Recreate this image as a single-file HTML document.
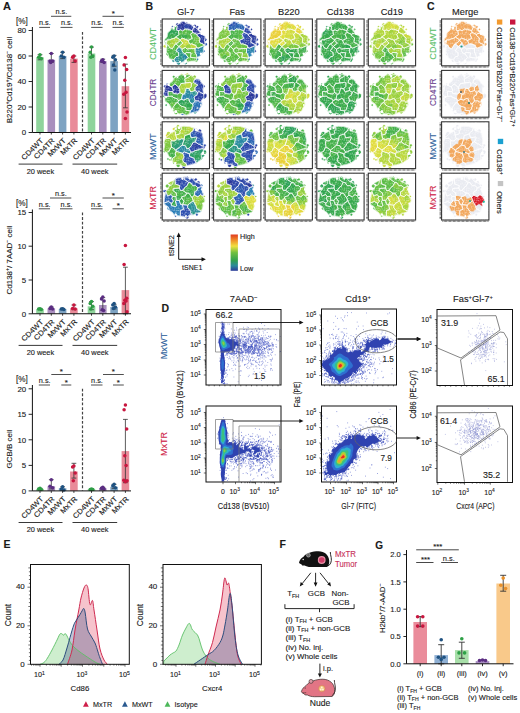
<!DOCTYPE html>
<html><head><meta charset="utf-8"><style>
html,body{margin:0;padding:0;background:#fff;width:520px;height:713px;overflow:hidden}
svg{display:block;font-family:"Liberation Sans",sans-serif;fill:#1a1a1a}
text{stroke-width:0.12px}
</style></head><body>
<svg width="520" height="713" viewBox="0 0 520 713">
<text x="2.9" y="9.7" font-size="11" font-weight="bold" stroke="#1a1a1a">A</text>
<rect x="36.2" y="57.3" width="7.6" height="75.2" fill="#8fd49c"/>
<rect x="47.5" y="59.8" width="7.6" height="72.7" fill="#a98fbe"/>
<rect x="58.8" y="56.0" width="7.6" height="76.5" fill="#7ea3c2"/>
<rect x="70.1" y="58.6" width="7.6" height="73.9" fill="#e98b99"/>
<rect x="87.7" y="53.5" width="7.6" height="79.0" fill="#8fd49c"/>
<rect x="99.0" y="61.1" width="7.6" height="71.4" fill="#a98fbe"/>
<rect x="110.3" y="61.1" width="7.6" height="71.4" fill="#7ea3c2"/>
<rect x="121.6" y="86.2" width="7.6" height="46.3" fill="#e98b99"/>
<path d="M40.0 59.8V54.7M37.6 54.7h4.8M37.6 59.8h4.8" stroke="#333" stroke-width="0.8" fill="none"/>
<circle cx="40.0" cy="54.7" r="1.75" fill="#2e9e46"/>
<circle cx="38.7" cy="57.3" r="1.75" fill="#2e9e46"/>
<circle cx="41.3" cy="58.6" r="1.75" fill="#2e9e46"/>
<path d="M51.3 62.4V53.5M48.9 53.5h4.8M48.9 62.4h4.8" stroke="#333" stroke-width="0.8" fill="none"/>
<circle cx="51.3" cy="53.5" r="1.75" fill="#5b2d82"/>
<circle cx="50.0" cy="61.1" r="1.75" fill="#5b2d82"/>
<circle cx="52.6" cy="61.1" r="1.75" fill="#5b2d82"/>
<circle cx="50.7" cy="62.4" r="1.75" fill="#5b2d82"/>
<path d="M62.6 58.6V52.2M60.2 52.2h4.8M60.2 58.6h4.8" stroke="#333" stroke-width="0.8" fill="none"/>
<circle cx="62.6" cy="52.2" r="1.75" fill="#1f5281"/>
<circle cx="61.3" cy="56.0" r="1.75" fill="#1f5281"/>
<circle cx="63.9" cy="57.3" r="1.75" fill="#1f5281"/>
<path d="M73.9 62.4V56.0M71.5 56.0h4.8M71.5 62.4h4.8" stroke="#333" stroke-width="0.8" fill="none"/>
<circle cx="73.9" cy="56.0" r="1.75" fill="#c8163f"/>
<circle cx="72.6" cy="57.3" r="1.75" fill="#c8163f"/>
<circle cx="75.2" cy="61.1" r="1.75" fill="#c8163f"/>
<path d="M91.5 57.3V47.1M89.1 47.1h4.8M89.1 57.3h4.8" stroke="#333" stroke-width="0.8" fill="none"/>
<circle cx="91.5" cy="47.1" r="1.75" fill="#2e9e46"/>
<circle cx="90.2" cy="52.2" r="1.75" fill="#2e9e46"/>
<circle cx="92.8" cy="56.0" r="1.75" fill="#2e9e46"/>
<circle cx="90.9" cy="57.3" r="1.75" fill="#2e9e46"/>
<path d="M102.8 62.4V59.2M100.4 59.2h4.8M100.4 62.4h4.8" stroke="#333" stroke-width="0.8" fill="none"/>
<circle cx="102.8" cy="59.8" r="1.75" fill="#5b2d82"/>
<circle cx="101.5" cy="61.1" r="1.75" fill="#5b2d82"/>
<circle cx="104.1" cy="62.4" r="1.75" fill="#5b2d82"/>
<circle cx="102.2" cy="61.1" r="1.75" fill="#5b2d82"/>
<path d="M114.1 66.2V55.4M111.7 55.4h4.8M111.7 66.2h4.8" stroke="#333" stroke-width="0.8" fill="none"/>
<circle cx="114.1" cy="56.0" r="1.75" fill="#1f5281"/>
<circle cx="112.8" cy="57.3" r="1.75" fill="#1f5281"/>
<circle cx="115.4" cy="59.8" r="1.75" fill="#1f5281"/>
<circle cx="113.5" cy="64.9" r="1.75" fill="#1f5281"/>
<circle cx="114.8" cy="70.0" r="1.75" fill="#1f5281"/>
<path d="M125.4 107.8V64.2M123.0 64.2h4.8M123.0 107.8h4.8" stroke="#333" stroke-width="0.8" fill="none"/>
<circle cx="125.4" cy="57.4" r="1.75" fill="#c8163f"/>
<circle cx="124.1" cy="64.9" r="1.75" fill="#c8163f"/>
<circle cx="126.7" cy="69.5" r="1.75" fill="#c8163f"/>
<circle cx="124.8" cy="80.2" r="1.75" fill="#c8163f"/>
<circle cx="126.1" cy="92.2" r="1.75" fill="#c8163f"/>
<circle cx="123.8" cy="94.2" r="1.75" fill="#c8163f"/>
<circle cx="127.0" cy="112.1" r="1.75" fill="#c8163f"/>
<circle cx="125.4" cy="118.5" r="1.75" fill="#c8163f"/>
<path d="M32.4 27V132.5H131" stroke="#111" stroke-width="1" fill="none"/>
<path d="M28.6 132.5h3.8" stroke="#111" stroke-width="0.9"/>
<text x="26.2" y="135.3" font-size="7.9" text-anchor="end" stroke="#1a1a1a">0</text>
<path d="M28.6 107.0h3.8" stroke="#111" stroke-width="0.9"/>
<text x="26.2" y="109.8" font-size="7.9" text-anchor="end" stroke="#1a1a1a">20</text>
<path d="M28.6 81.5h3.8" stroke="#111" stroke-width="0.9"/>
<text x="26.2" y="84.3" font-size="7.9" text-anchor="end" stroke="#1a1a1a">40</text>
<path d="M28.6 56.0h3.8" stroke="#111" stroke-width="0.9"/>
<text x="26.2" y="58.8" font-size="7.9" text-anchor="end" stroke="#1a1a1a">60</text>
<path d="M28.6 30.5h3.8" stroke="#111" stroke-width="0.9"/>
<text x="26.2" y="33.3" font-size="7.9" text-anchor="end" stroke="#1a1a1a">80</text>
<path d="M40 132.5v2" stroke="#111" stroke-width="0.8"/>
<path d="M51.3 132.5v2" stroke="#111" stroke-width="0.8"/>
<path d="M62.6 132.5v2" stroke="#111" stroke-width="0.8"/>
<path d="M73.9 132.5v2" stroke="#111" stroke-width="0.8"/>
<path d="M91.5 132.5v2" stroke="#111" stroke-width="0.8"/>
<path d="M102.8 132.5v2" stroke="#111" stroke-width="0.8"/>
<path d="M114.1 132.5v2" stroke="#111" stroke-width="0.8"/>
<path d="M125.4 132.5v2" stroke="#111" stroke-width="0.8"/>
<path d="M82.5 32V132.5" stroke="#444" stroke-width="1.2" stroke-dasharray="2.8 1.8"/>
<text x="15.9" y="24.1" font-size="8.2" stroke="#1a1a1a">[%]</text>
<text transform="translate(43.8 141.1) rotate(-45)" font-size="7.4" text-anchor="end" textLength="27.5" lengthAdjust="spacingAndGlyphs" stroke="#1a1a1a">CD4WT</text>
<text transform="translate(55.1 141.1) rotate(-45)" font-size="7.4" text-anchor="end" textLength="26" lengthAdjust="spacingAndGlyphs" stroke="#1a1a1a">CD4TR</text>
<text transform="translate(66.4 141.1) rotate(-45)" font-size="7.4" text-anchor="end" textLength="22.5" lengthAdjust="spacingAndGlyphs" stroke="#1a1a1a">MxWT</text>
<text transform="translate(77.7 141.1) rotate(-45)" font-size="7.4" text-anchor="end" textLength="20.5" lengthAdjust="spacingAndGlyphs" stroke="#1a1a1a">MxTR</text>
<text transform="translate(95.3 141.1) rotate(-45)" font-size="7.4" text-anchor="end" textLength="27.5" lengthAdjust="spacingAndGlyphs" stroke="#1a1a1a">CD4WT</text>
<text transform="translate(106.6 141.1) rotate(-45)" font-size="7.4" text-anchor="end" textLength="26" lengthAdjust="spacingAndGlyphs" stroke="#1a1a1a">CD4TR</text>
<text transform="translate(117.9 141.1) rotate(-45)" font-size="7.4" text-anchor="end" textLength="22.5" lengthAdjust="spacingAndGlyphs" stroke="#1a1a1a">MxWT</text>
<text transform="translate(129.2 141.1) rotate(-45)" font-size="7.4" text-anchor="end" textLength="20.5" lengthAdjust="spacingAndGlyphs" stroke="#1a1a1a">MxTR</text>
<path d="M18.6 164.1H62.5M72.5 164.1H117.2" stroke="#222" stroke-width="0.9"/>
<text x="40.4" y="173.6" font-size="7.4" text-anchor="middle" stroke="#1a1a1a">20 week</text>
<text x="94.8" y="173.6" font-size="7.4" text-anchor="middle" stroke="#1a1a1a">40 week</text>
<path d="M51 16.3H71.3" stroke="#222" stroke-width="0.8"/>
<text x="61.4" y="14.1" font-size="7.3" text-anchor="middle" stroke="#1a1a1a">n.s.</text>
<path d="M39.2 27.4H50" stroke="#222" stroke-width="0.8"/>
<text x="44.9" y="25.2" font-size="7.3" text-anchor="middle" stroke="#1a1a1a">n.s.</text>
<path d="M60.5 27.4H72.5" stroke="#222" stroke-width="0.8"/>
<text x="66.8" y="25.2" font-size="7.3" text-anchor="middle" stroke="#1a1a1a">n.s.</text>
<path d="M102.5 16.3H123.8" stroke="#222" stroke-width="0.8"/>
<text x="113.2" y="15.9" font-size="8" text-anchor="middle" stroke="#1a1a1a">*</text>
<path d="M91.2 27.4H102.5" stroke="#222" stroke-width="0.8"/>
<text x="97.1" y="25.2" font-size="7.3" text-anchor="middle" stroke="#1a1a1a">n.s.</text>
<path d="M112.5 27.4H123.8" stroke="#222" stroke-width="0.8"/>
<text x="118.5" y="25.2" font-size="7.3" text-anchor="middle" stroke="#1a1a1a">n.s.</text>
<text transform="translate(11.6 80) rotate(-90)" font-size="8" text-anchor="middle" stroke="#1a1a1a">B220<tspan dy="-2.4" font-size="5">+</tspan><tspan dy="2.4">Cd19</tspan><tspan dy="-2.4" font-size="5">+</tspan><tspan dy="2.4">/Cd138</tspan><tspan dy="-2.4" font-size="5">−</tspan><tspan dy="2.4"> cell</tspan></text>
<rect x="36.2" y="309.0" width="7.6" height="4.7" fill="#8fd49c"/>
<rect x="47.5" y="308.4" width="7.6" height="5.4" fill="#a98fbe"/>
<rect x="58.8" y="309.0" width="7.6" height="4.7" fill="#7ea3c2"/>
<rect x="70.1" y="308.4" width="7.6" height="5.4" fill="#e98b99"/>
<rect x="87.7" y="306.3" width="7.6" height="7.4" fill="#8fd49c"/>
<rect x="99.0" y="305.0" width="7.6" height="8.8" fill="#a98fbe"/>
<rect x="110.3" y="307.0" width="7.6" height="6.8" fill="#7ea3c2"/>
<rect x="121.6" y="290.1" width="7.6" height="23.6" fill="#e98b99"/>
<path d="M40.0 309.7V308.4M37.6 308.4h4.8M37.6 309.7h4.8" stroke="#333" stroke-width="0.8" fill="none"/>
<circle cx="40.0" cy="308.7" r="1.75" fill="#2e9e46"/>
<circle cx="38.7" cy="309.0" r="1.75" fill="#2e9e46"/>
<circle cx="41.3" cy="309.4" r="1.75" fill="#2e9e46"/>
<path d="M51.3 309.0V307.0M48.9 307.0h4.8M48.9 309.0h4.8" stroke="#333" stroke-width="0.8" fill="none"/>
<circle cx="51.3" cy="307.0" r="1.75" fill="#5b2d82"/>
<circle cx="50.0" cy="308.4" r="1.75" fill="#5b2d82"/>
<circle cx="52.6" cy="309.0" r="1.75" fill="#5b2d82"/>
<path d="M62.6 309.7V308.4M60.2 308.4h4.8M60.2 309.7h4.8" stroke="#333" stroke-width="0.8" fill="none"/>
<circle cx="62.6" cy="308.7" r="1.75" fill="#1f5281"/>
<circle cx="61.3" cy="309.0" r="1.75" fill="#1f5281"/>
<circle cx="63.9" cy="309.4" r="1.75" fill="#1f5281"/>
<path d="M73.9 309.7V305.0M71.5 305.0h4.8M71.5 309.7h4.8" stroke="#333" stroke-width="0.8" fill="none"/>
<circle cx="73.9" cy="305.0" r="1.75" fill="#c8163f"/>
<circle cx="72.6" cy="308.4" r="1.75" fill="#c8163f"/>
<circle cx="75.2" cy="309.0" r="1.75" fill="#c8163f"/>
<path d="M91.5 309.7V301.6M89.1 301.6h4.8M89.1 309.7h4.8" stroke="#333" stroke-width="0.8" fill="none"/>
<circle cx="91.5" cy="301.6" r="1.75" fill="#2e9e46"/>
<circle cx="90.2" cy="303.6" r="1.75" fill="#2e9e46"/>
<circle cx="92.8" cy="306.3" r="1.75" fill="#2e9e46"/>
<circle cx="90.9" cy="309.0" r="1.75" fill="#2e9e46"/>
<path d="M102.8 310.4V297.6M100.4 297.6h4.8M100.4 310.4h4.8" stroke="#333" stroke-width="0.8" fill="none"/>
<circle cx="102.8" cy="296.9" r="1.75" fill="#5b2d82"/>
<circle cx="101.5" cy="298.9" r="1.75" fill="#5b2d82"/>
<circle cx="104.1" cy="300.9" r="1.75" fill="#5b2d82"/>
<circle cx="102.2" cy="309.7" r="1.75" fill="#5b2d82"/>
<circle cx="103.5" cy="310.4" r="1.75" fill="#5b2d82"/>
<path d="M114.1 309.0V304.3M111.7 304.3h4.8M111.7 309.0h4.8" stroke="#333" stroke-width="0.8" fill="none"/>
<circle cx="114.1" cy="303.6" r="1.75" fill="#1f5281"/>
<circle cx="112.8" cy="305.0" r="1.75" fill="#1f5281"/>
<circle cx="115.4" cy="307.0" r="1.75" fill="#1f5281"/>
<circle cx="113.5" cy="308.4" r="1.75" fill="#1f5281"/>
<path d="M125.4 313.8V267.2M123.0 267.2h4.8M123.0 313.8h4.8" stroke="#333" stroke-width="0.8" fill="none"/>
<circle cx="125.4" cy="245.6" r="1.75" fill="#c8163f"/>
<circle cx="124.1" cy="264.5" r="1.75" fill="#c8163f"/>
<circle cx="126.7" cy="298.2" r="1.75" fill="#c8163f"/>
<circle cx="124.8" cy="300.2" r="1.75" fill="#c8163f"/>
<circle cx="126.1" cy="300.9" r="1.75" fill="#c8163f"/>
<circle cx="123.8" cy="303.6" r="1.75" fill="#c8163f"/>
<circle cx="127.0" cy="311.7" r="1.75" fill="#c8163f"/>
<path d="M32.4 209.5V313.75H131" stroke="#111" stroke-width="1" fill="none"/>
<path d="M28.6 313.8h3.8" stroke="#111" stroke-width="0.9"/>
<text x="26.2" y="316.6" font-size="7.9" text-anchor="end" stroke="#1a1a1a">0</text>
<path d="M28.6 280.0h3.8" stroke="#111" stroke-width="0.9"/>
<text x="26.2" y="282.8" font-size="7.9" text-anchor="end" stroke="#1a1a1a">5</text>
<path d="M28.6 246.2h3.8" stroke="#111" stroke-width="0.9"/>
<text x="26.2" y="249.1" font-size="7.9" text-anchor="end" stroke="#1a1a1a">10</text>
<path d="M28.6 212.5h3.8" stroke="#111" stroke-width="0.9"/>
<text x="26.2" y="215.3" font-size="7.9" text-anchor="end" stroke="#1a1a1a">15</text>
<path d="M40 313.75v2" stroke="#111" stroke-width="0.8"/>
<path d="M51.3 313.75v2" stroke="#111" stroke-width="0.8"/>
<path d="M62.6 313.75v2" stroke="#111" stroke-width="0.8"/>
<path d="M73.9 313.75v2" stroke="#111" stroke-width="0.8"/>
<path d="M91.5 313.75v2" stroke="#111" stroke-width="0.8"/>
<path d="M102.8 313.75v2" stroke="#111" stroke-width="0.8"/>
<path d="M114.1 313.75v2" stroke="#111" stroke-width="0.8"/>
<path d="M125.4 313.75v2" stroke="#111" stroke-width="0.8"/>
<path d="M82.5 212.5V313.75" stroke="#444" stroke-width="1.2" stroke-dasharray="2.8 1.8"/>
<text x="15.9" y="206.1" font-size="8.2" stroke="#1a1a1a">[%]</text>
<text transform="translate(43.8 322.4) rotate(-45)" font-size="7.4" text-anchor="end" textLength="27.5" lengthAdjust="spacingAndGlyphs" stroke="#1a1a1a">CD4WT</text>
<text transform="translate(55.1 322.4) rotate(-45)" font-size="7.4" text-anchor="end" textLength="26" lengthAdjust="spacingAndGlyphs" stroke="#1a1a1a">CD4TR</text>
<text transform="translate(66.4 322.4) rotate(-45)" font-size="7.4" text-anchor="end" textLength="22.5" lengthAdjust="spacingAndGlyphs" stroke="#1a1a1a">MxWT</text>
<text transform="translate(77.7 322.4) rotate(-45)" font-size="7.4" text-anchor="end" textLength="20.5" lengthAdjust="spacingAndGlyphs" stroke="#1a1a1a">MxTR</text>
<text transform="translate(95.3 322.4) rotate(-45)" font-size="7.4" text-anchor="end" textLength="27.5" lengthAdjust="spacingAndGlyphs" stroke="#1a1a1a">CD4WT</text>
<text transform="translate(106.6 322.4) rotate(-45)" font-size="7.4" text-anchor="end" textLength="26" lengthAdjust="spacingAndGlyphs" stroke="#1a1a1a">CD4TR</text>
<text transform="translate(117.9 322.4) rotate(-45)" font-size="7.4" text-anchor="end" textLength="22.5" lengthAdjust="spacingAndGlyphs" stroke="#1a1a1a">MxWT</text>
<text transform="translate(129.2 322.4) rotate(-45)" font-size="7.4" text-anchor="end" textLength="20.5" lengthAdjust="spacingAndGlyphs" stroke="#1a1a1a">MxTR</text>
<path d="M18.6 345.4H62.5M72.5 345.4H117.2" stroke="#222" stroke-width="0.9"/>
<text x="40.4" y="354.9" font-size="7.4" text-anchor="middle" stroke="#1a1a1a">20 week</text>
<text x="94.8" y="354.9" font-size="7.4" text-anchor="middle" stroke="#1a1a1a">40 week</text>
<path d="M50 198H71.3" stroke="#222" stroke-width="0.8"/>
<text x="60.9" y="195.8" font-size="7.3" text-anchor="middle" stroke="#1a1a1a">n.s.</text>
<path d="M38.8 208.8H50" stroke="#222" stroke-width="0.8"/>
<text x="44.7" y="206.6" font-size="7.3" text-anchor="middle" stroke="#1a1a1a">n.s.</text>
<path d="M60 208.8H72.5" stroke="#222" stroke-width="0.8"/>
<text x="66.5" y="206.6" font-size="7.3" text-anchor="middle" stroke="#1a1a1a">n.s.</text>
<path d="M102.5 198H123.8" stroke="#222" stroke-width="0.8"/>
<text x="113.2" y="197.6" font-size="8" text-anchor="middle" stroke="#1a1a1a">*</text>
<path d="M91 208.8H102.5" stroke="#222" stroke-width="0.8"/>
<text x="97.0" y="206.6" font-size="7.3" text-anchor="middle" stroke="#1a1a1a">n.s.</text>
<path d="M112.5 208.8H123.8" stroke="#222" stroke-width="0.8"/>
<text x="118.2" y="208.4" font-size="8" text-anchor="middle" stroke="#1a1a1a">*</text>
<text transform="translate(11.6 260) rotate(-90)" font-size="8" text-anchor="middle" stroke="#1a1a1a">Cd138<tspan dy="-2.4" font-size="5">+</tspan><tspan dy="2.4">/ 7AAD</tspan><tspan dy="-2.4" font-size="5">−</tspan><tspan dy="2.4"> cell</tspan></text>
<rect x="36.2" y="488.9" width="7.6" height="2.0" fill="#8fd49c"/>
<rect x="47.5" y="486.3" width="7.6" height="4.6" fill="#a98fbe"/>
<rect x="58.8" y="488.3" width="7.6" height="2.6" fill="#7ea3c2"/>
<rect x="70.1" y="471.5" width="7.6" height="19.4" fill="#e98b99"/>
<rect x="87.7" y="489.4" width="7.6" height="1.5" fill="#8fd49c"/>
<rect x="99.0" y="488.3" width="7.6" height="2.6" fill="#a98fbe"/>
<rect x="110.3" y="486.8" width="7.6" height="4.1" fill="#7ea3c2"/>
<rect x="121.6" y="451.1" width="7.6" height="39.8" fill="#e98b99"/>
<path d="M40.0 489.4V488.3M37.6 488.3h4.8M37.6 489.4h4.8" stroke="#333" stroke-width="0.8" fill="none"/>
<circle cx="40.0" cy="488.3" r="1.75" fill="#2e9e46"/>
<circle cx="38.7" cy="488.9" r="1.75" fill="#2e9e46"/>
<circle cx="41.3" cy="489.4" r="1.75" fill="#2e9e46"/>
<path d="M51.3 488.9V479.7M48.9 479.7h4.8M48.9 488.9h4.8" stroke="#333" stroke-width="0.8" fill="none"/>
<circle cx="51.3" cy="479.7" r="1.75" fill="#5b2d82"/>
<circle cx="50.0" cy="486.3" r="1.75" fill="#5b2d82"/>
<circle cx="52.6" cy="487.8" r="1.75" fill="#5b2d82"/>
<path d="M62.6 489.9V486.8M60.2 486.8h4.8M60.2 489.9h4.8" stroke="#333" stroke-width="0.8" fill="none"/>
<circle cx="62.6" cy="486.8" r="1.75" fill="#1f5281"/>
<circle cx="61.3" cy="488.9" r="1.75" fill="#1f5281"/>
<circle cx="63.9" cy="489.9" r="1.75" fill="#1f5281"/>
<path d="M73.9 478.1V463.3M71.5 463.3h4.8M71.5 478.1h4.8" stroke="#333" stroke-width="0.8" fill="none"/>
<circle cx="73.9" cy="465.9" r="1.75" fill="#c8163f"/>
<circle cx="72.6" cy="466.9" r="1.75" fill="#c8163f"/>
<circle cx="75.2" cy="473.0" r="1.75" fill="#c8163f"/>
<circle cx="73.3" cy="480.7" r="1.75" fill="#c8163f"/>
<path d="M91.5 489.9V488.9M89.1 488.9h4.8M89.1 489.9h4.8" stroke="#333" stroke-width="0.8" fill="none"/>
<circle cx="91.5" cy="489.1" r="1.75" fill="#2e9e46"/>
<circle cx="90.2" cy="489.4" r="1.75" fill="#2e9e46"/>
<circle cx="92.8" cy="489.6" r="1.75" fill="#2e9e46"/>
<path d="M102.8 489.4V487.3M100.4 487.3h4.8M100.4 489.4h4.8" stroke="#333" stroke-width="0.8" fill="none"/>
<circle cx="102.8" cy="487.3" r="1.75" fill="#5b2d82"/>
<circle cx="101.5" cy="488.3" r="1.75" fill="#5b2d82"/>
<circle cx="104.1" cy="488.9" r="1.75" fill="#5b2d82"/>
<path d="M114.1 488.3V484.3M111.7 484.3h4.8M111.7 488.3h4.8" stroke="#333" stroke-width="0.8" fill="none"/>
<circle cx="114.1" cy="484.3" r="1.75" fill="#1f5281"/>
<circle cx="112.8" cy="485.8" r="1.75" fill="#1f5281"/>
<circle cx="115.4" cy="487.8" r="1.75" fill="#1f5281"/>
<path d="M125.4 482.7V419.4M123.0 419.4h4.8M123.0 482.7h4.8" stroke="#333" stroke-width="0.8" fill="none"/>
<circle cx="125.4" cy="405.1" r="1.75" fill="#c8163f"/>
<circle cx="124.1" cy="409.7" r="1.75" fill="#c8163f"/>
<circle cx="126.7" cy="429.1" r="1.75" fill="#c8163f"/>
<circle cx="124.8" cy="455.7" r="1.75" fill="#c8163f"/>
<circle cx="126.1" cy="465.4" r="1.75" fill="#c8163f"/>
<circle cx="123.8" cy="480.2" r="1.75" fill="#c8163f"/>
<circle cx="127.0" cy="480.7" r="1.75" fill="#c8163f"/>
<circle cx="125.4" cy="481.7" r="1.75" fill="#c8163f"/>
<path d="M32.4 385V490.9H131" stroke="#111" stroke-width="1" fill="none"/>
<path d="M28.6 490.9h3.8" stroke="#111" stroke-width="0.9"/>
<text x="26.2" y="493.7" font-size="7.9" text-anchor="end" stroke="#1a1a1a">0</text>
<path d="M28.6 465.4h3.8" stroke="#111" stroke-width="0.9"/>
<text x="26.2" y="468.2" font-size="7.9" text-anchor="end" stroke="#1a1a1a">5</text>
<path d="M28.6 439.8h3.8" stroke="#111" stroke-width="0.9"/>
<text x="26.2" y="442.6" font-size="7.9" text-anchor="end" stroke="#1a1a1a">10</text>
<path d="M28.6 414.3h3.8" stroke="#111" stroke-width="0.9"/>
<text x="26.2" y="417.1" font-size="7.9" text-anchor="end" stroke="#1a1a1a">15</text>
<path d="M28.6 388.8h3.8" stroke="#111" stroke-width="0.9"/>
<text x="26.2" y="391.6" font-size="7.9" text-anchor="end" stroke="#1a1a1a">20</text>
<path d="M40 490.9v2" stroke="#111" stroke-width="0.8"/>
<path d="M51.3 490.9v2" stroke="#111" stroke-width="0.8"/>
<path d="M62.6 490.9v2" stroke="#111" stroke-width="0.8"/>
<path d="M73.9 490.9v2" stroke="#111" stroke-width="0.8"/>
<path d="M91.5 490.9v2" stroke="#111" stroke-width="0.8"/>
<path d="M102.8 490.9v2" stroke="#111" stroke-width="0.8"/>
<path d="M114.1 490.9v2" stroke="#111" stroke-width="0.8"/>
<path d="M125.4 490.9v2" stroke="#111" stroke-width="0.8"/>
<path d="M82.5 388.75V490.9" stroke="#444" stroke-width="1.2" stroke-dasharray="2.8 1.8"/>
<text x="15.9" y="382.4" font-size="8.2" stroke="#1a1a1a">[%]</text>
<text transform="translate(43.8 499.5) rotate(-45)" font-size="7.4" text-anchor="end" textLength="27.5" lengthAdjust="spacingAndGlyphs" stroke="#1a1a1a">CD4WT</text>
<text transform="translate(55.1 499.5) rotate(-45)" font-size="7.4" text-anchor="end" textLength="26" lengthAdjust="spacingAndGlyphs" stroke="#1a1a1a">CD4TR</text>
<text transform="translate(66.4 499.5) rotate(-45)" font-size="7.4" text-anchor="end" textLength="22.5" lengthAdjust="spacingAndGlyphs" stroke="#1a1a1a">MxWT</text>
<text transform="translate(77.7 499.5) rotate(-45)" font-size="7.4" text-anchor="end" textLength="20.5" lengthAdjust="spacingAndGlyphs" stroke="#1a1a1a">MxTR</text>
<text transform="translate(95.3 499.5) rotate(-45)" font-size="7.4" text-anchor="end" textLength="27.5" lengthAdjust="spacingAndGlyphs" stroke="#1a1a1a">CD4WT</text>
<text transform="translate(106.6 499.5) rotate(-45)" font-size="7.4" text-anchor="end" textLength="26" lengthAdjust="spacingAndGlyphs" stroke="#1a1a1a">CD4TR</text>
<text transform="translate(117.9 499.5) rotate(-45)" font-size="7.4" text-anchor="end" textLength="22.5" lengthAdjust="spacingAndGlyphs" stroke="#1a1a1a">MxWT</text>
<text transform="translate(129.2 499.5) rotate(-45)" font-size="7.4" text-anchor="end" textLength="20.5" lengthAdjust="spacingAndGlyphs" stroke="#1a1a1a">MxTR</text>
<path d="M18.6 522.5H62.5M72.5 522.5H117.2" stroke="#222" stroke-width="0.9"/>
<text x="40.4" y="532.0" font-size="7.4" text-anchor="middle" stroke="#1a1a1a">20 week</text>
<text x="94.8" y="532.0" font-size="7.4" text-anchor="middle" stroke="#1a1a1a">40 week</text>
<path d="M51.3 374.5H71.3" stroke="#222" stroke-width="0.8"/>
<text x="61.3" y="374.1" font-size="8" text-anchor="middle" stroke="#1a1a1a">*</text>
<path d="M38.8 385H50" stroke="#222" stroke-width="0.8"/>
<text x="44.7" y="382.8" font-size="7.3" text-anchor="middle" stroke="#1a1a1a">n.s.</text>
<path d="M61.3 385H71.3" stroke="#222" stroke-width="0.8"/>
<text x="66.3" y="384.6" font-size="8" text-anchor="middle" stroke="#1a1a1a">*</text>
<path d="M103 374.5H123.8" stroke="#222" stroke-width="0.8"/>
<text x="113.4" y="374.1" font-size="8" text-anchor="middle" stroke="#1a1a1a">*</text>
<path d="M91 385H102.5" stroke="#222" stroke-width="0.8"/>
<text x="97.0" y="382.8" font-size="7.3" text-anchor="middle" stroke="#1a1a1a">n.s.</text>
<path d="M113 385H123.8" stroke="#222" stroke-width="0.8"/>
<text x="118.4" y="384.6" font-size="8" text-anchor="middle" stroke="#1a1a1a">*</text>
<text transform="translate(11.6 449) rotate(-90)" font-size="8" text-anchor="middle" stroke="#1a1a1a">GCB/B cell</text>
<text x="145.6" y="10.3" font-size="10.5" font-weight="bold" stroke="#1a1a1a">B</text>
<text x="427" y="10.3" font-size="10.5" font-weight="bold" stroke="#1a1a1a">C</text>
<text x="185.8" y="15.3" font-size="9.3" text-anchor="middle" stroke="#1a1a1a">Gl-7</text>
<text x="237.2" y="15.3" font-size="9.3" text-anchor="middle" stroke="#1a1a1a">Fas</text>
<text x="288.8" y="15.3" font-size="9.3" text-anchor="middle" stroke="#1a1a1a">B220</text>
<text x="340.4" y="15.3" font-size="9.3" text-anchor="middle" stroke="#1a1a1a">Cd138</text>
<text x="391.9" y="15.3" font-size="9.3" text-anchor="middle" stroke="#1a1a1a">Cd19</text>
<text x="465.2" y="15.3" font-size="9.3" text-anchor="middle" stroke="#1a1a1a">Merge</text>
<text transform="translate(156 43.9) rotate(-90)" font-size="9" fill="#5cbf6a" text-anchor="middle" textLength="32.3" lengthAdjust="spacingAndGlyphs" stroke="#5cbf6a">CD4WT</text>
<text transform="translate(436 43.5) rotate(-90)" font-size="9" fill="#5cbf6a" text-anchor="middle" textLength="32.3" lengthAdjust="spacingAndGlyphs" stroke="#5cbf6a">CD4WT</text>
<text transform="translate(156 92.6) rotate(-90)" font-size="9" fill="#6a3d8e" text-anchor="middle" textLength="27.4" lengthAdjust="spacingAndGlyphs" stroke="#6a3d8e">CD4TR</text>
<text transform="translate(436 92.2) rotate(-90)" font-size="9" fill="#6a3d8e" text-anchor="middle" textLength="27.4" lengthAdjust="spacingAndGlyphs" stroke="#6a3d8e">CD4TR</text>
<text transform="translate(156 146.7) rotate(-90)" font-size="9" fill="#2f629c" text-anchor="middle" textLength="26.7" lengthAdjust="spacingAndGlyphs" stroke="#2f629c">MxWT</text>
<text transform="translate(436 146.3) rotate(-90)" font-size="9" fill="#2f629c" text-anchor="middle" textLength="26.7" lengthAdjust="spacingAndGlyphs" stroke="#2f629c">MxWT</text>
<text transform="translate(156 197.9) rotate(-90)" font-size="9" fill="#cf1f4a" text-anchor="middle" textLength="23.9" lengthAdjust="spacingAndGlyphs" stroke="#cf1f4a">MxTR</text>
<text transform="translate(436 197.5) rotate(-90)" font-size="9" fill="#cf1f4a" text-anchor="middle" textLength="23.9" lengthAdjust="spacingAndGlyphs" stroke="#cf1f4a">MxTR</text>
<defs><pattern id="spk" width="10" height="10" patternUnits="userSpaceOnUse"><path d="M8.1 8.1h.01M5.2 2.9h.01M0.5 3.8h.01M4.1 0.5h.01M0.5 10.0h.01M6.5 2.3h.01M4.3 9.7h.01M9.0 8.4h.01M3.9 4.9h.01M6.8 0.6h.01M5.6 2.7h.01M8.8 0.6h.01M6.8 8.7h.01M2.3 9.0h.01M8.7 0.2h.01M7.1 0.0h.01M5.0 4.4h.01M2.0 3.2h.01M8.1 3.2h.01M1.5 7.0h.01M4.5 8.0h.01M2.4 3.2h.01" stroke="#fff" stroke-width="0.8" stroke-linecap="round" opacity="0.55"/></pattern></defs>
<defs><path id="r0f0" d="M7.5 -4.8 5.9 -8.9 2.5 -8.1 2.0 -3.7 3.3 -2.8Z"/><path id="r0f1" d="M2.5 5.9 0.5 4.1 -2.7 6.1 -2.7 7.7 -0.6 10.4 0.6 10.4 2.0 9.2Z"/><path id="r0f2" d="M-8.2 -17.7 -9.7 -16.8 -11.7 -16.1 -12.6 -15.5 -13.3 -14.7 -13.4 -14.4 -11.6 -12.2 -8.1 -13.3 -7.5 -16.9Z"/><path id="r0f3" d="M10.4 5.4 10.4 9.8 11.5 10.7 14.8 8.0 13.5 4.9 11.7 4.2Z"/><path id="r0f4" d="M-0.6 10.4 -2.4 13.2 -1.9 15.0 1.4 16.5 3.5 14.2 0.6 10.4Z"/><path id="r0f5" d="M-13.6 -0.3 -16.2 2.0 -15.2 4.4 -12.5 5.7 -9.3 0.7Z"/><path id="r0f6" d="M-3.2 -8.1 -2.7 -5.2 1.6 -3.6 2.0 -3.7 2.5 -8.1 1.9 -8.6 -1.6 -9.3Z"/><path id="r0f7" d="M1.9 -8.6 2.5 -8.1 5.9 -8.9 7.9 -10.9 7.6 -12.4 3.0 -14.1 2.4 -13.8Z"/><path id="r0f8" d="M-17.5 -3.4 -18.4 1.3 -16.2 2.0 -13.6 -0.3 -14.2 -3.4Z"/><path id="r0f9" d="M15.3 -5.2 14.7 -0.9 20.0 1.8 20.2 1.1 20.2 0.0 19.7 -2.1 20.4 -5.5 20.3 -6.0Z"/><path id="r0f10" d="M-15.2 4.4 -18.2 7.7 -17.9 9.1 -17.2 10.4 -11.3 8.1 -12.5 5.7Z"/><path id="r0f11" d="M-9.6 -5.2 -8.9 -6.5 -11.8 -10.2 -15.4 -8.2 -13.8 -4.1Z"/><path id="r0f12" d="M-5.1 19.3 -3.0 19.0 0.0 18.0 1.5 18.1 1.4 16.5 -1.9 15.0Z"/><path id="r0f13" d="M12.4 -7.6 12.3 -8.8 7.9 -10.9 5.9 -8.9 7.5 -4.8 9.7 -3.9Z"/><path id="r0f14" d="M5.6 14.1 3.5 14.2 1.4 16.5 1.5 18.1 2.9 18.5 4.0 18.6 6.2 17.9Z"/><path id="r0f15" d="M13.0 -0.5 9.8 -3.5 6.8 0.6 11.4 2.4Z"/><path id="r0f16" d="M15.7 -10.0 14.5 -11.7 13.4 -13.1 12.8 -9.3Z"/><path id="r0f17" d="M-8.1 -13.3 -11.6 -12.2 -11.8 -10.2 -8.9 -6.5 -5.7 -8.4 -6.3 -12.5Z"/><path id="r0f18" d="M-8.6 0.8 -4.4 -2.6 -4.4 -3.1 -8.9 -6.4 -9.6 -5.2 -9.0 0.6Z"/><path id="r0f19" d="M-11.2 8.1 -11.0 10.7 -8.4 13.3 -6.8 13.3 -6.0 12.8 -6.1 9.3 -8.9 7.7Z"/><path id="r0f20" d="M-5.7 -8.4 -3.2 -8.1 -1.6 -9.3 -2.0 -12.3 -4.1 -13.4 -6.3 -12.5Z"/><path id="r0f21" d="M12.5 14.7 12.8 14.2 13.6 13.6 15.5 12.6 16.4 11.9 17.6 10.2 18.3 8.9 14.8 8.0 11.5 10.7Z"/><path id="r0f22" d="M11.5 10.7 10.4 9.8 6.5 9.8 5.6 14.1 12.4 14.9 12.5 14.7Z"/><path id="r0f23" d="M3.8 -17.1 3.0 -14.1 7.6 -12.4 9.2 -16.1 8.4 -16.5 6.4 -18.5Z"/><path id="r0f24" d="M-11.8 -10.2 -11.6 -12.2 -13.4 -14.4 -14.2 -12.8 -14.9 -12.1 -16.6 -10.8 -17.1 -9.9 -17.3 -8.4 -15.4 -8.2Z"/><path id="r0f25" d="M-3.7 -17.4 -4.0 -20.5 -5.2 -19.5 -8.2 -17.7 -7.5 -16.9 -3.9 -17.2Z"/><path id="r0f26" d="M13.5 4.9 14.8 8.0 18.3 8.9 18.8 7.2 18.7 5.0 18.9 4.0 19.9 2.1Z"/><path id="r0f27" d="M-15.2 4.4 -16.2 2.0 -18.4 1.3 -18.9 1.4 -17.9 4.8 -18.2 7.7Z"/><path id="r0f28" d="M-3.7 -17.4 -1.0 -17.0 0.9 -18.9 1.0 -20.5 -0.0 -21.3 -1.1 -21.8 -2.3 -21.7 -3.3 -21.1 -4.0 -20.5Z"/><path id="r0f29" d="M-5.8 3.3 -1.8 -0.1 -4.4 -2.6 -8.6 0.8Z"/><path id="r0f30" d="M-5.9 3.3 -8.6 0.8 -9.0 0.6 -9.3 0.7 -12.5 5.7 -11.3 8.1 -8.9 7.7Z"/><path id="r0f31" d="M14.7 -0.9 15.3 -5.2 12.4 -7.6 9.7 -3.9 9.8 -3.5 13.0 -0.5Z"/><path id="r0f32" d="M0.5 4.1 0.7 2.9 -1.8 -0.1 -5.8 3.3 -2.7 6.1Z"/><path id="r0f33" d="M1.6 -3.6 -2.7 -5.2 -4.4 -3.1 -4.4 -2.6 -1.8 -0.1Z"/><path id="r0f34" d="M3.3 -2.8 2.0 -3.7 1.6 -3.6 -1.8 -0.1 0.7 2.9 4.8 0.5Z"/><path id="r0f35" d="M0.3 -14.3 2.4 -13.8 3.0 -14.1 3.8 -17.1 0.9 -18.9 -1.0 -17.0Z"/><path id="r0f36" d="M-6.1 9.3 -6.0 12.8 -2.4 13.2 -0.6 10.4 -2.7 7.7Z"/><path id="r0f37" d="M-7.5 -16.9 -8.1 -13.3 -6.3 -12.5 -4.1 -13.4 -3.9 -17.2Z"/><path id="r0f38" d="M6.3 9.6 6.2 5.3 2.5 5.9 2.0 9.2Z"/><path id="r0f39" d="M-2.7 6.1 -5.9 3.3 -8.9 7.7 -6.1 9.3 -2.7 7.7Z"/><path id="r0f40" d="M-17.5 -3.4 -14.2 -3.4 -13.8 -4.1 -15.4 -8.2 -17.3 -8.4 -17.4 -6.7 -18.0 -5.8 -19.0 -4.9Z"/><path id="r0f41" d="M9.8 -3.5 9.7 -3.9 7.5 -4.8 3.3 -2.8 4.8 0.5 5.7 1.0 6.8 0.6Z"/><path id="r0f42" d="M6.2 17.9 6.8 17.7 9.1 17.9 10.3 17.8 11.2 17.3 12.4 14.9 5.6 14.1Z"/><path id="r0f43" d="M-11.3 8.1 -17.2 10.4 -16.3 11.9 -15.8 14.2 -14.9 15.3 -11.0 10.7Z"/><path id="r0f44" d="M11.4 2.4 6.8 0.6 5.7 1.0 6.2 5.3 10.4 5.4 11.7 4.2Z"/><path id="r0f45" d="M-5.7 -8.4 -8.9 -6.4 -4.4 -3.1 -2.7 -5.2 -3.2 -8.1Z"/><path id="r0f46" d="M13.5 4.9 19.9 2.1 20.0 1.8 14.7 -0.9 13.0 -0.5 11.4 2.4 11.7 4.2Z"/><path id="r0f47" d="M-6.8 13.3 -8.4 13.3 -10.9 16.5 -8.5 19.0 -7.4 19.4 -5.5 19.4Z"/><path id="r0f48" d="M-4.1 -13.4 -2.0 -12.3 0.3 -14.3 -1.0 -17.0 -3.7 -17.4 -3.9 -17.2Z"/><path id="r0f49" d="M6.5 9.8 10.4 9.8 10.4 5.4 6.2 5.3 6.3 9.6Z"/><path id="r0f50" d="M20.3 -6.0 20.2 -6.6 19.4 -7.4 17.1 -8.7 15.7 -10.0 12.8 -9.3 12.3 -8.8 12.4 -7.6 15.3 -5.2Z"/><path id="r0f51" d="M7.6 -12.4 7.9 -10.9 12.3 -8.8 12.8 -9.3 13.4 -13.1 12.0 -14.8 11.2 -15.4 9.2 -16.1Z"/><path id="r0f52" d="M0.6 10.4 3.5 14.2 5.6 14.1 6.5 9.8 6.3 9.6 2.0 9.2Z"/><path id="r0f53" d="M-18.4 1.3 -17.5 -3.4 -19.0 -4.9 -19.7 -4.2 -20.1 -3.2 -20.1 -2.1 -18.9 1.4Z"/><path id="r0f54" d="M-6.0 12.8 -6.8 13.3 -5.5 19.4 -5.1 19.3 -1.9 15.0 -2.4 13.2Z"/><path id="r0f55" d="M-14.9 15.3 -14.1 15.7 -11.7 16.2 -10.9 16.5 -8.4 13.3 -11.0 10.7Z"/><path id="r0f56" d="M6.2 5.3 5.7 1.0 4.8 0.5 0.7 2.9 0.5 4.1 2.5 5.9Z"/><path id="r0f57" d="M0.9 -18.9 3.8 -17.1 6.4 -18.5 5.1 -19.2 3.1 -19.4 2.1 -19.7 1.0 -20.5Z"/><path id="r0f58" d="M-9.0 0.6 -9.6 -5.2 -13.8 -4.1 -14.2 -3.4 -13.6 -0.3 -9.3 0.7Z"/><path id="r0f59" d="M-1.6 -9.3 1.9 -8.6 2.4 -13.8 0.3 -14.3 -2.0 -12.3Z"/><path id="r0s0" d="M21.7 -4.2 21.2 -4.7 20.7 -4.8 20.2 -2.3 20.6 -2.2 21.2 -2.4 21.7 -2.9 21.9 -3.5Z"/><path id="r0s1" d="M2.2 19.4 1.5 19.1 1.2 19.1 0.8 19.8 0.9 20.1 1.5 20.5 1.9 20.4 2.2 20.1Z"/><path id="r0s2" d="M-4.9 19.8 -7.6 19.8 -7.7 19.9 -7.5 20.6 -7.0 21.1 -6.2 21.3 -5.5 21.1 -5.0 20.6Z"/><path id="r0s3" d="M-6.4 -19.3 -6.8 -19.7 -7.4 -19.9 -7.9 -19.7 -8.4 -19.3 -8.5 -18.7 -8.4 -18.1Z"/><path id="r0s4" d="M13.6 -16.4 13.2 -17.1 12.4 -17.1 12.1 -16.8 12.1 -16.0 12.8 -15.6 13.2 -15.7Z"/><path id="r0s5" d="M22.2 0.4 21.7 0.0 21.2 -0.1 20.7 -0.0 20.7 1.1 20.4 1.9 21.2 2.2 21.7 2.0 22.2 1.6 22.3 1.0Z"/><path id="r0s6" d="M19.8 7.4 19.2 6.9 18.7 9.0 19.4 8.9 19.8 8.5 19.9 7.9Z"/><path id="r0s7" d="M-4.9 20.4 -5.2 19.8 -6.3 19.9 -6.5 20.4 -6.4 20.8 -6.1 21.1 -5.3 21.1Z"/><path id="r0s8" d="M13.2 15.6 12.9 15.0 12.2 16.5 12.7 16.4 13.1 16.0Z"/><path id="r0s9" d="M16.1 -13.8 15.8 -14.4 15.1 -14.4 14.8 -14.1 14.8 -13.4 15.4 -13.0 15.8 -13.1Z"/><path id="r0s10" d="M12.8 -15.8 12.4 -16.2 11.8 -16.3 11.1 -16.0 12.3 -15.2 12.7 -14.7 12.9 -15.3Z"/><path id="r0s11" d="M1.8 19.1 1.3 18.7 0.7 18.5 0.0 18.7 -0.4 19.1 -0.6 19.8 -0.4 20.4 0.0 20.9 0.7 21.0 1.3 20.9 1.8 20.4 1.9 19.8Z"/><path id="r0s12" d="M20.7 -2.8 20.4 -3.5 20.3 -3.1 20.2 -2.0 20.5 -2.3Z"/><path id="r0s13" d="M12.7 16.5 12.3 16.2 11.5 17.6 10.8 18.1 11.6 18.4 12.3 18.3 12.7 17.8 12.9 17.2Z"/><path id="r0s14" d="M13.6 16.0 13.2 15.3 12.7 15.2 12.2 16.5 12.8 16.8 13.2 16.7Z"/><path id="r0s15" d="M2.7 -20.3 2.2 -20.8 1.3 -20.8 2.8 -19.9Z"/><path id="r0s16" d="M-11.5 -16.6 -12.2 -17.2 -12.6 -17.1 -12.9 -16.8 -12.9 -16.0 -12.8 -15.9Z"/><path id="r0s17" d="M11.2 -17.9 10.7 -18.3 10.1 -18.5 9.4 -18.3 9.0 -17.9 8.8 -17.2 8.9 -16.7 10.7 -16.1 11.2 -16.6 11.4 -17.2Z"/><path id="r0s18" d="M-19.3 2.1 -19.9 1.9 -20.5 2.1 -21.0 2.5 -21.2 3.2 -21.0 3.8 -20.5 4.2 -19.9 4.4 -19.3 4.2 -18.8 3.8 -18.7 3.3Z"/><path id="r0s19" d="M-11.8 16.7 -12.2 17.1 -12.3 17.6 -12.2 18.1 -11.8 18.5 -11.3 18.6 -10.8 18.5 -10.3 17.7 -11.1 17.0Z"/><path id="r0s20" d="M-18.0 10.1 -18.2 10.8 -18.0 11.6 -17.5 12.1 -16.7 12.3 -17.2 11.1Z"/><path id="r0o" fill="none" stroke="#fff" stroke-width="0.6" d="M3.5 14.2 1.4 16.5 1.5 18.1 4.0 18.6 6.8 17.7 10.3 17.8 11.2 17.3 12.4 14.9 5.6 14.1 6.5 9.8 6.3 9.6 2.0 9.2 0.6 10.4 3.5 14.2M7.9 -10.9 7.6 -12.4 3.0 -14.1 2.4 -13.8 0.3 -14.3 -2.0 -12.3 -4.1 -13.4 -6.3 -12.5 -5.7 -8.4 -8.9 -6.4 -4.4 -3.1 -2.7 -5.2 1.6 -3.6 2.0 -3.7 3.3 -2.8 7.5 -4.8 5.9 -8.9 7.9 -10.9M-4.4 -2.6 -8.6 0.8 -5.9 3.3 -1.8 -0.1 -4.4 -2.6M6.1 -18.8 5.1 -19.2 3.1 -19.4 2.1 -19.7 -0.0 -21.3 -1.1 -21.8 -2.3 -21.7 -5.2 -19.5 -8.2 -17.7 -7.5 -16.9 -8.1 -13.3 -6.3 -12.5 -4.1 -13.4 -2.0 -12.3 0.3 -14.3 2.4 -13.8 3.0 -14.1 7.6 -12.4 9.2 -16.1 8.4 -16.5 6.1 -18.8M7.9 -10.9 5.9 -8.9 7.5 -4.8 3.3 -2.8 4.8 0.5 5.7 1.0 6.8 0.6 11.4 2.4 11.7 4.2 13.5 4.9 19.9 2.1 20.0 1.8 14.7 -0.9 15.3 -5.2 12.4 -7.6 12.3 -8.8 7.9 -10.9M-8.2 -17.7 -12.6 -15.5 -13.3 -14.7 -14.2 -12.8 -16.6 -10.8 -17.1 -9.9 -17.4 -6.7 -18.0 -5.8 -19.7 -4.2 -20.1 -3.2 -20.1 -2.1 -18.9 1.4 -18.4 1.3 -17.5 -3.4 -14.2 -3.4 -13.8 -4.1 -9.6 -5.2 -8.9 -6.5 -5.7 -8.4 -6.3 -12.5 -8.1 -13.3 -7.5 -16.9 -8.2 -17.7M18.6 8.3 18.9 4.0 19.9 2.1 13.5 4.9 11.7 4.2 10.4 5.4 10.4 9.8 11.5 10.7 12.5 14.7 13.6 13.6 15.5 12.6 16.4 11.9 17.6 10.2 18.6 8.3M-2.7 6.1 -2.7 7.7 -0.6 10.4 0.6 10.4 2.0 9.2 6.3 9.6 6.5 9.8 5.6 14.1 12.4 14.9 12.5 14.7 11.5 10.7 10.4 9.8 10.4 5.4 6.2 5.3 2.5 5.9 0.5 4.1 -2.7 6.1M-4.4 -3.1 -8.9 -6.4 -9.6 -5.2 -13.8 -4.1 -14.2 -3.4 -17.5 -3.4 -18.4 1.3 -16.2 2.0 -15.2 4.4 -12.5 5.7 -9.3 0.7 -8.6 0.8 -4.4 -2.6 -4.4 -3.1M-8.6 0.8 -9.3 0.7 -12.5 5.7 -15.2 4.4 -16.2 2.0 -18.4 1.3 -18.9 1.4 -17.9 4.8 -18.2 8.1 -17.9 9.1 -16.3 11.9 -15.8 14.2 -15.1 15.1 -14.1 15.7 -11.7 16.2 -10.9 16.5 -8.4 13.3 -6.8 13.3 -6.0 12.8 -6.1 9.3 -8.9 7.7 -5.9 3.3 -8.6 0.8M-8.9 7.7 -6.1 9.3 -6.0 12.8 -6.8 13.3 -8.4 13.3 -10.9 16.5 -9.3 18.3 -8.5 19.0 -7.4 19.4 -6.3 19.4 -3.0 19.0 0.0 18.0 1.5 18.1 1.4 16.5 3.5 14.2 0.6 10.4 -0.6 10.4 -2.7 7.7 -2.7 6.1 -5.9 3.3 -8.9 7.7M-4.4 -3.1 -4.4 -2.6 -1.8 -0.1 -5.8 3.3 -2.7 6.1 0.5 4.1 2.5 5.9 6.2 5.3 10.4 5.4 11.7 4.2 11.4 2.4 6.8 0.6 5.7 1.0 4.8 0.5 3.3 -2.8 2.0 -3.7 1.6 -3.6 -2.7 -5.2 -4.4 -3.1M7.9 -10.9 12.3 -8.8 12.8 -9.3 15.7 -10.0 12.0 -14.8 11.2 -15.4 9.2 -16.1 7.6 -12.4 7.9 -10.9M20.2 -6.6 19.4 -7.4 17.1 -8.7 15.7 -10.0 12.8 -9.3 12.3 -8.8 12.4 -7.6 15.3 -5.2 14.7 -0.9 20.0 1.8 20.2 1.1 20.2 0.0 19.7 -2.1 20.4 -5.5 20.2 -6.6"/><path id="r0n" fill="#fff" stroke="none" d="M-19.9 -1.9a1.1 1.1 0 1 0 2.2 0a1.1 1.1 0 1 0 -2.2 0M-1.1 19.6a1.1 1.1 0 1 0 2.3 0a1.1 1.1 0 1 0 -2.3 0M-12.3 -15.1a1.2 1.2 0 1 0 2.3 0a1.2 1.2 0 1 0 -2.3 0M15.7 -9.4a1.2 1.2 0 1 0 2.5 0a1.2 1.2 0 1 0 -2.5 0M15.0 10.6a1.2 1.2 0 1 0 2.4 0a1.2 1.2 0 1 0 -2.4 0M-19.2 2.7a1.0 1.0 0 1 0 2.0 0a1.0 1.0 0 1 0 -2.0 0M-0.4 18.3a1.3 1.3 0 1 0 2.5 0a1.3 1.3 0 1 0 -2.5 0M8.4 -16.7a1.1 1.1 0 1 0 2.2 0a1.1 1.1 0 1 0 -2.2 0M-9.7 -16.7a0.7 0.7 0 1 0 1.4 0a0.7 0.7 0 1 0 -1.4 0M-5.6 18.5a1.0 1.0 0 1 0 2.0 0a1.0 1.0 0 1 0 -2.0 0"/></defs>
<rect x="162.2" y="19.0" width="47.3" height="46.8" fill="none" stroke="#333" stroke-width="1.1"/>
<path d="M160.9 20.0V65.3M163.2 67.1H209.0" stroke="#333" stroke-width="1.5" stroke-dasharray="0.55 0.75" fill="none"/>
<g transform="translate(184.7 43.2)" fill="currentColor" stroke="currentColor" stroke-width="0.3"><use href="#r0f0" color="#51b748"/><use href="#r0f1" color="#5bbd46"/><use href="#r0f2" color="#35a84f"/><use href="#r0f3" color="#2b8aa3"/><use href="#r0f4" color="#2b89a5"/><use href="#r0f5" color="#a7d43e"/><use href="#r0f6" color="#3dac4d"/><use href="#r0f7" color="#51b748"/><use href="#r0f8" color="#95cf40"/><use href="#r0f9" color="#2d41a3"/><use href="#r0f10" color="#50b748"/><use href="#r0f11" color="#3cab4d"/><use href="#r0f12" color="#2a8f98"/><use href="#r0f13" color="#5ebe45"/><use href="#r0f14" color="#5ebf45"/><use href="#r0f15" color="#68c244"/><use href="#r0f16" color="#2a3194"/><use href="#r0f17" color="#30a453"/><use href="#r0f18" color="#a9d53e"/><use href="#r0f19" color="#43af4c"/><use href="#r0f20" color="#51b748"/><use href="#r0f21" color="#2b84af"/><use href="#r0f22" color="#5fbf45"/><use href="#r0f23" color="#2d40a2"/><use href="#r0f24" color="#2fa454"/><use href="#r0f25" color="#2c3d9f"/><use href="#r0f26" color="#2b89a5"/><use href="#r0f27" color="#5abc46"/><use href="#r0f28" color="#2b379a"/><use href="#r0f29" color="#62c045"/><use href="#r0f30" color="#59bc46"/><use href="#r0f31" color="#72c543"/><use href="#r0f32" color="#b3d73e"/><use href="#r0f33" color="#c7db3f"/><use href="#r0f34" color="#cddc3f"/><use href="#r0f35" color="#2e48a9"/><use href="#r0f36" color="#2a9688"/><use href="#r0f37" color="#2d40a2"/><use href="#r0f38" color="#4fb649"/><use href="#r0f39" color="#2a8f97"/><use href="#r0f40" color="#38a94e"/><use href="#r0f41" color="#58bb47"/><use href="#r0f42" color="#5abc46"/><use href="#r0f43" color="#50b748"/><use href="#r0f44" color="#bed93f"/><use href="#r0f45" color="#48b24a"/><use href="#r0f46" color="#5ebe45"/><use href="#r0f47" color="#2a8d9c"/><use href="#r0f48" color="#2b389a"/><use href="#r0f49" color="#70c443"/><use href="#r0f50" color="#2d41a3"/><use href="#r0f51" color="#2b389b"/><use href="#r0f52" color="#53b948"/><use href="#r0f53" color="#41ae4c"/><use href="#r0f54" color="#2a9688"/><use href="#r0f55" color="#52b848"/><use href="#r0f56" color="#9bd13f"/><use href="#r0f57" color="#2c3ea0"/><use href="#r0f58" color="#afd63e"/><use href="#r0f59" color="#5cbd46"/><use href="#r0s0" color="#2d45a6"/><use href="#r0s1" color="#71c443"/><use href="#r0s2" color="#2b8ba1"/><use href="#r0s3" color="#2b379a"/><use href="#r0s4" color="#2d44a6"/><use href="#r0s5" color="#2e5bb2"/><use href="#r0s6" color="#2c71b6"/><use href="#r0s7" color="#2a9688"/><use href="#r0s8" color="#2c71b6"/><use href="#r0s9" color="#2c399c"/><use href="#r0s10" color="#2b3496"/><use href="#r0s11" color="#2b8ba1"/><use href="#r0s12" color="#2f4fb0"/><use href="#r0s13" color="#59bc46"/><use href="#r0s14" color="#2b85ad"/><use href="#r0s15" color="#2b3699"/><use href="#r0s16" color="#2e4aab"/><use href="#r0s17" color="#2c3a9c"/><use href="#r0s18" color="#cddc3f"/><use href="#r0s19" color="#2a9192"/><use href="#r0s20" color="#47b14b"/><use href="#r0o"/><use href="#r0n"/></g>
<rect x="162.8" y="19.6" width="46.1" height="45.6" fill="url(#spk)"/>
<rect x="213.6" y="19.0" width="47.3" height="46.8" fill="none" stroke="#333" stroke-width="1.1"/>
<path d="M212.3 20.0V65.3M214.6 67.1H260.4" stroke="#333" stroke-width="1.5" stroke-dasharray="0.55 0.75" fill="none"/>
<g transform="translate(236.1 43.2)" fill="currentColor" stroke="currentColor" stroke-width="0.3"><use href="#r0f0" color="#5dbe45"/><use href="#r0f1" color="#62c045"/><use href="#r0f2" color="#87cb41"/><use href="#r0f3" color="#2b87aa"/><use href="#r0f4" color="#59bc46"/><use href="#r0f5" color="#b8d83f"/><use href="#r0f6" color="#4fb649"/><use href="#r0f7" color="#54b948"/><use href="#r0f8" color="#add53e"/><use href="#r0f9" color="#2d41a3"/><use href="#r0f10" color="#5dbe45"/><use href="#r0f11" color="#7dc842"/><use href="#r0f12" color="#56ba47"/><use href="#r0f13" color="#2f4eaf"/><use href="#r0f14" color="#5dbe45"/><use href="#r0f15" color="#2c3d9f"/><use href="#r0f16" color="#2e46a8"/><use href="#r0f17" color="#84ca41"/><use href="#r0f18" color="#b5d73f"/><use href="#r0f19" color="#85ca41"/><use href="#r0f20" color="#4bb44a"/><use href="#r0f21" color="#2b82b4"/><use href="#r0f22" color="#91ce40"/><use href="#r0f23" color="#2d67b4"/><use href="#r0f24" color="#79c742"/><use href="#r0f25" color="#2e55b1"/><use href="#r0f26" color="#2b84ae"/><use href="#r0f27" color="#69c244"/><use href="#r0f28" color="#2e58b2"/><use href="#r0f29" color="#4fb649"/><use href="#r0f30" color="#66c144"/><use href="#r0f31" color="#2d42a4"/><use href="#r0f32" color="#6cc344"/><use href="#r0f33" color="#6cc344"/><use href="#r0f34" color="#64c045"/><use href="#r0f35" color="#2d66b4"/><use href="#r0f36" color="#5ebf45"/><use href="#r0f37" color="#2d64b3"/><use href="#r0f38" color="#69c244"/><use href="#r0f39" color="#5dbe45"/><use href="#r0f40" color="#79c742"/><use href="#r0f41" color="#2f4cad"/><use href="#r0f42" color="#73c543"/><use href="#r0f43" color="#74c543"/><use href="#r0f44" color="#6bc244"/><use href="#r0f45" color="#4ab34a"/><use href="#r0f46" color="#2e46a7"/><use href="#r0f47" color="#57ba47"/><use href="#r0f48" color="#2d64b3"/><use href="#r0f49" color="#66c144"/><use href="#r0f50" color="#2c3b9d"/><use href="#r0f51" color="#2e49ab"/><use href="#r0f52" color="#7cc842"/><use href="#r0f53" color="#84ca41"/><use href="#r0f54" color="#5dbe45"/><use href="#r0f55" color="#55b947"/><use href="#r0f56" color="#6fc443"/><use href="#r0f57" color="#2d6bb5"/><use href="#r0f58" color="#afd63e"/><use href="#r0f59" color="#4eb649"/><use href="#r0s0" color="#2d42a4"/><use href="#r0s1" color="#73c543"/><use href="#r0s2" color="#5ebe45"/><use href="#r0s3" color="#4cb549"/><use href="#r0s4" color="#2c3ea0"/><use href="#r0s5" color="#2e49aa"/><use href="#r0s6" color="#2e46a8"/><use href="#r0s7" color="#5cbd46"/><use href="#r0s8" color="#2b89a4"/><use href="#r0s9" color="#2c3d9f"/><use href="#r0s10" color="#2d40a2"/><use href="#r0s11" color="#5dbe45"/><use href="#r0s12" color="#2d42a4"/><use href="#r0s13" color="#60bf45"/><use href="#r0s14" color="#2b88a7"/><use href="#r0s15" color="#2e5fb3"/><use href="#r0s16" color="#58bb47"/><use href="#r0s17" color="#2f51b0"/><use href="#r0s18" color="#b6d73f"/><use href="#r0s19" color="#50b649"/><use href="#r0s20" color="#68c244"/><use href="#r0o"/><use href="#r0n"/></g>
<rect x="214.2" y="19.6" width="46.1" height="45.6" fill="url(#spk)"/>
<rect x="265.1" y="19.0" width="47.3" height="46.8" fill="none" stroke="#333" stroke-width="1.1"/>
<path d="M263.8 20.0V65.3M266.1 67.1H311.9" stroke="#333" stroke-width="1.5" stroke-dasharray="0.55 0.75" fill="none"/>
<g transform="translate(287.6 43.2)" fill="currentColor" stroke="currentColor" stroke-width="0.3"><use href="#r0f0" color="#cbdc3f"/><use href="#r0f1" color="#2fa35a"/><use href="#r0f2" color="#ead038"/><use href="#r0f3" color="#46b14b"/><use href="#r0f4" color="#34a74f"/><use href="#r0f5" color="#d2dd40"/><use href="#r0f6" color="#d6de40"/><use href="#r0f7" color="#d2dd40"/><use href="#r0f8" color="#e4d93d"/><use href="#r0f9" color="#aad53e"/><use href="#r0f10" color="#50b748"/><use href="#r0f11" color="#ead038"/><use href="#r0f12" color="#41af4c"/><use href="#r0f13" color="#c6db3f"/><use href="#r0f14" color="#33a64f"/><use href="#r0f15" color="#b8d83f"/><use href="#r0f16" color="#d8de40"/><use href="#r0f17" color="#ead038"/><use href="#r0f18" color="#d4dd40"/><use href="#r0f19" color="#3ead4d"/><use href="#r0f20" color="#e3dc3e"/><use href="#r0f21" color="#44b04b"/><use href="#r0f22" color="#3eac4d"/><use href="#r0f23" color="#e1de3f"/><use href="#r0f24" color="#ead038"/><use href="#r0f25" color="#e8d339"/><use href="#r0f26" color="#3ead4d"/><use href="#r0f27" color="#7ac742"/><use href="#r0f28" color="#e4da3d"/><use href="#r0f29" color="#e0e040"/><use href="#r0f30" color="#4bb44a"/><use href="#r0f31" color="#a7d43e"/><use href="#r0f32" color="#92ce40"/><use href="#r0f33" color="#b4d73e"/><use href="#r0f34" color="#bbd83f"/><use href="#r0f35" color="#d0dd3f"/><use href="#r0f36" color="#46b14b"/><use href="#r0f37" color="#e9d139"/><use href="#r0f38" color="#30a551"/><use href="#r0f39" color="#45b14b"/><use href="#r0f40" color="#ead038"/><use href="#r0f41" color="#bdd93f"/><use href="#r0f42" color="#46b14b"/><use href="#r0f43" color="#50b748"/><use href="#r0f44" color="#7cc842"/><use href="#r0f45" color="#dfe040"/><use href="#r0f46" color="#8bcc41"/><use href="#r0f47" color="#41ae4c"/><use href="#r0f48" color="#e2dc3e"/><use href="#r0f49" color="#3aab4e"/><use href="#r0f50" color="#acd53e"/><use href="#r0f51" color="#e7d43a"/><use href="#r0f52" color="#33a74f"/><use href="#r0f53" color="#e9d239"/><use href="#r0f54" color="#2ea25d"/><use href="#r0f55" color="#40ae4c"/><use href="#r0f56" color="#7cc842"/><use href="#r0f57" color="#e8d43a"/><use href="#r0f58" color="#e3dc3e"/><use href="#r0f59" color="#d8de40"/><use href="#r0s0" color="#acd53e"/><use href="#r0s1" color="#34a74f"/><use href="#r0s2" color="#2ea25d"/><use href="#r0s3" color="#e1de3f"/><use href="#r0s4" color="#e5d93c"/><use href="#r0s5" color="#8ecd40"/><use href="#r0s6" color="#53b848"/><use href="#r0s7" color="#31a650"/><use href="#r0s8" color="#30a551"/><use href="#r0s9" color="#d9df40"/><use href="#r0s10" color="#cddc3f"/><use href="#r0s11" color="#2fa456"/><use href="#r0s12" color="#a0d23f"/><use href="#r0s13" color="#2fa454"/><use href="#r0s14" color="#3cac4d"/><use href="#r0s15" color="#e8d339"/><use href="#r0s16" color="#e4d93c"/><use href="#r0s17" color="#e4da3d"/><use href="#r0s18" color="#cbdc3f"/><use href="#r0s19" color="#3bab4d"/><use href="#r0s20" color="#40ae4c"/><use href="#r0o"/><use href="#r0n"/></g>
<rect x="265.7" y="19.6" width="46.1" height="45.6" fill="url(#spk)"/>
<rect x="316.8" y="19.0" width="47.3" height="46.8" fill="none" stroke="#333" stroke-width="1.1"/>
<path d="M315.5 20.0V65.3M317.8 67.1H363.6" stroke="#333" stroke-width="1.5" stroke-dasharray="0.55 0.75" fill="none"/>
<g transform="translate(339.2 43.2)" fill="currentColor" stroke="currentColor" stroke-width="0.3"><use href="#r0f0" color="#3bab4d"/><use href="#r0f1" color="#3bab4d"/><use href="#r0f2" color="#38aa4e"/><use href="#r0f3" color="#30a551"/><use href="#r0f4" color="#46b14b"/><use href="#r0f5" color="#3bab4d"/><use href="#r0f6" color="#46b14b"/><use href="#r0f7" color="#44b04b"/><use href="#r0f8" color="#38a94e"/><use href="#r0f9" color="#3cac4d"/><use href="#r0f10" color="#3fad4d"/><use href="#r0f11" color="#38aa4e"/><use href="#r0f12" color="#37a94e"/><use href="#r0f13" color="#47b24b"/><use href="#r0f14" color="#38a94e"/><use href="#r0f15" color="#47b24b"/><use href="#r0f16" color="#45b14b"/><use href="#r0f17" color="#38a94e"/><use href="#r0f18" color="#42af4c"/><use href="#r0f19" color="#36a84f"/><use href="#r0f20" color="#46b14b"/><use href="#r0f21" color="#35a74f"/><use href="#r0f22" color="#41ae4c"/><use href="#r0f23" color="#3fae4c"/><use href="#r0f24" color="#2fa454"/><use href="#r0f25" color="#41ae4c"/><use href="#r0f26" color="#2fa454"/><use href="#r0f27" color="#33a64f"/><use href="#r0f28" color="#3ead4d"/><use href="#r0f29" color="#4bb44a"/><use href="#r0f30" color="#38aa4e"/><use href="#r0f31" color="#3fae4c"/><use href="#r0f32" color="#3cab4d"/><use href="#r0f33" color="#43af4c"/><use href="#r0f34" color="#3fae4c"/><use href="#r0f35" color="#3dac4d"/><use href="#r0f36" color="#3cac4d"/><use href="#r0f37" color="#3bab4d"/><use href="#r0f38" color="#3aaa4e"/><use href="#r0f39" color="#3aaa4e"/><use href="#r0f40" color="#3cac4d"/><use href="#r0f41" color="#43b04b"/><use href="#r0f42" color="#35a84f"/><use href="#r0f43" color="#3bab4d"/><use href="#r0f44" color="#30a550"/><use href="#r0f45" color="#4bb44a"/><use href="#r0f46" color="#47b24b"/><use href="#r0f47" color="#30a551"/><use href="#r0f48" color="#3dac4d"/><use href="#r0f49" color="#3aaa4e"/><use href="#r0f50" color="#3dac4d"/><use href="#r0f51" color="#3dac4d"/><use href="#r0f52" color="#35a84f"/><use href="#r0f53" color="#3dac4d"/><use href="#r0f54" color="#3cac4d"/><use href="#r0f55" color="#30a550"/><use href="#r0f56" color="#3aaa4e"/><use href="#r0f57" color="#3ead4d"/><use href="#r0f58" color="#3aab4e"/><use href="#r0f59" color="#4fb649"/><use href="#r0s0" color="#2ea161"/><use href="#r0s1" color="#35a84f"/><use href="#r0s2" color="#2ea25f"/><use href="#r0s3" color="#44b04b"/><use href="#r0s4" color="#30a550"/><use href="#r0s5" color="#2fa455"/><use href="#r0s6" color="#2d9f69"/><use href="#r0s7" color="#48b24a"/><use href="#r0s8" color="#3bab4e"/><use href="#r0s9" color="#3bab4e"/><use href="#r0s10" color="#40ae4c"/><use href="#r0s11" color="#35a84f"/><use href="#r0s12" color="#2fa359"/><use href="#r0s13" color="#2fa25c"/><use href="#r0s14" color="#2fa25c"/><use href="#r0s15" color="#43b04b"/><use href="#r0s16" color="#2da065"/><use href="#r0s17" color="#2fa359"/><use href="#r0s18" color="#2fa455"/><use href="#r0s19" color="#33a74f"/><use href="#r0s20" color="#38a94e"/><use href="#r0o"/><use href="#r0n"/></g>
<rect x="317.4" y="19.6" width="46.1" height="45.6" fill="url(#spk)"/>
<rect x="368.3" y="19.0" width="47.3" height="46.8" fill="none" stroke="#333" stroke-width="1.1"/>
<path d="M367.0 20.0V65.3M369.3 67.1H415.1" stroke="#333" stroke-width="1.5" stroke-dasharray="0.55 0.75" fill="none"/>
<g transform="translate(390.8 43.2)" fill="currentColor" stroke="currentColor" stroke-width="0.3"><use href="#r0f0" color="#aad53e"/><use href="#r0f1" color="#aad53e"/><use href="#r0f2" color="#abd53e"/><use href="#r0f3" color="#77c643"/><use href="#r0f4" color="#4cb44a"/><use href="#r0f5" color="#c3da3f"/><use href="#r0f6" color="#b3d73e"/><use href="#r0f7" color="#b6d73f"/><use href="#r0f8" color="#a3d33e"/><use href="#r0f9" color="#add53e"/><use href="#r0f10" color="#9bd13f"/><use href="#r0f11" color="#9cd13f"/><use href="#r0f12" color="#43af4c"/><use href="#r0f13" color="#aad53e"/><use href="#r0f14" color="#72c543"/><use href="#r0f15" color="#7fc842"/><use href="#r0f16" color="#acd53e"/><use href="#r0f17" color="#b3d73e"/><use href="#r0f18" color="#9fd23f"/><use href="#r0f19" color="#7fc842"/><use href="#r0f20" color="#b8d83f"/><use href="#r0f21" color="#5abc46"/><use href="#r0f22" color="#9ed23f"/><use href="#r0f23" color="#ccdc3f"/><use href="#r0f24" color="#b6d73f"/><use href="#r0f25" color="#bcd83f"/><use href="#r0f26" color="#73c543"/><use href="#r0f27" color="#a9d53e"/><use href="#r0f28" color="#ccdc3f"/><use href="#r0f29" color="#b2d73e"/><use href="#r0f30" color="#99d03f"/><use href="#r0f31" color="#8fcd40"/><use href="#r0f32" color="#8fcd40"/><use href="#r0f33" color="#a1d23f"/><use href="#r0f34" color="#9dd13f"/><use href="#r0f35" color="#d9df40"/><use href="#r0f36" color="#46b14b"/><use href="#r0f37" color="#c4da3f"/><use href="#r0f38" color="#a5d43e"/><use href="#r0f39" color="#4cb44a"/><use href="#r0f40" color="#a0d23f"/><use href="#r0f41" color="#a1d23f"/><use href="#r0f42" color="#68c244"/><use href="#r0f43" color="#77c643"/><use href="#r0f44" color="#a6d43e"/><use href="#r0f45" color="#aed63e"/><use href="#r0f46" color="#95cf40"/><use href="#r0f47" color="#51b748"/><use href="#r0f48" color="#ccdc3f"/><use href="#r0f49" color="#acd53e"/><use href="#r0f50" color="#cadb3f"/><use href="#r0f51" color="#b9d83f"/><use href="#r0f52" color="#65c144"/><use href="#r0f53" color="#8fcd40"/><use href="#r0f54" color="#54b947"/><use href="#r0f55" color="#76c643"/><use href="#r0f56" color="#82c942"/><use href="#r0f57" color="#d8de40"/><use href="#r0f58" color="#b5d73f"/><use href="#r0f59" color="#a3d33e"/><use href="#r0s0" color="#bbd83f"/><use href="#r0s1" color="#5abc46"/><use href="#r0s2" color="#76c643"/><use href="#r0s3" color="#bad83f"/><use href="#r0s4" color="#b8d83f"/><use href="#r0s5" color="#74c543"/><use href="#r0s6" color="#69c244"/><use href="#r0s7" color="#51b748"/><use href="#r0s8" color="#5fbf45"/><use href="#r0s9" color="#c7db3f"/><use href="#r0s10" color="#e2dc3e"/><use href="#r0s11" color="#50b748"/><use href="#r0s12" color="#add53e"/><use href="#r0s13" color="#57ba47"/><use href="#r0s14" color="#5dbe45"/><use href="#r0s15" color="#a4d33e"/><use href="#r0s16" color="#afd63e"/><use href="#r0s17" color="#afd63e"/><use href="#r0s18" color="#98d03f"/><use href="#r0s19" color="#60bf45"/><use href="#r0s20" color="#70c443"/><use href="#r0o"/><use href="#r0n"/></g>
<rect x="368.9" y="19.6" width="46.1" height="45.6" fill="url(#spk)"/>
<rect x="441.6" y="19.0" width="47.3" height="46.8" fill="none" stroke="#333" stroke-width="1.1"/>
<path d="M440.3 20.0V65.3M442.6 67.1H488.4" stroke="#333" stroke-width="1.5" stroke-dasharray="0.55 0.75" fill="none"/>
<g transform="translate(464.1 43.2)" fill="currentColor" stroke="currentColor" stroke-width="0.3"><use href="#r0f0" color="#f2a85e"/><use href="#r0f1" color="#e9ebf1"/><use href="#r0f2" color="#f2a85e"/><use href="#r0f3" color="#e9ebf1"/><use href="#r0f4" color="#e9ebf1"/><use href="#r0f5" color="#f2a85e"/><use href="#r0f6" color="#f2a85e"/><use href="#r0f7" color="#f2a85e"/><use href="#r0f8" color="#f2a85e"/><use href="#r0f9" color="#f2a85e"/><use href="#r0f10" color="#e9ebf1"/><use href="#r0f11" color="#f2a85e"/><use href="#r0f12" color="#e9ebf1"/><use href="#r0f13" color="#f2a85e"/><use href="#r0f14" color="#e9ebf1"/><use href="#r0f15" color="#f2a85e"/><use href="#r0f16" color="#f2a85e"/><use href="#r0f17" color="#f2a85e"/><use href="#r0f18" color="#f2a85e"/><use href="#r0f19" color="#e9ebf1"/><use href="#r0f20" color="#f2a85e"/><use href="#r0f21" color="#e9ebf1"/><use href="#r0f22" color="#e9ebf1"/><use href="#r0f23" color="#f2a85e"/><use href="#r0f24" color="#f2a85e"/><use href="#r0f25" color="#f2a85e"/><use href="#r0f26" color="#e9ebf1"/><use href="#r0f27" color="#e9ebf1"/><use href="#r0f28" color="#f2a85e"/><use href="#r0f29" color="#f2a85e"/><use href="#r0f30" color="#e9ebf1"/><use href="#r0f31" color="#f2a85e"/><use href="#r0f32" color="#e9ebf1"/><use href="#r0f33" color="#f2a85e"/><use href="#r0f34" color="#f2a85e"/><use href="#r0f35" color="#f2a85e"/><use href="#r0f36" color="#e9ebf1"/><use href="#r0f37" color="#f2a85e"/><use href="#r0f38" color="#e9ebf1"/><use href="#r0f39" color="#e9ebf1"/><use href="#r0f40" color="#f2a85e"/><use href="#r0f41" color="#f2a85e"/><use href="#r0f42" color="#e9ebf1"/><use href="#r0f43" color="#e9ebf1"/><use href="#r0f44" color="#e9ebf1"/><use href="#r0f45" color="#f2a85e"/><use href="#r0f46" color="#f2a85e"/><use href="#r0f47" color="#e9ebf1"/><use href="#r0f48" color="#f2a85e"/><use href="#r0f49" color="#e9ebf1"/><use href="#r0f50" color="#f2a85e"/><use href="#r0f51" color="#f2a85e"/><use href="#r0f52" color="#e9ebf1"/><use href="#r0f53" color="#f2a85e"/><use href="#r0f54" color="#e9ebf1"/><use href="#r0f55" color="#e9ebf1"/><use href="#r0f56" color="#e9ebf1"/><use href="#r0f57" color="#f2a85e"/><use href="#r0f58" color="#f2a85e"/><use href="#r0f59" color="#f2a85e"/><use href="#r0s0" color="#f2a85e"/><use href="#r0s1" color="#e9ebf1"/><use href="#r0s2" color="#e9ebf1"/><use href="#r0s3" color="#f2a85e"/><use href="#r0s4" color="#f2a85e"/><use href="#r0s5" color="#f2a85e"/><use href="#r0s6" color="#e9ebf1"/><use href="#r0s7" color="#e9ebf1"/><use href="#r0s8" color="#e9ebf1"/><use href="#r0s9" color="#f2a85e"/><use href="#r0s10" color="#f2a85e"/><use href="#r0s11" color="#e9ebf1"/><use href="#r0s12" color="#f2a85e"/><use href="#r0s13" color="#e9ebf1"/><use href="#r0s14" color="#e9ebf1"/><use href="#r0s15" color="#f2a85e"/><use href="#r0s16" color="#f2a85e"/><use href="#r0s17" color="#f2a85e"/><use href="#r0s18" color="#e9ebf1"/><use href="#r0s19" color="#e9ebf1"/><use href="#r0s20" color="#e9ebf1"/><use href="#r0o"/><use href="#r0n"/></g>
<rect x="442.2" y="19.6" width="46.1" height="45.6" fill="url(#spk)"/>
<defs><path id="r1f0" d="M13.0 -9.8 13.5 -9.5 17.5 -11.0 16.5 -12.0 15.5 -14.0 14.8 -14.8 13.8 -15.3Z"/><path id="r1f1" d="M-12.8 6.9 -14.9 10.0 -11.6 12.7 -8.6 8.5Z"/><path id="r1f2" d="M1.4 -6.6 -5.1 -5.6 -4.7 -2.1 -2.1 -0.4 -0.2 -0.6Z"/><path id="r1f3" d="M-4.5 -19.5 -5.1 -19.2 -6.8 -17.8 -9.4 -17.2 -7.6 -15.0 -6.4 -15.0 -4.3 -16.5Z"/><path id="r1f4" d="M0.7 -11.6 -3.7 -11.0 -5.8 -7.2 -5.6 -6.3 -5.1 -5.6 1.4 -6.6Z"/><path id="r1f5" d="M-2.1 -0.4 -4.7 -2.1 -6.8 -0.5 -7.3 4.3 -6.3 6.0 -3.3 4.7Z"/><path id="r1f6" d="M7.9 9.6 10.5 6.3 9.4 2.9 4.4 4.7 5.0 7.5Z"/><path id="r1f7" d="M9.4 2.9 9.9 1.7 6.0 -1.6 4.1 4.4 4.4 4.7Z"/><path id="r1f8" d="M-6.3 6.0 -7.3 4.3 -11.8 2.7 -13.1 6.2 -12.8 6.9 -8.6 8.5 -6.8 7.9Z"/><path id="r1f9" d="M13.0 11.9 8.4 11.5 7.5 13.2 7.4 14.4 10.0 17.3 12.4 17.0 13.5 16.6 14.2 15.8 15.0 13.8Z"/><path id="r1f10" d="M18.7 2.1 17.3 5.3 18.9 3.0 19.1 1.8ZM16.4 7.3 17.1 7.7 16.9 6.5 17.0 5.9Z"/><path id="r1f11" d="M14.3 -3.1 12.9 -2.3 12.2 0.6 14.0 2.1 18.7 2.1 19.1 1.8 18.9 -0.5Z"/><path id="r1f12" d="M-7.6 -15.0 -9.4 -17.2 -9.9 -17.1 -10.7 -16.5 -12.1 -13.4 -12.5 -12.9 -10.0 -11.8Z"/><path id="r1f13" d="M-3.3 11.6 1.1 12.9 1.8 12.3 2.0 9.4 -0.1 8.5 -3.7 11.2Z"/><path id="r1f14" d="M-0.1 8.5 -0.8 5.5 -3.3 4.7 -6.3 6.0 -6.8 7.9 -4.7 10.8 -3.7 11.2Z"/><path id="r1f15" d="M-2.7 16.7 -2.0 17.1 -0.1 17.0 1.1 15.7 1.1 12.9 -3.3 11.6Z"/><path id="r1f16" d="M-6.8 7.9 -8.6 8.5 -11.6 12.7 -7.4 14.7 -4.7 10.8Z"/><path id="r1f17" d="M-11.8 2.7 -12.4 1.5 -16.5 1.8 -16.8 2.0 -16.8 5.2 -13.1 6.2Z"/><path id="r1f18" d="M-3.7 -11.0 -6.4 -15.0 -7.6 -15.0 -10.0 -11.8 -9.9 -10.7 -5.8 -7.2Z"/><path id="r1f19" d="M-7.6 17.8 -6.2 19.0 -5.2 19.2 -4.1 19.1 -2.5 18.8 -2.0 17.1 -2.7 16.7 -7.0 16.8Z"/><path id="r1f20" d="M4.1 4.4 6.0 -1.6 5.9 -1.9 0.5 -0.2 2.4 3.9Z"/><path id="r1f21" d="M10.4 -4.0 6.0 -2.7 5.9 -1.9 6.0 -1.6 9.9 1.7 12.2 0.6 12.9 -2.3Z"/><path id="r1f22" d="M13.1 -9.6 8.8 -12.1 6.9 -11.4 6.5 -8.0 10.2 -6.9Z"/><path id="r1f23" d="M5.2 -18.3 5.4 -12.3 6.9 -11.4 8.8 -12.1 9.6 -14.9 6.1 -19.3 5.9 -19.3Z"/><path id="r1f24" d="M7.9 9.6 8.4 11.5 13.0 11.9 14.9 7.4 13.6 6.3 10.5 6.3Z"/><path id="r1f25" d="M1.1 15.7 5.6 16.3 7.4 14.4 7.5 13.2 1.8 12.3 1.1 12.9Z"/><path id="r1f26" d="M2.4 3.9 0.5 -0.2 -0.2 -0.6 -2.1 -0.4 -3.3 4.7 -0.8 5.5Z"/><path id="r1f27" d="M-14.9 10.0 -12.8 6.9 -13.1 6.2 -16.8 5.2 -18.6 7.3 -15.8 9.1 -15.2 10.0Z"/><path id="r1f28" d="M5.6 16.3 1.1 15.7 -0.1 17.0 2.1 20.4 3.2 20.0 5.1 19.0Z"/><path id="r1f29" d="M-18.4 -4.4 -14.9 -8.4 -16.3 -10.8 -18.4 -9.4 -19.2 -8.5 -19.6 -7.5 -19.7 -4.5Z"/><path id="r1f30" d="M-12.0 -3.0 -16.7 -3.1 -16.5 1.8 -12.4 1.5 -11.4 -1.3Z"/><path id="r1f31" d="M5.2 -18.3 0.1 -15.6 0.7 -11.7 5.4 -12.3Z"/><path id="r1f32" d="M-0.7 -16.3 0.1 -15.6 5.2 -18.3 5.9 -19.3 4.2 -19.8 3.1 -19.9 -0.5 -19.1Z"/><path id="r1f33" d="M-12.9 -7.9 -14.9 -8.4 -18.4 -4.4 -16.7 -3.1 -12.0 -3.0 -11.4 -4.4Z"/><path id="r1f34" d="M-11.6 12.7 -12.9 15.0 -12.6 15.5 -11.9 16.3 -10.9 16.7 -8.7 17.2 -7.6 17.8 -7.0 16.8 -7.4 14.7Z"/><path id="r1f35" d="M10.2 -6.9 10.4 -4.0 12.9 -2.3 14.3 -3.1 15.4 -5.7 13.5 -9.5 13.1 -9.6Z"/><path id="r1f36" d="M-11.6 12.7 -14.9 10.0 -15.2 10.0 -13.8 12.5 -12.9 15.0Z"/><path id="r1f37" d="M13.0 11.9 15.0 13.8 15.6 12.6 16.9 11.0 17.3 10.0 17.1 7.7 16.4 7.3 14.9 7.4Z"/><path id="r1f38" d="M6.0 -2.7 4.4 -5.8 1.5 -6.5 -0.2 -0.6 0.5 -0.2 5.9 -1.9Z"/><path id="r1f39" d="M-5.6 -6.3 -5.8 -7.2 -9.9 -10.7 -12.9 -7.9 -11.4 -4.4Z"/><path id="r1f40" d="M-16.8 5.2 -16.8 2.0 -20.2 1.6 -19.6 3.1 -19.7 5.3 -19.4 6.3 -18.7 7.2 -18.6 7.3Z"/><path id="r1f41" d="M11.6 -15.6 10.3 -15.9 8.1 -18.2 6.1 -19.3 9.6 -14.9Z"/><path id="r1f42" d="M0.1 -15.6 -0.7 -16.3 -4.3 -16.5 -6.4 -15.0 -3.7 -11.0 0.7 -11.6Z"/><path id="r1f43" d="M0.7 -11.7 1.4 -6.6 4.4 -5.8 6.5 -8.0 6.9 -11.4 5.4 -12.3Z"/><path id="r1f44" d="M-6.8 -0.5 -11.4 -1.3 -12.4 1.5 -11.8 2.7 -7.3 4.3Z"/><path id="r1f45" d="M-16.8 2.0 -16.5 1.8 -16.7 -3.1 -18.4 -4.4 -19.7 -4.5 -21.1 -1.1 -21.0 0.0 -20.2 1.6Z"/><path id="r1f46" d="M7.5 13.2 8.4 11.5 7.9 9.6 5.0 7.5 2.0 9.4 1.8 12.3Z"/><path id="r1f47" d="M-2.0 17.1 -2.5 18.8 -2.0 18.8 -1.0 19.2 1.1 20.3 2.1 20.4 -0.1 17.0Z"/><path id="r1f48" d="M7.4 14.4 5.6 16.3 5.1 19.0 8.9 17.5 10.0 17.3Z"/><path id="r1f49" d="M-5.6 -6.3 -11.4 -4.4 -12.0 -3.0 -11.4 -1.3 -6.8 -0.5 -4.7 -2.1 -5.1 -5.6Z"/><path id="r1f50" d="M13.6 6.3 14.0 2.1 12.2 0.6 9.9 1.7 9.4 2.9 10.5 6.3Z"/><path id="r1f51" d="M-14.9 -8.4 -12.9 -7.9 -9.9 -10.7 -10.0 -11.8 -12.5 -12.9 -16.3 -10.8Z"/><path id="r1f52" d="M6.5 -8.0 4.4 -5.8 6.0 -2.7 10.4 -4.0 10.2 -6.9Z"/><path id="r1f53" d="M18.9 -0.5 18.3 -3.9 18.2 -4.9 18.4 -6.0 15.4 -5.7 14.3 -3.1Z"/><path id="r1f54" d="M13.6 6.3 14.9 7.4 16.4 7.3 18.7 2.1 14.0 2.1Z"/><path id="r1f55" d="M13.5 -9.5 15.4 -5.7 18.4 -6.0 18.9 -8.4 18.7 -9.5 17.5 -11.0Z"/><path id="r1f56" d="M-0.5 -19.1 -3.1 -19.7 -4.5 -19.5 -4.3 -16.5 -0.7 -16.3Z"/><path id="r1f57" d="M-4.7 10.8 -7.4 14.7 -7.0 16.8 -2.7 16.7 -3.3 11.6 -3.7 11.2Z"/><path id="r1f58" d="M2.0 9.4 5.0 7.5 4.4 4.7 4.1 4.4 2.4 3.9 -0.8 5.5 -0.1 8.5Z"/><path id="r1f59" d="M13.0 -9.8 13.7 -15.4 11.6 -15.6 9.6 -14.9 8.8 -12.1Z"/><path id="r1s0" d="M-19.7 -9.3 -20.3 -9.1 -20.7 -8.7 -20.9 -8.1 -20.7 -7.5 -20.1 -7.0 -20.0 -7.7 -19.2 -9.1Z"/><path id="r1s1" d="M20.1 3.1 19.9 2.8 19.4 2.8 19.1 3.7 19.6 4.0 19.9 3.9 20.1 3.7Z"/><path id="r1s2" d="M-2.1 -19.8 -2.6 -20.6 -3.1 -20.7 -3.6 -20.6 -3.9 -20.1 -3.0 -20.1Z"/><path id="r1s3" d="M-21.1 0.8 -21.4 1.5 -21.2 2.2 -20.7 2.6 -20.2 2.8Z"/><path id="r1s4" d="M3.8 -20.3 3.3 -21.0 2.7 -21.2 2.1 -21.0 1.7 -20.6 1.5 -20.0 3.1 -20.3Z"/><path id="r1s5" d="M10.4 -18.1 10.0 -18.5 9.5 -18.6 9.0 -18.5 8.7 -18.2 10.0 -16.7 10.4 -17.1 10.5 -17.6Z"/><path id="r1s6" d="M1.1 -20.1 0.4 -20.1 -0.0 -19.5 1.3 -19.9Z"/><path id="r1s7" d="M21.2 1.4 20.7 0.9 20.0 0.7 19.5 0.8 19.5 2.0 19.3 3.2 20.0 3.5 20.7 3.3 21.2 2.8 21.4 2.1Z"/><path id="r1s8" d="M21.6 0.6 21.1 0.1 20.5 -0.1 19.8 0.1 19.5 0.5 19.5 2.0 19.8 2.3 20.5 2.5 21.1 2.3 21.6 1.9 21.7 1.2Z"/><path id="r1s9" d="M-17.1 -10.8 -17.8 -11.0 -18.1 -10.7 -18.1 -10.2Z"/><path id="r1s10" d="M10.9 -18.5 10.4 -18.9 9.9 -19.0 9.3 -18.9 8.9 -18.5 8.8 -18.1 9.9 -16.8 10.4 -16.9 10.9 -17.3 11.0 -17.9Z"/><path id="r1s11" d="M-17.9 10.1 -18.6 9.7 -18.9 9.8 -19.3 10.4 -19.2 10.8 -18.6 11.2 -18.2 11.1 -17.8 10.4Z"/><path id="r1s12" d="M-9.7 17.4 -10.1 18.2 -9.9 18.9 -9.4 19.4 -8.7 19.6 -8.1 19.4 -7.6 18.9 -7.5 18.5 -8.1 18.0 -8.9 17.6Z"/><path id="r1s13" d="M-3.3 19.4 -2.9 20.1 -2.4 20.3 -2.0 20.1 -1.6 19.4 -2.1 19.3Z"/><path id="r1s14" d="M-10.1 -18.3 -10.5 -18.6 -11.0 -18.8 -11.4 -18.6 -11.8 -18.3 -11.9 -17.8 -11.8 -17.3 -11.4 -17.0 -10.9 -16.9 -10.1 -17.5Z"/><path id="r1s15" d="M-20.1 -5.7 -20.5 -4.7 -20.3 -4.1Z"/><path id="r1s16" d="M19.8 -8.9 19.2 -9.4 19.4 -8.4 19.2 -7.2 19.8 -7.7 20.0 -8.3Z"/><path id="r1s17" d="M9.1 17.9 9.7 18.7 10.4 18.9 11.2 18.7 11.7 18.2 11.9 17.5Z"/><path id="r1s18" d="M21.5 -0.4 21.2 -0.7 20.7 -0.9 20.2 -0.7 19.8 -0.4 19.7 0.1 19.8 0.6 20.2 1.0 20.7 1.1 21.2 1.0 21.5 0.6 21.7 0.1Z"/><path id="r1s19" d="M-1.4 19.5 -1.0 20.2 -0.2 20.2Z"/><path id="r1o" fill="none" stroke="#fff" stroke-width="0.6" d="M-16.3 -10.8 -18.4 -9.4 -19.2 -8.5 -19.6 -7.5 -19.8 -4.2 -21.1 -1.1 -21.0 0.0 -20.2 1.6 -16.8 2.0 -16.5 1.8 -16.7 -3.1 -12.0 -3.0 -11.4 -4.4 -12.9 -7.9 -14.9 -8.4 -16.3 -10.8M-11.6 12.7 -12.9 15.0 -12.6 15.5 -11.9 16.3 -10.9 16.7 -8.7 17.2 -6.2 19.0 -5.2 19.2 -2.0 18.8 1.1 20.3 2.1 20.4 5.1 19.0 5.6 16.3 1.1 15.7 1.1 12.9 -3.3 11.6 -3.7 11.2 -4.7 10.8 -6.8 7.9 -8.6 8.5 -11.6 12.7M10.3 -15.9 8.1 -18.2 5.9 -19.3 5.2 -18.3 0.1 -15.6 0.7 -11.7 5.4 -12.3 6.9 -11.4 6.5 -8.0 4.4 -5.8 6.0 -2.7 10.4 -4.0 10.2 -6.9 13.1 -9.6 8.8 -12.1 9.6 -14.9 11.6 -15.6 10.3 -15.9M-5.8 -7.2 -9.9 -10.7 -12.9 -7.9 -11.4 -4.4 -12.0 -3.0 -11.4 -1.3 -6.8 -0.5 -4.7 -2.1 -5.1 -5.6 -5.6 -6.3 -5.8 -7.2M4.4 4.7 4.1 4.4 2.4 3.9 -0.8 5.5 -3.3 4.7 -6.3 6.0 -6.8 7.9 -4.7 10.8 -3.7 11.2 -3.3 11.6 1.1 12.9 1.1 15.7 5.6 16.3 7.4 14.4 7.5 13.2 8.4 11.5 7.9 9.6 5.0 7.5 4.4 4.7M1.5 -6.5 -0.2 -0.6 -2.1 -0.4 -3.3 4.7 -0.8 5.5 2.4 3.9 4.1 4.4 4.4 4.7 5.0 7.5 7.9 9.6 10.5 6.3 9.4 2.9 9.9 1.7 12.2 0.6 12.9 -2.3 10.4 -4.0 6.0 -2.7 4.4 -5.8 1.5 -6.5M14.2 15.8 15.6 12.6 16.9 11.0 17.3 10.0 17.1 7.7 16.4 7.3 14.9 7.4 13.6 6.3 10.5 6.3 7.9 9.6 8.4 11.5 7.5 13.2 7.4 14.4 5.6 16.3 5.1 19.0 8.9 17.5 12.4 17.0 13.5 16.6 14.2 15.8M-16.7 -3.1 -16.5 1.8 -12.4 1.5 -11.8 2.7 -7.3 4.3 -6.3 6.0 -3.3 4.7 -2.1 -0.4 -4.7 -2.1 -6.8 -0.5 -11.4 -1.3 -12.0 -3.0 -16.7 -3.1M-0.0 -19.1 -3.1 -19.7 -4.2 -19.6 -5.1 -19.2 -6.8 -17.8 -9.9 -17.1 -10.7 -16.5 -12.1 -13.4 -12.7 -12.7 -16.3 -10.8 -14.9 -8.4 -12.9 -7.9 -9.9 -10.7 -5.8 -7.2 -3.7 -11.0 0.7 -11.6 0.1 -15.6 5.2 -18.3 5.9 -19.3 3.1 -19.9 -0.0 -19.1M11.6 -15.6 9.6 -14.9 8.8 -12.1 13.1 -9.6 10.2 -6.9 10.4 -4.0 12.9 -2.3 14.3 -3.1 18.9 -0.5 18.2 -4.9 18.9 -8.4 18.7 -9.5 16.5 -12.0 14.8 -14.8 13.8 -15.3 11.6 -15.6M12.2 0.6 9.9 1.7 9.4 2.9 10.5 6.3 13.6 6.3 14.9 7.4 16.4 7.3 17.1 7.7 16.9 6.5 17.1 5.6 18.9 3.0 19.1 2.0 18.9 -0.5 14.3 -3.1 12.9 -2.3 12.2 0.6M-16.5 1.8 -16.8 2.0 -20.2 1.6 -19.6 3.1 -19.7 5.3 -19.4 6.3 -18.7 7.2 -16.7 8.5 -15.2 9.9 -13.8 12.5 -12.9 15.0 -11.6 12.7 -8.6 8.5 -6.8 7.9 -6.3 6.0 -7.3 4.3 -11.8 2.7 -12.4 1.5 -16.5 1.8M5.4 -12.3 -3.7 -11.0 -5.8 -7.2 -5.6 -6.3 -5.1 -5.6 -4.7 -2.1 -2.1 -0.4 -0.2 -0.6 1.5 -6.5 4.4 -5.8 6.5 -8.0 6.9 -11.4 5.4 -12.3"/><path id="r1n" fill="#fff" stroke="none" d="M-0.7 -18.4a1.1 1.1 0 1 0 2.1 0a1.1 1.1 0 1 0 -2.1 0M-7.8 -17.1a0.7 0.7 0 1 0 1.4 0a0.7 0.7 0 1 0 -1.4 0M11.8 13.4a0.8 0.8 0 1 0 1.6 0a0.8 0.8 0 1 0 -1.6 0M-19.5 2.3a0.9 0.9 0 1 0 1.7 0a0.9 0.9 0 1 0 -1.7 0M-13.5 15.0a1.2 1.2 0 1 0 2.5 0a1.2 1.2 0 1 0 -2.5 0M16.8 6.1a0.9 0.9 0 1 0 1.7 0a0.9 0.9 0 1 0 -1.7 0M-17.3 -9.7a1.2 1.2 0 1 0 2.4 0a1.2 1.2 0 1 0 -2.4 0M15.3 10.4a0.9 0.9 0 1 0 1.8 0a0.9 0.9 0 1 0 -1.8 0M-10.0 17.0a1.2 1.2 0 1 0 2.3 0a1.2 1.2 0 1 0 -2.3 0M-16.4 -11.9a0.9 0.9 0 1 0 1.9 0a0.9 0.9 0 1 0 -1.9 0"/></defs>
<rect x="162.2" y="70.4" width="47.3" height="46.8" fill="none" stroke="#333" stroke-width="1.1"/>
<path d="M160.9 71.4V116.7M163.2 118.5H209.0" stroke="#333" stroke-width="1.5" stroke-dasharray="0.55 0.75" fill="none"/>
<g transform="translate(184.7 94.6)" fill="currentColor" stroke="currentColor" stroke-width="0.3"><use href="#r1f0" color="#2d45a6"/><use href="#r1f1" color="#66c144"/><use href="#r1f2" color="#a6d43e"/><use href="#r1f3" color="#54b948"/><use href="#r1f4" color="#aad53e"/><use href="#r1f5" color="#58bb47"/><use href="#r1f6" color="#2a8e99"/><use href="#r1f7" color="#2b82b3"/><use href="#r1f8" color="#4db549"/><use href="#r1f9" color="#2d69b4"/><use href="#r1f10" color="#2d42a4"/><use href="#r1f11" color="#2d43a4"/><use href="#r1f12" color="#61bf45"/><use href="#r1f13" color="#39aa4e"/><use href="#r1f14" color="#2fa359"/><use href="#r1f15" color="#5abc46"/><use href="#r1f16" color="#55b947"/><use href="#r1f17" color="#4cb44a"/><use href="#r1f18" color="#5ebe45"/><use href="#r1f19" color="#62c045"/><use href="#r1f20" color="#2b8ba1"/><use href="#r1f21" color="#2a9291"/><use href="#r1f22" color="#8dcd40"/><use href="#r1f23" color="#8ecd40"/><use href="#r1f24" color="#2c76b6"/><use href="#r1f25" color="#3bab4d"/><use href="#r1f26" color="#2b84af"/><use href="#r1f27" color="#4fb649"/><use href="#r1f28" color="#5fbf45"/><use href="#r1f29" color="#2b3496"/><use href="#r1f30" color="#48b24a"/><use href="#r1f31" color="#8fcd40"/><use href="#r1f32" color="#5bbd46"/><use href="#r1f33" color="#2c3a9d"/><use href="#r1f34" color="#65c144"/><use href="#r1f35" color="#2f4eaf"/><use href="#r1f36" color="#4cb549"/><use href="#r1f37" color="#2c6fb5"/><use href="#r1f38" color="#2a8d9c"/><use href="#r1f39" color="#2c3fa1"/><use href="#r1f40" color="#49b34a"/><use href="#r1f41" color="#94cf40"/><use href="#r1f42" color="#48b34a"/><use href="#r1f43" color="#bed93f"/><use href="#r1f44" color="#4ab34a"/><use href="#r1f45" color="#2d40a2"/><use href="#r1f46" color="#30a550"/><use href="#r1f47" color="#56ba47"/><use href="#r1f48" color="#2c76b6"/><use href="#r1f49" color="#2c3a9c"/><use href="#r1f50" color="#2d40a2"/><use href="#r1f51" color="#55b947"/><use href="#r1f52" color="#84ca41"/><use href="#r1f53" color="#2d44a6"/><use href="#r1f54" color="#2d41a3"/><use href="#r1f55" color="#2e47a9"/><use href="#r1f56" color="#4eb549"/><use href="#r1f57" color="#62c045"/><use href="#r1f58" color="#30a453"/><use href="#r1f59" color="#2f4eaf"/><use href="#r1s0" color="#2e47a8"/><use href="#r1s1" color="#2e46a8"/><use href="#r1s2" color="#a9d53e"/><use href="#r1s3" color="#39aa4e"/><use href="#r1s4" color="#c5da3f"/><use href="#r1s5" color="#81c942"/><use href="#r1s6" color="#b0d63e"/><use href="#r1s7" color="#2e4bac"/><use href="#r1s8" color="#2d41a3"/><use href="#r1s9" color="#2e4aac"/><use href="#r1s10" color="#8fcd40"/><use href="#r1s11" color="#30a552"/><use href="#r1s12" color="#5ebe45"/><use href="#r1s13" color="#2c74b6"/><use href="#r1s14" color="#4cb549"/><use href="#r1s15" color="#2c3b9d"/><use href="#r1s16" color="#2d42a4"/><use href="#r1s17" color="#2a958c"/><use href="#r1s18" color="#2b3396"/><use href="#r1s19" color="#2f54b1"/><use href="#r1o"/><use href="#r1n"/></g>
<rect x="162.8" y="71.0" width="46.1" height="45.6" fill="url(#spk)"/>
<rect x="213.6" y="70.4" width="47.3" height="46.8" fill="none" stroke="#333" stroke-width="1.1"/>
<path d="M212.3 71.4V116.7M214.6 118.5H260.4" stroke="#333" stroke-width="1.5" stroke-dasharray="0.55 0.75" fill="none"/>
<g transform="translate(236.1 94.6)" fill="currentColor" stroke="currentColor" stroke-width="0.3"><use href="#r1f0" color="#2e4bac"/><use href="#r1f1" color="#4db549"/><use href="#r1f2" color="#8fcd40"/><use href="#r1f3" color="#66c144"/><use href="#r1f4" color="#8fcd40"/><use href="#r1f5" color="#5bbd46"/><use href="#r1f6" color="#74c543"/><use href="#r1f7" color="#76c643"/><use href="#r1f8" color="#4cb549"/><use href="#r1f9" color="#2c70b5"/><use href="#r1f10" color="#2d40a2"/><use href="#r1f11" color="#2b379a"/><use href="#r1f12" color="#6bc344"/><use href="#r1f13" color="#4cb549"/><use href="#r1f14" color="#53b948"/><use href="#r1f15" color="#68c244"/><use href="#r1f16" color="#77c643"/><use href="#r1f17" color="#3cab4d"/><use href="#r1f18" color="#82c942"/><use href="#r1f19" color="#55b947"/><use href="#r1f20" color="#73c543"/><use href="#r1f21" color="#77c643"/><use href="#r1f22" color="#4ab44a"/><use href="#r1f23" color="#46b14b"/><use href="#r1f24" color="#2e58b1"/><use href="#r1f25" color="#40ae4c"/><use href="#r1f26" color="#7ec842"/><use href="#r1f27" color="#46b14b"/><use href="#r1f28" color="#84ca41"/><use href="#r1f29" color="#53b948"/><use href="#r1f30" color="#53b848"/><use href="#r1f31" color="#46b14b"/><use href="#r1f32" color="#6dc344"/><use href="#r1f33" color="#48b34a"/><use href="#r1f34" color="#66c144"/><use href="#r1f35" color="#2e4bac"/><use href="#r1f36" color="#4bb44a"/><use href="#r1f37" color="#2d63b3"/><use href="#r1f38" color="#8dcd40"/><use href="#r1f39" color="#2e48aa"/><use href="#r1f40" color="#3aab4e"/><use href="#r1f41" color="#53b948"/><use href="#r1f42" color="#73c543"/><use href="#r1f43" color="#a2d33e"/><use href="#r1f44" color="#56ba47"/><use href="#r1f45" color="#4fb649"/><use href="#r1f46" color="#32a650"/><use href="#r1f47" color="#66c144"/><use href="#r1f48" color="#2c73b6"/><use href="#r1f49" color="#2e46a7"/><use href="#r1f50" color="#2c3b9e"/><use href="#r1f51" color="#85ca41"/><use href="#r1f52" color="#4bb44a"/><use href="#r1f53" color="#2e49aa"/><use href="#r1f54" color="#2d3fa1"/><use href="#r1f55" color="#2f4eaf"/><use href="#r1f56" color="#74c543"/><use href="#r1f57" color="#60bf45"/><use href="#r1f58" color="#44b04b"/><use href="#r1f59" color="#2e4aab"/><use href="#r1s0" color="#46b14b"/><use href="#r1s1" color="#2c3a9d"/><use href="#r1s2" color="#afd63e"/><use href="#r1s3" color="#51b748"/><use href="#r1s4" color="#b4d73e"/><use href="#r1s5" color="#54b948"/><use href="#r1s6" color="#b4d73e"/><use href="#r1s7" color="#2d45a6"/><use href="#r1s8" color="#2b3699"/><use href="#r1s9" color="#36a94e"/><use href="#r1s10" color="#60bf45"/><use href="#r1s11" color="#57bb47"/><use href="#r1s12" color="#78c643"/><use href="#r1s13" color="#2e59b2"/><use href="#r1s14" color="#6dc344"/><use href="#r1s15" color="#3ead4d"/><use href="#r1s16" color="#2f52b0"/><use href="#r1s17" color="#2a9194"/><use href="#r1s18" color="#2e48aa"/><use href="#r1s19" color="#2f4eaf"/><use href="#r1o"/><use href="#r1n"/></g>
<rect x="214.2" y="71.0" width="46.1" height="45.6" fill="url(#spk)"/>
<rect x="265.1" y="70.4" width="47.3" height="46.8" fill="none" stroke="#333" stroke-width="1.1"/>
<path d="M263.8 71.4V116.7M266.1 118.5H311.9" stroke="#333" stroke-width="1.5" stroke-dasharray="0.55 0.75" fill="none"/>
<g transform="translate(287.6 94.6)" fill="currentColor" stroke="currentColor" stroke-width="0.3"><use href="#r1f0" color="#48b24a"/><use href="#r1f1" color="#53b848"/><use href="#r1f2" color="#7dc842"/><use href="#r1f3" color="#42af4c"/><use href="#r1f4" color="#4bb44a"/><use href="#r1f5" color="#5cbe46"/><use href="#r1f6" color="#d0dd3f"/><use href="#r1f7" color="#c9db3f"/><use href="#r1f8" color="#4db549"/><use href="#r1f9" color="#abd53e"/><use href="#r1f10" color="#b3d73e"/><use href="#r1f11" color="#bcd83f"/><use href="#r1f12" color="#4db549"/><use href="#r1f13" color="#93ce40"/><use href="#r1f14" color="#b6d73f"/><use href="#r1f15" color="#3ead4d"/><use href="#r1f16" color="#38a94e"/><use href="#r1f17" color="#3fad4d"/><use href="#r1f18" color="#51b748"/><use href="#r1f19" color="#4eb649"/><use href="#r1f20" color="#e2dd3f"/><use href="#r1f21" color="#cedc3f"/><use href="#r1f22" color="#3ead4d"/><use href="#r1f23" color="#34a74f"/><use href="#r1f24" color="#bbd83f"/><use href="#r1f25" color="#a4d33e"/><use href="#r1f26" color="#cbdc3f"/><use href="#r1f27" color="#4ab44a"/><use href="#r1f28" color="#55ba47"/><use href="#r1f29" color="#4ab34a"/><use href="#r1f30" color="#3cab4d"/><use href="#r1f31" color="#30a550"/><use href="#r1f32" color="#53b848"/><use href="#r1f33" color="#42af4c"/><use href="#r1f34" color="#3aab4e"/><use href="#r1f35" color="#67c144"/><use href="#r1f36" color="#55ba47"/><use href="#r1f37" color="#aad53e"/><use href="#r1f38" color="#cadb3f"/><use href="#r1f39" color="#4eb649"/><use href="#r1f40" color="#3fae4c"/><use href="#r1f41" color="#3cab4d"/><use href="#r1f42" color="#48b24a"/><use href="#r1f43" color="#3bab4d"/><use href="#r1f44" color="#42af4c"/><use href="#r1f45" color="#45b04b"/><use href="#r1f46" color="#b8d83f"/><use href="#r1f47" color="#40ae4c"/><use href="#r1f48" color="#9dd13f"/><use href="#r1f49" color="#4fb649"/><use href="#r1f50" color="#c0d93f"/><use href="#r1f51" color="#51b848"/><use href="#r1f52" color="#4fb649"/><use href="#r1f53" color="#90cd40"/><use href="#r1f54" color="#a4d33e"/><use href="#r1f55" color="#5bbd46"/><use href="#r1f56" color="#49b34a"/><use href="#r1f57" color="#42af4c"/><use href="#r1f58" color="#c3da3f"/><use href="#r1f59" color="#4cb449"/><use href="#r1s0" color="#30a454"/><use href="#r1s1" color="#b2d63e"/><use href="#r1s2" color="#53b948"/><use href="#r1s3" color="#4cb44a"/><use href="#r1s4" color="#54b948"/><use href="#r1s5" color="#50b749"/><use href="#r1s6" color="#49b34a"/><use href="#r1s7" color="#d3dd40"/><use href="#r1s8" color="#d8de40"/><use href="#r1s9" color="#41ae4c"/><use href="#r1s10" color="#58bb47"/><use href="#r1s11" color="#4db549"/><use href="#r1s12" color="#3cab4d"/><use href="#r1s13" color="#42af4c"/><use href="#r1s14" color="#3cab4d"/><use href="#r1s15" color="#38a94e"/><use href="#r1s16" color="#58bb47"/><use href="#r1s17" color="#c4da3f"/><use href="#r1s18" color="#c2da3f"/><use href="#r1s19" color="#80c942"/><use href="#r1o"/><use href="#r1n"/></g>
<rect x="265.7" y="71.0" width="46.1" height="45.6" fill="url(#spk)"/>
<rect x="316.8" y="70.4" width="47.3" height="46.8" fill="none" stroke="#333" stroke-width="1.1"/>
<path d="M315.5 71.4V116.7M317.8 118.5H363.6" stroke="#333" stroke-width="1.5" stroke-dasharray="0.55 0.75" fill="none"/>
<g transform="translate(339.2 94.6)" fill="currentColor" stroke="currentColor" stroke-width="0.3"><use href="#r1f0" color="#35a84f"/><use href="#r1f1" color="#32a650"/><use href="#r1f2" color="#42af4c"/><use href="#r1f3" color="#47b24b"/><use href="#r1f4" color="#3ead4d"/><use href="#r1f5" color="#3fae4c"/><use href="#r1f6" color="#35a84f"/><use href="#r1f7" color="#42af4c"/><use href="#r1f8" color="#35a84f"/><use href="#r1f9" color="#30a453"/><use href="#r1f10" color="#3bab4d"/><use href="#r1f11" color="#39aa4e"/><use href="#r1f12" color="#3cac4d"/><use href="#r1f13" color="#36a84f"/><use href="#r1f14" color="#43b04b"/><use href="#r1f15" color="#2fa456"/><use href="#r1f16" color="#30a550"/><use href="#r1f17" color="#34a74f"/><use href="#r1f18" color="#43af4c"/><use href="#r1f19" color="#32a650"/><use href="#r1f20" color="#3cac4d"/><use href="#r1f21" color="#3aab4e"/><use href="#r1f22" color="#43af4c"/><use href="#r1f23" color="#3dac4d"/><use href="#r1f24" color="#2fa456"/><use href="#r1f25" color="#3dac4d"/><use href="#r1f26" color="#32a64f"/><use href="#r1f27" color="#34a74f"/><use href="#r1f28" color="#30a551"/><use href="#r1f29" color="#3aaa4e"/><use href="#r1f30" color="#42af4c"/><use href="#r1f31" color="#3bab4d"/><use href="#r1f32" color="#40ae4c"/><use href="#r1f33" color="#3bab4d"/><use href="#r1f34" color="#30a454"/><use href="#r1f35" color="#36a84f"/><use href="#r1f36" color="#37a94e"/><use href="#r1f37" color="#32a650"/><use href="#r1f38" color="#3aaa4e"/><use href="#r1f39" color="#49b34a"/><use href="#r1f40" color="#3aaa4e"/><use href="#r1f41" color="#3dac4d"/><use href="#r1f42" color="#41af4c"/><use href="#r1f43" color="#39aa4e"/><use href="#r1f44" color="#43af4c"/><use href="#r1f45" color="#47b24b"/><use href="#r1f46" color="#3ead4d"/><use href="#r1f47" color="#30a552"/><use href="#r1f48" color="#30a550"/><use href="#r1f49" color="#47b24b"/><use href="#r1f50" color="#3cac4d"/><use href="#r1f51" color="#3dac4d"/><use href="#r1f52" color="#39aa4e"/><use href="#r1f53" color="#3bab4d"/><use href="#r1f54" color="#40ae4c"/><use href="#r1f55" color="#35a84f"/><use href="#r1f56" color="#46b14b"/><use href="#r1f57" color="#30a453"/><use href="#r1f58" color="#3fad4d"/><use href="#r1f59" color="#3cac4d"/><use href="#r1s0" color="#49b34a"/><use href="#r1s1" color="#2fa357"/><use href="#r1s2" color="#35a84f"/><use href="#r1s3" color="#2fa357"/><use href="#r1s4" color="#49b34a"/><use href="#r1s5" color="#2ea161"/><use href="#r1s6" color="#2da068"/><use href="#r1s7" color="#3bab4d"/><use href="#r1s8" color="#30a550"/><use href="#r1s9" color="#30a454"/><use href="#r1s10" color="#33a74f"/><use href="#r1s11" color="#33a74f"/><use href="#r1s12" color="#2fa455"/><use href="#r1s13" color="#30a452"/><use href="#r1s14" color="#2fa454"/><use href="#r1s15" color="#30a454"/><use href="#r1s16" color="#42af4c"/><use href="#r1s17" color="#2ea25f"/><use href="#r1s18" color="#38aa4e"/><use href="#r1s19" color="#30a551"/><use href="#r1o"/><use href="#r1n"/></g>
<rect x="317.4" y="71.0" width="46.1" height="45.6" fill="url(#spk)"/>
<rect x="368.3" y="70.4" width="47.3" height="46.8" fill="none" stroke="#333" stroke-width="1.1"/>
<path d="M367.0 71.4V116.7M369.3 118.5H415.1" stroke="#333" stroke-width="1.5" stroke-dasharray="0.55 0.75" fill="none"/>
<g transform="translate(390.8 94.6)" fill="currentColor" stroke="currentColor" stroke-width="0.3"><use href="#r1f0" color="#94cf40"/><use href="#r1f1" color="#6ac244"/><use href="#r1f2" color="#c5da3f"/><use href="#r1f3" color="#74c543"/><use href="#r1f4" color="#a9d53e"/><use href="#r1f5" color="#71c443"/><use href="#r1f6" color="#a3d33e"/><use href="#r1f7" color="#9ad03f"/><use href="#r1f8" color="#6fc443"/><use href="#r1f9" color="#9bd13f"/><use href="#r1f10" color="#c1da3f"/><use href="#r1f11" color="#bcd93f"/><use href="#r1f12" color="#70c443"/><use href="#r1f13" color="#7bc742"/><use href="#r1f14" color="#9dd13f"/><use href="#r1f15" color="#8ecd40"/><use href="#r1f16" color="#86ca41"/><use href="#r1f17" color="#52b848"/><use href="#r1f18" color="#80c942"/><use href="#r1f19" color="#7dc842"/><use href="#r1f20" color="#9dd13f"/><use href="#r1f21" color="#a2d33e"/><use href="#r1f22" color="#b0d63e"/><use href="#r1f23" color="#abd53e"/><use href="#r1f24" color="#a5d43e"/><use href="#r1f25" color="#9bd13f"/><use href="#r1f26" color="#aed63e"/><use href="#r1f27" color="#73c543"/><use href="#r1f28" color="#87cb41"/><use href="#r1f29" color="#5cbd46"/><use href="#r1f30" color="#44b04b"/><use href="#r1f31" color="#b8d83f"/><use href="#r1f32" color="#7fc842"/><use href="#r1f33" color="#53b848"/><use href="#r1f34" color="#6dc344"/><use href="#r1f35" color="#98d03f"/><use href="#r1f36" color="#6bc344"/><use href="#r1f37" color="#97d03f"/><use href="#r1f38" color="#97d03f"/><use href="#r1f39" color="#78c643"/><use href="#r1f40" color="#76c643"/><use href="#r1f41" color="#bbd83f"/><use href="#r1f42" color="#98d03f"/><use href="#r1f43" color="#8dcd40"/><use href="#r1f44" color="#4ab34a"/><use href="#r1f45" color="#58bb47"/><use href="#r1f46" color="#add53e"/><use href="#r1f47" color="#71c443"/><use href="#r1f48" color="#a8d43e"/><use href="#r1f49" color="#8acc41"/><use href="#r1f50" color="#c9db3f"/><use href="#r1f51" color="#70c443"/><use href="#r1f52" color="#c7db3f"/><use href="#r1f53" color="#9fd23f"/><use href="#r1f54" color="#bdd93f"/><use href="#r1f55" color="#9ad03f"/><use href="#r1f56" color="#87cb41"/><use href="#r1f57" color="#8acc41"/><use href="#r1f58" color="#a7d43e"/><use href="#r1f59" color="#8ecd40"/><use href="#r1s0" color="#7ac742"/><use href="#r1s1" color="#afd63e"/><use href="#r1s2" color="#79c742"/><use href="#r1s3" color="#4db549"/><use href="#r1s4" color="#8ccc41"/><use href="#r1s5" color="#73c543"/><use href="#r1s6" color="#7bc742"/><use href="#r1s7" color="#9cd13f"/><use href="#r1s8" color="#b3d73e"/><use href="#r1s9" color="#66c144"/><use href="#r1s10" color="#88cb41"/><use href="#r1s11" color="#56ba47"/><use href="#r1s12" color="#62c045"/><use href="#r1s13" color="#95cf40"/><use href="#r1s14" color="#6dc344"/><use href="#r1s15" color="#54b947"/><use href="#r1s16" color="#a1d33e"/><use href="#r1s17" color="#94cf40"/><use href="#r1s18" color="#a1d33e"/><use href="#r1s19" color="#76c643"/><use href="#r1o"/><use href="#r1n"/></g>
<rect x="368.9" y="71.0" width="46.1" height="45.6" fill="url(#spk)"/>
<rect x="441.6" y="70.4" width="47.3" height="46.8" fill="none" stroke="#333" stroke-width="1.1"/>
<path d="M440.3 71.4V116.7M442.6 118.5H488.4" stroke="#333" stroke-width="1.5" stroke-dasharray="0.55 0.75" fill="none"/>
<g transform="translate(464.1 94.6)" fill="currentColor" stroke="currentColor" stroke-width="0.3"><use href="#r1f0" color="#e9ebf1"/><use href="#r1f1" color="#e9ebf1"/><use href="#r1f2" color="#f2a85e"/><use href="#r1f3" color="#e9ebf1"/><use href="#r1f4" color="#e9ebf1"/><use href="#r1f5" color="#f2a85e"/><use href="#r1f6" color="#f2a85e"/><use href="#r1f7" color="#f2a85e"/><use href="#r1f8" color="#e9ebf1"/><use href="#r1f9" color="#f2a85e"/><use href="#r1f10" color="#f2a85e"/><use href="#r1f11" color="#f2a85e"/><use href="#r1f12" color="#e9ebf1"/><use href="#r1f13" color="#f2a85e"/><use href="#r1f14" color="#f2a85e"/><use href="#r1f15" color="#f2a85e"/><use href="#r1f16" color="#e9ebf1"/><use href="#r1f17" color="#e9ebf1"/><use href="#r1f18" color="#e9ebf1"/><use href="#r1f19" color="#e9ebf1"/><use href="#r1f20" color="#f2a85e"/><use href="#r1f21" color="#f2a85e"/><use href="#r1f22" color="#e9ebf1"/><use href="#r1f23" color="#e9ebf1"/><use href="#r1f24" color="#f2a85e"/><use href="#r1f25" color="#f2a85e"/><use href="#r1f26" color="#f2a85e"/><use href="#r1f27" color="#e9ebf1"/><use href="#r1f28" color="#f2a85e"/><use href="#r1f29" color="#e9ebf1"/><use href="#r1f30" color="#e9ebf1"/><use href="#r1f31" color="#e9ebf1"/><use href="#r1f32" color="#e9ebf1"/><use href="#r1f33" color="#e9ebf1"/><use href="#r1f34" color="#e9ebf1"/><use href="#r1f35" color="#f2a85e"/><use href="#r1f36" color="#e9ebf1"/><use href="#r1f37" color="#f2a85e"/><use href="#r1f38" color="#f2a85e"/><use href="#r1f39" color="#e9ebf1"/><use href="#r1f40" color="#e9ebf1"/><use href="#r1f41" color="#e9ebf1"/><use href="#r1f42" color="#e9ebf1"/><use href="#r1f43" color="#e9ebf1"/><use href="#r1f44" color="#e9ebf1"/><use href="#r1f45" color="#e9ebf1"/><use href="#r1f46" color="#f2a85e"/><use href="#r1f47" color="#e9ebf1"/><use href="#r1f48" color="#f2a85e"/><use href="#r1f49" color="#e9ebf1"/><use href="#r1f50" color="#f2a85e"/><use href="#r1f51" color="#e9ebf1"/><use href="#r1f52" color="#f2a85e"/><use href="#r1f53" color="#e9ebf1"/><use href="#r1f54" color="#f2a85e"/><use href="#r1f55" color="#e9ebf1"/><use href="#r1f56" color="#e9ebf1"/><use href="#r1f57" color="#e9ebf1"/><use href="#r1f58" color="#f2a85e"/><use href="#r1f59" color="#e9ebf1"/><use href="#r1s0" color="#e9ebf1"/><use href="#r1s1" color="#e9ebf1"/><use href="#r1s2" color="#e9ebf1"/><use href="#r1s3" color="#e9ebf1"/><use href="#r1s4" color="#e9ebf1"/><use href="#r1s5" color="#e9ebf1"/><use href="#r1s6" color="#e9ebf1"/><use href="#r1s7" color="#e9ebf1"/><use href="#r1s8" color="#e9ebf1"/><use href="#r1s9" color="#e9ebf1"/><use href="#r1s10" color="#e9ebf1"/><use href="#r1s11" color="#e9ebf1"/><use href="#r1s12" color="#e9ebf1"/><use href="#r1s13" color="#e9ebf1"/><use href="#r1s14" color="#e9ebf1"/><use href="#r1s15" color="#e9ebf1"/><use href="#r1s16" color="#e9ebf1"/><use href="#r1s17" color="#f2a85e"/><use href="#r1s18" color="#e9ebf1"/><use href="#r1s19" color="#e9ebf1"/><use href="#r1o"/><use href="#r1n"/></g>
<rect x="442.2" y="71.0" width="46.1" height="45.6" fill="url(#spk)"/>
<defs><path id="r2f0" d="M5.3 -12.1 6.4 -8.2 11.6 -9.1 11.6 -11.2 8.2 -15.1 5.7 -13.4Z"/><path id="r2f1" d="M-15.7 5.5 -18.3 6.4 -17.0 7.6 -16.2 9.3 -15.1 10.9 -14.3 10.7 -14.1 7.5Z"/><path id="r2f2" d="M-10.6 -10.6 -14.5 -12.2 -15.4 -11.4 -15.3 -7.8 -13.4 -5.9Z"/><path id="r2f3" d="M-4.3 0.6 -4.2 0.2 -6.2 -2.0 -8.1 -2.4 -12.3 1.5 -8.8 4.1Z"/><path id="r2f4" d="M6.7 -0.7 8.4 -3.6 6.3 -7.9 2.2 -5.9 3.3 -2.7Z"/><path id="r2f5" d="M-13.8 -4.2 -13.2 -5.2 -13.4 -5.9 -15.3 -7.8 -19.1 -7.3 -20.5 -4.4 -20.6 -3.4Z"/><path id="r2f6" d="M16.2 -5.7 14.8 -7.7 12.1 -8.5 10.5 -4.1 13.8 -1.8 14.3 -2.0Z"/><path id="r2f7" d="M13.7 3.7 13.9 3.4 13.0 -0.4 8.7 0.9 9.6 4.9Z"/><path id="r2f8" d="M-7.2 11.0 -6.3 13.2 -2.0 14.1 -0.7 10.8 -1.8 7.5Z"/><path id="r2f9" d="M9.2 12.1 9.7 13.2 13.6 12.9 14.9 8.5 10.4 8.2Z"/><path id="r2f10" d="M-8.8 4.1 -12.3 1.5 -13.2 1.4 -14.1 1.9 -15.7 5.5 -14.1 7.5 -9.4 7.6 -8.6 5.2Z"/><path id="r2f11" d="M2.1 2.8 0.8 -0.2 -2.5 -0.8 -4.2 0.2 -4.3 0.6 -1.0 6.1 -0.3 5.9Z"/><path id="r2f12" d="M17.7 2.6 13.9 3.4 13.7 3.7 15.4 8.1 16.4 8.2 16.8 7.5 18.4 6.0 18.7 5.0 18.6 3.4Z"/><path id="r2f13" d="M-5.5 -11.8 -4.6 -13.0 -4.8 -14.8 -7.7 -16.3 -9.6 -14.7 -9.0 -11.0Z"/><path id="r2f14" d="M-9.9 -5.0 -13.2 -5.2 -13.8 -4.2 -13.2 1.4 -12.3 1.5 -8.1 -2.4Z"/><path id="r2f15" d="M-8.9 10.0 -12.0 12.1 -12.2 14.2 -7.9 16.2 -6.3 13.2 -7.2 11.0Z"/><path id="r2f16" d="M6.3 -7.9 6.4 -8.2 5.3 -12.1 0.1 -10.4 -0.6 -7.0 2.2 -5.9Z"/><path id="r2f17" d="M1.6 -16.1 5.7 -13.4 8.2 -15.1 9.3 -17.9 4.1 -19.5 2.0 -19.5Z"/><path id="r2f18" d="M4.7 7.9 6.4 6.1 4.1 2.6 2.1 2.8 -0.3 5.9Z"/><path id="r2f19" d="M7.3 15.6 3.4 15.6 1.5 17.6 2.0 19.6 3.0 19.2 6.1 18.7 7.6 18.2Z"/><path id="r2f20" d="M9.2 12.1 10.4 8.2 9.1 5.7 6.4 6.1 4.7 7.9 4.9 10.6Z"/><path id="r2f21" d="M-14.1 1.9 -13.2 1.4 -13.8 -4.2 -20.6 -3.4 -20.1 -0.5Z"/><path id="r2f22" d="M-4.3 0.6 -8.8 4.1 -8.6 5.2 -1.8 7.4 -1.0 6.1Z"/><path id="r2f23" d="M13.6 12.9 9.7 13.2 9.6 13.5 11.5 17.1 15.4 14.3Z"/><path id="r2f24" d="M15.1 -14.1 12.9 -14.4 12.0 -14.9 10.8 -16.7 10.1 -17.5 9.3 -17.9 8.2 -15.1 11.6 -11.2Z"/><path id="r2f25" d="M13.9 3.4 17.7 2.6 17.5 -0.0 14.3 -2.0 13.8 -1.8 13.0 -0.4Z"/><path id="r2f26" d="M16.2 -5.7 14.3 -2.0 17.5 -0.0 18.7 -0.8 18.5 -2.9 18.7 -5.5Z"/><path id="r2f27" d="M6.4 6.1 9.1 5.7 9.6 4.9 8.7 0.9 6.8 -0.6 4.1 2.6Z"/><path id="r2f28" d="M13.0 -0.4 13.8 -1.8 10.5 -4.1 8.4 -3.6 6.7 -0.7 8.7 0.9Z"/><path id="r2f29" d="M14.8 -7.7 16.2 -5.7 18.7 -5.5 18.6 -7.1 18.0 -9.2 17.6 -11.8Z"/><path id="r2f30" d="M3.3 -2.7 2.2 -5.9 -0.5 -6.8 -2.5 -0.8 0.8 -0.2Z"/><path id="r2f31" d="M14.9 8.5 15.4 8.1 13.7 3.7 9.6 4.9 9.1 5.7 10.4 8.2Z"/><path id="r2f32" d="M-9.6 -14.7 -10.3 -15.0 -10.6 -14.5 -11.3 -14.0 -13.2 -13.2 -14.5 -12.2 -10.6 -10.6 -9.0 -10.9Z"/><path id="r2f33" d="M-9.0 -10.9 -7.9 -7.3 -4.9 -6.5 -3.1 -7.3 -5.5 -11.8Z"/><path id="r2f34" d="M-9.9 -5.0 -8.1 -2.4 -6.2 -2.0 -4.9 -6.5 -7.9 -7.3Z"/><path id="r2f35" d="M-10.6 -10.6 -13.4 -5.9 -13.2 -5.2 -9.9 -5.0 -7.9 -7.3 -9.0 -10.9Z"/><path id="r2f36" d="M-2.0 14.1 -1.2 16.1 1.5 17.6 3.4 15.6 3.7 11.6 -0.7 10.8Z"/><path id="r2f37" d="M-1.8 7.4 -8.6 5.2 -9.4 7.6 -8.9 10.0 -7.2 11.0Z"/><path id="r2f38" d="M-9.6 -14.7 -7.7 -16.3 -7.8 -18.8 -8.3 -18.7 -9.1 -17.9 -10.3 -15.0Z"/><path id="r2f39" d="M10.5 -4.1 12.1 -8.5 11.6 -9.1 6.4 -8.2 6.3 -7.9 8.4 -3.6Z"/><path id="r2f40" d="M-15.3 -7.8 -15.4 -11.4 -18.0 -9.2 -19.1 -7.3Z"/><path id="r2f41" d="M0.6 -15.5 1.6 -16.1 2.0 -19.5 -1.0 -19.7 -2.1 -19.5 -3.6 -18.9 -3.3 -16.6Z"/><path id="r2f42" d="M-3.1 -7.3 -0.6 -7.0 0.1 -10.4 -0.7 -12.2 -4.6 -13.0 -5.5 -11.8Z"/><path id="r2f43" d="M-1.2 16.1 -2.0 14.1 -6.3 13.2 -7.9 16.2 -7.6 18.3 -4.8 18.1 -4.3 18.3Z"/><path id="r2f44" d="M-15.7 5.5 -14.1 1.9 -20.1 -0.5 -20.3 1.1 -21.0 3.3 -20.8 4.4 -19.9 5.3 -18.3 6.4Z"/><path id="r2f45" d="M0.1 -10.4 5.3 -12.1 5.7 -13.4 1.6 -16.1 0.6 -15.5 -0.7 -12.2Z"/><path id="r2f46" d="M0.6 -15.5 -3.3 -16.6 -4.8 -14.8 -4.6 -13.0 -0.7 -12.2Z"/><path id="r2f47" d="M-1.0 6.1 -1.8 7.5 -0.7 10.8 3.7 11.6 4.9 10.6 4.7 7.9 -0.3 5.9Z"/><path id="r2f48" d="M-12.6 14.7 -9.1 17.9 -8.1 18.3 -7.6 18.3 -7.9 16.2 -12.2 14.2Z"/><path id="r2f49" d="M-9.4 7.6 -14.1 7.5 -14.3 10.7 -12.0 12.1 -8.9 10.0Z"/><path id="r2f50" d="M6.8 -0.6 6.7 -0.7 3.3 -2.7 0.8 -0.2 2.1 2.8 4.1 2.6Z"/><path id="r2f51" d="M9.6 13.5 7.3 15.6 7.6 18.2 11.5 17.1Z"/><path id="r2f52" d="M15.4 8.1 14.9 8.5 13.6 12.9 15.4 14.3 16.4 13.3 16.7 12.1 16.3 9.4 16.4 8.2Z"/><path id="r2f53" d="M3.4 15.6 7.3 15.6 9.6 13.5 9.7 13.2 9.2 12.1 4.9 10.6 3.7 11.6Z"/><path id="r2f54" d="M18.6 3.4 18.4 1.9 18.7 -0.8 17.5 -0.0 17.7 2.6Z"/><path id="r2f55" d="M1.5 17.6 -1.2 16.1 -4.3 18.3 -3.9 18.4 -2.1 20.0 -1.1 20.5 0.0 20.5 2.0 19.6Z"/><path id="r2f56" d="M-7.7 -16.3 -4.8 -14.8 -3.3 -16.6 -3.6 -18.9 -5.0 -18.6 -7.3 -18.9 -7.8 -18.8Z"/><path id="r2f57" d="M-12.2 14.2 -12.0 12.1 -14.3 10.7 -15.1 10.9 -13.0 14.4 -12.6 14.7Z"/><path id="r2f58" d="M-4.9 -6.5 -6.2 -2.0 -4.2 0.2 -2.5 -0.8 -0.5 -6.8 -0.6 -7.0 -3.1 -7.3Z"/><path id="r2f59" d="M12.1 -8.5 14.8 -7.7 17.6 -11.8 17.4 -12.7 16.7 -13.5 15.1 -14.1 11.6 -11.2 11.6 -9.1Z"/><path id="r2s0" d="M-5.6 -20.3 -6.1 -20.7 -6.7 -20.9 -7.4 -20.7 -7.8 -20.3 -8.0 -19.6 -7.9 -19.2 -7.2 -19.3 -5.6 -19.1 -5.5 -19.6Z"/><path id="r2s1" d="M16.3 -15.8 15.8 -16.3 15.1 -16.5 14.3 -16.3 13.8 -15.8 13.6 -15.1 13.7 -14.7 16.2 -14.2 16.5 -15.1Z"/><path id="r2s2" d="M12.3 -16.6 11.7 -17.0 11.3 -16.8 12.0 -15.7 12.3 -16.0Z"/><path id="r2s3" d="M21.0 -1.2 20.6 -1.6 20.0 -1.8 19.5 -1.6 19.1 -1.3 19.1 -0.1 19.5 0.3 20.0 0.4 20.6 0.3 21.0 -0.1 21.1 -0.7Z"/><path id="r2s4" d="M-16.6 -11.1 -17.0 -11.5 -17.6 -11.7 -18.2 -11.5 -18.6 -11.1 -18.8 -10.5 -18.6 -9.9 -18.3 -9.6Z"/><path id="r2s5" d="M-14.1 13.5 -14.8 13.1 -15.2 13.2 -15.6 13.9 -15.5 14.2 -14.8 14.6 -14.4 14.5 -14.0 13.9Z"/><path id="r2s6" d="M-5.0 19.4 -5.3 18.6 -7.8 18.8 -8.0 19.4 -7.8 20.2 -7.2 20.7 -6.5 20.9 -5.7 20.7 -5.2 20.2Z"/><path id="r2s7" d="M-10.2 -18.0 -10.7 -18.1 -11.3 -18.0 -11.8 -17.5 -11.9 -16.9 -11.8 -16.4 -11.3 -15.9 -10.4 -15.9 -9.8 -17.6Z"/><path id="r2s8" d="M-20.8 5.0 -21.1 5.5 -20.7 6.2 -20.3 6.3 -19.7 6.0Z"/><path id="r2s9" d="M17.5 12.3 17.1 11.4 17.2 12.2 16.7 13.6 17.3 13.1Z"/><path id="r2s10" d="M21.2 5.0 20.7 4.5 19.9 4.3 19.2 4.5 19.2 5.2 18.6 6.5 19.2 7.0 19.9 7.2 20.7 7.0 21.2 6.5 21.4 5.8Z"/><path id="r2s11" d="M20.3 5.8 19.9 5.4 19.1 5.2 18.7 6.2 18.1 6.9 18.1 7.1 18.6 7.5 19.2 7.7 19.9 7.5 20.3 7.1 20.5 6.5Z"/><path id="r2s12" d="M18.1 9.6 17.6 9.1 16.8 9.0 17.1 11.4 17.6 11.3 18.1 10.8 18.3 10.2Z"/><path id="r2s13" d="M19.5 9.1 18.7 8.7 18.3 8.8 18.0 9.1 18.0 10.0 18.3 10.3 19.2 10.3 19.5 10.0Z"/><path id="r2s14" d="M-16.1 12.5 -16.8 12.1 -17.1 12.2 -17.5 12.9 -17.4 13.3 -16.8 13.7 -16.4 13.6 -16.0 12.9Z"/><path id="r2s15" d="M19.9 1.1 19.6 0.8 19.0 0.7 18.9 2.4 19.6 2.3 19.9 2.0Z"/><path id="r2s16" d="M-2.1 20.5 -2.0 21.5 -1.6 21.9 -0.9 22.1 -0.2 21.9 0.2 21.5 0.4 20.8 -1.2 21.0Z"/><path id="r2s17" d="M21.3 6.0 20.9 5.6 20.3 5.4 19.7 5.6 19.3 6.0 19.1 6.6 19.3 7.1 19.7 7.6 20.3 7.7 20.9 7.6 21.3 7.1 21.4 6.6Z"/><path id="r2s18" d="M-14.9 -13.4 -15.4 -13.9 -16.1 -14.1 -16.9 -13.9 -17.4 -13.4 -17.6 -12.7 -17.4 -12.0 -16.9 -11.5 -16.3 -11.3 -14.7 -12.7Z"/><path id="r2s19" d="M-11.6 16.3 -11.8 16.7 -11.6 17.2 -11.3 17.5 -10.9 17.6 -10.3 17.4Z"/><path id="r2s20" d="M-9.2 -18.5 -10.1 -18.3 -10.6 -17.9 -10.7 -17.2 -10.6 -16.6 -10.2 -16.3 -9.5 -18.1Z"/><path id="r2s21" d="M-16.0 -12.5 -16.4 -12.8 -16.9 -13.0 -17.3 -12.8 -17.7 -12.5 -17.8 -12.0 -17.7 -11.6 -17.3 -11.2 -16.9 -11.1 -16.4 -11.2 -16.0 -11.6 -15.9 -12.0Z"/><path id="r2o" fill="none" stroke="#fff" stroke-width="0.6" d="M8.2 -15.1 9.3 -17.9 9.1 -18.0 4.1 -19.5 -1.0 -19.7 -3.6 -18.9 -3.3 -16.6 -4.8 -14.8 -4.6 -13.0 -5.5 -11.8 -9.0 -10.9 -7.9 -7.3 -4.9 -6.5 -3.1 -7.3 -0.6 -7.0 0.1 -10.4 5.3 -12.1 5.7 -13.4 8.2 -15.1M13.7 3.7 9.6 4.9 9.1 5.7 6.4 6.1 4.7 7.9 4.9 10.6 9.2 12.1 9.7 13.2 9.6 13.5 11.5 17.1 15.7 14.1 16.4 13.3 16.7 12.1 16.4 8.3 16.8 7.5 18.4 6.0 18.7 5.0 18.6 3.4 17.7 2.6 13.9 3.4 13.7 3.7M-13.2 1.4 -14.1 1.9 -15.7 5.5 -18.3 6.4 -17.0 7.6 -16.2 9.3 -12.6 14.7 -12.2 14.2 -12.0 12.1 -8.9 10.0 -9.4 7.6 -8.6 5.2 -8.8 4.1 -12.3 1.5 -13.2 1.4M0.1 -10.4 -0.6 -7.0 -0.5 -6.8 -2.5 -0.8 0.8 -0.2 2.1 2.8 4.1 2.6 6.8 -0.6 8.4 -3.6 10.5 -4.1 12.1 -8.5 11.6 -9.1 6.4 -8.2 5.3 -12.1 0.1 -10.4M-9.4 7.6 -8.9 10.0 -12.0 12.1 -12.2 14.2 -12.6 14.7 -12.3 15.1 -9.1 17.9 -8.1 18.3 -4.8 18.1 -3.9 18.4 -2.1 20.0 -1.1 20.5 0.0 20.5 2.0 19.6 1.5 17.6 -1.2 16.1 -2.0 14.1 -0.7 10.8 -1.8 7.4 -8.6 5.2 -9.4 7.6M-1.8 7.5 -0.7 10.8 -2.0 14.1 -1.2 16.1 1.5 17.6 2.0 19.6 3.0 19.2 6.1 18.7 11.5 17.1 9.6 13.5 9.7 13.2 9.2 12.1 4.9 10.6 4.7 7.9 -0.3 5.9 -1.0 6.1 -1.8 7.5M8.4 -3.6 6.8 -0.6 4.1 2.6 6.4 6.1 9.1 5.7 9.6 4.9 13.7 3.7 13.9 3.4 17.7 2.6 18.6 3.4 18.4 1.9 18.7 -0.8 17.5 -0.0 14.3 -2.0 13.8 -1.8 10.5 -4.1 8.4 -3.6M-2.5 -0.8 -0.5 -6.8 -0.6 -7.0 -3.1 -7.3 -4.9 -6.5 -7.9 -7.3 -9.9 -5.0 -13.2 -5.2 -13.8 -4.2 -13.2 1.4 -12.3 1.5 -8.8 4.1 -4.3 0.6 -4.2 0.2 -2.5 -0.8M0.8 -0.2 -2.5 -0.8 -4.2 0.2 -4.3 0.6 -8.8 4.1 -8.6 5.2 -1.8 7.4 -1.0 6.1 -0.3 5.9 4.7 7.9 6.4 6.1 4.1 2.6 2.1 2.8 0.8 -0.2M12.9 -14.4 12.0 -14.9 10.8 -16.7 10.1 -17.5 9.3 -17.9 8.2 -15.1 5.7 -13.4 5.3 -12.1 6.4 -8.2 11.6 -9.1 12.1 -8.5 10.5 -4.1 13.8 -1.8 14.3 -2.0 17.5 -0.0 18.7 -0.8 18.5 -2.9 18.7 -6.1 17.4 -12.7 16.7 -13.5 15.6 -14.0 12.9 -14.4M-13.2 -5.2 -13.4 -5.9 -15.3 -7.8 -19.1 -7.3 -20.1 -5.4 -20.6 -3.3 -20.0 0.0 -21.0 3.3 -20.8 4.4 -19.9 5.3 -18.3 6.4 -15.7 5.5 -14.1 1.9 -13.2 1.4 -13.8 -4.2 -13.2 -5.2M-10.6 -14.5 -14.1 -12.7 -18.0 -9.2 -19.1 -7.3 -15.3 -7.8 -13.4 -5.9 -13.2 -5.2 -9.9 -5.0 -7.9 -7.3 -9.0 -10.9 -9.6 -14.7 -10.3 -15.0 -10.6 -14.5M-3.3 -16.6 -3.6 -18.9 -5.0 -18.6 -7.3 -18.9 -8.3 -18.7 -9.1 -17.9 -10.3 -15.0 -9.6 -14.7 -9.0 -11.0 -5.5 -11.8 -4.6 -13.0 -4.8 -14.8 -3.3 -16.6"/><path id="r2n" fill="#fff" stroke="none" d="M-15.2 12.0a1.1 1.1 0 1 0 2.2 0a1.1 1.1 0 1 0 -2.2 0M-10.6 17.1a1.1 1.1 0 1 0 2.2 0a1.1 1.1 0 1 0 -2.2 0M18.7 -2.6a0.7 0.7 0 1 0 1.4 0a0.7 0.7 0 1 0 -1.4 0M-6.7 -18.3a1.1 1.1 0 1 0 2.1 0a1.1 1.1 0 1 0 -2.1 0M-15.6 12.0a0.6 0.6 0 1 0 1.3 0a0.6 0.6 0 1 0 -1.3 0M10.4 -15.9a1.1 1.1 0 1 0 2.1 0a1.1 1.1 0 1 0 -2.1 0M17.4 6.6a1.1 1.1 0 1 0 2.3 0a1.1 1.1 0 1 0 -2.3 0M17.0 7.1a1.3 1.3 0 1 0 2.5 0a1.3 1.3 0 1 0 -2.5 0M-9.9 -17.1a1.1 1.1 0 1 0 2.2 0a1.1 1.1 0 1 0 -2.2 0M10.8 14.8a0.6 0.6 0 1 0 1.2 0a0.6 0.6 0 1 0 -1.2 0"/></defs>
<rect x="162.2" y="121.8" width="47.3" height="46.8" fill="none" stroke="#333" stroke-width="1.1"/>
<path d="M160.9 122.8V168.1M163.2 169.9H209.0" stroke="#333" stroke-width="1.5" stroke-dasharray="0.55 0.75" fill="none"/>
<g transform="translate(184.7 146.0)" fill="currentColor" stroke="currentColor" stroke-width="0.3"><use href="#r2f0" color="#2e5db2"/><use href="#r2f1" color="#4fb649"/><use href="#r2f2" color="#b5d73f"/><use href="#r2f3" color="#2b9c78"/><use href="#r2f4" color="#2c9d74"/><use href="#r2f5" color="#8dcd40"/><use href="#r2f6" color="#2e60b3"/><use href="#r2f7" color="#2d43a5"/><use href="#r2f8" color="#a8d43e"/><use href="#r2f9" color="#2fa359"/><use href="#r2f10" color="#4ab34a"/><use href="#r2f11" color="#2b89a4"/><use href="#r2f12" color="#2c9d71"/><use href="#r2f13" color="#8dcd40"/><use href="#r2f14" color="#2da065"/><use href="#r2f15" color="#8ecd40"/><use href="#r2f16" color="#30a550"/><use href="#r2f17" color="#b8d83f"/><use href="#r2f18" color="#2b8b9f"/><use href="#r2f19" color="#2e4cad"/><use href="#r2f20" color="#2d9f69"/><use href="#r2f21" color="#81c942"/><use href="#r2f22" color="#2b89a4"/><use href="#r2f23" color="#2c9e6f"/><use href="#r2f24" color="#2f4fb0"/><use href="#r2f25" color="#2e46a7"/><use href="#r2f26" color="#2d63b3"/><use href="#r2f27" color="#2e49aa"/><use href="#r2f28" color="#2d40a1"/><use href="#r2f29" color="#2e57b1"/><use href="#r2f30" color="#2d9f69"/><use href="#r2f31" color="#2ea163"/><use href="#r2f32" color="#bcd83f"/><use href="#r2f33" color="#afd63e"/><use href="#r2f34" color="#2ea162"/><use href="#r2f35" color="#bed93f"/><use href="#r2f36" color="#2f4fb0"/><use href="#r2f37" color="#82c942"/><use href="#r2f38" color="#97cf40"/><use href="#r2f39" color="#2b9d75"/><use href="#r2f40" color="#bad83f"/><use href="#r2f41" color="#9ed23f"/><use href="#r2f42" color="#a5d43e"/><use href="#r2f43" color="#76c643"/><use href="#r2f44" color="#7dc842"/><use href="#r2f45" color="#9bd13f"/><use href="#r2f46" color="#bad83f"/><use href="#r2f47" color="#2e57b1"/><use href="#r2f48" color="#a1d23f"/><use href="#r2f49" color="#42af4c"/><use href="#r2f50" color="#2c9e6d"/><use href="#r2f51" color="#2f4eaf"/><use href="#r2f52" color="#2ea25f"/><use href="#r2f53" color="#2f51b0"/><use href="#r2f54" color="#2e46a8"/><use href="#r2f55" color="#8bcc41"/><use href="#r2f56" color="#90cd40"/><use href="#r2f57" color="#56ba47"/><use href="#r2f58" color="#2a9a7e"/><use href="#r2f59" color="#2f4eaf"/><use href="#r2s0" color="#aad53e"/><use href="#r2s1" color="#2c3b9d"/><use href="#r2s2" color="#2b3497"/><use href="#r2s3" color="#2e4bac"/><use href="#r2s4" color="#e8d239"/><use href="#r2s5" color="#87cb41"/><use href="#r2s6" color="#5dbe45"/><use href="#r2s7" color="#e2dd3f"/><use href="#r2s8" color="#57bb47"/><use href="#r2s9" color="#2c9e6d"/><use href="#r2s10" color="#2c9e6d"/><use href="#r2s11" color="#2c9e6e"/><use href="#r2s12" color="#2c9e70"/><use href="#r2s13" color="#2b9d75"/><use href="#r2s14" color="#43af4c"/><use href="#r2s15" color="#2d43a5"/><use href="#r2s16" color="#2c3d9f"/><use href="#r2s17" color="#2fa35a"/><use href="#r2s18" color="#b9d83f"/><use href="#r2s19" color="#6dc344"/><use href="#r2s20" color="#c2da3f"/><use href="#r2s21" color="#b1d63e"/><use href="#r2o"/><use href="#r2n"/></g>
<rect x="162.8" y="122.4" width="46.1" height="45.6" fill="url(#spk)"/>
<rect x="213.6" y="121.8" width="47.3" height="46.8" fill="none" stroke="#333" stroke-width="1.1"/>
<path d="M212.3 122.8V168.1M214.6 169.9H260.4" stroke="#333" stroke-width="1.5" stroke-dasharray="0.55 0.75" fill="none"/>
<g transform="translate(236.1 146.0)" fill="currentColor" stroke="currentColor" stroke-width="0.3"><use href="#r2f0" color="#2f53b1"/><use href="#r2f1" color="#82c942"/><use href="#r2f2" color="#bbd83f"/><use href="#r2f3" color="#35a84f"/><use href="#r2f4" color="#2b89a5"/><use href="#r2f5" color="#c4da3f"/><use href="#r2f6" color="#2d68b4"/><use href="#r2f7" color="#2e4cad"/><use href="#r2f8" color="#2f4eaf"/><use href="#r2f9" color="#2f50b0"/><use href="#r2f10" color="#87cb41"/><use href="#r2f11" color="#2a9786"/><use href="#r2f12" color="#2e56b1"/><use href="#r2f13" color="#a5d43e"/><use href="#r2f14" color="#4db549"/><use href="#r2f15" color="#2e59b2"/><use href="#r2f16" color="#2b8aa2"/><use href="#r2f17" color="#a4d33e"/><use href="#r2f18" color="#2c9e6e"/><use href="#r2f19" color="#57bb47"/><use href="#r2f20" color="#2f51b0"/><use href="#r2f21" color="#a7d43e"/><use href="#r2f22" color="#2a9a7e"/><use href="#r2f23" color="#2e46a7"/><use href="#r2f24" color="#2e5ab2"/><use href="#r2f25" color="#2e4bac"/><use href="#r2f26" color="#2d68b4"/><use href="#r2f27" color="#2f4cad"/><use href="#r2f28" color="#2e47a9"/><use href="#r2f29" color="#2f52b1"/><use href="#r2f30" color="#2b8ba0"/><use href="#r2f31" color="#2e47a9"/><use href="#r2f32" color="#b4d73e"/><use href="#r2f33" color="#b3d73e"/><use href="#r2f34" color="#35a84f"/><use href="#r2f35" color="#e2dd3f"/><use href="#r2f36" color="#76c643"/><use href="#r2f37" color="#2f55b1"/><use href="#r2f38" color="#b0d63e"/><use href="#r2f39" color="#2b8aa2"/><use href="#r2f40" color="#c1d93f"/><use href="#r2f41" color="#99d03f"/><use href="#r2f42" color="#92ce40"/><use href="#r2f43" color="#2f4dae"/><use href="#r2f44" color="#bed93f"/><use href="#r2f45" color="#9fd23f"/><use href="#r2f46" color="#c9db3f"/><use href="#r2f47" color="#5ebf45"/><use href="#r2f48" color="#2e55b1"/><use href="#r2f49" color="#acd53e"/><use href="#r2f50" color="#2a9193"/><use href="#r2f51" color="#63c045"/><use href="#r2f52" color="#2e4aac"/><use href="#r2f53" color="#5bbd46"/><use href="#r2f54" color="#2f50b0"/><use href="#r2f55" color="#2f4eaf"/><use href="#r2f56" color="#9dd13f"/><use href="#r2f57" color="#94cf40"/><use href="#r2f58" color="#30a550"/><use href="#r2f59" color="#2e5eb2"/><use href="#r2s0" color="#b5d73f"/><use href="#r2s1" color="#67c144"/><use href="#r2s2" color="#60bf45"/><use href="#r2s3" color="#2e46a7"/><use href="#r2s4" color="#cadc3f"/><use href="#r2s5" color="#2f4cad"/><use href="#r2s6" color="#2c3fa1"/><use href="#r2s7" color="#c6db3f"/><use href="#r2s8" color="#86cb41"/><use href="#r2s9" color="#2e57b1"/><use href="#r2s10" color="#2e5cb2"/><use href="#r2s11" color="#2e5ab2"/><use href="#r2s12" color="#2d66b4"/><use href="#r2s13" color="#2e5eb2"/><use href="#r2s14" color="#66c144"/><use href="#r2s15" color="#2c399b"/><use href="#r2s16" color="#64c045"/><use href="#r2s17" color="#2c74b6"/><use href="#r2s18" color="#aed63e"/><use href="#r2s19" color="#2f51b0"/><use href="#r2s20" color="#b7d83f"/><use href="#r2s21" color="#cadc3f"/><use href="#r2o"/><use href="#r2n"/></g>
<rect x="214.2" y="122.4" width="46.1" height="45.6" fill="url(#spk)"/>
<rect x="265.1" y="121.8" width="47.3" height="46.8" fill="none" stroke="#333" stroke-width="1.1"/>
<path d="M263.8 122.8V168.1M266.1 169.9H311.9" stroke="#333" stroke-width="1.5" stroke-dasharray="0.55 0.75" fill="none"/>
<g transform="translate(287.6 146.0)" fill="currentColor" stroke="currentColor" stroke-width="0.3"><use href="#r2f0" color="#30a550"/><use href="#r2f1" color="#e7d43a"/><use href="#r2f2" color="#6ac244"/><use href="#r2f3" color="#dfe040"/><use href="#r2f4" color="#78c643"/><use href="#r2f5" color="#afd63e"/><use href="#r2f6" color="#53b948"/><use href="#r2f7" color="#52b848"/><use href="#r2f8" color="#ead038"/><use href="#r2f9" color="#7ac742"/><use href="#r2f10" color="#e5d83c"/><use href="#r2f11" color="#ead038"/><use href="#r2f12" color="#5fbf45"/><use href="#r2f13" color="#44b04b"/><use href="#r2f14" color="#dadf40"/><use href="#r2f15" color="#ead038"/><use href="#r2f16" color="#73c543"/><use href="#r2f17" color="#2ea25f"/><use href="#r2f18" color="#e9d239"/><use href="#r2f19" color="#c8db3f"/><use href="#r2f20" color="#b2d73e"/><use href="#r2f21" color="#d4dd40"/><use href="#r2f22" color="#e4da3d"/><use href="#r2f23" color="#86cb41"/><use href="#r2f24" color="#3fad4d"/><use href="#r2f25" color="#4eb649"/><use href="#r2f26" color="#42af4c"/><use href="#r2f27" color="#89cb41"/><use href="#r2f28" color="#4fb649"/><use href="#r2f29" color="#31a650"/><use href="#r2f30" color="#cadb3f"/><use href="#r2f31" color="#5dbe45"/><use href="#r2f32" color="#64c144"/><use href="#r2f33" color="#3fad4c"/><use href="#r2f34" color="#b1d63e"/><use href="#r2f35" color="#74c543"/><use href="#r2f36" color="#e0e040"/><use href="#r2f37" color="#ead038"/><use href="#r2f38" color="#47b24b"/><use href="#r2f39" color="#70c443"/><use href="#r2f40" color="#75c543"/><use href="#r2f41" color="#33a74f"/><use href="#r2f42" color="#3aaa4e"/><use href="#r2f43" color="#ead038"/><use href="#r2f44" color="#c8db3f"/><use href="#r2f45" color="#2fa358"/><use href="#r2f46" color="#2fa454"/><use href="#r2f47" color="#bdd93f"/><use href="#r2f48" color="#ead038"/><use href="#r2f49" color="#e8d239"/><use href="#r2f50" color="#dbdf40"/><use href="#r2f51" color="#aed63e"/><use href="#r2f52" color="#80c942"/><use href="#r2f53" color="#cddc3f"/><use href="#r2f54" color="#51b748"/><use href="#r2f55" color="#ead038"/><use href="#r2f56" color="#38a94e"/><use href="#r2f57" color="#ead038"/><use href="#r2f58" color="#cedc3f"/><use href="#r2f59" color="#41ae4c"/><use href="#r2s0" color="#34a74f"/><use href="#r2s1" color="#4fb649"/><use href="#r2s2" color="#42af4c"/><use href="#r2s3" color="#45b04b"/><use href="#r2s4" color="#5dbe46"/><use href="#r2s5" color="#edcb36"/><use href="#r2s6" color="#e3db3d"/><use href="#r2s7" color="#6ec443"/><use href="#r2s8" color="#e3db3d"/><use href="#r2s9" color="#57bb47"/><use href="#r2s10" color="#48b24a"/><use href="#r2s11" color="#41ae4c"/><use href="#r2s12" color="#45b04b"/><use href="#r2s13" color="#72c543"/><use href="#r2s14" color="#ebce37"/><use href="#r2s15" color="#4ab34a"/><use href="#r2s16" color="#e6d73b"/><use href="#r2s17" color="#59bc46"/><use href="#r2s18" color="#58bb47"/><use href="#r2s19" color="#e7d63b"/><use href="#r2s20" color="#44b04b"/><use href="#r2s21" color="#45b14b"/><use href="#r2o"/><use href="#r2n"/></g>
<rect x="265.7" y="122.4" width="46.1" height="45.6" fill="url(#spk)"/>
<rect x="316.8" y="121.8" width="47.3" height="46.8" fill="none" stroke="#333" stroke-width="1.1"/>
<path d="M315.5 122.8V168.1M317.8 169.9H363.6" stroke="#333" stroke-width="1.5" stroke-dasharray="0.55 0.75" fill="none"/>
<g transform="translate(339.2 146.0)" fill="currentColor" stroke="currentColor" stroke-width="0.3"><use href="#r2f0" color="#39aa4e"/><use href="#r2f1" color="#48b24a"/><use href="#r2f2" color="#44b04b"/><use href="#r2f3" color="#47b24b"/><use href="#r2f4" color="#38a94e"/><use href="#r2f5" color="#3aaa4e"/><use href="#r2f6" color="#3ead4d"/><use href="#r2f7" color="#37a94e"/><use href="#r2f8" color="#3bab4d"/><use href="#r2f9" color="#32a64f"/><use href="#r2f10" color="#3dac4d"/><use href="#r2f11" color="#47b24b"/><use href="#r2f12" color="#38a94e"/><use href="#r2f13" color="#37a94e"/><use href="#r2f14" color="#4ab34a"/><use href="#r2f15" color="#3aab4e"/><use href="#r2f16" color="#3fad4d"/><use href="#r2f17" color="#33a74f"/><use href="#r2f18" color="#44b04b"/><use href="#r2f19" color="#3aaa4e"/><use href="#r2f20" color="#30a452"/><use href="#r2f21" color="#3bab4e"/><use href="#r2f22" color="#4bb44a"/><use href="#r2f23" color="#30a551"/><use href="#r2f24" color="#3cac4d"/><use href="#r2f25" color="#35a84f"/><use href="#r2f26" color="#43b04b"/><use href="#r2f27" color="#36a84f"/><use href="#r2f28" color="#38a94e"/><use href="#r2f29" color="#43af4c"/><use href="#r2f30" color="#41ae4c"/><use href="#r2f31" color="#30a551"/><use href="#r2f32" color="#3fae4c"/><use href="#r2f33" color="#36a94e"/><use href="#r2f34" color="#44b04b"/><use href="#r2f35" color="#48b24a"/><use href="#r2f36" color="#3cac4d"/><use href="#r2f37" color="#49b34a"/><use href="#r2f38" color="#2fa358"/><use href="#r2f39" color="#44b04b"/><use href="#r2f40" color="#39aa4e"/><use href="#r2f41" color="#3bab4d"/><use href="#r2f42" color="#36a84f"/><use href="#r2f43" color="#32a650"/><use href="#r2f44" color="#3bab4d"/><use href="#r2f45" color="#38a94e"/><use href="#r2f46" color="#30a551"/><use href="#r2f47" color="#3fad4d"/><use href="#r2f48" color="#39aa4e"/><use href="#r2f49" color="#3eac4d"/><use href="#r2f50" color="#40ae4c"/><use href="#r2f51" color="#3aab4e"/><use href="#r2f52" color="#38aa4e"/><use href="#r2f53" color="#41ae4c"/><use href="#r2f54" color="#32a650"/><use href="#r2f55" color="#3cac4d"/><use href="#r2f56" color="#39aa4e"/><use href="#r2f57" color="#3aab4e"/><use href="#r2f58" color="#45b14b"/><use href="#r2f59" color="#3aab4e"/><use href="#r2s0" color="#2ea25d"/><use href="#r2s1" color="#46b14b"/><use href="#r2s2" color="#2fa455"/><use href="#r2s3" color="#2ea25d"/><use href="#r2s4" color="#31a650"/><use href="#r2s5" color="#3bab4d"/><use href="#r2s6" color="#2fa357"/><use href="#r2s7" color="#2fa359"/><use href="#r2s8" color="#30a453"/><use href="#r2s9" color="#3cac4d"/><use href="#r2s10" color="#38a94e"/><use href="#r2s11" color="#30a550"/><use href="#r2s12" color="#3bab4d"/><use href="#r2s13" color="#2ea25d"/><use href="#r2s14" color="#2fa357"/><use href="#r2s15" color="#3dac4d"/><use href="#r2s16" color="#30a552"/><use href="#r2s17" color="#37a94e"/><use href="#r2s18" color="#2fa358"/><use href="#r2s19" color="#4fb649"/><use href="#r2s20" color="#3dac4d"/><use href="#r2s21" color="#4cb44a"/><use href="#r2o"/><use href="#r2n"/></g>
<rect x="317.4" y="122.4" width="46.1" height="45.6" fill="url(#spk)"/>
<rect x="368.3" y="121.8" width="47.3" height="46.8" fill="none" stroke="#333" stroke-width="1.1"/>
<path d="M367.0 122.8V168.1M369.3 169.9H415.1" stroke="#333" stroke-width="1.5" stroke-dasharray="0.55 0.75" fill="none"/>
<g transform="translate(390.8 146.0)" fill="currentColor" stroke="currentColor" stroke-width="0.3"><use href="#r2f0" color="#74c543"/><use href="#r2f1" color="#d7de40"/><use href="#r2f2" color="#63c045"/><use href="#r2f3" color="#d9df40"/><use href="#r2f4" color="#a0d23f"/><use href="#r2f5" color="#e1df3f"/><use href="#r2f6" color="#7fc842"/><use href="#r2f7" color="#a5d43e"/><use href="#r2f8" color="#b5d73f"/><use href="#r2f9" color="#c0d93f"/><use href="#r2f10" color="#d8de40"/><use href="#r2f11" color="#e2dd3e"/><use href="#r2f12" color="#afd63e"/><use href="#r2f13" color="#9ad13f"/><use href="#r2f14" color="#dadf40"/><use href="#r2f15" color="#b6d73f"/><use href="#r2f16" color="#84ca41"/><use href="#r2f17" color="#42af4c"/><use href="#r2f18" color="#d1dd3f"/><use href="#r2f19" color="#a4d43e"/><use href="#r2f20" color="#b2d73e"/><use href="#r2f21" color="#e2dc3e"/><use href="#r2f22" color="#e0e040"/><use href="#r2f23" color="#bcd83f"/><use href="#r2f24" color="#59bc46"/><use href="#r2f25" color="#77c643"/><use href="#r2f26" color="#8bcc41"/><use href="#r2f27" color="#85ca41"/><use href="#r2f28" color="#81c942"/><use href="#r2f29" color="#63c045"/><use href="#r2f30" color="#b2d63e"/><use href="#r2f31" color="#b8d83f"/><use href="#r2f32" color="#69c244"/><use href="#r2f33" color="#74c543"/><use href="#r2f34" color="#c7db3f"/><use href="#r2f35" color="#87cb41"/><use href="#r2f36" color="#b2d63e"/><use href="#r2f37" color="#a8d43e"/><use href="#r2f38" color="#a1d23f"/><use href="#r2f39" color="#8acc41"/><use href="#r2f40" color="#93ce40"/><use href="#r2f41" color="#53b848"/><use href="#r2f42" color="#50b748"/><use href="#r2f43" color="#b6d73f"/><use href="#r2f44" color="#e4da3d"/><use href="#r2f45" color="#47b24b"/><use href="#r2f46" color="#42af4c"/><use href="#r2f47" color="#b3d73e"/><use href="#r2f48" color="#acd53e"/><use href="#r2f49" color="#d7de40"/><use href="#r2f50" color="#cddc3f"/><use href="#r2f51" color="#a0d23f"/><use href="#r2f52" color="#bbd83f"/><use href="#r2f53" color="#b2d73e"/><use href="#r2f54" color="#93ce40"/><use href="#r2f55" color="#c7db3f"/><use href="#r2f56" color="#b4d73e"/><use href="#r2f57" color="#e1df3f"/><use href="#r2f58" color="#c9db3f"/><use href="#r2f59" color="#73c543"/><use href="#r2s0" color="#96cf40"/><use href="#r2s1" color="#56ba47"/><use href="#r2s2" color="#6ec344"/><use href="#r2s3" color="#7ac742"/><use href="#r2s4" color="#7cc842"/><use href="#r2s5" color="#bed93f"/><use href="#r2s6" color="#c7db3f"/><use href="#r2s7" color="#88cb41"/><use href="#r2s8" color="#bed93f"/><use href="#r2s9" color="#acd53e"/><use href="#r2s10" color="#97d03f"/><use href="#r2s11" color="#94cf40"/><use href="#r2s12" color="#a2d33e"/><use href="#r2s13" color="#6fc443"/><use href="#r2s14" color="#d5de40"/><use href="#r2s15" color="#8ecd40"/><use href="#r2s16" color="#cadc3f"/><use href="#r2s17" color="#92ce40"/><use href="#r2s18" color="#9bd13f"/><use href="#r2s19" color="#c6db3f"/><use href="#r2s20" color="#7dc842"/><use href="#r2s21" color="#70c443"/><use href="#r2o"/><use href="#r2n"/></g>
<rect x="368.9" y="122.4" width="46.1" height="45.6" fill="url(#spk)"/>
<rect x="441.6" y="121.8" width="47.3" height="46.8" fill="none" stroke="#333" stroke-width="1.1"/>
<path d="M440.3 122.8V168.1M442.6 169.9H488.4" stroke="#333" stroke-width="1.5" stroke-dasharray="0.55 0.75" fill="none"/>
<g transform="translate(464.1 146.0)" fill="currentColor" stroke="currentColor" stroke-width="0.3"><use href="#r2f0" color="#e9ebf1"/><use href="#r2f1" color="#e9ebf1"/><use href="#r2f2" color="#e9ebf1"/><use href="#r2f3" color="#f2a85e"/><use href="#r2f4" color="#f2a85e"/><use href="#r2f5" color="#e9ebf1"/><use href="#r2f6" color="#e9ebf1"/><use href="#r2f7" color="#e9ebf1"/><use href="#r2f8" color="#f2a85e"/><use href="#r2f9" color="#e9ebf1"/><use href="#r2f10" color="#f2a85e"/><use href="#r2f11" color="#f2a85e"/><use href="#r2f12" color="#e9ebf1"/><use href="#r2f13" color="#e9ebf1"/><use href="#r2f14" color="#e9ebf1"/><use href="#r2f15" color="#f2a85e"/><use href="#r2f16" color="#e9ebf1"/><use href="#r2f17" color="#e9ebf1"/><use href="#r2f18" color="#f2a85e"/><use href="#r2f19" color="#e9ebf1"/><use href="#r2f20" color="#f2a85e"/><use href="#r2f21" color="#e9ebf1"/><use href="#r2f22" color="#f2a85e"/><use href="#r2f23" color="#e9ebf1"/><use href="#r2f24" color="#e9ebf1"/><use href="#r2f25" color="#e9ebf1"/><use href="#r2f26" color="#e9ebf1"/><use href="#r2f27" color="#f2a85e"/><use href="#r2f28" color="#e9ebf1"/><use href="#r2f29" color="#e9ebf1"/><use href="#r2f30" color="#f2a85e"/><use href="#r2f31" color="#e9ebf1"/><use href="#r2f32" color="#e9ebf1"/><use href="#r2f33" color="#e9ebf1"/><use href="#r2f34" color="#e9ebf1"/><use href="#r2f35" color="#e9ebf1"/><use href="#r2f36" color="#f2a85e"/><use href="#r2f37" color="#f2a85e"/><use href="#r2f38" color="#e9ebf1"/><use href="#r2f39" color="#e9ebf1"/><use href="#r2f40" color="#e9ebf1"/><use href="#r2f41" color="#e9ebf1"/><use href="#r2f42" color="#e9ebf1"/><use href="#r2f43" color="#f2a85e"/><use href="#r2f44" color="#e9ebf1"/><use href="#r2f45" color="#e9ebf1"/><use href="#r2f46" color="#e9ebf1"/><use href="#r2f47" color="#f2a85e"/><use href="#r2f48" color="#e9ebf1"/><use href="#r2f49" color="#f2a85e"/><use href="#r2f50" color="#f2a85e"/><use href="#r2f51" color="#e9ebf1"/><use href="#r2f52" color="#e9ebf1"/><use href="#r2f53" color="#f2a85e"/><use href="#r2f54" color="#e9ebf1"/><use href="#r2f55" color="#e9ebf1"/><use href="#r2f56" color="#e9ebf1"/><use href="#r2f57" color="#e9ebf1"/><use href="#r2f58" color="#f2a85e"/><use href="#r2f59" color="#e9ebf1"/><use href="#r2s0" color="#e9ebf1"/><use href="#r2s1" color="#e9ebf1"/><use href="#r2s2" color="#e9ebf1"/><use href="#r2s3" color="#e9ebf1"/><use href="#r2s4" color="#e9ebf1"/><use href="#r2s5" color="#e9ebf1"/><use href="#r2s6" color="#e9ebf1"/><use href="#r2s7" color="#e9ebf1"/><use href="#r2s8" color="#e9ebf1"/><use href="#r2s9" color="#e9ebf1"/><use href="#r2s10" color="#e9ebf1"/><use href="#r2s11" color="#e9ebf1"/><use href="#r2s12" color="#e9ebf1"/><use href="#r2s13" color="#e9ebf1"/><use href="#r2s14" color="#e9ebf1"/><use href="#r2s15" color="#e9ebf1"/><use href="#r2s16" color="#e9ebf1"/><use href="#r2s17" color="#e9ebf1"/><use href="#r2s18" color="#e9ebf1"/><use href="#r2s19" color="#e9ebf1"/><use href="#r2s20" color="#e9ebf1"/><use href="#r2s21" color="#e9ebf1"/><use href="#r2o"/><use href="#r2n"/></g>
<rect x="442.2" y="122.4" width="46.1" height="45.6" fill="url(#spk)"/>
<defs><path id="r3f0" d="M-3.0 0.6 -2.8 -0.7 -3.0 -1.0 -8.0 -2.0 -8.8 -1.0 -8.4 2.9 -5.5 3.0Z"/><path id="r3f1" d="M4.3 -4.2 7.7 -6.5 6.7 -9.0 2.8 -9.7 2.3 -4.4Z"/><path id="r3f2" d="M2.8 10.1 6.0 13.9 6.3 13.8 7.7 9.3 4.7 6.3 3.2 7.8Z"/><path id="r3f3" d="M13.2 -9.7 12.2 -6.8 15.7 -3.8 17.6 -6.0 17.2 -7.6 17.2 -9.9 16.9 -11.0Z"/><path id="r3f4" d="M-4.0 7.2 -2.3 7.4 -2.0 7.2 -0.7 3.9 -3.0 0.6 -5.5 3.0Z"/><path id="r3f5" d="M-11.8 -6.8 -11.2 -8.9 -11.5 -10.8 -13.7 -12.0 -15.4 -11.2 -15.9 -10.3 -16.5 -8.4 -17.4 -7.3 -12.6 -6.4Z"/><path id="r3f6" d="M-8.9 13.5 -8.3 18.1 -4.4 18.6 -4.3 13.1 -5.3 12.5Z"/><path id="r3f7" d="M-12.8 13.4 -14.5 9.4 -16.3 9.7 -15.9 10.4 -15.4 12.5 -14.8 13.3 -13.3 14.3Z"/><path id="r3f8" d="M6.3 13.8 5.7 14.6 5.7 15.1 7.3 17.4 8.9 17.4 11.3 16.0 9.5 13.9Z"/><path id="r3f9" d="M-5.3 -9.4 -11.2 -8.9 -11.8 -6.8 -8.5 -4.5 -4.3 -6.9Z"/><path id="r3f10" d="M-9.8 12.8 -12.8 13.4 -13.3 14.3 -12.2 15.1 -11.0 16.9 -10.2 17.6 -9.2 18.0 -8.3 18.1 -8.9 13.5Z"/><path id="r3f11" d="M5.7 15.1 5.7 14.6 0.7 14.7 -0.5 17.3 3.1 19.1 3.8 18.4Z"/><path id="r3f12" d="M-4.3 -6.9 -8.5 -4.5 -8.0 -2.0 -3.0 -1.0 -3.8 -6.7Z"/><path id="r3f13" d="M15.0 6.3 11.3 8.7 12.0 11.2 16.5 13.6 17.5 11.4 18.2 8.7Z"/><path id="r3f14" d="M6.7 -9.0 7.7 -6.5 9.7 -5.6 12.2 -6.8 13.2 -9.7 10.8 -11.8 8.2 -11.6Z"/><path id="r3f15" d="M8.6 3.4 7.4 -0.1 6.7 -0.4 2.9 1.1 2.7 3.3 4.8 6.0Z"/><path id="r3f16" d="M4.7 6.3 7.7 9.3 11.3 8.7 11.4 8.5 8.6 3.4 4.8 6.0Z"/><path id="r3f17" d="M-12.6 -6.4 -17.4 -7.3 -18.7 -6.1 -18.8 -5.8 -17.1 -1.3 -13.6 -2.9Z"/><path id="r3f18" d="M-0.1 -17.8 4.0 -15.0 4.4 -15.1 5.6 -19.2 4.1 -19.1 1.1 -20.4 0.3 -20.5Z"/><path id="r3f19" d="M-13.3 5.9 -16.3 4.1 -20.6 5.5 -20.3 6.6 -19.5 7.5 -17.2 8.8 -16.3 9.7 -14.5 9.4 -13.3 8.2Z"/><path id="r3f20" d="M0.6 -1.6 2.9 1.1 6.7 -0.4 4.3 -4.2 2.3 -4.4 2.1 -4.2Z"/><path id="r3f21" d="M19.6 1.3 18.7 0.0 18.3 -1.3 15.8 -2.8 13.2 -0.6 13.2 2.4 14.9 4.0Z"/><path id="r3f22" d="M6.1 -14.6 8.2 -11.6 10.8 -11.8 11.6 -15.1 10.2 -15.7 9.4 -16.8Z"/><path id="r3f23" d="M9.7 -5.6 9.7 -2.2 13.2 -0.6 15.8 -2.8 15.7 -3.8 12.2 -6.8Z"/><path id="r3f24" d="M-8.0 8.3 -9.3 3.6 -11.2 3.7 -13.3 5.9 -13.3 8.2 -9.4 9.2Z"/><path id="r3f25" d="M-4.0 7.2 -6.2 8.5 -5.3 12.5 -4.3 13.1 -1.1 11.9 -2.3 7.4Z"/><path id="r3f26" d="M-11.5 -10.8 -9.4 -13.4 -9.6 -18.3 -10.3 -17.8 -11.0 -16.9 -12.0 -13.3 -12.6 -12.6 -13.7 -12.0Z"/><path id="r3f27" d="M-2.0 7.2 3.2 7.8 4.7 6.3 4.8 6.0 2.7 3.3 -0.7 3.9Z"/><path id="r3f28" d="M11.3 16.0 15.0 15.0 16.0 14.4 16.5 13.6 12.0 11.2 9.5 13.9Z"/><path id="r3f29" d="M-4.8 -11.8 -9.4 -13.4 -11.5 -10.8 -11.2 -8.9 -5.3 -9.4Z"/><path id="r3f30" d="M11.4 8.5 15.0 6.3 14.9 4.0 13.2 2.4 8.6 3.4Z"/><path id="r3f31" d="M-9.4 9.2 -13.3 8.2 -14.5 9.4 -12.8 13.4 -9.8 12.8Z"/><path id="r3f32" d="M2.8 -9.7 6.7 -9.0 8.2 -11.6 6.1 -14.6 4.4 -15.1 4.0 -15.0 1.8 -10.8Z"/><path id="r3f33" d="M-2.1 -7.0 1.0 -10.8 -3.1 -13.3 -4.8 -11.8 -5.3 -9.4 -4.3 -6.9 -3.8 -6.7Z"/><path id="r3f34" d="M-8.0 -2.0 -8.5 -4.5 -11.8 -6.8 -12.6 -6.4 -13.6 -2.9 -12.1 -0.9 -8.8 -1.0Z"/><path id="r3f35" d="M7.4 -0.1 9.7 -2.2 9.7 -5.6 7.7 -6.5 4.3 -4.2 6.7 -0.4Z"/><path id="r3f36" d="M2.1 -4.2 2.3 -4.4 2.8 -9.7 1.8 -10.8 1.0 -10.8 -2.1 -7.0Z"/><path id="r3f37" d="M-8.4 2.9 -9.3 3.6 -8.0 8.3 -6.2 8.5 -4.0 7.2 -5.5 3.0Z"/><path id="r3f38" d="M8.6 3.4 13.2 2.4 13.2 -0.6 9.7 -2.2 7.4 -0.1Z"/><path id="r3f39" d="M-8.4 2.9 -8.8 -1.0 -12.1 -0.9 -12.9 1.3 -11.2 3.7 -9.3 3.6Z"/><path id="r3f40" d="M18.2 8.7 18.3 7.0 18.7 6.1 19.9 4.2 20.2 3.2 20.0 2.1 19.6 1.3 14.9 4.0 15.0 6.3Z"/><path id="r3f41" d="M1.0 -10.8 1.8 -10.8 4.0 -15.0 -0.1 -17.8 -3.0 -15.7 -3.1 -13.3Z"/><path id="r3f42" d="M-12.1 -0.9 -13.6 -2.9 -17.1 -1.3 -17.2 -1.1 -15.5 1.4 -12.9 1.3Z"/><path id="r3f43" d="M-3.0 -15.7 -0.1 -17.8 0.3 -20.5 -3.1 -19.7 -6.4 -19.7 -8.1 -19.1Z"/><path id="r3f44" d="M15.7 -3.8 15.8 -2.8 18.3 -1.3 18.5 -3.9 17.6 -6.0Z"/><path id="r3f45" d="M-0.5 17.3 0.7 14.7 -0.6 12.2 -1.1 11.9 -4.3 13.1 -4.4 18.6 -2.9 18.7Z"/><path id="r3f46" d="M13.2 -9.7 16.9 -11.0 15.7 -12.8 14.2 -14.2 13.2 -14.7 11.6 -15.1 10.8 -11.8Z"/><path id="r3f47" d="M-12.9 1.3 -15.5 1.4 -16.3 4.1 -13.3 5.9 -11.2 3.7Z"/><path id="r3f48" d="M5.7 15.1 3.8 18.4 4.7 17.5 5.6 17.3 7.3 17.4Z"/><path id="r3f49" d="M-0.7 3.9 2.7 3.3 2.9 1.1 0.6 -1.6 -2.8 -0.7 -3.0 0.6Z"/><path id="r3f50" d="M-17.2 -1.1 -17.1 -1.3 -18.8 -5.8 -19.2 -5.2 -19.5 -2.0 -20.1 0.3Z"/><path id="r3f51" d="M-2.3 7.4 -1.1 11.9 -0.6 12.2 2.8 10.1 3.2 7.8 -2.0 7.2Z"/><path id="r3f52" d="M-3.0 -15.7 -8.1 -19.1 -9.6 -18.3 -9.4 -13.4 -4.8 -11.8 -3.1 -13.3Z"/><path id="r3f53" d="M0.7 14.7 5.7 14.6 6.0 13.9 2.8 10.1 -0.6 12.2Z"/><path id="r3f54" d="M-3.0 -1.0 -2.8 -0.7 0.6 -1.6 2.1 -4.2 -2.1 -7.0 -3.8 -6.7Z"/><path id="r3f55" d="M-6.2 8.5 -8.0 8.3 -9.4 9.2 -9.8 12.8 -8.9 13.5 -5.3 12.5Z"/><path id="r3f56" d="M-16.3 4.1 -15.5 1.4 -17.2 -1.1 -20.1 0.3 -20.4 2.1 -20.6 5.5Z"/><path id="r3f57" d="M9.5 13.9 12.0 11.2 11.3 8.7 7.7 9.3 6.3 13.8Z"/><path id="r3f58" d="M-0.5 17.3 -2.9 18.7 -2.0 18.9 1.0 19.9 2.1 19.8 3.1 19.1Z"/><path id="r3f59" d="M4.4 -15.1 6.1 -14.6 9.4 -16.8 8.3 -18.5 7.3 -19.1 5.6 -19.2Z"/><path id="r3s0" d="M3.7 -19.7 3.2 -20.4 2.5 -20.6 2.1 -20.5Z"/><path id="r3s1" d="M9.9 -17.9 9.4 -18.4 8.8 -18.6 10.0 -16.7 10.1 -17.1Z"/><path id="r3s2" d="M12.1 -18.5 11.7 -18.9 11.2 -19.0 10.7 -18.9 10.3 -18.5 10.1 -17.9 10.3 -17.4 10.7 -17.0 11.2 -16.9 11.7 -17.0 12.1 -17.4 12.3 -17.9Z"/><path id="r3s3" d="M13.0 16.8 12.6 16.4 12.1 16.3 11.7 16.4 11.3 16.8 11.2 17.3 11.3 17.7 11.7 18.1 12.1 18.2 12.6 18.1 13.0 17.7 13.1 17.3Z"/><path id="r3s4" d="M-11.9 -16.0 -12.4 -16.1 -12.9 -16.0 -13.3 -15.6 -13.4 -15.1 -13.3 -14.6 -12.9 -14.2 -12.2 -14.1Z"/><path id="r3s5" d="M10.1 -17.3 9.7 -17.7 9.3 -17.8 10.2 -16.5Z"/><path id="r3s6" d="M-16.7 9.9 -17.2 10.4 -17.4 11.1 -17.2 11.7 -16.7 12.2 -15.9 12.4 -16.4 10.5Z"/><path id="r3s7" d="M-14.9 -14.4 -15.5 -14.7 -15.8 -14.6 -16.1 -14.4 -16.1 -13.7 -15.5 -13.4 -15.2 -13.5 -14.8 -14.0Z"/><path id="r3s8" d="M-19.6 -6.8 -20.0 -7.1 -20.4 -7.2 -20.9 -7.1 -21.2 -6.8 -21.3 -6.3 -21.2 -5.9 -20.9 -5.5 -20.4 -5.4 -20.0 -5.5 -19.6 -5.9 -19.5 -6.3Z"/><path id="r3s9" d="M-16.2 -12.0 -16.8 -12.6 -17.5 -12.8 -18.2 -12.6 -18.7 -12.0 -18.9 -11.3 -18.7 -10.6 -18.2 -10.1 -17.5 -9.9 -16.8 -10.1 -16.4 -10.5 -16.0 -11.3Z"/><path id="r3s10" d="M17.7 -12.5 16.9 -12.9 16.4 -12.7 17.3 -11.3 17.7 -11.6Z"/><path id="r3s11" d="M3.6 19.2 2.3 20.2 1.2 20.4 1.3 20.5 1.8 21.0 2.4 21.2 3.1 21.0 3.6 20.5 3.8 19.9Z"/><path id="r3s12" d="M-8.5 18.6 -9.8 18.3 -9.9 18.6 -9.5 19.2 -9.2 19.3 -8.6 19.0Z"/><path id="r3s13" d="M20.2 -1.3 19.9 -1.5 19.2 -1.5 19.0 -1.3 19.0 -0.6 19.2 -0.3 19.9 -0.3 20.2 -0.6Z"/><path id="r3s14" d="M14.7 -15.6 14.3 -16.1 13.8 -16.2 13.2 -16.1 12.7 -15.3 14.6 -14.4 14.9 -15.1Z"/><path id="r3s15" d="M-12.5 -14.7 -13.0 -15.3 -13.7 -15.5 -14.4 -15.3 -15.0 -14.7 -15.2 -14.0 -15.0 -13.3 -14.4 -12.8 -13.7 -12.6 -12.9 -12.9 -12.4 -13.5 -12.3 -14.0Z"/><path id="r3s16" d="M-18.3 -7.2 -18.7 -7.3 -19.2 -7.2 -19.5 -6.9 -19.6 -6.4 -19.4 -5.8Z"/><path id="r3o" fill="none" stroke="#fff" stroke-width="0.6" d="M12.2 -6.8 9.7 -5.6 9.7 -2.2 13.2 -0.6 15.8 -2.8 18.3 -1.3 18.5 -3.9 17.3 -6.6 17.2 -9.9 16.9 -11.0 13.2 -9.7 12.2 -6.8M4.3 -4.2 2.3 -4.4 0.6 -1.6 -2.8 -0.7 -3.0 0.6 -0.7 3.9 -2.0 7.2 3.2 7.8 4.8 6.0 8.6 3.4 7.4 -0.1 6.7 -0.4 4.3 -4.2M11.4 8.5 8.6 3.4 4.8 6.0 3.2 7.8 2.8 10.1 6.0 13.9 5.7 14.6 5.7 15.1 7.3 17.4 8.9 17.4 11.5 15.9 15.0 15.0 16.0 14.4 16.5 13.6 12.0 11.2 11.4 8.5M-1.1 11.9 -2.3 7.4 -4.0 7.2 -5.5 3.0 -8.4 2.9 -9.3 3.6 -8.0 8.3 -9.4 9.2 -13.3 8.2 -13.3 5.9 -16.3 4.1 -20.6 5.5 -20.3 6.6 -19.5 7.5 -16.4 9.5 -15.4 12.5 -14.8 13.3 -12.2 15.1 -11.0 16.9 -10.2 17.6 -9.2 18.0 -4.4 18.6 -4.3 13.1 -1.1 11.9M-11.8 -6.8 -8.5 -4.5 -8.0 -2.0 -8.8 -1.0 -8.4 2.9 -5.5 3.0 -3.0 0.6 -2.8 -0.7 0.6 -1.6 2.1 -4.2 -2.1 -7.0 -3.8 -6.7 -4.3 -6.9 -5.3 -9.4 -11.2 -8.9 -11.8 -6.8M0.3 -20.5 -3.1 -19.7 -6.4 -19.7 -7.4 -19.4 -9.6 -18.3 -9.4 -13.4 -4.8 -11.8 -5.3 -9.4 -4.3 -6.9 -3.8 -6.7 -2.1 -7.0 1.0 -10.8 1.8 -10.8 4.0 -15.0 -0.1 -17.8 0.3 -20.5M-19.2 -5.2 -19.5 -2.0 -20.4 2.1 -20.6 5.5 -16.3 4.1 -13.3 5.9 -11.2 3.7 -12.9 1.3 -12.1 -0.9 -13.6 -2.9 -17.1 -1.3 -18.8 -5.8 -19.2 -5.2M-8.8 -1.0 -12.1 -0.9 -12.9 1.3 -11.2 3.7 -13.3 5.9 -13.3 8.2 -9.4 9.2 -8.0 8.3 -9.3 3.6 -8.4 2.9 -8.8 -1.0M-2.0 7.2 -0.7 3.9 -3.0 0.6 -5.5 3.0 -4.0 7.2 -2.3 7.4 -2.0 7.2M4.4 -15.1 6.1 -14.6 8.2 -11.6 10.8 -11.8 13.2 -9.7 16.9 -11.0 15.7 -12.8 14.2 -14.2 10.2 -15.7 8.3 -18.5 7.3 -19.1 4.1 -19.1 1.1 -20.4 0.3 -20.5 -0.1 -17.8 4.0 -15.0 4.4 -15.1M-9.6 -18.3 -11.0 -16.9 -11.4 -15.7 -12.0 -13.3 -12.6 -12.6 -15.4 -11.2 -15.9 -10.3 -16.5 -8.4 -18.8 -5.8 -17.1 -1.3 -13.6 -2.9 -12.1 -0.9 -8.8 -1.0 -8.0 -2.0 -8.5 -4.5 -11.8 -6.8 -11.2 -8.9 -5.3 -9.4 -4.8 -11.8 -9.4 -13.4 -9.6 -18.3M12.2 -6.8 13.2 -9.7 10.8 -11.8 8.2 -11.6 6.1 -14.6 4.4 -15.1 4.0 -15.0 1.8 -10.8 1.0 -10.8 -2.1 -7.0 2.1 -4.2 4.3 -4.2 6.7 -0.4 7.4 -0.1 9.7 -2.2 9.7 -5.6 12.2 -6.8M20.0 2.1 18.7 0.0 18.3 -1.3 15.8 -2.8 13.2 -0.6 9.7 -2.2 7.4 -0.1 8.6 3.4 11.4 8.5 12.0 11.2 16.5 13.6 17.9 10.3 18.3 7.0 18.7 6.1 19.9 4.2 20.2 3.2 20.0 2.1M-4.3 13.1 -4.4 18.6 -2.0 18.9 1.0 19.9 2.1 19.8 4.7 17.5 5.6 17.3 7.3 17.4 5.7 15.1 5.7 14.6 6.0 13.9 2.8 10.1 3.2 7.8 -2.0 7.2 -2.3 7.4 -1.1 11.9 -4.3 13.1"/><path id="r3n" fill="#fff" stroke="none" d="M17.6 -6.0a0.9 0.9 0 1 0 1.7 0a0.9 0.9 0 1 0 -1.7 0M-8.8 17.5a0.7 0.7 0 1 0 1.5 0a0.7 0.7 0 1 0 -1.5 0M0.6 18.7a0.8 0.8 0 1 0 1.5 0a0.8 0.8 0 1 0 -1.5 0M0.1 18.8a0.7 0.7 0 1 0 1.4 0a0.7 0.7 0 1 0 -1.4 0M-10.1 16.9a1.0 1.0 0 1 0 2.0 0a1.0 1.0 0 1 0 -2.0 0M-3.5 -18.8a1.3 1.3 0 1 0 2.6 0a1.3 1.3 0 1 0 -2.6 0M4.1 -18.6a1.0 1.0 0 1 0 2.0 0a1.0 1.0 0 1 0 -2.0 0M16.4 -8.1a0.8 0.8 0 1 0 1.5 0a0.8 0.8 0 1 0 -1.5 0M-3.2 -19.0a0.6 0.6 0 1 0 1.3 0a0.6 0.6 0 1 0 -1.3 0M17.5 6.2a1.2 1.2 0 1 0 2.4 0a1.2 1.2 0 1 0 -2.4 0"/></defs>
<rect x="162.2" y="173.2" width="47.3" height="46.8" fill="none" stroke="#333" stroke-width="1.1"/>
<path d="M160.9 174.2V219.5M163.2 221.3H209.0" stroke="#333" stroke-width="1.5" stroke-dasharray="0.55 0.75" fill="none"/>
<g transform="translate(184.7 197.4)" fill="currentColor" stroke="currentColor" stroke-width="0.3"><use href="#r3f0" color="#39aa4e"/><use href="#r3f1" color="#40ae4c"/><use href="#r3f2" color="#2a9193"/><use href="#r3f3" color="#2c71b6"/><use href="#r3f4" color="#3aaa4e"/><use href="#r3f5" color="#8ecd40"/><use href="#r3f6" color="#2b80b8"/><use href="#r3f7" color="#2c76b6"/><use href="#r3f8" color="#2a9787"/><use href="#r3f9" color="#39aa4e"/><use href="#r3f10" color="#2b7eb8"/><use href="#r3f11" color="#2f52b0"/><use href="#r3f12" color="#49b34a"/><use href="#r3f13" color="#75c643"/><use href="#r3f14" color="#4cb449"/><use href="#r3f15" color="#59bc46"/><use href="#r3f16" color="#2a9096"/><use href="#r3f17" color="#81c942"/><use href="#r3f18" color="#2f51b0"/><use href="#r3f19" color="#2c77b7"/><use href="#r3f20" color="#44b04b"/><use href="#r3f21" color="#a0d23f"/><use href="#r3f22" color="#2e55b1"/><use href="#r3f23" color="#2d6bb5"/><use href="#r3f24" color="#35a84f"/><use href="#r3f25" color="#2c7ab7"/><use href="#r3f26" color="#79c742"/><use href="#r3f27" color="#50b748"/><use href="#r3f28" color="#2a8d9c"/><use href="#r3f29" color="#8dcc41"/><use href="#r3f30" color="#a4d33e"/><use href="#r3f31" color="#2b7eb8"/><use href="#r3f32" color="#4db549"/><use href="#r3f33" color="#2f50b0"/><use href="#r3f34" color="#61c045"/><use href="#r3f35" color="#3ead4d"/><use href="#r3f36" color="#47b24b"/><use href="#r3f37" color="#2b7eb8"/><use href="#r3f38" color="#9cd13f"/><use href="#r3f39" color="#40ae4c"/><use href="#r3f40" color="#7dc842"/><use href="#r3f41" color="#2f4dae"/><use href="#r3f42" color="#2e5eb2"/><use href="#r3f43" color="#2e4aab"/><use href="#r3f44" color="#2d66b4"/><use href="#r3f45" color="#2f4fb0"/><use href="#r3f46" color="#2f4dae"/><use href="#r3f47" color="#2e60b3"/><use href="#r3f48" color="#2f54b1"/><use href="#r3f49" color="#4fb649"/><use href="#r3f50" color="#2d64b3"/><use href="#r3f51" color="#2d63b3"/><use href="#r3f52" color="#2e48a9"/><use href="#r3f53" color="#2f4dae"/><use href="#r3f54" color="#44b04b"/><use href="#r3f55" color="#2b82b5"/><use href="#r3f56" color="#2d65b4"/><use href="#r3f57" color="#2a9097"/><use href="#r3f58" color="#2f4fb0"/><use href="#r3f59" color="#2f4eaf"/><use href="#r3s0" color="#2e48aa"/><use href="#r3s1" color="#2e46a8"/><use href="#r3s2" color="#2d42a4"/><use href="#r3s3" color="#2e57b1"/><use href="#r3s4" color="#afd63e"/><use href="#r3s5" color="#2f4eaf"/><use href="#r3s6" color="#2b81b7"/><use href="#r3s7" color="#a2d33e"/><use href="#r3s8" color="#2f4fb0"/><use href="#r3s9" color="#6dc344"/><use href="#r3s10" color="#2d6bb5"/><use href="#r3s11" color="#2c3b9d"/><use href="#r3s12" color="#2f4eaf"/><use href="#r3s13" color="#a8d43e"/><use href="#r3s14" color="#2d41a2"/><use href="#r3s15" color="#9ed23f"/><use href="#r3s16" color="#2e47a9"/><use href="#r3o"/><use href="#r3n"/></g>
<rect x="162.8" y="173.8" width="46.1" height="45.6" fill="url(#spk)"/>
<rect x="213.6" y="173.2" width="47.3" height="46.8" fill="none" stroke="#333" stroke-width="1.1"/>
<path d="M212.3 174.2V219.5M214.6 221.3H260.4" stroke="#333" stroke-width="1.5" stroke-dasharray="0.55 0.75" fill="none"/>
<g transform="translate(236.1 197.4)" fill="currentColor" stroke="currentColor" stroke-width="0.3"><use href="#r3f0" color="#81c942"/><use href="#r3f1" color="#2e5db2"/><use href="#r3f2" color="#55b947"/><use href="#r3f3" color="#2b80b8"/><use href="#r3f4" color="#9bd13f"/><use href="#r3f5" color="#98d03f"/><use href="#r3f6" color="#66c144"/><use href="#r3f7" color="#52b848"/><use href="#r3f8" color="#74c543"/><use href="#r3f9" color="#8ccc41"/><use href="#r3f10" color="#53b848"/><use href="#r3f11" color="#71c443"/><use href="#r3f12" color="#9dd13f"/><use href="#r3f13" color="#d4de40"/><use href="#r3f14" color="#2f51b0"/><use href="#r3f15" color="#2e56b1"/><use href="#r3f16" color="#6bc244"/><use href="#r3f17" color="#90cd40"/><use href="#r3f18" color="#2f4dae"/><use href="#r3f19" color="#70c443"/><use href="#r3f20" color="#2c6fb5"/><use href="#r3f21" color="#e1de3f"/><use href="#r3f22" color="#2e47a8"/><use href="#r3f23" color="#2b87aa"/><use href="#r3f24" color="#96cf40"/><use href="#r3f25" color="#70c443"/><use href="#r3f26" color="#a5d43e"/><use href="#r3f27" color="#2e5cb2"/><use href="#r3f28" color="#51b748"/><use href="#r3f29" color="#9fd23f"/><use href="#r3f30" color="#d5de40"/><use href="#r3f31" color="#6bc344"/><use href="#r3f32" color="#2e56b1"/><use href="#r3f33" color="#2f4dae"/><use href="#r3f34" color="#a8d43e"/><use href="#r3f35" color="#2f4eaf"/><use href="#r3f36" color="#2e57b1"/><use href="#r3f37" color="#60bf45"/><use href="#r3f38" color="#dadf40"/><use href="#r3f39" color="#89cb41"/><use href="#r3f40" color="#e1de3f"/><use href="#r3f41" color="#2e47a9"/><use href="#r3f42" color="#87cb41"/><use href="#r3f43" color="#2e49ab"/><use href="#r3f44" color="#2b83b2"/><use href="#r3f45" color="#51b748"/><use href="#r3f46" color="#2c3b9d"/><use href="#r3f47" color="#67c144"/><use href="#r3f48" color="#58bb47"/><use href="#r3f49" color="#2e5fb3"/><use href="#r3f50" color="#73c543"/><use href="#r3f51" color="#59bc46"/><use href="#r3f52" color="#2c399b"/><use href="#r3f53" color="#6bc244"/><use href="#r3f54" color="#a2d33e"/><use href="#r3f55" color="#57ba47"/><use href="#r3f56" color="#5cbd46"/><use href="#r3f57" color="#4ab34a"/><use href="#r3f58" color="#60bf45"/><use href="#r3f59" color="#2e46a7"/><use href="#r3s0" color="#2e58b1"/><use href="#r3s1" color="#2e55b1"/><use href="#r3s2" color="#2d42a4"/><use href="#r3s3" color="#2e49aa"/><use href="#r3s4" color="#b3d73e"/><use href="#r3s5" color="#2e5db2"/><use href="#r3s6" color="#7bc742"/><use href="#r3s7" color="#99d03f"/><use href="#r3s8" color="#5bbd46"/><use href="#r3s9" color="#bad83f"/><use href="#r3s10" color="#2a9193"/><use href="#r3s11" color="#57ba47"/><use href="#r3s12" color="#55b947"/><use href="#r3s13" color="#8bcc41"/><use href="#r3s14" color="#2f54b1"/><use href="#r3s15" color="#aad53e"/><use href="#r3s16" color="#91ce40"/><use href="#r3o"/><use href="#r3n"/></g>
<rect x="214.2" y="173.8" width="46.1" height="45.6" fill="url(#spk)"/>
<rect x="265.1" y="173.2" width="47.3" height="46.8" fill="none" stroke="#333" stroke-width="1.1"/>
<path d="M263.8 174.2V219.5M266.1 221.3H311.9" stroke="#333" stroke-width="1.5" stroke-dasharray="0.55 0.75" fill="none"/>
<g transform="translate(287.6 197.4)" fill="currentColor" stroke="currentColor" stroke-width="0.3"><use href="#r3f0" color="#57ba47"/><use href="#r3f1" color="#37a94e"/><use href="#r3f2" color="#e7d63b"/><use href="#r3f3" color="#90ce40"/><use href="#r3f4" color="#abd53e"/><use href="#r3f5" color="#34a74f"/><use href="#r3f6" color="#e1df40"/><use href="#r3f7" color="#e2dc3e"/><use href="#r3f8" color="#dee040"/><use href="#r3f9" color="#4db549"/><use href="#r3f10" color="#e0df40"/><use href="#r3f11" color="#e6d63b"/><use href="#r3f12" color="#48b24a"/><use href="#r3f13" color="#ccdc3f"/><use href="#r3f14" color="#4ab44a"/><use href="#r3f15" color="#68c244"/><use href="#r3f16" color="#cddc3f"/><use href="#r3f17" color="#7ec842"/><use href="#r3f18" color="#3fad4d"/><use href="#r3f19" color="#d3dd40"/><use href="#r3f20" color="#3ead4d"/><use href="#r3f21" color="#62c045"/><use href="#r3f22" color="#45b04b"/><use href="#r3f23" color="#9ed23f"/><use href="#r3f24" color="#d6de40"/><use href="#r3f25" color="#e2dc3e"/><use href="#r3f26" color="#46b14b"/><use href="#r3f27" color="#9fd23f"/><use href="#r3f28" color="#e4da3d"/><use href="#r3f29" color="#51b748"/><use href="#r3f30" color="#8bcc41"/><use href="#r3f31" color="#e5d83c"/><use href="#r3f32" color="#36a84f"/><use href="#r3f33" color="#33a74f"/><use href="#r3f34" color="#4bb44a"/><use href="#r3f35" color="#42af4c"/><use href="#r3f36" color="#30a552"/><use href="#r3f37" color="#e1df3f"/><use href="#r3f38" color="#66c144"/><use href="#r3f39" color="#aed63e"/><use href="#r3f40" color="#8ecd40"/><use href="#r3f41" color="#2fa35a"/><use href="#r3f42" color="#cbdc3f"/><use href="#r3f43" color="#30a552"/><use href="#r3f44" color="#96cf40"/><use href="#r3f45" color="#e8d339"/><use href="#r3f46" color="#43b04b"/><use href="#r3f47" color="#dcdf40"/><use href="#r3f48" color="#e9d239"/><use href="#r3f49" color="#50b748"/><use href="#r3f50" color="#b7d83f"/><use href="#r3f51" color="#ead038"/><use href="#r3f52" color="#39aa4e"/><use href="#r3f53" color="#ead038"/><use href="#r3f54" color="#41ae4c"/><use href="#r3f55" color="#e0e040"/><use href="#r3f56" color="#c2da3f"/><use href="#r3f57" color="#d9df40"/><use href="#r3f58" color="#ead038"/><use href="#r3f59" color="#49b34a"/><use href="#r3s0" color="#2ea25f"/><use href="#r3s1" color="#3bab4d"/><use href="#r3s2" color="#50b749"/><use href="#r3s3" color="#e9d239"/><use href="#r3s4" color="#41ae4c"/><use href="#r3s5" color="#3dac4d"/><use href="#r3s6" color="#e1df3f"/><use href="#r3s7" color="#44b04b"/><use href="#r3s8" color="#96cf40"/><use href="#r3s9" color="#5ebf45"/><use href="#r3s10" color="#58bb47"/><use href="#r3s11" color="#efc834"/><use href="#r3s12" color="#ebce37"/><use href="#r3s13" color="#78c643"/><use href="#r3s14" color="#46b14b"/><use href="#r3s15" color="#48b34a"/><use href="#r3s16" color="#70c443"/><use href="#r3o"/><use href="#r3n"/></g>
<rect x="265.7" y="173.8" width="46.1" height="45.6" fill="url(#spk)"/>
<rect x="316.8" y="173.2" width="47.3" height="46.8" fill="none" stroke="#333" stroke-width="1.1"/>
<path d="M315.5 174.2V219.5M317.8 221.3H363.6" stroke="#333" stroke-width="1.5" stroke-dasharray="0.55 0.75" fill="none"/>
<g transform="translate(339.2 197.4)" fill="currentColor" stroke="currentColor" stroke-width="0.3"><use href="#r3f0" color="#37a94e"/><use href="#r3f1" color="#43b04b"/><use href="#r3f2" color="#3bab4e"/><use href="#r3f3" color="#46b14b"/><use href="#r3f4" color="#48b24a"/><use href="#r3f5" color="#39aa4e"/><use href="#r3f6" color="#36a84f"/><use href="#r3f7" color="#38aa4e"/><use href="#r3f8" color="#41af4c"/><use href="#r3f9" color="#32a650"/><use href="#r3f10" color="#32a64f"/><use href="#r3f11" color="#46b14b"/><use href="#r3f12" color="#3bab4d"/><use href="#r3f13" color="#3cac4d"/><use href="#r3f14" color="#3ead4d"/><use href="#r3f15" color="#39aa4e"/><use href="#r3f16" color="#39aa4e"/><use href="#r3f17" color="#30a550"/><use href="#r3f18" color="#3dac4d"/><use href="#r3f19" color="#3bab4d"/><use href="#r3f20" color="#3fad4c"/><use href="#r3f21" color="#46b14b"/><use href="#r3f22" color="#41af4c"/><use href="#r3f23" color="#4bb44a"/><use href="#r3f24" color="#3eac4d"/><use href="#r3f25" color="#44b04b"/><use href="#r3f26" color="#30a552"/><use href="#r3f27" color="#39aa4e"/><use href="#r3f28" color="#3aab4e"/><use href="#r3f29" color="#2fa455"/><use href="#r3f30" color="#38a94e"/><use href="#r3f31" color="#39aa4e"/><use href="#r3f32" color="#3fad4d"/><use href="#r3f33" color="#32a650"/><use href="#r3f34" color="#37a94e"/><use href="#r3f35" color="#41ae4c"/><use href="#r3f36" color="#39aa4e"/><use href="#r3f37" color="#3aaa4e"/><use href="#r3f38" color="#3aab4e"/><use href="#r3f39" color="#44b04b"/><use href="#r3f40" color="#35a84f"/><use href="#r3f41" color="#3aaa4e"/><use href="#r3f42" color="#3cac4d"/><use href="#r3f43" color="#38a94e"/><use href="#r3f44" color="#4ab44a"/><use href="#r3f45" color="#37a94e"/><use href="#r3f46" color="#36a84f"/><use href="#r3f47" color="#2fa454"/><use href="#r3f48" color="#46b14b"/><use href="#r3f49" color="#3aaa4e"/><use href="#r3f50" color="#38a94e"/><use href="#r3f51" color="#40ae4c"/><use href="#r3f52" color="#3aab4e"/><use href="#r3f53" color="#3ead4d"/><use href="#r3f54" color="#35a84f"/><use href="#r3f55" color="#32a650"/><use href="#r3f56" color="#34a74f"/><use href="#r3f57" color="#4bb44a"/><use href="#r3f58" color="#43b04c"/><use href="#r3f59" color="#36a84f"/><use href="#r3s0" color="#3aab4e"/><use href="#r3s1" color="#2da065"/><use href="#r3s2" color="#2fa456"/><use href="#r3s3" color="#3cac4d"/><use href="#r3s4" color="#39aa4e"/><use href="#r3s5" color="#30a454"/><use href="#r3s6" color="#3ead4d"/><use href="#r3s7" color="#30a552"/><use href="#r3s8" color="#2ea161"/><use href="#r3s9" color="#2fa359"/><use href="#r3s10" color="#30a452"/><use href="#r3s11" color="#2ea15f"/><use href="#r3s12" color="#2fa25b"/><use href="#r3s13" color="#37a94e"/><use href="#r3s14" color="#2ea163"/><use href="#r3s15" color="#39aa4e"/><use href="#r3s16" color="#3cac4d"/><use href="#r3o"/><use href="#r3n"/></g>
<rect x="317.4" y="173.8" width="46.1" height="45.6" fill="url(#spk)"/>
<rect x="368.3" y="173.2" width="47.3" height="46.8" fill="none" stroke="#333" stroke-width="1.1"/>
<path d="M367.0 174.2V219.5M369.3 221.3H415.1" stroke="#333" stroke-width="1.5" stroke-dasharray="0.55 0.75" fill="none"/>
<g transform="translate(390.8 197.4)" fill="currentColor" stroke="currentColor" stroke-width="0.3"><use href="#r3f0" color="#8dcc41"/><use href="#r3f1" color="#5ebe45"/><use href="#r3f2" color="#cbdc3f"/><use href="#r3f3" color="#b5d73f"/><use href="#r3f4" color="#7ec842"/><use href="#r3f5" color="#66c144"/><use href="#r3f6" color="#8bcc41"/><use href="#r3f7" color="#76c643"/><use href="#r3f8" color="#bbd83f"/><use href="#r3f9" color="#5bbd46"/><use href="#r3f10" color="#96cf40"/><use href="#r3f11" color="#c9db3f"/><use href="#r3f12" color="#6fc443"/><use href="#r3f13" color="#aad53e"/><use href="#r3f14" color="#7ac742"/><use href="#r3f15" color="#c4da3f"/><use href="#r3f16" color="#c8db3f"/><use href="#r3f17" color="#58bb47"/><use href="#r3f18" color="#5abc46"/><use href="#r3f19" color="#5abc46"/><use href="#r3f20" color="#b7d83f"/><use href="#r3f21" color="#a5d43e"/><use href="#r3f22" color="#75c643"/><use href="#r3f23" color="#b4d73e"/><use href="#r3f24" color="#67c144"/><use href="#r3f25" color="#85ca41"/><use href="#r3f26" color="#75c643"/><use href="#r3f27" color="#d2dd40"/><use href="#r3f28" color="#bed93f"/><use href="#r3f29" color="#59bc46"/><use href="#r3f30" color="#c3da3f"/><use href="#r3f31" color="#82c942"/><use href="#r3f32" color="#84ca41"/><use href="#r3f33" color="#5cbd46"/><use href="#r3f34" color="#6cc344"/><use href="#r3f35" color="#6fc443"/><use href="#r3f36" color="#51b748"/><use href="#r3f37" color="#64c045"/><use href="#r3f38" color="#cadb3f"/><use href="#r3f39" color="#79c742"/><use href="#r3f40" color="#c0d93f"/><use href="#r3f41" color="#5bbd46"/><use href="#r3f42" color="#94cf40"/><use href="#r3f43" color="#67c144"/><use href="#r3f44" color="#c3da3f"/><use href="#r3f45" color="#b7d73f"/><use href="#r3f46" color="#6ec443"/><use href="#r3f47" color="#aed63e"/><use href="#r3f48" color="#a7d43e"/><use href="#r3f49" color="#d6de40"/><use href="#r3f50" color="#b3d73e"/><use href="#r3f51" color="#c9db3f"/><use href="#r3f52" color="#5abc46"/><use href="#r3f53" color="#bad83f"/><use href="#r3f54" color="#86ca41"/><use href="#r3f55" color="#6dc344"/><use href="#r3f56" color="#b4d73e"/><use href="#r3f57" color="#c6db3f"/><use href="#r3f58" color="#afd63e"/><use href="#r3f59" color="#58bb47"/><use href="#r3s0" color="#5bbd46"/><use href="#r3s1" color="#80c942"/><use href="#r3s2" color="#7fc842"/><use href="#r3s3" color="#b4d73e"/><use href="#r3s4" color="#6fc443"/><use href="#r3s5" color="#58bb47"/><use href="#r3s6" color="#58bb47"/><use href="#r3s7" color="#51b748"/><use href="#r3s8" color="#65c144"/><use href="#r3s9" color="#59bc46"/><use href="#r3s10" color="#6ac244"/><use href="#r3s11" color="#9fd23f"/><use href="#r3s12" color="#71c443"/><use href="#r3s13" color="#bfd93f"/><use href="#r3s14" color="#56ba47"/><use href="#r3s15" color="#57bb47"/><use href="#r3s16" color="#76c643"/><use href="#r3o"/><use href="#r3n"/></g>
<rect x="368.9" y="173.8" width="46.1" height="45.6" fill="url(#spk)"/>
<rect x="441.6" y="173.2" width="47.3" height="46.8" fill="none" stroke="#333" stroke-width="1.1"/>
<path d="M440.3 174.2V219.5M442.6 221.3H488.4" stroke="#333" stroke-width="1.5" stroke-dasharray="0.55 0.75" fill="none"/>
<g transform="translate(464.1 197.4)" fill="currentColor" stroke="currentColor" stroke-width="0.3"><use href="#r3f0" color="#f2a85e"/><use href="#r3f1" color="#e9ebf1"/><use href="#r3f2" color="#f2a85e"/><use href="#r3f3" color="#e9ebf1"/><use href="#r3f4" color="#f2a85e"/><use href="#r3f5" color="#e9ebf1"/><use href="#r3f6" color="#f2a85e"/><use href="#r3f7" color="#e9ebf1"/><use href="#r3f8" color="#e9ebf1"/><use href="#r3f9" color="#e9ebf1"/><use href="#r3f10" color="#e9ebf1"/><use href="#r3f11" color="#f2a85e"/><use href="#r3f12" color="#e9ebf1"/><use href="#r3f13" color="#e9ebf1"/><use href="#r3f14" color="#e9ebf1"/><use href="#r3f15" color="#f2a85e"/><use href="#r3f16" color="#f2a85e"/><use href="#r3f17" color="#e9ebf1"/><use href="#r3f18" color="#e9ebf1"/><use href="#r3f19" color="#e9ebf1"/><use href="#r3f20" color="#e9ebf1"/><use href="#r3f21" color="#d81d2a"/><use href="#r3f22" color="#e9ebf1"/><use href="#r3f23" color="#e9ebf1"/><use href="#r3f24" color="#f2a85e"/><use href="#r3f25" color="#f2a85e"/><use href="#r3f26" color="#e9ebf1"/><use href="#r3f27" color="#f2a85e"/><use href="#r3f28" color="#e9ebf1"/><use href="#r3f29" color="#e9ebf1"/><use href="#r3f30" color="#d81d2a"/><use href="#r3f31" color="#f2a85e"/><use href="#r3f32" color="#e9ebf1"/><use href="#r3f33" color="#e9ebf1"/><use href="#r3f34" color="#e9ebf1"/><use href="#r3f35" color="#e9ebf1"/><use href="#r3f36" color="#e9ebf1"/><use href="#r3f37" color="#f2a85e"/><use href="#r3f38" color="#d81d2a"/><use href="#r3f39" color="#e9ebf1"/><use href="#r3f40" color="#d81d2a"/><use href="#r3f41" color="#e9ebf1"/><use href="#r3f42" color="#e9ebf1"/><use href="#r3f43" color="#e9ebf1"/><use href="#r3f44" color="#e9ebf1"/><use href="#r3f45" color="#f2a85e"/><use href="#r3f46" color="#e9ebf1"/><use href="#r3f47" color="#e9ebf1"/><use href="#r3f48" color="#f2a85e"/><use href="#r3f49" color="#f2a85e"/><use href="#r3f50" color="#e9ebf1"/><use href="#r3f51" color="#f2a85e"/><use href="#r3f52" color="#e9ebf1"/><use href="#r3f53" color="#f2a85e"/><use href="#r3f54" color="#e9ebf1"/><use href="#r3f55" color="#f2a85e"/><use href="#r3f56" color="#e9ebf1"/><use href="#r3f57" color="#f2a85e"/><use href="#r3f58" color="#f2a85e"/><use href="#r3f59" color="#e9ebf1"/><use href="#r3s0" color="#e9ebf1"/><use href="#r3s1" color="#e9ebf1"/><use href="#r3s2" color="#e9ebf1"/><use href="#r3s3" color="#e9ebf1"/><use href="#r3s4" color="#e9ebf1"/><use href="#r3s5" color="#e9ebf1"/><use href="#r3s6" color="#e9ebf1"/><use href="#r3s7" color="#e9ebf1"/><use href="#r3s8" color="#e9ebf1"/><use href="#r3s9" color="#e9ebf1"/><use href="#r3s10" color="#e9ebf1"/><use href="#r3s11" color="#f2a85e"/><use href="#r3s12" color="#e9ebf1"/><use href="#r3s13" color="#e9ebf1"/><use href="#r3s14" color="#e9ebf1"/><use href="#r3s15" color="#e9ebf1"/><use href="#r3s16" color="#e9ebf1"/><use href="#r3o"/><use href="#r3n"/></g>
<rect x="442.2" y="173.8" width="46.1" height="45.6" fill="url(#spk)"/>
<circle cx="461.5" cy="46.5" r="1.1" fill="#1a9a8a"/>
<circle cx="461" cy="92" r="1.1" fill="#5a6a70"/>
<circle cx="469" cy="103" r="1.1" fill="#2a7a70"/>
<circle cx="464" cy="152" r="1.1" fill="#4a7a78"/>
<circle cx="483.8" cy="201.8" r="1.1" fill="#20c0a0"/>
<circle cx="470" cy="201" r="1.1" fill="#30b090"/>
<rect x="496.9" y="19.5" width="5.4" height="5.1" fill="#f39a2e"/>
<rect x="510" y="19.5" width="5.4" height="5.1" fill="#c8163f"/>
<text transform="translate(509.9 27.3) rotate(90)" font-size="7.8" textLength="99.4" lengthAdjust="spacingAndGlyphs" stroke="#1a1a1a">Cd138<tspan dy="-2.5" font-size="5.2">−</tspan><tspan dy="2.5">Cd19</tspan><tspan dy="-2.5" font-size="5.2">+</tspan><tspan dy="2.5">B220</tspan><tspan dy="-2.5" font-size="5.2">+</tspan><tspan dy="2.5">Fas</tspan><tspan dy="-2.5" font-size="5.2">+</tspan><tspan dy="2.5">Gl-7</tspan><tspan dy="-2.5" font-size="5.2">+</tspan></text>
<text transform="translate(497 27.3) rotate(90)" font-size="7.8" textLength="94.8" lengthAdjust="spacingAndGlyphs" stroke="#1a1a1a">Cd138<tspan dy="-2.5" font-size="5.2">−</tspan><tspan dy="2.5">Cd19</tspan><tspan dy="-2.5" font-size="5.2">+</tspan><tspan dy="2.5">B220</tspan><tspan dy="-2.5" font-size="5.2">+</tspan><tspan dy="2.5">Fas−Gl-7</tspan><tspan dy="-2.5" font-size="5.2">−</tspan></text>
<rect x="497.8" y="138.8" width="5.4" height="5.3" fill="#1aa0d0"/>
<text transform="translate(497 148.9) rotate(90)" font-size="7.8" textLength="25.9" lengthAdjust="spacingAndGlyphs" stroke="#1a1a1a">Cd138<tspan dy="-2.5" font-size="5.2">+</tspan></text>
<rect x="497.8" y="181" width="5.4" height="5.1" fill="#c4c4c4"/>
<text transform="translate(497 191.2) rotate(90)" font-size="7.8" textLength="22.7" lengthAdjust="spacingAndGlyphs" stroke="#1a1a1a">Others</text>
<path d="M178.7 236V259.3H202.5" stroke="#111" stroke-width="1" fill="none"/>
<path d="M178.7 232.6l-2.1 4.4h4.2z M205.9 259.3l-4.4 -2.1v4.2z" fill="#111"/>
<text transform="translate(173.8 245.7) rotate(-90)" font-size="7" text-anchor="middle" textLength="20.7" lengthAdjust="spacingAndGlyphs" stroke="#1a1a1a">tSNE2</text>
<text x="182.1" y="270.3" font-size="7" textLength="20.3" lengthAdjust="spacingAndGlyphs" stroke="#1a1a1a">tSNE1</text>
<defs><linearGradient id="cb" x1="0" y1="0" x2="0" y2="1"><stop offset="0" stop-color="#e03a20"/><stop offset="0.15" stop-color="#f08a28"/><stop offset="0.32" stop-color="#f0e040"/><stop offset="0.5" stop-color="#70c040"/><stop offset="0.72" stop-color="#30a050"/><stop offset="0.86" stop-color="#2a8a9a"/><stop offset="1" stop-color="#2a3a98"/></linearGradient></defs>
<rect x="230.6" y="234.5" width="7.3" height="36.3" fill="url(#cb)"/>
<text x="240" y="238.6" font-size="7.2" stroke="#1a1a1a">High</text>
<text x="240" y="271.4" font-size="7.2" stroke="#1a1a1a">Low</text>
<text x="161.5" y="311.5" font-size="10.5" font-weight="bold" stroke="#1a1a1a">D</text>
<text x="243.6" y="302.4" font-size="9.3" text-anchor="middle" stroke="#1a1a1a">7AAD<tspan dy="-3.4" font-size="5.8">−</tspan></text>
<text x="358" y="302.4" font-size="9.3" text-anchor="middle" stroke="#1a1a1a">Cd19<tspan dy="-3.4" font-size="5.8">+</tspan></text>
<text x="473" y="302.4" font-size="9.3" text-anchor="middle" stroke="#1a1a1a">Fas<tspan dy="-3.4" font-size="5.8">+</tspan><tspan dy="3.4">Gl-7</tspan><tspan dy="-3.4" font-size="5.8">+</tspan></text>
<text transform="translate(167.3 346) rotate(-90)" font-size="9" fill="#2f629c" text-anchor="middle" textLength="26.7" lengthAdjust="spacingAndGlyphs" stroke="#2f629c">MxWT</text>
<text transform="translate(167.3 444) rotate(-90)" font-size="9" fill="#cf1f4a" text-anchor="middle" textLength="23.9" lengthAdjust="spacingAndGlyphs" stroke="#cf1f4a">MxTR</text>
<text transform="translate(182.8 394.4) rotate(-90)" font-size="8.5" text-anchor="middle" textLength="48.3" lengthAdjust="spacingAndGlyphs" stroke="#1a1a1a">Cd19 (BV421)</text>
<text transform="translate(300.2 394.4) rotate(-90)" font-size="8.5" text-anchor="middle" textLength="25.7" lengthAdjust="spacingAndGlyphs" stroke="#1a1a1a">Fas (PE)</text>
<text transform="translate(415.6 394.5) rotate(-90)" font-size="8.5" text-anchor="middle" textLength="48" lengthAdjust="spacingAndGlyphs" stroke="#1a1a1a">Cd86 (PE-Cy7)</text>
<text x="243.5" y="508.6" font-size="8.6" text-anchor="middle" textLength="51.3" lengthAdjust="spacingAndGlyphs" stroke="#1a1a1a">Cd138 (BV510)</text>
<text x="358.7" y="508.6" font-size="8.6" text-anchor="middle" textLength="34.7" lengthAdjust="spacingAndGlyphs" stroke="#1a1a1a">Gl-7 (FITC)</text>
<text x="475.4" y="508.6" font-size="8.6" text-anchor="middle" textLength="38.1" lengthAdjust="spacingAndGlyphs" stroke="#1a1a1a">Cxcr4 (APC)</text>
<path d="M222.5 326.2h0m0.3 0.2h0m0.1 0h0m0 -0.1h0m-0.1 0.6h0m0.2 0.7h0m-0.8 0.1h0m0.5 0.1h0m0.1 0.8h0m0.2 -0.7h0m0.4 0h0m-0.9 4.3h0m0.1 -0.2h0m0.7 0.1h0m-1.3 0.4h0m0.1 0.3h0m1.0 0.1h0m0.2 -0.4h0m-2.2 1.9h0m3.0 -0.2h0m0 0.3h0m0.1 -0.1h0m0.8 1.9h0m-5.0 0.4h0m7.7 2.2h0m1.5 0.8h0m0.5 0.1h0m0.9 0h0m0 0.1h0m0.3 -0.1h0m0.5 -0.3h0m1.2 0.5h0m0.1 0.1h0m0.3 0h0m-13.9 0.6h0m13.6 -0.2h0m0.4 -0.1h0m0 0.4h0m0.5 0.2h0m0.2 0h0m0.2 0h0m-0.4 0.7h0m0.9 -0.1h0m0.2 0.5h0m0.2 0h0m1.0 -0.1h0m0.2 0h0m1.0 0.3h0m0.1 0.4h0m0 0.1h0m0.5 -0.5h0m0.1 1.9h0m-2.3 0.7h0m1.8 0h0m0.2 -0.7h0m0.1 0.4h0m0.2 0h0m0.1 -0.2h0m0.2 0.3h0m0.2 0.1h0m0.6 0.2h0m-4.0 0.5h0m0.2 0h0m0 0.2h0m2.1 -0.3h0m0 0.6h0m0 -0.4h0m0 -0.3h0m0.4 0.7h0m0.2 -0.7h0m0.4 0.8h0m0.4 -0.7h0m0.3 -0.2h0m-4.0 1.5h0m0.2 0.1h0m-0.8 0.7h0m-1.0 1.6h0m0.3 -0.4h0m0.1 -0.4h0m-2.3 1.9h0m0.3 -0.3h0m1.0 -0.1h0m0.1 -0.2h0m0.8 0.1h0m-3.7 0.8h0m0.4 -0.2h0m1.9 0.3h0m0.2 -0.2h0m0.3 0.1h0m0.1 0h0m0.8 0.1h0m0 -0.2h0m-7.7 1.3h0m1.3 -0.5h0m0 -0.1h0m-6.1 4.2h0m0.1 0h0m0.1 0.2h0m3.3 2.4h0m-3.6 11.3h0m4.0 1.8h0m-0.8 3.1h0m0.2 0.1h0m-2.8 1.2h0m0.1 -0.1h0m0 1.0h0m1.4 0h0m0.1 0.5h0m-1.2 0.5h0m0.1 1.0h0m0.2 0h0m0.3 -0.6h0m-0.7 1.0h0m0.2 -0.2h0m0.4 1.5h0m0.3 0.2h0m-0.8 0.5h0m0.8 0.4h0m0 0.1h0m0.1 -0.1h0m0.4 0h0m-1.0 0.1h0m0.5 0.3h0m0.3 -0.3h0m0.5 0.4h0" stroke="#3244b4" stroke-width="0.85" stroke-linecap="round" fill="none"/>
<path d="M221.9 322.4h0m0.1 -0.2h0m0 0.3h0m0.2 -0.2h0m0.2 0.2h0m0.8 0.9h0m-1.2 1.2h0m0.1 -0.9h0m1.7 0.8h0m0 0.1h0m-1.8 0.5h0m2.0 0.2h0m0.6 0.7h0m-2.8 1.1h0m2.7 0.1h0m-2.5 1.5h0m-0.3 1.3h0m0.4 0.1h0m1.4 0.1h0m-0.9 0.8h0m0.1 -0.2h0m0.7 -0.1h0m0.4 0.4h0m-1.8 1.1h0m2.0 -0.5h0m0.5 1.2h0m11.3 3.6h0m0 -0.3h0m0.3 0.1h0m0.2 0.1h0m-1.7 1.1h0m0.2 -0.6h0m0.3 0.4h0m0.9 -0.7h0m0.1 0.7h0m-8.9 0.5h0m1.2 -0.1h0m0.4 0.8h0m0.2 -0.2h0m2.4 0.2h0m0.5 -0.8h0m0.1 0h0m0.3 0.4h0m0.4 -0.3h0m2.8 0.2h0m0.3 -0.2h0m0.9 0.3h0m-17.4 0.9h0m12.5 0h0m1.1 0.5h0m0.2 -0.1h0m1.1 0.1h0m0.3 0.2h0m0.3 0h0m2.3 -0.1h0m-1.5 0.2h0m0.6 0.4h0m0.1 0.3h0m0.2 -0.3h0m0.8 -0.2h0m0.2 0.7h0m2.0 -0.9h0m0.1 0.4h0m0.6 0.1h0m0.2 -0.2h0m0.6 0.1h0m15.1 0.3h0m0 -0.2h0m0.2 0.3h0m2.1 -0.3h0m-39.5 1.3h0m17.4 -0.3h0m1.5 0.3h0m0.2 -0.7h0m0.7 0.4h0m0.2 -0.6h0m1.1 0.4h0m0 0.3h0m0.4 0h0m14.6 -0.4h0m0.6 0.2h0m0.7 -0.1h0m0.1 0.3h0m0.3 0h0m0 -0.3h0m0.5 -0.2h0m-18.4 1.8h0m1.3 -0.9h0m5.1 0.6h0m0.2 -0.2h0m0.7 0h0m11.5 0.3h0m0.5 -0.3h0m-18.5 1.2h0m0.6 -0.1h0m5.7 0.1h0m0.9 0.1h0m0.2 -0.8h0m5.6 0.8h0m4.7 -0.6h0m0.9 0.1h0m-18.2 0.6h0m3.9 0.8h0m2.7 -0.6h0m5.6 0.2h0m4.1 0.4h0m-15.6 0.9h0m10.6 -0.3h0m0.7 -0.3h0m0 0.1h0m0.2 0.2h0m2.2 0.4h0m1.0 -0.5h0m0.2 0.6h0m0.1 -0.2h0m0.9 -0.2h0m0.3 0.2h0m-15.8 1.0h0m2.6 -0.5h0m0.3 0.5h0m2.5 -0.1h0m0 -0.5h0m0.7 0.1h0m1.2 0.5h0m0.3 0.3h0m1.1 -0.1h0m0.1 -0.2h0m1.6 -0.5h0m0 0h0m3.2 0.3h0m0.1 0.4h0m0.8 0h0m0.4 -0.3h0m0.1 -0.1h0m0.7 -0.4h0m2.3 0h0m0.4 0.9h0m0.7 -0.3h0m0.2 -0.1h0m-23.1 1.5h0m0.2 -0.1h0m0.5 -0.2h0m5.4 -0.1h0m0.1 -0.4h0m1.1 0.6h0m0.2 0h0m0.8 -0.6h0m0.2 0.2h0m1.0 0h0m1.8 0.7h0m5.4 -0.1h0m0.1 -0.2h0m2.0 -0.2h0m0.6 -0.1h0m2.3 0h0m0.1 0.6h0m0.4 -0.6h0m-39.1 1.3h0m16.0 0.2h0m0.7 -0.1h0m0.9 0h0m1.3 -0.4h0m0.9 0.5h0m1.0 -0.2h0m0.2 0h0m2.5 -0.4h0m1.2 0.4h0m2.7 0h0m1.0 -0.2h0m1.7 0.3h0m0.1 0.3h0m2.1 -0.3h0m0 0.2h0m1.5 -0.3h0m0.5 -0.5h0m0.2 0.1h0m0.1 -0.1h0m0.9 0.4h0m1.9 0.1h0m0.6 0.4h0m5.8 -0.4h0m0.1 0.3h0m0.1 -0.2h0m0.1 -0.2h0m0.1 0.3h0m0 -0.5h0m0.2 0.5h0m0 -0.3h0m0.3 0h0m-28.8 1.4h0m0.3 -0.1h0m0.7 0.1h0m1.3 -0.6h0m0.9 0h0m0.4 -0.1h0m0.4 0.3h0m0.3 -0.4h0m0.9 0.6h0m3.6 0.3h0m0 0.1h0m0.6 -0.9h0m1.0 0.4h0m0.5 0h0m0.4 0h0m0.5 -0.5h0m0.7 0.6h0m0.9 -0.2h0m0.1 -0.4h0m2.4 0.3h0m0.7 -0.1h0m1.0 0.3h0m0.8 -0.2h0m0.2 -0.4h0m0.1 0.5h0m2.8 0h0m0.6 -0.2h0m0.8 0.3h0m0 0.3h0m-38.0 0.4h0m15.2 0.2h0m4.7 0.3h0m0.2 -0.5h0m0.1 0.3h0m0.6 0h0m3.7 0.2h0m0.2 0.1h0m0.6 -0.2h0m0.5 0.2h0m0.5 -0.2h0m0.7 -0.4h0m0.5 -0.1h0m0.2 0.5h0m0.1 -0.3h0m4.8 0.3h0m0.1 0.1h0m0 0h0m0.2 0.1h0m1.5 -0.5h0m-19.3 1.3h0m0.2 0.1h0m0.4 -0.6h0m0.5 0.2h0m0.1 0.7h0m0.2 -0.3h0m0.7 -0.5h0m0 0.8h0m0.3 0.1h0m0 -0.8h0m0.4 0.2h0m1.9 0.5h0m0.9 -0.3h0m0.5 0.1h0m0.1 0.2h0m3.2 -0.9h0m1.4 0.4h0m0.1 0h0m1.6 0.1h0m0.1 0.4h0m0.6 -0.7h0m2.8 0.7h0m0.1 -0.4h0m1.0 0.4h0m0.7 -0.9h0m0.2 0h0m-22.3 1.7h0m6.4 0.1h0m0.3 -0.2h0m0.4 -0.6h0m0.2 0.8h0m0.4 -0.7h0m1.7 0.6h0m0.5 -0.5h0m0.6 0.4h0m0 0.4h0m6.3 -0.6h0m0.2 -0.3h0m4.2 0.6h0m0.5 -0.4h0m-26.7 1.2h0m0 0.2h0m0.1 0h0m0.8 -0.1h0m1.1 0h0m0.9 -0.4h0m0.3 0.2h0m1.3 0.6h0m0 -0.8h0m1.7 0.5h0m0.4 -0.2h0m0.6 0.1h0m0.5 0.1h0m0.5 0h0m1.1 -0.6h0m0.2 0.2h0m2.4 -0.2h0m1.3 0.2h0m1.3 -0.1h0m12.1 0.3h0m0.6 -0.3h0m0.3 -0.1h0m-20.4 1.0h0m-8.8 1.0h0m-4.1 13.9h0m4.7 3.5h0m0 0.9h0m-4.2 2.6h0m0.3 1.5h0m0.3 1.1h0m2.1 0.9h0m-0.1 0.9h0m0.1 0.3h0m-2.2 0.8h0m2.3 1.2h0m-0.2 0.3h0m0.3 0.3h0" stroke="#4b5cc4" stroke-width="0.85" stroke-linecap="round" fill="none"/>
<path d="M222.2 323.1h0m0 -0.6h0m0.2 0.8h0m0.3 0.1h0m0.2 -0.7h0m-0.5 1.3h0m0.3 0.3h0m0.5 0h0m-0.8 0.5h0m0.8 0.6h0m-0.9 0.6h0m0.1 0.3h0m0.4 -0.3h0m0.8 0.4h0m-1.5 1.0h0m1.5 -0.2h0m0 0.2h0m0.2 -0.6h0m-2.0 1.7h0m0.1 0h0m0.6 0.8h0m0.3 -0.5h0m0 -0.2h0m0 0.5h0m0 -0.4h0m0.6 0.7h0m-0.6 0.4h0m-0.1 1.6h0m-0.1 0.5h0m0.6 0.2h0m-1.9 1.9h0m6.3 4.3h0m0.8 0.4h0m0.1 0.2h0m3.3 0.6h0m1.7 0.2h0m0.5 0.8h0m0.5 0.5h0m1.6 0.7h0m1.1 0.2h0m0.1 0h0m0.1 0.4h0m-19.1 0.5h0m19.6 -0.1h0m0.1 0.7h0m0.7 -0.1h0m5.1 1.1h0m0.2 -0.3h0m0.1 0.2h0m0.5 -0.4h0m0.5 0.2h0m0.2 -0.1h0m-5.9 0.7h0m4.4 0.2h0m0.2 -0.1h0m0.3 0.7h0m0.3 -0.5h0m0.1 0h0m0.6 -0.2h0m0.2 0h0m0.6 -0.2h0m0 0.9h0m-10.0 0.2h0m3.2 0h0m0.4 -0.1h0m0 0.1h0m4.0 0.3h0m0.1 0.3h0m0.6 -0.2h0m1.0 -0.4h0m0 0.7h0m5.4 -0.2h0m0.2 -0.1h0m-12.8 0.9h0m0 -0.2h0m0.8 0.5h0m0 -0.3h0m9.3 0.4h0m0.3 -0.6h0m0.5 0.5h0m0.2 0h0m0.6 -0.2h0m0.1 -0.3h0m0.4 0.5h0m0.5 0h0m0.3 -0.7h0m0.2 0.5h0m0.3 -0.5h0m0.3 0.5h0m0.1 -0.4h0m0.2 0.6h0m0.1 -0.7h0m-17.7 1.3h0m0.2 0.1h0m13.6 -0.6h0m0.1 0.6h0m0.3 0.2h0m3.7 -0.2h0m-17.8 0.5h0m0.2 0.4h0m-14.4 2.3h0m12.0 -0.1h0m0.8 -0.1h0m0.4 -0.2h0m0 0.3h0m-5.4 1.1h0m0 0h0m0.2 0h0m0.3 0h0m0.6 -0.8h0m0.3 -0.1h0m3.0 0.8h0m1.3 0.1h0m0.2 -0.7h0m0.2 0.4h0m0.1 0h0m0.4 -0.7h0m0 0h0m-8.0 1.3h0m6.7 0.1h0m-13.6 5.5h0m0 2.2h0m4.7 0.1h0m-4.8 1.1h0m4.8 6.9h0m-0.1 0.7h0m-4.1 1.1h0m4.1 0.5h0m-3.7 1.7h0m0.1 1.2h0m2.4 2.6h0m0.2 0.5h0m-2.4 0.4h0m0.2 0.2h0m1.9 0.3h0m0 0h0m0.1 0.2h0m-2.2 0.4h0m0.2 -0.2h0m0.5 0.8h0m1.1 -0.6h0m-1.0 1.0h0m0.1 0.5h0m0.7 -0.4h0m-1.4 1.7h0m0.1 -0.3h0m1.5 -0.7h0m-1.7 1.9h0m0.1 -0.9h0m-0.1 1.3h0m0.2 -0.1h0m0.1 0h0m0.1 0.4h0m0 0.2h0m0.2 -0.5h0m0.5 -0.3h0" stroke="#3c4ebc" stroke-width="0.85" stroke-linecap="round" fill="none"/>
<path d="M224.5 322.9h0m34.0 5.2h0m-33.7 0.8h0m18.7 0.5h0m1.1 0.1h0m14.9 -0.5h0m-12.8 0.5h0m0.1 0.9h0m1.2 -0.7h0m11.8 0h0m-13.7 1.7h0m5.6 0h0m4.8 -0.7h0m0.3 0.4h0m0.2 0h0m-36.1 0.7h0m29.0 0.3h0m0.5 -0.1h0m1.3 -0.5h0m0.8 0.6h0m6.9 -0.1h0m-25.6 0.8h0m9.3 0.6h0m0.9 0h0m8.6 0.1h0m1.2 -0.4h0m4.7 -0.1h0m-23.9 1.5h0m9.3 -0.6h0m4.3 0.3h0m0.1 0h0m1.5 -0.1h0m-23.7 0.8h0m5.2 -0.1h0m1.0 0h0m2.3 0.6h0m3.7 -0.2h0m3.2 0.3h0m9.7 0h0m1.3 -0.6h0m0.9 0.6h0m3.8 -0.7h0m0 0h0m1.1 0.2h0m-39.1 1.3h0m11.8 -0.4h0m0.8 -0.2h0m7.4 0.6h0m0.4 -0.2h0m0 -0.4h0m1.6 0.4h0m1.3 0.3h0m6.0 -0.5h0m0.8 0.4h0m0.6 0h0m5.7 0h0m3.5 -0.2h0m0.1 0.3h0m9.2 0h0m0.4 -0.2h0m1.4 0.4h0m0.4 -0.4h0m0.5 0.1h0m-41.8 0.5h0m13.7 0h0m3.2 0.5h0m8.5 -0.2h0m2.4 0h0m1.2 -0.5h0m0 0.8h0m8.0 0.1h0m3.7 0h0m-30.9 0.6h0m2.4 0h0m1.3 -0.3h0m5.1 0.6h0m8.1 -0.2h0m4.5 -0.1h0m0.7 -0.5h0m1.7 0h0m2.0 0.4h0m2.4 0.5h0m0.8 -0.1h0m-24.5 0.8h0m2.0 0.2h0m0.9 -0.3h0m6.3 -0.3h0m12.3 0.8h0m1.1 -0.7h0m-47.7 1.0h0m26.9 -0.3h0m18.8 0.8h0m12.3 -0.6h0m0 0h0m-33.2 1.3h0m1.9 -0.1h0m22.5 0.4h0m-1.0 0.3h0m1.7 0.6h0m3.7 0.3h0m-5.9 0.4h0m2.0 0.3h0m3.7 0.1h0m-2.5 0.6h0m2.8 0.2h0m-3.8 0.9h0m2.5 0.1h0m-0.1 0.8h0m2.6 0.2h0m2.7 0.3h0m-4.0 1.6h0m1.3 0.7h0m-6.1 0.7h0m4.2 -0.4h0m-6.8 1.5h0m6.7 -0.3h0m-8.4 1.4h0m2.4 0h0m2.5 -0.7h0m5.0 0.3h0m6.9 0.5h0m0.6 -0.4h0m-12.9 0.8h0m0.9 0.6h0m2.9 -0.2h0m1.1 -0.2h0m-8.2 0.6h0m1.0 0.4h0m3.1 0h0m-30.1 1.2h0m32.5 -0.4h0m-43.3 1.0h0m6.4 0.3h0m0.2 0.2h0m2.7 -0.2h0m5.3 -0.4h0m1.7 0.2h0m0.7 0.3h0m1.3 -0.5h0m1.2 0.9h0m2.1 -0.2h0m15.0 -0.1h0m0.7 -0.1h0m3.3 0.1h0m1.0 0.2h0m-39.7 0.4h0m2.9 0.6h0m4.0 -0.5h0m3.6 0.1h0m1.2 0.3h0m1.2 0.1h0m0.1 -0.5h0m5.2 0.4h0m2.0 0h0m2.8 0.2h0m10.3 0.1h0m1.4 -0.2h0m1.0 -0.2h0m-37.8 0.8h0m2.6 0.4h0m4.1 -0.3h0m3.4 0.2h0m0.3 -0.3h0m1.5 -0.3h0m4.2 0.5h0m0.2 0h0m3.5 -0.4h0m1.6 0.9h0m2.9 -0.8h0m1.4 0.3h0m3.3 -0.4h0m4.7 0.1h0m1.3 0.7h0m3.8 -0.8h0m-37.2 1.5h0m1.2 -0.5h0m7.2 0.4h0m2.8 0.1h0m0.1 0.2h0m2.6 -0.2h0m3.8 0.3h0m8.2 -0.8h0m3.8 0.7h0m0.4 -0.3h0m1.2 0.3h0m12.3 -0.8h0m-29.8 1.7h0m2.0 -0.8h0m1.2 0.8h0m2.3 -0.5h0m2.3 -0.1h0m0.3 0.6h0m7.6 -0.7h0m11.8 0.3h0m0.7 0.4h0m1.3 -0.5h0m-34.1 1.3h0m0.2 -0.2h0m2.7 -0.1h0m1.7 0.3h0m0.2 -0.6h0m6.0 0.7h0m0.1 -0.1h0m1.6 -0.4h0m2.0 0.3h0m1.2 -0.6h0m0.3 0.4h0m2.1 0.4h0m15.5 -0.6h0m-29.4 1.6h0m7.8 -0.1h0m5.5 0.3h0m0 -0.6h0m3.8 -0.1h0m1.9 0.4h0m1.2 -0.6h0m-28.9 1.5h0m15.0 0.2h0m7.9 -0.4h0m1.3 0.4h0m1.6 -0.2h0m3.9 -0.4h0m-35.5 1.6h0m19.6 -0.1h0m3.7 -0.5h0m0.2 0.2h0m-22.8 1.1h0m6.4 -0.3h0m0.3 0.8h0m9.3 -0.3h0m0.6 -0.1h0m0.8 -0.2h0m5.6 0.1h0m1.3 -0.3h0m5.8 0.4h0m3.4 0h0m-33.3 1.4h0m7.2 -0.5h0m23.6 -0.3h0m-31.8 1.7h0m11.5 -0.5h0m1.2 -0.4h0m15.7 0.1h0m0 0h0m-8.1 2.5h0m22.5 0.1h0m1.0 -0.1h0m-6.5 1.1h0m5.5 0.3h0m-43.5 0h0m13.9 0.8h0m31.5 -0.6h0m-31.2 0.8h0m23.7 0.2h0m1.0 0.3h0m-12.1 2.3h0m-33.1 5.7h0m5.3 4.2h0m-1.5 0.3h0" stroke="#6f7cd2" stroke-width="0.85" stroke-linecap="round" fill="none"/>
<path d="M220.9 323.1h0m2.9 -0.3h0m1.0 1.3h0m-0.1 3.9h0m-3.9 4.3h0m13.9 4.0h0m1.5 -0.6h0m15.8 0.4h0m0.2 0h0m0.6 -0.2h0m-23.2 1.2h0m2.9 0.1h0m0 -0.4h0m11.6 -0.3h0m0.8 0.1h0m0.1 0.6h0m0 -0.7h0m0 -0.2h0m4.4 0.4h0m1.9 0h0m0.1 0.2h0m2.5 -0.3h0m0.2 0.2h0m-23.8 0.5h0m3.0 0.2h0m3.9 0.6h0m0.5 -0.6h0m6.7 -0.1h0m4.4 0.2h0m1.2 -0.3h0m1.3 0.3h0m2.7 0.3h0m4.6 0.3h0m3.7 0h0m0.1 0h0m-24.5 0.4h0m0.5 0h0m1.1 0.4h0m0.5 0h0m7.2 0.1h0m1.2 -0.4h0m1.5 -0.1h0m0.5 0.4h0m3.4 0.1h0m0.6 -0.9h0m0.7 0.8h0m0.2 -0.5h0m1.7 0.2h0m0.9 -0.3h0m0.4 0.6h0m2.2 0.1h0m1.5 -0.8h0m0.7 0.6h0m-21.7 0.5h0m1.3 0.6h0m4.0 -0.1h0m1.7 0.1h0m0.3 -0.1h0m0.3 -0.4h0m0.5 0.5h0m1.7 0.1h0m2.7 -0.1h0m0.8 -0.2h0m4.4 -0.3h0m0.6 0.2h0m0.8 0h0m0.4 0h0m0.4 -0.4h0m0.4 -0.2h0m1.6 0.1h0m0 0.7h0m-15.9 1.0h0m3.3 -0.4h0m0.3 -0.1h0m0.1 0.6h0m1.6 -0.9h0m0.2 -0.1h0m2.3 0.7h0m0 -0.3h0m4.9 -0.1h0m1.6 0.5h0m0.7 -0.4h0m0.7 -0.4h0m1.4 0.9h0m-21.3 0.5h0m0.5 0.2h0m0.9 -0.5h0m3.0 0.1h0m0.2 0.6h0m1.4 -0.8h0m1.8 0.7h0m0 -0.1h0m0.8 0.3h0m0.1 -0.5h0m0.3 0.1h0m2.0 0.4h0m0.5 0h0m0.1 -0.7h0m0.7 0.5h0m0.6 -0.5h0m1.5 0.4h0m2.3 0.3h0m0.5 -0.8h0m2.3 0.5h0m2.4 0.1h0m0.5 0.1h0m0.2 -0.1h0m-46.3 0.6h0m21.8 0.5h0m0.1 -0.2h0m1.9 -0.5h0m1.4 0.4h0m0.4 -0.2h0m4.0 -0.4h0m3.3 0.7h0m1.5 -0.7h0m0.3 0.7h0m2.3 -0.2h0m3.3 0.2h0m0.3 0.3h0m1.0 -0.8h0m0.5 0.6h0m1.0 -0.7h0m0.5 0h0m0.7 0.7h0m0.2 -0.2h0m0.6 -0.6h0m0.9 0.8h0m3.2 -0.2h0m-26.2 0.7h0m6.7 0.3h0m0.1 -0.6h0m5.0 0h0m2.0 0.7h0m0.3 -0.7h0m0.8 0.3h0m1.9 -0.4h0m0.6 0.6h0m3.6 -0.3h0m0.6 0.2h0m0.9 -0.2h0m2.1 0.6h0m1.0 -0.8h0m-25.2 1.2h0m0.7 -0.3h0m7.9 0.6h0m3.6 -0.1h0m3.7 -0.3h0m1.9 -0.1h0m0.1 0h0m0.7 0.2h0m0.7 -0.4h0m1.1 0.6h0m0.6 0h0m1.3 -0.3h0m2.4 0h0m0 0.2h0m0.8 -0.3h0m4.9 0.5h0m0 0.2h0m-31.0 0.6h0m0.8 -0.1h0m7.4 -0.4h0m9.0 0.1h0m2.7 0.7h0m1.2 -0.2h0m0.5 -0.3h0m0.9 0h0m0.3 -0.1h0m0.9 -0.3h0m0.5 0.2h0m2.0 0.4h0m0.5 0.2h0m4.4 -0.7h0m0.2 0.7h0m-31.3 0.8h0m0.6 0h0m1.1 0.2h0m13.7 -0.3h0m1.0 -0.2h0m1.7 0.5h0m1.8 -0.7h0m0.3 0.7h0m4.4 0h0m1.0 -0.1h0m1.3 0h0m0.1 -0.1h0m0.3 -0.6h0m0 0.4h0m0.4 0.3h0m0.8 -0.6h0m1.7 0.1h0m0.5 0.2h0m-30.5 1.3h0m4.4 0.4h0m10.8 0h0m4.0 -0.2h0m0.3 0.1h0m0.3 -0.6h0m1.5 0.5h0m3.1 -0.5h0m0.1 0.5h0m1.3 -0.1h0m-24.6 1.3h0m0.7 -0.3h0m0.2 -0.6h0m6.9 1.0h0m5.6 -0.4h0m2.7 -0.5h0m0.5 0h0m6.5 0.3h0m3.5 0.3h0m-30.4 0.7h0m11.9 0.1h0m3.6 0.2h0m1.0 0.3h0m1.2 -0.6h0m2.4 0.5h0m0.8 -0.3h0m0.1 -0.2h0m0.7 -0.3h0m1.5 0.7h0m0 -0.4h0m0.2 0.3h0m1.9 -0.4h0m3.7 -0.2h0m1.0 0.6h0m0.2 -0.3h0m0.5 0.4h0m0.7 -0.4h0m-26.8 0.7h0m0.2 0.1h0m1.2 0.6h0m0.1 -0.1h0m5.0 0h0m0.4 -0.4h0m0.4 -0.2h0m0.4 0.8h0m5.4 -0.5h0m0.7 0.5h0m0 -0.8h0m0.5 0.9h0m0.3 -0.6h0m1.2 0.6h0m1.2 -0.3h0m7.9 -0.4h0m-25.8 1.7h0m0.8 -0.5h0m3.7 0.3h0m2.5 -0.1h0m0.1 -0.1h0m0.3 0.2h0m1.8 0h0m2.2 0.1h0m3.8 -0.6h0m0.6 0.5h0m2.7 -0.7h0m0.1 0h0m1.2 0.4h0m-30.7 0.9h0m6.8 0.3h0m1.5 0h0m1.1 -0.1h0m1.6 -0.2h0m0.2 0.2h0m1.6 -0.1h0m0.4 0.2h0m0.1 0.3h0m0.7 -0.1h0m0 0h0m0.9 -0.1h0m1.2 -0.7h0m1.6 0.8h0m0.2 -0.3h0m2.0 0h0m2.7 -0.1h0m1.0 0.1h0m1.0 0.5h0m1.4 -0.8h0m0.2 -0.1h0m0.1 0.9h0m1.1 -0.6h0m1.9 0h0m0.2 0.3h0m0.4 -0.6h0m-32.2 1.3h0m0.3 0.4h0m0.1 0.2h0m0.5 -0.2h0m1.3 -0.5h0m0.7 0h0m2.0 0.4h0m0.5 0.1h0m0.8 -0.3h0m0.8 -0.5h0m3.1 0.4h0m0.8 -0.3h0m4.8 0.1h0m1.6 -0.2h0m1.4 0.4h0m0.6 0h0m2.0 0h0m0.9 0.4h0m1.0 -0.1h0m0 -0.5h0m0.7 0.6h0m0.3 -0.3h0m0.9 -0.5h0m1.7 0.4h0m0.5 0.1h0m0.3 0.3h0m0.6 -0.9h0m1.7 0.5h0m1.9 0h0m1.5 -0.3h0m-31.5 1.4h0m0.2 -0.1h0m0.3 -0.1h0m8.3 -0.3h0m1.6 0.7h0m6.2 -0.4h0m2.9 -0.3h0m0.7 0.8h0m0.9 -0.7h0m6.7 -0.2h0m0.4 0.8h0m0.1 0h0m0.5 -0.8h0m0.5 0h0m1.6 0h0m0.6 0.1h0m-36.8 1.0h0m12.9 0.5h0m0.1 -0.3h0m0.4 0.2h0m17.4 0.2h0m0.2 0.1h0m0.2 -0.5h0m1.2 0.4h0m0.8 0h0m2.3 -0.2h0m0.1 -0.1h0m-40.8 1.3h0m36.8 -0.4h0m1.0 0h0m1.0 -0.1h0m-33.4 14.3h0m-5.0 5.1h0m4.0 1.8h0m-3.3 5.6h0m0.9 0.8h0m0.1 -0.1h0m0.3 0.1h0" stroke="#5e6dcc" stroke-width="0.85" stroke-linecap="round" fill="none"/>
<path d="M226.1 316.9h0m35.5 6.6h0m-33.7 0.5h0m1.5 0.1h0m35.3 1.5h0m-21.1 1.7h0m3.6 -0.2h0m1.3 0.5h0m-11.9 0.3h0m18.9 0.5h0m7.1 0h0m5.5 0.1h0m-36.8 0.4h0m20.8 0.7h0m-17.7 0.6h0m2.3 -0.2h0m28.3 0.5h0m-10.7 0.5h0m8.8 0.2h0m4.1 1.3h0m-38.2 0.2h0m2.4 0.4h0m3.8 0h0m11.3 0.1h0m17.2 -0.2h0m-35.1 1.5h0m10.2 -0.8h0m22.6 1.7h0m3.9 -0.2h0m10.1 -0.6h0m-11.7 1.3h0m16.4 0.6h0m-9.8 2.9h0m3.9 -0.1h0m-5.0 1.4h0m8.9 0.1h0m-2.1 3.7h0m0.7 2.8h0m-5.2 8.0h0m3.7 -0.5h0m-44.5 4.5h0m3.2 -0.4h0m30.1 0.2h0m-32.1 1.7h0m2.1 0.1h0m31.5 0.1h0m5.6 0.4h0m-34.9 0.7h0m2.4 -0.6h0m29.2 1.0h0m-5.1 1.0h0m8.1 0.5h0m-17.6 0.7h0m11.7 0.6h0m6.3 -0.1h0m-37.8 0.1h0m11.0 0h0m3.4 0.9h0m3.2 -0.2h0m10.1 -0.7h0m5.8 0h0m-1.8 1.6h0m-18.7 0.5h0m3.2 0.5h0m7.3 0.3h0m-25.0 0.4h0m3.7 0.5h0m17.7 -0.1h0m6.1 -0.4h0m3.9 0h0m-33.6 1.3h0m3.3 0.8h0m6.1 0.9h0m15.1 0h0m5.8 0.6h0m-7.0 1.9h0m-25.6 0.4h0m21.8 0.8h0m-22.2 0.7h0m13.2 -0.5h0m-6.3 1.5h0m14.4 -0.4h0m10.5 2.4h0m2.6 1.4h0m-23.2 1.3h0m-11.0 2.0h0" stroke="#7e8ad6" stroke-width="0.85" stroke-linecap="round" fill="none"/>
<path d="M222.5 327.5 222.5 327.0 222.5 326.6 222.7 327.0 222.5 327.5ZM222.5 377.3 222.0 376.9 221.5 376.1 221.3 375.5 221.2 374.5 221.2 373.5 221.2 372.5 221.0 371.5 220.9 371.0 220.6 370.0 220.5 369.5 220.3 368.5 220.2 367.5 220.2 366.5 220.2 365.5 220.1 364.5 220.2 363.5 220.2 362.5 220.2 361.5 220.2 360.5 220.3 359.5 220.5 358.5 220.6 358.0 220.8 357.0 220.8 356.0 220.9 355.0 220.9 354.0 220.7 353.0 220.7 352.0 220.6 351.0 220.5 350.1 220.3 349.5 220.0 348.5 219.9 348.0 219.6 347.0 219.4 346.5 219.2 345.5 219.1 344.5 219.0 343.8 218.8 343.0 218.7 342.0 218.8 341.0 219.0 340.2 219.1 339.5 219.3 338.5 219.5 338.0 219.9 337.0 220.1 336.5 220.3 335.5 220.5 334.9 220.8 334.0 221.2 333.5 221.6 333.0 222.0 332.5 223.0 332.3 223.5 333.0 223.8 333.5 224.1 334.0 224.5 334.9 224.8 335.5 225.0 336.0 225.5 337.0 225.8 337.5 226.5 338.0 227.0 338.2 227.6 338.5 228.5 339.0 229.0 339.2 230.0 339.4 230.7 339.5 231.5 339.7 232.4 340.0 233.0 340.3 233.5 340.8 234.0 341.4 234.5 341.7 235.5 342.0 236.0 342.0 237.0 342.3 237.5 343.0 237.6 343.5 238.0 344.2 238.5 344.8 238.7 345.5 238.0 346.0 237.3 345.5 236.7 345.0 236.0 344.9 235.5 345.2 235.2 346.0 235.0 346.8 234.8 347.5 234.4 348.0 233.9 348.5 233.5 349.0 233.1 350.0 232.5 350.4 231.5 350.3 230.6 350.5 230.0 350.8 229.5 351.1 228.5 351.5 228.0 351.6 227.0 351.8 226.0 351.8 225.1 352.0 224.5 352.4 224.0 353.0 223.9 353.5 224.0 354.5 224.1 355.0 224.3 356.0 224.3 357.0 224.5 358.0 224.6 358.5 224.7 359.5 224.8 360.5 225.0 361.5 225.1 362.0 225.2 363.0 225.1 364.0 225.0 365.0 225.0 365.5 224.9 366.5 224.9 367.5 224.9 368.5 224.9 369.5 224.7 370.5 224.6 371.5 224.5 372.3 224.4 373.0 224.1 374.0 223.9 374.5 223.6 375.5 223.3 376.0 223.0 376.7 222.5 377.3ZM222.5 382.0 222.0 381.9 221.9 381.5 221.9 381.0 222.0 380.8 222.5 380.5 222.5 380.5 222.5 380.5 222.7 381.0 222.7 381.5 222.5 382.0Z" fill="#2f42b0" fill-rule="evenodd"/>
<path d="M223.0 350.5 222.5 350.3 222.0 349.6 221.7 349.0 221.5 348.5 221.1 347.5 220.9 347.0 220.6 346.0 220.5 345.5 220.3 344.5 220.0 343.5 219.9 343.0 219.8 342.0 220.0 341.0 220.1 340.5 220.2 339.5 220.5 338.6 220.8 338.0 221.0 337.5 221.4 336.5 221.7 336.0 222.0 335.5 222.8 335.5 223.3 336.0 223.7 336.5 224.0 337.1 224.5 337.9 224.9 338.5 225.1 339.0 225.5 339.8 225.9 340.5 226.3 341.0 226.6 341.5 227.0 342.2 227.5 342.8 228.0 343.1 228.8 343.5 229.2 344.0 229.5 344.5 230.0 345.4 230.3 346.0 230.1 347.0 229.5 347.4 229.0 347.7 228.3 348.0 227.5 348.4 227.0 348.7 226.0 349.0 225.5 349.1 224.8 349.5 224.1 350.0 223.5 350.4 223.0 350.5ZM222.5 370.1 222.0 369.6 221.8 369.0 221.5 368.0 221.4 367.5 221.4 366.5 221.3 365.5 221.2 364.5 221.3 363.5 221.4 362.5 221.5 361.5 221.5 361.0 221.6 360.0 221.9 359.0 222.4 358.5 222.7 358.5 223.1 359.0 223.4 360.0 223.5 360.6 223.8 361.5 224.0 362.3 224.1 363.0 224.0 364.0 224.0 364.5 223.8 365.5 223.8 366.5 223.7 367.5 223.6 368.5 223.5 369.0 223.0 370.0 222.5 370.1Z" fill="#2f6fd0" fill-rule="evenodd"/>
<path d="M224.5 348.0 223.5 348.1 223.0 347.9 222.5 347.4 222.0 346.6 221.7 346.0 221.5 345.5 221.1 344.5 221.0 344.0 220.7 343.0 220.6 342.0 220.8 341.0 221.0 340.1 221.2 339.5 221.5 338.9 222.0 338.2 222.5 337.9 223.0 338.0 223.5 338.5 224.0 339.3 224.3 340.0 224.6 340.5 225.0 341.0 225.5 341.8 225.9 342.5 226.1 343.0 226.5 344.0 226.7 344.5 227.0 345.5 226.7 346.5 226.2 347.0 225.5 347.5 225.0 347.8 224.5 348.0Z" fill="#2fb0d0" fill-rule="evenodd"/>
<path d="M224.5 346.8 223.5 346.8 223.0 346.3 222.5 345.5 222.3 345.0 222.0 344.5 221.6 343.5 221.5 343.0 221.4 342.0 221.5 341.4 221.9 340.5 222.5 340.0 223.4 340.5 224.0 341.0 224.4 341.5 224.8 342.0 225.1 342.5 225.4 343.5 225.4 344.5 225.4 345.5 225.0 346.4 224.5 346.8Z" fill="#3cc080" fill-rule="evenodd"/>
<path d="M224.0 345.1 223.5 345.0 223.0 344.4 222.5 343.5 222.3 343.0 222.4 342.0 223.0 341.5 224.0 342.0 224.3 342.5 224.5 343.0 224.5 344.0 224.3 344.5 224.0 345.1Z" fill="#8ccc40" fill-rule="evenodd"/>
<path d="M219.5 427.9h0m-1.0 4.1h0m0 0.6h0m0 1.7h0m14.7 6.0h0m0.4 -0.2h0m-0.1 1.1h0m5.2 -0.5h0m2.2 0.4h0m17.5 -0.6h0m0.3 0.3h0m0.1 -0.2h0m-15.9 1.4h0m3.8 0.1h0m1.5 -0.2h0m0 0.3h0m2.3 -0.1h0m0.3 0h0m7.2 -0.4h0m0.5 0.1h0m-20.8 0.9h0m4.5 0h0m0.2 -0.2h0m0.3 0.2h0m2.1 0.2h0m6.2 -0.3h0m1.0 0.1h0m-32.7 1.2h0m28.2 -0.5h0m1.9 0.5h0m0.1 0.1h0m7.5 0.3h0m0.6 -0.6h0m-15.0 1.4h0m0.8 0h0m9.7 -0.4h0m0.3 -0.3h0m4.6 0.2h0m0.7 0.4h0m0.1 -0.1h0m0.2 0.4h0m1.8 0h0m-11.1 0.1h0m2.7 0.1h0m7.2 0.6h0m2.3 0h0m-11.0 1.2h0m9.1 0.1h0m-16.8 0.5h0m20.1 0.5h0m-1.5 1.9h0m1.2 -0.2h0m1.0 0.4h0m0.5 0h0m0.2 -0.5h0m0.3 0h0m3.7 0.6h0m0.2 -0.7h0m-7.1 1.0h0m2.9 0.5h0m0.8 -0.5h0m0.5 0.7h0m2.0 -0.7h0m1.9 0.3h0m-4.3 1.3h0m-0.1 0.9h0m0.7 -0.5h0m0.5 0.1h0m1.2 0.1h0m0.9 -0.2h0m0.4 -0.3h0m-25.5 1.8h0m22.1 0.1h0m1.9 -0.5h0m1.8 -0.1h0m-27.7 1.2h0m4.6 0.2h0m1.0 0h0m13.8 -0.1h0m-13.6 1.3h0m0.8 -0.5h0m11.8 -0.4h0m5.9 0.3h0m1.9 0h0m-26.9 0.9h0m1.0 0.2h0m1.2 0.3h0m0.8 0.1h0m1.9 0.1h0m0.8 -0.8h0m17.1 0.7h0m1.6 -0.6h0m1.4 0.1h0m0.3 -0.2h0m-32.1 1.1h0m4.3 0.7h0m0.7 -0.6h0m4.2 -0.1h0m1.1 -0.1h0m0.2 0h0m0.6 0.2h0m10.0 0.6h0m4.5 -0.8h0m2.1 0.8h0m1.2 -0.7h0m1.6 0.4h0m1.0 0.4h0m-35.5 0.6h0m1.5 0.2h0m1.8 -0.1h0m2.7 -0.5h0m0.4 0.8h0m0.8 -0.7h0m0.6 0.3h0m0.7 -0.2h0m1.5 0.6h0m7.9 -0.4h0m0.3 0.1h0m2.1 0h0m3.8 -0.7h0m0.4 0h0m5.5 0.1h0m2.3 0.5h0m0.7 -0.2h0m0.2 -0.3h0m0.6 0.7h0m-34.1 0.5h0m10.3 0.4h0m0.5 0.1h0m1.5 -0.2h0m0.5 -0.2h0m9.3 -0.4h0m6.3 0.1h0m2.8 0h0m1.0 0.1h0m0 -0.3h0m2.9 -0.1h0m1.6 0.5h0m-24.5 1.3h0m0.7 -0.3h0m12.6 -0.1h0m0.6 0.2h0m1.1 0.2h0m1.1 -0.4h0m-23.7 1.1h0m25.7 0.7h0m0.8 0.7h0m0.2 -0.6h0m0.5 -0.1h0m-42.0 5.0h0m5.4 10.3h0m-0.4 1.6h0" stroke="#4b5cc4" stroke-width="0.85" stroke-linecap="round" fill="none"/>
<path d="M225.1 420.0h0m-5.1 6.8h0m7.0 1.2h0m-7.6 1.6h0m8.7 4.3h0m0 1.8h0m6.2 4.9h0m0.5 0.3h0m0 -0.2h0m0.6 0.7h0m3.9 -0.3h0m0.1 0.2h0m-4.2 0.6h0m0.2 0.3h0m4.0 -0.2h0m0.1 0h0m1.0 0.3h0m0.1 0h0m-21.0 1.0h0m12.3 -0.2h0m1.4 0.4h0m3.1 -0.6h0m2.3 0.6h0m6.9 0.1h0m1.0 -0.3h0m0.7 0h0m0.1 0h0m-5.9 0.8h0m0.1 0.1h0m0.4 -0.5h0m9.7 0.6h0m0.5 0.4h0m-14.5 0.2h0m3.4 0.6h0m0.5 0h0m0 0.2h0m0.4 -0.2h0m2.4 -0.1h0m4.9 -0.4h0m0.7 0.5h0m0.9 -0.7h0m0.8 0.1h0m0.3 0h0m1.0 0.1h0m2.2 0.4h0m0.8 0.4h0m0.4 -0.9h0m0.4 0.8h0m0.1 -0.5h0m0.7 0.2h0m-17.1 0.8h0m1.4 -0.4h0m2.5 0.4h0m3.7 -0.1h0m0.4 0.3h0m0.4 -0.6h0m4.0 0.6h0m1.5 0.2h0m0.6 -0.3h0m0.2 0h0m1.3 0h0m-35.3 0.8h0m20.9 0.7h0m0 -0.4h0m0.1 0.1h0m9.7 0.4h0m5.9 -0.9h0m4.1 0.6h0m-20.6 0.7h0m0.6 0.4h0m7.5 -0.2h0m0.3 0.3h0m1.8 -0.8h0m9.7 0h0m0.5 0.4h0m0.2 -0.5h0m0 0.9h0m0.6 -0.8h0m-41.2 1.0h0m28.3 0h0m2.5 0.1h0m8.3 0.2h0m1.6 -0.3h0m0.5 0h0m-10.0 2.7h0m1.5 -0.4h0m7.0 -0.1h0m7.6 0.5h0m0.2 -0.6h0m0.2 0.7h0m-16.3 0.2h0m8.7 0.6h0m0.2 0.1h0m7.7 -0.3h0m0.7 -0.1h0m-22.9 1.6h0m1.3 -0.6h0m0 0.7h0m0.2 -0.2h0m1.2 -0.2h0m3.6 0h0m0.5 0.3h0m3.9 -0.1h0m0.9 0.1h0m2.7 -0.7h0m-19.2 1.5h0m3.4 -0.5h0m3.5 0.7h0m0.3 -0.1h0m2.3 -0.6h0m1.5 0.2h0m0.6 -0.4h0m3.5 0.2h0m0.3 0.1h0m3.8 -0.2h0m5.2 -0.2h0m-27.0 1.8h0m2.4 -0.7h0m5.5 0.1h0m0.5 -0.1h0m1.2 0.5h0m4.1 -0.5h0m1.1 0.2h0m0.5 0.4h0m1.3 -0.2h0m4.6 -0.3h0m0.4 0h0m5.2 0.8h0m0.6 0h0m0.1 -0.6h0m0.6 -0.1h0m-28.8 1.6h0m0.1 0.1h0m1.6 0h0m9.2 -0.5h0m3.1 -0.1h0m2.0 0.3h0m0.4 -0.1h0m0.8 0h0m0.6 -0.5h0m10.7 0.4h0m-32.0 1.2h0m2.1 -0.5h0m0.1 0.9h0m0.9 -0.6h0m1.7 0.1h0m0.5 -0.3h0m0.6 0.6h0m12.2 -0.3h0m1.0 -0.2h0m1.9 0.7h0m-28.2 0.8h0m0.1 0.1h0m1.8 0.1h0m4.0 -0.3h0m4.2 0.3h0m0.1 -0.5h0m4.0 0.3h0m0.1 -0.3h0m0.9 0.3h0m0.4 0.3h0m0.4 -0.2h0m6.1 -0.5h0m0 0h0m0 0.6h0m0.6 -0.3h0m0.2 0h0m2.0 -0.6h0m0.5 0h0m0 0.6h0m0.4 -0.1h0m1.4 0h0m0.1 -0.3h0m4.2 0.4h0m0.5 -0.3h0m0.3 0.1h0m0.2 0h0m0.8 0.4h0m-33.9 0.1h0m4.0 0.2h0m0.7 -0.1h0m3.3 0h0m0.8 0.4h0m0.2 0h0m6.3 0.2h0m0.7 -0.2h0m0.1 -0.1h0m7.4 0.1h0m1.5 -0.3h0m0.8 0.2h0m1.0 -0.2h0m3.4 0.2h0m0.6 0.2h0m1.3 0.1h0m6.5 -0.4h0m0.6 -0.1h0m0.1 0.5h0m-39.4 0.8h0m7.9 0h0m1.3 -0.1h0m20.2 0.5h0m0.5 -0.8h0m1.7 0h0m-23.8 0.9h0m0.2 0.9h0m0.8 0h0m0.2 -0.7h0m0.4 0.2h0m-9.3 2.1h0m-0.4 4.4h0m-5.2 3.1h0m4.3 -0.8h0m-4.5 1.8h0m-0.2 1.5h0m0.1 -0.4h0m4.5 4.9h0m-0.1 0.7h0" stroke="#3c4ebc" stroke-width="0.85" stroke-linecap="round" fill="none"/>
<path d="M224.3 419.6h0m0.8 1.8h0m-4.1 2.3h0m6.7 9.3h0m-8.8 2.8h0m9.4 4.6h0m0.1 0.4h0m-0.1 1.0h0m0.8 0.8h0m0.4 0.2h0m0 -0.2h0m0.3 0h0m0.8 0h0m0.5 -0.1h0m0.1 0.1h0m0.3 0.2h0m3.0 -0.3h0m0.6 0.8h0m0.8 -0.2h0m3.5 0.2h0m0 -0.3h0m-19.7 0.8h0m14.8 -0.2h0m1.5 0.4h0m0.1 -0.3h0m2.5 0.4h0m0.5 -0.6h0m0.4 -0.1h0m5.5 -0.1h0m0.1 0.9h0m0.8 -0.5h0m0.1 0.1h0m-8.4 1.3h0m0.6 -0.8h0m0.1 0.3h0m1.1 -0.3h0m5.4 0.9h0m0.3 -0.7h0m0.9 0.1h0m-1.2 1.3h0m0.6 -0.2h0m0.5 0.4h0m1.9 -0.2h0m-3.1 1.1h0m0.2 0.2h0m1.0 -0.7h0m0.7 0h0m1.1 0.3h0m0.2 -0.5h0m0 0.5h0m0.1 -0.2h0m4.8 0.4h0m1.3 -0.1h0m1.0 -0.1h0m0.5 0.1h0m0.8 0.3h0m0.5 -0.3h0m-16.4 0.4h0m7.2 0h0m0.6 0.8h0m4.2 0.1h0m0 -0.8h0m4.6 0h0m1.5 0.5h0m0.4 0.3h0m0.3 -0.1h0m0.2 -0.1h0m-17.1 1.2h0m0.1 -0.2h0m1.9 -0.4h0m3.5 0.5h0m1.1 -0.1h0m2.1 -0.1h0m8.2 0.4h0m-16.1 0.5h0m0.9 0.4h0m0.9 -0.4h0m2.7 -0.5h0m0.7 0h0m0.8 0.9h0m0.9 -0.6h0m1.0 0.1h0m0.6 -0.2h0m1.4 -0.1h0m0.3 0h0m1.3 0.3h0m4.6 -0.3h0m-11.9 1.6h0m0.1 -0.1h0m0.5 -0.4h0m0.3 0.5h0m0.6 0.1h0m5.6 0.1h0m5.4 -0.6h0m0.1 -0.1h0m0.4 0.3h0m-39.7 1.1h0m25.6 0h0m3.4 0h0m0 -0.3h0m1.6 0.3h0m3.4 -0.2h0m3.7 0h0m0.6 0.2h0m1.2 -0.1h0m0.3 -0.1h0m-19.3 1.6h0m3.7 -0.1h0m1.0 -0.1h0m5.0 -0.5h0m0 0.5h0m0 -0.3h0m0.2 0.3h0m3.1 0.3h0m1.5 -0.2h0m1.1 -0.6h0m2.5 0.5h0m-18.6 0.6h0m0.3 0.2h0m1.6 0h0m12.1 -0.3h0m0.3 0.1h0m4.3 0.5h0m0 0h0m0.1 -0.3h0m0 -0.1h0m0.5 -0.3h0m-39.7 1.2h0m19.7 0.2h0m0.1 -0.1h0m9.7 0.2h0m0.4 -0.5h0m0.7 0.8h0m0.3 0.1h0m0.5 -0.4h0m3.4 0.2h0m2.8 -0.4h0m0.2 -0.2h0m-21.2 1.2h0m0.1 0.1h0m0.5 0h0m12.7 0.4h0m0.6 -0.8h0m0.2 0.7h0m0.3 -0.3h0m0.7 0.5h0m2.8 -0.5h0m1.8 0.2h0m0.8 0.3h0m0.1 -0.5h0m1.2 0.3h0m0.1 -0.5h0m-8.6 0.9h0m7.2 0.5h0m0.7 0.2h0m0.6 -0.3h0m0.4 -0.4h0m-31.8 1.0h0m1.0 0.1h0m4.4 -0.2h0m2.4 2.6h0m22.1 -0.7h0m0 0.5h0m0.1 -0.1h0m-32.2 10.6h0m-0.5 4.0h0m-0.1 4.5h0m0.3 0.3h0m-2.7 1.7h0m0.1 0.4h0m1.9 -0.1h0" stroke="#3244b4" stroke-width="0.85" stroke-linecap="round" fill="none"/>
<path d="M221.7 419.4h0m29.2 16.9h0m-22.7 1.0h0m15.5 -0.1h0m7.4 -0.6h0m7.6 0.3h0m-41.1 1.3h0m25.5 0h0m-7.9 0.9h0m7.6 -0.1h0m0.4 0.4h0m17.9 -0.2h0m-31.9 0.4h0m7.2 0.2h0m3.1 0.1h0m19.8 0h0m3.8 -0.1h0m-30.9 1.6h0m5.7 -0.1h0m3.6 -0.4h0m1.4 0.2h0m13.3 0.4h0m0.4 -0.1h0m5.3 -0.6h0m0.1 0.6h0m7.1 -0.2h0m1.0 0.3h0m-24.3 0.4h0m2.5 0h0m2.8 0.1h0m1.5 0.5h0m0.4 -0.6h0m1.7 0.4h0m1.2 -0.4h0m4.8 -0.1h0m3.1 0.1h0m0 -0.2h0m6.9 0.5h0m-15.5 1.4h0m2.7 -0.6h0m2.3 -0.1h0m-5.4 1.1h0m4.9 0.2h0m2.5 -0.4h0m-1.5 1.2h0m0.8 0.6h0m6.0 -0.8h0m-4.6 1.4h0m3.3 -0.3h0m1.4 0.4h0m-3.7 1.0h0m0.3 0.1h0m4.5 -0.2h0m0.7 0.2h0m0.4 -0.2h0m1.4 0.3h0m-6.8 0.6h0m4.1 0.2h0m0.2 0.2h0m3.0 -0.4h0m-5.6 1.5h0m0.2 -0.6h0m2.8 0h0m2.3 0.5h0m0.3 0.1h0m-0.9 0.6h0m1.6 -0.1h0m-1.9 1.3h0m1.0 0h0m1.1 -0.2h0m-8.8 2.9h0m6.7 0.4h0m0.8 -0.3h0m-25.9 1.3h0m18.6 0.1h0m5.3 -0.3h0m1.3 0.6h0m-27.5 0.1h0m19.3 0.3h0m0.8 0.3h0m0.1 -0.7h0m8.6 0.2h0m0.9 -0.2h0m-2.2 1.1h0m0.7 0.1h0m0.3 0.1h0m-24.7 1.5h0m1.4 0.8h0m19.5 0.2h0m3.7 -0.3h0m1.1 -0.5h0m-23.1 1.9h0m11.7 -0.3h0m6.8 -0.5h0m3.8 0.1h0m0.5 0.4h0m-42.1 1.0h0m0.5 -0.1h0m0.9 0.4h0m1.5 -0.5h0m5.2 -0.1h0m1.1 0.2h0m0.8 -0.3h0m10.3 0.1h0m1.6 0.2h0m0 0.1h0m11.3 0h0m1.2 -0.1h0m3.4 0.4h0m0.8 -0.3h0m3.6 -0.3h0m-39.6 0.9h0m9.3 0.2h0m1.9 0.6h0m7.1 -0.1h0m2.3 -0.6h0m5.9 -0.1h0m0.9 0h0m0.1 0.7h0m9.1 -0.2h0m0.3 -0.8h0m-33.1 1.4h0m3.4 0.5h0m0.2 -0.3h0m0.8 0.2h0m0.4 -0.1h0m7.0 -0.4h0m0.5 -0.2h0m3.4 0.3h0m1.1 -0.2h0m0.3 0.8h0m0.3 0h0m8.4 -0.9h0m-35.2 1.9h0m10.4 0.1h0m0.2 -0.5h0m0.4 0.2h0m3.7 -0.6h0m7.3 0.2h0m1.3 0.4h0m2.9 -0.6h0m-2.1 1.2h0m11.6 0h0m0.6 0.7h0m0.3 -0.8h0m-13.3 1.7h0m1.3 -0.1h0m11.0 -0.6h0m0.8 0.5h0m-12.6 0.5h0m11.7 0.6h0m-35.3 0.6h0m23.3 0h0m9.8 0.6h0m0 -0.6h0m0.5 -0.2h0m1.8 0h0m-4.3 1.5h0m0.8 0.1h0m0.5 -0.5h0m-39.7 1.2h0m38.4 0h0m-32.3 3.1h0m35.2 1.5h0m0.2 -0.4h0m0 0.3h0m0.2 -0.7h0m-35.7 3.5h0" stroke="#5e6dcc" stroke-width="0.85" stroke-linecap="round" fill="none"/>
<path d="M223.4 417.6h0m4.1 6.0h0m51.7 1.3h0m-23.9 3.7h0m4.3 0.7h0m9.9 2.7h0m-35.9 0.8h0m8.0 -0.4h0m28.9 0.5h0m-53.2 1.1h0m15.6 0.1h0m5.6 -0.2h0m10.0 0.5h0m4.3 -0.7h0m-6.9 1.7h0m11.3 -0.6h0m15.2 0.5h0m2.9 -0.6h0m-39.5 1.7h0m5.9 -0.7h0m0 -0.1h0m8.5 0.7h0m2.2 0h0m3.3 0h0m2.6 -0.2h0m1.9 0h0m-16.1 1.0h0m25.5 -0.3h0m-37.3 1.4h0m1.7 -0.1h0m5.2 -0.4h0m19.0 -0.2h0m5.0 0.7h0m-25.3 1.0h0m10.2 -0.7h0m4.9 0.2h0m8.1 0h0m2.6 0.2h0m3.6 0h0m-18.9 1.2h0m1.6 -0.7h0m4.5 0.4h0m12.3 0.9h0m-1.3 1.0h0m3.0 -0.3h0m3.0 0h0m-6.9 0.9h0m6.6 0.1h0m-8.3 0.8h0m4.5 0.9h0m6.1 0.4h0m-8.0 1.1h0m12.4 0.3h0m0.1 0.7h0m-1.5 1.8h0m2.1 0h0m-4.9 1.5h0m4.7 -0.3h0m1.8 -0.1h0m-3.3 1.9h0m2.4 0h0m-16.5 0.9h0m11.4 1.2h0m4.1 -0.2h0m-4.4 2.8h0m-5.1 0.1h0m8.0 0.1h0m2.4 0.1h0m-9.5 1.9h0m4.5 0.1h0m-44.8 1.5h0m16.2 0.8h0m-0.4 1.0h0m3.1 -0.5h0m23.3 0.7h0m-40.5 1.1h0m3.2 -0.6h0m9.5 0.6h0m13.5 -0.6h0m9.2 0.1h0m5.6 0h0m-38.7 1.4h0m2.7 -0.2h0m9.9 -0.1h0m14.1 0.2h0m7.3 -0.2h0m3.4 0.3h0m-42.9 0.8h0m12.5 0.3h0m26.0 0h0m1.8 -0.7h0m1.3 0.7h0m-40.0 1.0h0m1.6 -0.1h0m6.4 -0.4h0m3.7 0.1h0m1.0 0.3h0m4.8 -0.4h0m8.7 0.1h0m0.1 0.1h0m2.0 0h0m2.1 -0.4h0m9.9 0h0m-35.4 1.2h0m7.4 0.4h0m3.9 -0.2h0m3.9 -0.6h0m3.4 0h0m12.5 0.8h0m-30.8 1.1h0m1.7 -0.9h0m29.2 0.5h0m2.2 0h0m-38.9 0.7h0m4.3 0.7h0m0.6 -0.2h0m6.4 -0.3h0m9.5 0.3h0m1.1 -0.7h0m2.5 0.6h0m17.3 -0.5h0m-17.6 1.4h0m1.3 -0.4h0m16.4 0.2h0m4.7 0.6h0m-43.5 0.3h0m6.1 0.5h0m14.0 -0.4h0m7.9 -0.2h0m11.7 0.3h0m-21.4 0.6h0m8.6 0.3h0m0.1 0.2h0m4.3 0.3h0m1.2 -0.5h0m-18.2 1.4h0m21.7 -0.7h0m-24.8 1.4h0m4.5 0.1h0m9.2 -0.7h0m8.9 0h0m1.1 0h0m-15.9 1.3h0m21.2 0.3h0m-43.9 0.8h0m22.4 -0.1h0m7.2 0.7h0m13.3 -0.3h0m2.1 0.3h0m-34.8 1.2h0m29.4 0.6h0m4.9 -0.7h0m0.6 0.5h0m-44.6 1.3h0m25.2 -0.2h0m12.0 -0.3h0m2.6 0.4h0m-15.6 1.1h0m-25.4 0.7h0m22.8 0.4h0" stroke="#6f7cd2" stroke-width="0.85" stroke-linecap="round" fill="none"/>
<path d="M223.5 481.5 222.5 481.5 222.1 481.0 221.8 480.5 221.6 479.5 221.5 479.0 221.3 478.0 221.1 477.0 221.0 476.4 220.9 475.5 220.8 474.5 220.8 473.5 220.9 472.5 221.0 472.0 221.2 471.0 221.2 470.0 221.0 469.0 220.9 468.5 220.6 467.5 220.5 467.0 220.3 466.0 220.1 465.0 220.0 464.5 219.8 463.5 219.7 462.5 219.7 461.5 219.8 460.5 219.8 459.5 219.8 458.5 219.8 457.5 219.9 456.5 219.9 455.5 219.9 454.5 220.0 454.0 220.2 453.0 220.3 452.0 220.5 451.2 220.7 450.5 221.0 449.5 220.8 448.5 220.6 447.5 220.8 446.5 220.8 445.5 220.5 444.9 220.0 444.3 219.5 443.7 219.2 443.0 219.0 442.1 218.9 441.5 218.7 440.5 218.6 439.5 218.5 438.7 218.4 438.0 218.5 437.0 218.5 436.5 218.5 435.5 218.5 435.0 218.4 434.0 218.4 433.0 218.5 432.0 218.5 431.5 218.8 430.5 219.0 430.0 219.3 429.0 219.5 428.0 219.5 427.5 219.7 426.5 219.9 425.5 220.0 425.0 220.3 424.0 220.5 423.3 220.7 422.5 220.9 421.5 221.0 421.0 221.5 420.0 222.0 419.5 222.5 419.2 223.5 419.2 224.2 419.5 224.8 420.0 225.0 420.5 225.2 421.5 225.4 422.5 225.5 423.0 225.9 424.0 226.0 425.0 226.0 425.6 226.2 426.5 226.4 427.5 226.5 428.1 226.7 429.0 226.9 430.0 227.1 430.5 227.3 431.5 227.4 432.5 227.4 433.5 227.3 434.5 227.4 435.5 227.4 436.5 227.4 437.5 227.5 438.0 227.7 439.0 228.0 440.0 228.1 440.5 228.0 441.5 227.9 442.0 227.9 443.0 228.2 443.0 229.0 442.6 229.5 442.5 230.5 442.4 231.0 442.5 231.8 443.0 232.5 443.3 233.0 443.5 233.9 443.5 234.4 443.0 235.0 442.6 235.7 443.0 236.0 443.5 236.0 444.4 236.0 444.6 236.5 445.3 237.1 445.0 237.5 444.5 238.1 444.0 239.0 444.0 239.1 444.5 239.2 445.5 239.1 446.5 239.5 447.2 240.0 447.6 240.7 448.0 241.5 448.5 242.0 448.8 242.5 449.3 243.0 449.7 244.0 450.0 244.0 450.0 244.3 449.0 244.0 448.0 244.2 447.0 244.5 446.0 244.7 445.5 244.8 444.5 245.0 443.9 245.2 444.5 245.1 445.5 245.6 446.0 246.5 446.4 247.4 446.5 247.5 447.0 247.4 447.5 247.5 448.5 248.0 448.8 248.5 449.0 249.5 449.2 250.5 449.3 251.0 449.6 251.4 450.5 251.4 451.5 251.0 452.5 250.5 452.8 250.0 452.5 249.5 451.9 249.0 451.3 248.5 450.7 247.5 450.8 247.0 451.0 246.0 451.5 245.8 452.0 245.5 452.8 245.0 453.2 244.0 453.3 243.0 453.3 242.0 453.5 241.5 453.6 240.5 453.8 240.0 454.2 239.5 454.5 238.5 454.7 237.5 454.9 237.0 455.3 236.5 455.5 235.5 456.0 235.0 456.3 234.5 456.7 234.0 457.1 233.2 457.5 232.5 457.8 231.7 458.0 231.0 458.1 230.4 458.0 229.5 457.8 228.5 457.7 227.5 457.6 226.7 458.0 226.4 458.5 226.4 459.5 226.4 460.5 226.4 461.5 226.3 462.5 226.0 463.5 225.9 464.0 225.6 465.0 225.6 466.0 225.7 467.0 225.6 468.0 225.5 468.5 225.1 469.5 224.9 470.0 224.9 471.0 225.0 471.8 225.0 472.5 225.0 473.0 224.7 474.0 224.5 474.5 224.5 475.5 224.6 476.0 224.8 477.0 224.8 478.0 224.5 479.0 224.4 479.5 224.1 480.5 223.9 481.0 223.5 481.5ZM255.0 453.8 254.0 453.7 253.7 453.0 253.9 452.0 254.2 451.5 254.5 450.5 254.0 449.7 253.0 449.5 252.5 449.3 252.0 448.6 252.0 448.0 252.2 447.5 253.0 447.0 253.5 446.8 254.5 446.7 255.5 446.8 256.1 447.0 256.9 447.5 257.5 447.8 258.5 447.8 259.2 448.0 259.5 449.0 259.5 449.7 259.9 450.5 260.2 451.0 260.0 451.6 259.0 451.8 258.3 452.0 257.5 452.3 256.5 452.5 256.0 452.9 255.5 453.4 255.0 453.8ZM259.5 453.7 259.4 453.5 259.5 453.3 259.6 453.5 259.5 453.7ZM250.5 456.1 250.2 456.0 250.0 455.8 249.8 455.5 250.0 455.0 250.0 455.0 250.5 454.7 251.0 454.8 251.3 455.0 251.4 455.5 251.0 456.0 250.9 456.0 250.5 456.1ZM258.5 457.2 258.0 457.3 257.5 457.1 257.3 457.0 257.0 456.7 256.8 456.5 256.6 456.0 256.8 455.5 257.0 455.2 257.3 455.0 257.5 454.8 258.0 454.7 258.5 455.0 258.5 455.0 258.7 455.5 258.8 456.0 258.9 456.5 258.7 457.0 258.5 457.2Z" fill="#2f42b0" fill-rule="evenodd"/>
<path d="M223.5 467.4 222.5 467.3 222.0 467.0 221.5 466.2 221.2 465.5 221.0 464.8 220.8 464.0 220.6 463.0 220.5 462.0 220.6 461.0 220.6 460.0 220.6 459.0 220.7 458.0 220.8 457.0 221.0 456.0 221.0 455.5 221.2 454.5 221.4 453.5 221.5 453.0 221.6 452.0 221.7 451.0 221.9 450.0 222.0 449.2 222.1 448.5 222.2 447.5 222.5 446.5 222.5 446.0 222.5 445.5 222.0 444.8 221.5 444.2 221.0 443.6 220.6 443.0 220.3 442.5 220.0 441.5 219.8 441.0 219.7 440.0 219.7 439.0 219.7 438.0 219.7 437.0 219.7 436.0 219.7 435.0 219.7 434.0 219.7 433.0 219.8 432.0 220.0 431.0 220.1 430.5 220.4 429.5 220.5 428.9 220.6 428.0 220.9 427.0 221.0 426.4 221.2 425.5 221.5 424.7 221.8 424.0 222.0 423.3 222.2 422.5 222.5 421.8 223.0 421.5 223.5 421.8 223.9 422.5 224.2 423.0 224.5 423.7 224.7 424.5 224.8 425.5 224.9 426.5 225.1 427.0 225.4 428.0 225.6 428.5 225.8 429.5 225.9 430.5 226.0 431.5 226.0 432.0 226.0 433.0 225.9 433.5 225.9 434.5 226.0 435.0 226.2 436.0 226.3 437.0 226.4 438.0 226.5 438.8 226.5 439.4 226.4 440.0 226.2 441.0 226.0 441.5 225.7 442.5 225.6 443.5 225.8 444.5 226.4 445.0 227.0 445.3 228.0 445.5 228.5 445.5 229.0 445.5 230.0 445.4 231.0 445.3 231.8 445.5 232.2 446.0 232.4 447.0 232.6 447.5 233.0 448.0 233.5 448.7 233.5 449.5 233.3 450.0 233.0 450.7 232.9 451.5 232.9 452.5 232.8 453.5 232.4 454.0 231.7 454.5 231.0 454.8 230.0 454.9 229.0 454.9 228.1 455.0 227.5 455.0 226.5 455.1 226.0 455.6 225.6 456.5 225.4 457.0 225.2 458.0 225.2 459.0 225.4 460.0 225.4 461.0 225.3 462.0 225.0 462.9 224.8 463.5 224.5 464.5 224.4 465.0 224.2 466.0 224.0 466.8 223.5 467.4Z" fill="#2f6fd0" fill-rule="evenodd"/>
<path d="M223.5 443.9 222.5 443.7 222.0 443.3 221.5 442.7 221.1 442.0 220.9 441.5 220.6 440.5 220.6 439.5 220.7 438.5 220.7 437.5 220.6 436.5 220.6 435.5 220.7 434.5 220.8 433.5 220.9 432.5 220.9 431.5 221.0 430.5 221.1 430.0 221.3 429.0 221.5 428.2 221.8 427.5 222.0 426.9 222.5 426.1 223.0 425.8 223.5 426.2 223.9 427.0 224.2 427.5 224.5 428.0 224.9 429.0 225.0 429.5 225.0 430.5 225.1 431.5 225.1 432.5 225.0 433.0 224.9 434.0 225.0 434.5 225.3 435.5 225.4 436.5 225.5 437.5 225.6 438.0 225.6 439.0 225.5 439.6 225.1 440.5 224.8 441.0 224.5 441.9 224.3 442.5 224.0 443.3 223.5 443.9ZM223.0 465.2 222.2 465.0 221.8 464.5 221.5 464.0 221.2 463.0 221.1 462.0 221.2 461.0 221.2 460.0 221.2 459.0 221.4 458.0 221.5 457.2 221.6 456.5 221.9 455.5 222.0 454.9 222.2 454.0 222.4 453.0 222.4 452.0 222.4 451.0 222.5 450.0 222.6 449.5 222.8 448.5 223.0 448.0 223.5 447.0 223.9 446.5 224.5 446.2 225.5 446.4 226.0 446.6 227.0 446.9 227.5 447.0 228.5 447.3 229.0 447.9 229.4 448.5 229.9 449.0 230.5 449.5 230.8 450.0 230.7 451.0 230.4 451.5 229.5 451.5 229.0 451.3 228.6 452.0 228.5 452.5 228.0 453.1 227.0 453.4 226.5 453.5 225.7 454.0 225.3 454.5 225.0 455.4 224.8 456.0 224.6 457.0 224.5 457.7 224.5 458.3 224.6 459.0 224.7 460.0 224.7 461.0 224.6 462.0 224.4 462.5 224.0 463.5 223.8 464.0 223.5 464.5 223.0 465.2Z" fill="#2fb0d0" fill-rule="evenodd"/>
<path d="M223.0 442.3 222.3 442.0 221.9 441.5 221.5 440.5 221.5 440.0 221.6 439.5 221.7 438.5 221.5 437.5 221.5 437.0 221.4 436.0 221.5 435.2 221.7 434.5 221.8 433.5 221.8 432.5 221.8 431.5 221.8 430.5 222.0 429.5 222.1 429.0 222.5 428.2 223.0 428.0 223.5 428.2 224.0 428.8 224.2 429.5 224.2 430.5 224.2 431.5 224.1 432.5 223.9 433.0 223.9 434.0 224.1 434.5 224.4 435.5 224.4 436.5 224.4 437.5 224.6 438.0 224.7 439.0 224.5 439.5 224.0 440.3 223.7 441.0 223.5 441.7 223.0 442.3ZM223.0 463.7 222.1 463.5 221.8 463.0 221.7 462.0 221.6 461.0 221.6 460.0 221.7 459.0 222.0 458.0 222.1 457.5 222.4 456.5 222.6 456.0 223.0 455.0 223.2 454.5 223.2 453.5 223.1 452.5 223.0 451.9 223.0 451.0 223.0 450.0 223.1 449.5 223.4 448.5 223.8 448.0 224.3 447.5 225.0 447.4 225.5 447.6 226.0 448.1 226.5 448.8 226.8 449.5 227.0 450.5 226.9 451.5 226.4 452.0 225.7 452.5 225.2 453.0 224.8 453.5 224.4 454.0 224.1 455.0 224.0 455.9 223.8 456.5 223.8 457.5 223.9 458.5 224.0 459.0 224.2 460.0 224.2 461.0 224.0 461.9 223.8 462.5 223.5 463.1 223.0 463.7Z" fill="#3cc080" fill-rule="evenodd"/>
<path d="M224.5 452.1 224.0 452.2 223.9 452.0 223.7 451.5 223.6 451.0 223.5 450.5 223.6 450.0 223.8 449.5 224.0 449.0 224.0 449.0 224.5 448.6 225.0 448.9 225.1 449.0 225.2 449.5 225.3 450.0 225.4 450.5 225.3 451.0 225.1 451.5 225.0 451.6 224.6 452.0 224.5 452.1ZM223.0 462.3 222.5 462.3 222.4 462.0 222.2 461.5 222.2 461.0 222.1 460.5 222.2 460.0 222.3 459.5 222.4 459.0 222.5 458.7 223.0 458.5 223.0 458.5 223.0 458.5 223.3 459.0 223.5 459.5 223.5 459.5 223.6 460.0 223.7 460.5 223.7 461.0 223.5 461.5 223.5 461.6 223.2 462.0 223.0 462.3Z" fill="#8ccc40" fill-rule="evenodd"/>
<path d="M215.5 322.5h17.5v29.5h-17.5z M239 384.5V329.0H279.5V384.5" fill="none" stroke="#777" stroke-width="0.7"/>
<path d="M233 322.5H300.0" stroke="#111" stroke-width="0.9"/>
<path d="M303.5 322.5l-4.2 -2.1v4.2z" fill="#111"/>
<path d="M215.5 419.5h17.5v29.5h-17.5z M239 481.5V426.0H279.5V481.5" fill="none" stroke="#777" stroke-width="0.7"/>
<path d="M233 421H300.0" stroke="#111" stroke-width="0.9"/>
<path d="M303.5 421l-4.2 -2.1v4.2z" fill="#111"/>
<rect x="206" y="309.5" width="75.0" height="75.5" fill="none" stroke="#111" stroke-width="1"/>
<text x="200.7" y="316.1" font-size="6.9" text-anchor="end" stroke="#1a1a1a">10<tspan dy="-2.6" font-size="4.8">5</tspan></text>
<text x="200.7" y="331.6" font-size="6.9" text-anchor="end" stroke="#1a1a1a">10<tspan dy="-2.6" font-size="4.8">4</tspan></text>
<text x="200.7" y="346.6" font-size="6.9" text-anchor="end" stroke="#1a1a1a">10<tspan dy="-2.6" font-size="4.8">3</tspan></text>
<text x="200.7" y="362.1" font-size="6.9" text-anchor="end" stroke="#1a1a1a">10<tspan dy="-2.6" font-size="4.8">2</tspan></text>
<text x="200.7" y="377.1" font-size="6.9" text-anchor="end" stroke="#1a1a1a">10<tspan dy="-2.6" font-size="4.8">1</tspan></text>
<path d="M203.8 314.0h2.2M203.8 329.5h2.2M203.8 344.5h2.2M203.8 360.0h2.2M203.8 375.0h2.2M204.8 324.8h1.2M204.8 322.1h1.2M204.8 320.2h1.2M204.8 318.7h1.2M204.8 317.4h1.2M204.8 316.4h1.2M204.8 315.5h1.2M204.8 314.7h1.2M204.8 340.0h1.2M204.8 337.3h1.2M204.8 335.5h1.2M204.8 334.0h1.2M204.8 332.8h1.2M204.8 331.8h1.2M204.8 331.0h1.2M204.8 330.2h1.2M204.8 355.3h1.2M204.8 352.6h1.2M204.8 350.7h1.2M204.8 349.2h1.2M204.8 347.9h1.2M204.8 346.9h1.2M204.8 346.0h1.2M204.8 345.2h1.2M204.8 370.5h1.2M204.8 367.8h1.2M204.8 366.0h1.2M204.8 364.5h1.2M204.8 363.3h1.2M204.8 362.3h1.2M204.8 361.5h1.2M204.8 360.7h1.2M209.0 385.0v1.3M214.3 385.0v1.3M219.6 385.0v1.3M224.9 385.0v1.3M230.2 385.0v1.3M235.5 385.0v1.3M240.8 385.0v1.3M246.2 385.0v1.3M251.5 385.0v1.3M256.8 385.0v1.3M262.1 385.0v1.3M267.4 385.0v1.3M272.7 385.0v1.3M278.0 385.0v1.3" stroke="#111" stroke-width="0.6"/>
<rect x="206" y="406" width="75.0" height="76.0" fill="none" stroke="#111" stroke-width="1"/>
<text x="200.7" y="414.6" font-size="6.9" text-anchor="end" stroke="#1a1a1a">10<tspan dy="-2.6" font-size="4.8">5</tspan></text>
<text x="200.7" y="429.6" font-size="6.9" text-anchor="end" stroke="#1a1a1a">10<tspan dy="-2.6" font-size="4.8">4</tspan></text>
<text x="200.7" y="445.1" font-size="6.9" text-anchor="end" stroke="#1a1a1a">10<tspan dy="-2.6" font-size="4.8">3</tspan></text>
<text x="200.7" y="460.1" font-size="6.9" text-anchor="end" stroke="#1a1a1a">10<tspan dy="-2.6" font-size="4.8">2</tspan></text>
<text x="200.7" y="475.1" font-size="6.9" text-anchor="end" stroke="#1a1a1a">10<tspan dy="-2.6" font-size="4.8">1</tspan></text>
<text x="223.0" y="494.0" font-size="6.9" text-anchor="middle" stroke="#1a1a1a">0</text>
<text x="234.7" y="494.0" font-size="6.9" text-anchor="middle" stroke="#1a1a1a">10<tspan dy="-2.6" font-size="4.8">3</tspan></text>
<text x="254.7" y="494.0" font-size="6.9" text-anchor="middle" stroke="#1a1a1a">10<tspan dy="-2.6" font-size="4.8">4</tspan></text>
<text x="273.7" y="494.0" font-size="6.9" text-anchor="middle" stroke="#1a1a1a">10<tspan dy="-2.6" font-size="4.8">5</tspan></text>
<path d="M203.8 412.5h2.2M203.8 427.5h2.2M203.8 443.0h2.2M203.8 458.0h2.2M203.8 473.0h2.2M204.8 423.0h1.2M204.8 420.3h1.2M204.8 418.5h1.2M204.8 417.0h1.2M204.8 415.8h1.2M204.8 414.8h1.2M204.8 414.0h1.2M204.8 413.2h1.2M204.8 438.3h1.2M204.8 435.6h1.2M204.8 433.7h1.2M204.8 432.2h1.2M204.8 430.9h1.2M204.8 429.9h1.2M204.8 429.0h1.2M204.8 428.2h1.2M204.8 453.5h1.2M204.8 450.8h1.2M204.8 449.0h1.2M204.8 447.5h1.2M204.8 446.3h1.2M204.8 445.3h1.2M204.8 444.5h1.2M204.8 443.7h1.2M204.8 468.5h1.2M204.8 465.8h1.2M204.8 464.0h1.2M204.8 462.5h1.2M204.8 461.3h1.2M204.8 460.3h1.2M204.8 459.5h1.2M204.8 458.7h1.2M223.0 482.0v2.2M235.5 482.0v2.2M255.5 482.0v2.2M274.5 482.0v2.2M241.5 482.0v1.2M245.0 482.0v1.2M247.5 482.0v1.2M249.5 482.0v1.2M251.1 482.0v1.2M252.4 482.0v1.2M253.6 482.0v1.2M254.6 482.0v1.2M261.2 482.0v1.2M264.6 482.0v1.2M266.9 482.0v1.2M268.8 482.0v1.2M270.3 482.0v1.2M271.6 482.0v1.2M272.7 482.0v1.2M273.6 482.0v1.2" stroke="#111" stroke-width="0.6"/>
<text x="215.5" y="318.3" font-size="8.9" stroke="#1a1a1a">66.2</text>
<text x="254" y="379.3" font-size="8.2" stroke="#1a1a1a">1.5</text>
<path d="M383.8 336.3h0m0.4 0.4h0m-16.2 1.3h0m0.6 0h0m0.6 0.5h0m4.6 -0.1h0m2.8 -0.8h0m11.5 0.9h0m-21.8 1.0h0m3.9 -0.7h0m-6.7 1.7h0m1.0 0.4h0m0.3 0.2h0m-22.5 1.3h0m23.0 0.1h0m26.8 -0.2h0m0 -0.5h0m0.4 0.2h0m-53.6 1.0h0m0.8 0.3h0m1.4 0.3h0m1.4 -0.3h0m0.2 -0.7h0m19.4 0.6h0m0.6 -0.4h0m-23.6 1.7h0m2.0 0h0m1.4 -0.2h0m18.1 -0.6h0m1.7 0h0m28.2 0.9h0m0.3 -0.9h0m-51.4 1.5h0m0 0.1h0m1.3 0h0m17.6 0.5h0m0.3 0.8h0m1.0 -0.5h0m4.2 0h0m0.1 0.3h0m-29.8 0.9h0m1.0 0.2h0m0.5 -0.3h0m3.3 -0.5h0m7.2 0.8h0m6.9 0.1h0m4.9 -0.2h0m25.8 0h0m-49.4 0.8h0m0.7 -0.4h0m17.9 0.4h0m0 -0.3h0m0.4 0.1h0m3.4 0.5h0m7.6 -0.2h0m19.1 0.2h0m-30.8 0.5h0m4.5 0.7h0m25.1 -0.7h0m-32.1 1.6h0m4.8 -0.3h0m15.3 -0.4h0m4.2 0.9h0m2.9 0h0m-44.8 0.6h0m0.5 -0.2h0m18.0 0h0m1.8 -0.4h0m0.1 0.1h0m22.1 0.2h0m-45.0 1.5h0m0.1 1.0h0m0.7 -0.2h0m-0.6 0.4h0m0.5 0.4h0m35.0 -0.3h0m1.9 0.6h0m0.4 -0.1h0m0.6 -0.1h0m0.3 0h0m-1.2 1.4h0m-41.2 0.7h0m40.2 0.1h0m0.2 -0.1h0m-40.1 0.6h0m1.0 0.3h0m36.5 0.4h0m2.1 -0.3h0m-2.3 0.7h0m0.1 0.3h0m-39.2 0.7h0m1.2 0h0m37.8 0.5h0m-41.0 1.0h0m1.3 -0.4h0m39.1 0.3h0m0.5 -0.4h0m-1.6 0.9h0m0.3 -0.2h0m0.5 2.4h0m1.5 1.5h0m0.9 0.1h0m-2.3 1.5h0m0.7 -0.2h0m0.2 0.5h0m-2.8 2.2h0m0.4 0.1h0m-37.5 1.2h0m0.5 0.5h0m35.8 -0.6h0m0.7 0.4h0m0.5 -0.2h0m-36.7 0.5h0m37.1 0.7h0m0.7 -0.1h0m1.3 0h0m-1.8 0.5h0m0 0.6h0m1.4 -0.2h0m-38.3 1.1h0m0.7 0h0m37.4 -0.2h0m0.3 0.1h0m-39.5 0.5h0m0.4 0.7h0m0.2 -0.6h0m1.5 0h0m33.2 0.4h0m0.9 0h0m0.1 0.2h0m0 -0.9h0m1.1 0.1h0m-5.8 1.4h0m1.6 0.1h0m-2.5 0.7h0m1.2 -0.2h0m-28.2 1.0h0m0 0.6h0m0.6 -0.1h0m23.0 -0.2h0m1.0 -0.4h0m-1.2 1.0h0m0 0.1h0m-20.9 0.8h0m0 0h0m21.5 0.7h0m-4.0 1.1h0m4.2 0.1h0m-16.2 0.7h0m11.8 0.3h0m-14.9 0.3h0m1.0 0.6h0m9.8 -0.1h0m0.5 0.3h0m-7.3 0.4h0m5.3 -0.3h0m2.3 0.8h0m-6.6 0.3h0" stroke="#4b5cc4" stroke-width="0.85" stroke-linecap="round" fill="none"/>
<path d="M375.6 338.3h0m6.4 -0.2h0m0.5 0.3h0m0.1 -0.6h0m1.6 0h0m0.3 -0.2h0m0.7 0.5h0m-17.1 1.4h0m4.5 0h0m1.2 -0.3h0m0.4 -0.6h0m0 0.8h0m3.5 -0.8h0m0.9 0.7h0m0 0h0m2.7 -0.2h0m0 0.4h0m4.9 -0.6h0m1.5 -0.2h0m-21.0 1.0h0m1.8 0.2h0m1.5 0.4h0m1.9 -0.4h0m0 -0.3h0m-7.0 1.8h0m1.0 -0.7h0m4.0 -0.2h0m0.6 0.2h0m-4.3 1.8h0m-3.8 1.8h0m-20.1 0.4h0m20.3 0.4h0m0.1 -0.4h0m1.1 0.1h0m0.5 0.1h0m23.5 -0.3h0m-46.1 1.2h0m1.2 0h0m18.0 0.7h0m0.3 -0.4h0m1.3 -0.2h0m2.5 0.5h0m18.8 -0.5h0m-39.6 0.9h0m14.3 0.5h0m2.8 -0.1h0m0.3 -0.1h0m21.2 -0.5h0m-47.2 1.9h0m1.9 -0.8h0m0 0.1h0m0.2 0.7h0m2.4 -0.3h0m0.6 -0.3h0m0.9 0h0m4.2 0h0m14.4 0.4h0m0.3 -0.3h0m4.2 0.2h0m6.7 0.1h0m8.0 0h0m3.2 -0.4h0m-47.6 0.9h0m1.5 -0.1h0m10.4 0.1h0m11.3 0.6h0m0 -0.5h0m5.7 0.4h0m8.6 -0.3h0m0.2 0.4h0m0.4 -0.6h0m1.3 0.6h0m0.7 0h0m0.6 0.2h0m1.2 -0.2h0m0.1 -0.3h0m0.6 0.3h0m-44.8 1.2h0m1.5 -0.5h0m13.0 0.1h0m0.1 -0.2h0m7.5 0.4h0m2.5 0.2h0m1.9 -0.5h0m1.2 0.7h0m15.4 -0.5h0m-43.3 1.2h0m18.1 0h0m1.5 0.3h0m2.4 -0.9h0m14.5 0.2h0m-19.5 1.1h0m0.8 -0.2h0m0.8 0.3h0m-18.8 1.6h0m32.9 -0.6h0m-36.4 2.5h0m35.1 -0.7h0m0.9 0.6h0m-4.1 0.7h0m0.5 -0.4h0m2.2 -0.1h0m0.1 0.5h0m1.6 -0.6h0m0.4 0.6h0m0.2 0.3h0m-36.8 0h0m31.6 0.1h0m-33.0 1.7h0m0.1 -0.1h0m0.7 -0.5h0m31.5 0.4h0m0.2 -0.4h0m1.1 0.1h0m0.2 0.7h0m1.4 -0.6h0m-36.4 1.5h0m32.5 -0.9h0m0.5 0.8h0m1.4 -0.1h0m0 0.2h0m0.7 -0.3h0m0.6 0.2h0m-38.0 0.8h0m1.6 0.3h0m-3.5 0.8h0m1.3 -0.7h0m-1.3 1.2h0m37.7 -0.1h0m2.8 2.4h0m0.4 -0.3h0m-0.3 1.2h0m-40.2 2.3h0m2.6 2.9h0m33.9 -0.4h0m-1.7 1.2h0m0 0.2h0m-31.4 1.8h0m30.3 0.1h0m-0.4 0.9h0m-27.4 1.1h0m24.4 0.1h0m1.0 -0.2h0m0 -0.4h0m0.7 0h0m-23.3 3.8h0m1.1 -0.3h0m0.1 0h0m0.1 -0.1h0m16.5 -0.1h0m0.6 -0.2h0m-17.0 1.6h0m0.5 -0.1h0m14.5 0.1h0m0.4 -0.4h0m0.6 0.1h0m-16.1 1.0h0m1.9 0.4h0m11.6 0.1h0m0.1 -0.2h0m1.2 -0.6h0m-3.8 1.0h0m0.5 0.4h0m-6.0 3.1h0m0.7 -0.6h0m0.7 0.1h0" stroke="#3c4ebc" stroke-width="0.85" stroke-linecap="round" fill="none"/>
<path d="M382.7 338.1h0m0.3 -0.5h0m-6.7 1.1h0m0.2 0.2h0m1.7 0.6h0m8.0 -0.3h0m0.9 0h0m-18.9 0.9h0m6.7 -0.7h0m0.4 0.5h0m3.3 0.1h0m10.5 0.2h0m-22.8 1.1h0m1.1 -0.2h0m0.3 -0.4h0m0.5 0.1h0m0.5 -0.2h0m0.8 0.3h0m4.4 0h0m6.4 0h0m10.3 0.4h0m-23.3 0.4h0m0.4 -0.2h0m1.1 0.7h0m21.8 -0.3h0m0.2 -0.1h0m0.7 -0.1h0m-24.1 0.7h0m0.2 0.6h0m0.5 -0.1h0m0 -0.1h0m0.6 0h0m-2.4 1.0h0m0.3 -0.4h0m17.4 0.5h0m-18.8 0.5h0m0 0.3h0m0.5 -0.1h0m0.3 0.7h0m0.3 -0.6h0m0.8 -0.3h0m16.5 0.8h0m1.6 -0.6h0m-42.9 1.2h0m1.0 0.3h0m27.5 -0.1h0m11.8 -0.5h0m1.0 0h0m-40.9 0.9h0m0.1 0.7h0m0 -0.6h0m1.0 0.5h0m16.7 0.1h0m0.1 -0.7h0m0.4 0.5h0m5.3 0.3h0m4.4 -0.6h0m0.2 0h0m4.2 0.2h0m0.8 -0.3h0m0.7 0.5h0m0.4 -0.6h0m1.8 0.9h0m2.5 -0.2h0m0.2 0.1h0m-41.3 0.7h0m2.9 0.1h0m0.1 -0.5h0m0.5 0.5h0m0.6 -0.5h0m16.1 0h0m11.3 0h0m0.6 0.3h0m2.0 -0.4h0m0.5 0.2h0m1.5 -0.1h0m0.7 0.5h0m0.7 -0.6h0m1.5 0.4h0m2.0 -0.5h0m0.1 0h0m-44.1 1.8h0m2.3 -0.6h0m0.4 -0.3h0m7.6 0.9h0m27.3 -0.8h0m-40.2 1.4h0m0.8 0.3h0m1.4 0h0m27.6 0.1h0m0.9 -0.4h0m0.3 -0.1h0m3.4 0.1h0m-35.1 0.5h0m0.5 0.7h0m0 -0.2h0m21.1 -0.2h0m0.6 0.3h0m0.3 -0.1h0m0.5 -0.5h0m1.8 0.6h0m0.7 -0.6h0m0.6 0.3h0m0 0h0m0.4 -0.2h0m3.5 0.7h0m0.5 -0.6h0m0 0.5h0m0.2 -0.8h0m3.6 0.8h0m-20.8 0.9h0m6.3 0h0m0.6 -0.3h0m8.4 0.3h0m0.1 -0.2h0m0.8 0.3h0m1.3 0.2h0m1.9 -0.7h0m0.3 0h0m1.0 0.6h0m0.3 -0.7h0m0 0h0m-20.2 1.1h0m1.4 0.1h0m2.1 0.1h0m2.1 0h0m0.3 -0.2h0m10.0 0.5h0m0.1 -0.6h0m0.9 0.8h0m-2.5 0.2h0m0.8 0.4h0m0.1 0.4h0m-33.1 0.8h0m29.1 0h0m0.6 -0.4h0m0.3 -0.2h0m0.8 0.1h0m0.5 -0.2h0m1.0 0.1h0m0.2 0.4h0m1.4 0.4h0m-34.0 0.4h0m28.7 0.3h0m0.8 -0.3h0m-1.9 1.3h0m1.2 0.1h0m0.3 -0.7h0m0.3 0.4h0m-2.1 1.1h0m-28.7 1.2h0m28.3 0.3h0m1.4 -0.2h0m-2.4 1.2h0m1.5 -0.8h0m0.8 0.5h0m0.1 0.3h0m-33.2 0.8h0m0.7 -0.4h0m30.2 0h0m2.7 -0.3h0m-35.3 1.3h0m-0.3 1.5h0m37.5 -0.6h0m2.0 1.3h0m0.1 -0.4h0m-1.3 2.9h0m0.5 -0.6h0m-1.8 1.5h0m0.2 -0.8h0m-36.5 1.9h0m0.5 -0.1h0m0.3 -0.1h0m34.9 0.2h0m-33.4 0.7h0m31.0 0.2h0m1.6 -0.2h0m0.3 0.3h0m-0.4 0.7h0m0.1 0.1h0m-32.0 1.2h0m0 -0.1h0m0.2 -0.1h0m30.4 -0.4h0m0 0.5h0m0 -0.7h0m-30.0 1.0h0m0.3 0.4h0m25.2 0.1h0m2.1 0.6h0m0.2 0.4h0m0.1 0.3h0m0.9 -0.4h0m0.3 -0.3h0m-4.0 0.9h0m0.7 0.3h0m-0.4 1.5h0m-21.4 0.7h0m-1.0 0.4h0m0.9 0.3h0m2.1 0h0m0.8 -0.1h0m12.6 1.0h0m1.0 0.6h0m-12.6 0.9h0m0.3 0h0m0.6 0.1h0m9.2 0h0m0.7 -0.6h0m2.0 -0.1h0m-13.6 0.9h0m0.8 0h0m1.1 0.2h0m0.5 0.4h0m0.1 0h0m0.6 -0.2h0m0.2 -0.5h0m7.3 0.7h0m0.8 -0.7h0m0.1 0h0m-3.3 1.5h0m-3.8 2.0h0m0.6 -0.2h0m0.2 0.1h0m0.4 -0.3h0" stroke="#3244b4" stroke-width="0.85" stroke-linecap="round" fill="none"/>
<path d="M347.6 312.6h0m41.8 0.3h0m-1.6 1.0h0m-52.3 2.3h0m9.5 -0.4h0m2.4 -0.1h0m-2.8 1.5h0m-7.1 1.2h0m3.6 -0.5h0m1.4 1.8h0m0.8 1.2h0m-7.5 5.4h0m22.5 -0.1h0m-19.4 2.4h0m5.2 -0.1h0m-5.8 1.0h0m7.9 -0.8h0m10.2 0.2h0m-15.2 3.1h0m1.1 0h0m39.8 0h0m-38.3 1.1h0m3.1 0.3h0m38.8 -0.3h0m-54.3 1.4h0m1.1 -0.3h0m28.0 -0.6h0m5.3 0.2h0m15.4 0.1h0m-51.7 1.0h0m3.6 0.5h0m3.8 -0.6h0m7.7 0.6h0m0 -0.9h0m11.5 0.1h0m2.3 0.7h0m11.5 -0.5h0m3.6 0.2h0m-37.1 1.3h0m7.1 0h0m2.8 -0.2h0m4.7 -0.5h0m16.8 0.3h0m4.3 0.1h0m4.1 0h0m-40.7 0.7h0m3.4 0.3h0m14.4 -0.5h0m3.8 0.2h0m2.4 -0.2h0m-29.4 1.6h0m13.5 -0.1h0m5.1 0.2h0m5.7 -0.1h0m10.9 -0.6h0m-32.1 0.8h0m0.4 0.5h0m2.1 -0.4h0m1.6 0.2h0m1.5 0.5h0m4.0 -0.7h0m20.1 0.2h0m28.0 -0.2h0m-49.0 1.6h0m8.5 0.1h0m6.9 -0.8h0m-4.2 1.5h0m40.6 -0.4h0m1.9 -0.1h0m-43.2 1.8h0m-24.5 1.0h0m1.2 -0.6h0m7.0 0.2h0m14.1 -0.1h0m-22.6 0.7h0m6.0 0.5h0m1.4 0.4h0m18.5 -0.1h0m-26.8 0.7h0m3.1 0.2h0m3.8 0.1h0m11.8 0.1h0m6.2 -0.5h0m2.3 -0.3h0m40.6 0.8h0m-66.1 1.1h0m1.7 0h0m20.2 -0.4h0m39.8 0.3h0m3.5 0.9h0m-68.2 0.8h0m1.6 -0.3h0m2.9 0.4h0m0 -0.1h0m-4.2 2.4h0m2.1 -0.7h0m56.2 -0.1h0m-59.5 1.3h0m0 1.4h0m53.5 -0.1h0m-55.3 1.0h0m2.2 -0.5h0m1.4 1.0h0m44.6 0.5h0m2.0 -0.2h0m1.2 0.9h0m-52.0 1.9h0m47.6 0.5h0m2.0 -0.1h0m-3.3 0.9h0m5.0 0.2h0m5.6 -0.3h0m-3.6 1.3h0m4.2 0.6h0m-10.3 0.9h0m14.4 0.1h0m-9.1 1.4h0m6.4 -0.7h0m2.1 0.7h0m-9.2 1.2h0m5.9 0.4h0m-6.0 1.0h0m-1.4 1.6h0m-5.6 1.3h0m7.9 0.7h0m0.4 0.1h0m-10.2 1.6h0m3.3 -0.6h0m1.0 0h0m2.5 0.5h0m3.3 0.2h0m2.4 -0.6h0m-10.0 1.0h0m8.5 0.5h0m-10.4 0.4h0m3.9 1.2h0m0.3 0.3h0m5.8 -0.5h0m-5.4 1.0h0m4.9 0.3h0m-52.2 2.2h0m38.7 0h0m4.6 0.1h0m-7.8 2.0h0m0.8 0h0m23.7 -0.4h0m0.7 -0.5h0m-26.4 1.1h0m4.3 0.2h0m1.2 0.6h0m1.9 -0.7h0m2.5 0.1h0m-42.3 0.9h0m2.2 0.6h0m39.3 -0.8h0m7.7 0.7h0m-46.5 0.9h0m1.1 -0.2h0m27.7 0.3h0m2.0 0.2h0m-33.8 1.0h0m1.0 -0.5h0m2.6 0.5h0m1.5 -0.1h0m25.7 0h0m10.1 -0.7h0m-8.5 1.1h0m2.3 0.3h0m14.6 0.1h0m-22.0 1.1h0m2.1 0h0" stroke="#6f7cd2" stroke-width="0.85" stroke-linecap="round" fill="none"/>
<path d="M384.9 336.2h0m-17.5 1.1h0m10.8 -0.3h0m4.0 -0.3h0m3.5 0.1h0m2.1 0.3h0m-52.3 1.0h0m35.5 0h0m0.9 -0.2h0m7.9 -0.5h0m-24.3 1.1h0m-10.3 1.5h0m9.5 -0.6h0m0.8 0h0m8.5 0.3h0m28.2 0.3h0m-53.6 1.2h0m3.9 0h0m2.8 0h0m10.3 -0.4h0m1.4 0.4h0m6.3 -0.3h0m-25.6 0.7h0m1.7 -0.1h0m1.3 0.4h0m4.5 -0.1h0m0.3 -0.2h0m0 0.6h0m1.6 -0.6h0m7.9 0h0m0.6 0.5h0m39.6 0.2h0m-46.8 0.8h0m1.1 0h0m7.0 -0.3h0m2.0 0.2h0m2.1 -0.6h0m0.8 0h0m-23.8 1.7h0m0.9 0.1h0m19.0 -0.4h0m0.7 -0.2h0m1.5 0.5h0m35.1 -0.2h0m0.8 -0.5h0m0.4 0.2h0m-47.6 1.2h0m0.3 -0.4h0m-12.4 1.5h0m8.9 -0.2h0m7.1 0.6h0m35.2 -0.5h0m-33.8 0.7h0m3.4 -0.1h0m27.7 -0.1h0m-28.4 1.0h0m-7.4 1.3h0m33.1 0.6h0m2.5 -0.5h0m-57.6 0.8h0m44.5 -0.1h0m8.2 0.2h0m-50.3 1.4h0m46.1 0h0m-46.3 0.9h0m43.8 -0.5h0m0.2 0.3h0m1.7 -0.1h0m2.7 0.1h0m-49.2 1.5h0m-1.4 2.0h0m1.5 -0.5h0m41.1 0.3h0m-43.3 0.6h0m-0.7 1.6h0m-1.8 1.0h0m41.2 1.5h0m1.9 0.1h0m0.5 -0.1h0m3.3 -0.2h0m0.2 -0.1h0m0.3 0.4h0m-4.4 2.2h0m0 -0.4h0m0 0.1h0m0.7 1.2h0m1.1 -0.1h0m0.4 -0.6h0m1.6 0h0m0.4 0.6h0m1.0 0.3h0m-6.5 0.8h0m6.1 -0.1h0m-5.2 0.7h0m3.0 -0.3h0m1.0 0.2h0m1.5 0.1h0m-6.8 0.7h0m3.1 0.7h0m0.8 -0.3h0m0 -0.1h0m0.9 0.9h0m0.8 0.5h0m-8.1 0.9h0m1.1 -0.3h0m0.3 0.4h0m-41.4 1.4h0m36.8 2.3h0m5.7 0.8h0m-42.5 1.3h0m35.7 0.3h0m4.3 -0.3h0m-39.5 1.2h0m3.9 -0.4h0m30.8 0h0m4.8 0.1h0m-38.2 1.0h0m33.7 -0.6h0m-32.2 1.5h0m0.3 -0.1h0m0.7 0.4h0m26.5 -0.1h0m2.0 0h0m-2.4 0.8h0m2.0 -0.4h0m6.6 0h0m0.8 0.4h0m-32.4 0.9h0m1.5 1.2h0m21.9 -0.7h0m1.0 0.3h0m-3.9 1.0h0m2.3 0h0m0 -0.2h0m-21.0 0.9h0m2.7 0.5h0m13.2 0.1h0m1.6 -0.4h0m0.9 0.1h0m1.4 -0.1h0m-20.1 1.0h0m4.3 0.5h0m7.0 0h0m2.9 -0.7h0m1.2 0.6h0m1.1 -0.1h0m0.6 -0.4h0m-16.4 1.0h0m1.2 -0.2h0m0.9 0.3h0m6.2 0.5h0m3.8 -0.5h0m1.1 0.1h0" stroke="#5e6dcc" stroke-width="0.85" stroke-linecap="round" fill="none"/>
<path d="M351.4 312.6h0m15.1 0.4h0m-38.7 8.0h0m29.4 1.1h0m27.8 -0.1h0m-51.3 0.6h0m29.4 3.4h0m-40.0 2.7h0m10.3 0.7h0m30.2 0.2h0m19.6 26.4h0m4.8 5.2h0m4.5 7.4h0m-10.7 2.7h0m10.1 2.5h0m-13.9 4.2h0" stroke="#7e8ad6" stroke-width="0.85" stroke-linecap="round" fill="none"/>
<path d="M339.5 382.7 338.5 382.5 338.2 382.0 338.0 381.5 337.5 380.6 337.0 380.0 336.5 379.7 335.5 379.6 335.0 379.5 334.9 378.5 334.8 377.5 334.2 377.0 333.5 376.5 333.0 376.2 332.5 375.9 331.5 376.0 331.0 376.3 330.0 376.4 329.4 376.0 329.0 375.5 328.7 374.5 328.5 373.7 328.3 373.0 328.0 372.5 327.5 372.0 326.7 371.5 326.1 371.0 325.8 370.5 325.5 370.0 325.0 369.2 324.5 368.7 324.0 368.2 323.5 367.8 323.0 367.2 322.5 366.6 322.0 366.1 321.5 365.6 321.5 365.0 321.5 364.1 322.0 363.5 322.3 363.0 322.6 362.5 323.0 361.8 323.5 361.2 324.0 361.0 325.0 360.7 325.5 360.5 326.2 360.0 326.8 359.5 327.5 359.2 328.0 359.0 329.0 358.6 329.5 358.0 329.6 357.5 329.6 356.5 329.8 355.5 330.2 355.0 331.0 354.5 331.5 354.4 332.5 354.0 333.0 353.5 333.2 353.0 333.3 352.0 333.4 351.0 333.7 350.5 334.5 350.2 335.5 350.4 336.3 350.0 336.6 349.5 337.0 348.9 337.5 348.5 338.5 348.1 339.5 348.2 340.3 348.5 341.0 348.7 342.0 348.6 342.3 348.0 342.2 347.0 342.5 346.3 343.1 346.5 343.6 347.0 344.1 347.5 345.0 347.9 345.5 348.0 346.4 348.5 346.8 349.0 346.7 350.0 346.5 350.9 346.5 351.3 346.9 352.0 347.5 352.3 348.5 352.5 349.5 352.3 350.5 352.0 351.5 352.1 352.5 352.2 353.0 351.9 353.5 351.5 354.2 351.0 355.0 350.7 356.0 350.7 357.0 350.8 358.0 350.5 358.5 350.2 359.5 350.0 360.1 350.5 360.6 351.0 361.1 351.5 362.0 352.0 362.5 352.1 363.0 351.8 363.4 351.0 363.8 350.5 364.2 350.0 364.6 349.5 365.0 348.9 365.3 348.0 365.5 347.3 365.8 346.5 365.7 345.5 365.4 345.0 365.5 344.4 366.0 343.9 366.5 343.5 366.8 342.5 366.5 341.5 367.0 340.5 367.5 340.3 368.3 340.5 368.5 341.5 368.5 342.0 369.0 342.5 369.5 342.4 370.0 341.9 370.5 341.2 371.0 340.8 371.5 340.5 372.5 340.2 373.5 340.0 374.0 339.9 374.5 339.5 375.2 339.0 376.0 338.7 377.0 338.8 377.5 339.0 378.0 339.6 378.5 340.1 379.5 340.3 380.5 340.0 381.0 339.6 381.5 339.0 382.0 338.5 382.5 338.1 383.0 337.9 383.7 338.0 384.5 338.4 385.0 338.7 386.0 338.9 387.0 338.8 388.0 339.0 388.5 339.3 389.0 339.9 389.5 340.4 390.0 340.9 390.5 341.2 390.9 342.0 390.5 342.6 389.9 343.0 389.0 343.4 388.5 343.7 387.9 344.0 387.0 344.3 386.0 344.4 385.0 344.5 384.0 344.5 383.5 344.5 382.7 345.0 382.5 345.5 382.0 346.5 381.6 347.0 381.0 347.3 380.0 347.5 379.0 347.4 378.0 347.1 377.0 347.3 376.5 347.8 375.5 347.9 374.5 347.6 373.5 347.7 372.5 347.8 371.6 347.5 371.0 347.2 370.5 347.0 369.9 347.0 369.6 348.0 369.4 348.5 369.0 349.4 368.6 350.0 368.3 350.5 368.0 351.0 367.5 351.6 366.5 351.9 365.5 352.0 365.0 352.2 364.5 352.5 363.8 353.0 363.4 353.5 363.0 354.3 362.5 354.6 361.5 354.8 360.5 355.0 360.0 355.2 359.5 355.9 359.3 356.5 358.7 357.0 358.0 357.3 357.5 357.5 357.0 358.5 357.5 359.1 358.2 359.5 358.7 360.0 359.0 360.6 359.4 361.5 359.8 362.0 360.3 362.5 361.0 362.9 361.5 363.2 362.0 363.5 362.3 364.5 361.9 365.0 361.3 365.5 360.6 366.0 360.1 366.5 359.7 367.0 359.3 367.5 359.0 368.0 358.5 368.6 358.0 369.1 357.5 369.5 357.0 370.4 356.7 371.0 356.4 371.5 356.0 372.3 355.5 373.0 355.0 373.3 354.2 373.0 353.8 372.5 353.0 372.3 352.5 373.0 352.4 373.5 352.0 374.5 351.8 375.0 351.4 375.5 350.8 376.0 350.0 376.5 349.5 376.8 349.0 377.0 348.3 377.5 347.5 377.9 347.0 378.0 346.0 378.3 345.5 378.6 345.0 379.1 344.3 379.5 343.5 380.0 343.0 380.5 342.5 381.0 342.0 381.3 341.4 381.5 340.5 381.9 340.0 382.3 339.5 382.7Z" fill="#2f42b0" fill-rule="evenodd"/>
<path d="M341.5 375.6 340.5 376.0 339.5 375.9 338.5 375.7 337.6 375.5 337.0 375.2 336.5 374.9 336.0 374.5 335.4 374.0 334.8 373.5 334.2 373.0 333.5 372.5 333.0 372.2 332.5 372.0 331.9 371.5 331.5 370.7 331.3 370.0 331.0 369.0 330.9 368.5 330.8 367.5 330.5 366.7 330.0 366.0 329.5 365.6 329.0 365.0 328.9 364.5 329.1 364.0 329.5 363.4 330.0 362.9 330.7 362.5 331.5 362.0 332.0 361.6 332.5 361.0 332.8 360.5 333.2 360.0 333.7 359.5 334.1 359.0 334.0 358.2 333.6 357.5 334.4 357.0 335.0 356.7 335.5 356.4 336.1 356.0 336.6 355.5 337.1 355.0 337.6 354.5 338.3 354.0 339.0 353.7 340.0 353.5 341.0 353.7 341.6 354.0 342.3 354.5 343.0 355.0 343.5 355.4 344.0 355.7 344.5 356.1 345.2 356.5 346.0 356.9 346.5 357.1 347.3 357.5 348.0 358.0 348.4 358.5 348.8 359.0 349.1 359.5 349.5 360.0 350.0 360.8 350.4 361.5 350.8 362.0 351.3 362.5 351.6 363.0 352.0 363.6 352.5 364.4 352.8 365.0 352.9 366.0 352.5 367.0 352.1 367.5 351.5 368.0 351.0 368.3 350.5 368.6 350.0 369.0 349.4 369.5 348.7 370.0 348.3 370.5 347.9 371.0 347.5 371.7 347.0 372.3 346.5 372.8 346.0 373.1 345.3 373.5 344.5 374.0 344.0 374.2 343.2 374.5 342.5 374.9 342.0 375.2 341.5 375.6Z" fill="#2f6fd0" fill-rule="evenodd"/>
<path d="M340.0 373.7 339.0 373.9 338.0 373.5 337.5 373.0 337.0 372.5 336.6 372.0 336.2 371.5 335.9 371.0 335.5 370.5 335.0 369.7 334.5 369.1 334.0 368.7 333.5 368.2 333.0 367.6 332.7 367.0 332.4 366.5 332.1 365.5 332.2 364.5 332.6 364.0 333.1 363.5 333.5 363.0 334.0 362.5 334.5 361.9 335.0 361.5 335.8 361.0 336.3 360.5 336.7 360.0 337.0 359.4 337.5 358.6 338.0 358.1 338.5 357.6 339.0 357.4 340.0 357.4 340.5 357.6 341.3 358.0 342.0 358.5 342.5 358.9 343.0 359.4 343.5 359.6 344.5 359.9 345.0 360.0 345.9 360.5 346.5 360.9 347.0 361.4 347.5 362.0 347.8 362.5 348.0 363.0 348.4 364.0 348.1 365.0 347.9 365.5 347.5 366.2 347.0 366.9 346.5 367.5 346.1 368.0 345.8 368.5 345.4 369.0 345.0 369.9 344.8 370.5 344.5 371.2 344.0 371.6 343.0 371.9 342.5 372.0 341.6 372.5 341.1 373.0 340.5 373.5 340.0 373.7Z" fill="#2fb0d0" fill-rule="evenodd"/>
<path d="M340.0 371.1 339.0 371.0 338.5 370.9 337.6 370.5 337.0 370.1 336.6 369.5 336.3 369.0 336.0 368.2 335.7 367.5 335.4 367.0 335.0 366.1 334.9 365.5 335.0 365.0 335.2 364.0 335.5 363.4 336.0 362.7 336.5 362.3 337.0 361.9 337.5 361.4 338.0 360.8 338.5 360.2 339.0 359.8 340.0 359.7 340.7 360.0 341.5 360.5 342.0 360.8 342.5 361.1 343.2 361.5 344.0 361.9 344.5 362.1 345.2 362.5 345.7 363.0 346.0 363.6 346.2 364.5 346.2 365.5 346.0 366.0 345.5 366.7 345.0 367.2 344.5 367.7 344.0 368.2 343.5 368.8 343.0 369.4 342.5 369.9 342.0 370.2 341.5 370.5 340.5 371.0 340.0 371.1Z" fill="#3cc080" fill-rule="evenodd"/>
<path d="M340.5 369.5 339.5 369.6 338.8 369.5 338.0 369.2 337.5 368.7 337.2 368.0 337.0 367.0 337.0 366.0 337.1 365.0 337.3 364.0 337.5 363.5 338.0 362.9 338.5 362.3 339.0 361.8 339.6 361.5 340.5 361.4 341.0 361.6 341.8 362.0 342.5 362.5 343.0 362.8 343.5 363.2 344.0 363.6 344.5 364.2 344.7 365.0 344.5 365.8 344.0 366.5 343.6 367.0 343.1 367.5 342.5 368.0 342.0 368.5 341.5 369.0 341.0 369.3 340.5 369.5Z" fill="#a8d438" fill-rule="evenodd"/>
<path d="M341.0 368.1 340.0 368.4 339.0 368.3 338.5 367.9 338.0 367.0 338.0 366.5 338.0 365.8 338.2 365.0 338.5 364.3 339.0 363.6 339.5 363.2 340.0 362.9 341.0 362.9 341.5 363.1 342.1 363.5 342.6 364.0 343.0 364.6 343.1 365.5 342.9 366.0 342.5 366.6 342.0 367.2 341.5 367.7 341.0 368.1Z" fill="#f0a030" fill-rule="evenodd"/>
<path d="M341.0 367.0 340.0 367.4 339.0 367.1 338.7 366.5 338.8 365.5 339.0 365.0 339.5 364.4 340.5 364.0 340.6 364.0 341.5 364.4 341.9 365.0 341.8 366.0 341.5 366.5 341.0 367.0Z" fill="#e52a20" fill-rule="evenodd"/>
<path d="M356.2 435.4h0m1.3 -0.3h0m0.2 -0.3h0m2.2 0.5h0m0.3 -0.4h0m13.4 0h0m0.2 -0.3h0m0.5 0.8h0m-24.7 0.1h0m0.6 0.1h0m1.0 0.6h0m1.4 -0.8h0m0 0.9h0m0.1 -0.6h0m0.4 0.6h0m0.7 -0.9h0m0.7 0.1h0m0.3 0.2h0m7.7 -0.1h0m0.8 0.4h0m0.5 0h0m5.9 0.3h0m0.4 -0.2h0m2.4 -0.2h0m0.8 0.1h0m1.0 -0.4h0m5.3 0.5h0m0.1 -0.3h0m0.1 0.2h0m0.8 -0.4h0m-28.5 1.2h0m0.9 0.3h0m11.0 -0.6h0m0.5 0.2h0m3.5 0.2h0m1.1 -0.2h0m1.1 0h0m1.5 0h0m0.9 -0.2h0m3.1 -0.1h0m0.2 0.3h0m-27.3 1.5h0m0 -0.8h0m1.7 0.5h0m0.3 -0.1h0m0.6 -0.3h0m13.6 0h0m-16.6 1.2h0m1.7 -0.4h0m1.1 0.8h0m12.9 -0.7h0m0.3 0h0m0.3 0.1h0m0.4 0.2h0m1.4 0h0m0.4 0.2h0m-21.3 0.7h0m1.8 -0.2h0m-3.2 1.2h0m0.4 0.4h0m35.5 -0.6h0m0.1 0.3h0m0.9 0.1h0m-3.1 1.2h0m1.5 -0.7h0m-37.3 1.3h0m30.7 0.5h0m4.9 -0.8h0m-38.8 1.7h0m0.9 -0.8h0m0.1 0.8h0m0 -0.2h0m0.5 -0.2h0m33.7 -0.3h0m0 0.4h0m0.7 -0.3h0m0 0.5h0m0.2 -0.5h0m-36.6 1.1h0m30.6 -0.3h0m0.5 0.9h0m0.5 0h0m1.3 -0.2h0m-4.1 1.1h0m1.4 -0.7h0m0.2 0.3h0m0.4 -0.2h0m-9.5 1.3h0m0.8 -0.3h0m3.3 -0.3h0m0.4 0h0m2.1 0.2h0m0.4 0.3h0m0.2 0.2h0m0.7 -0.2h0m0 -0.1h0m0.9 -0.3h0m-34.1 1.4h0m0.5 0h0m24.8 -0.2h0m-26.1 0.8h0m1.2 -0.3h0m-2.0 1.9h0m-0.5 0.9h0m0.4 -0.7h0m0 1.6h0m-1.1 2.0h0m-2.0 1.0h0m0.2 0.1h0m-0.5 0.8h0m0.2 -0.3h0m0.1 0.6h0m0.1 -0.1h0m-0.1 0.6h0m-0.1 0.8h0m0.1 0.2h0m26.2 0.6h0m0.9 -0.8h0m-27.1 1.5h0m-0.1 0.7h0m23.5 0.8h0m-25.6 1.0h0m0.1 0.6h0m25.0 0.2h0m0.4 -0.4h0m-0.4 1.1h0m0.1 -0.6h0m0 0.9h0m0 -0.4h0m-1.8 0.5h0m-24.6 2.4h0m23.6 0h0m-1.9 1.7h0m-21.5 1.6h0m0.6 0.1h0m20.0 0.3h0m-19.5 1.3h0m17.1 1.0h0m-20.2 0.8h0m0.4 -0.2h0m0.7 0.4h0m0.5 -0.4h0m13.9 0.8h0m1.1 -0.4h0m1.0 -0.1h0m-16.7 1.5h0m1.4 -0.4h0m0.3 0.1h0m12.7 -0.2h0m-14.4 1.1h0m0.1 0.2h0m0.1 -0.5h0m1.3 0.5h0m5.3 -0.3h0m1.4 0.3h0m2.6 0.5h0m0 -0.3h0m-5.7 0.7h0m0.6 -0.1h0" stroke="#3244b4" stroke-width="0.85" stroke-linecap="round" fill="none"/>
<path d="M355.5 428.6h0m0.3 0.4h0m4.9 0.4h0m-1.8 0.9h0m0.3 0.2h0m-4.3 0.1h0m0.8 0.8h0m3.1 -0.6h0m1.7 0.4h0m23.8 0h0m-23.8 0.5h0m0.3 -0.1h0m-12.0 1.7h0m1.9 -0.7h0m2.7 0.7h0m21.9 -0.5h0m0.5 -0.2h0m0.4 0.2h0m2.9 0.7h0m0 -0.1h0m5.7 0h0m-21.6 0.9h0m3.7 -0.6h0m1.0 -0.1h0m9.7 0.2h0m0.2 0h0m4.7 -0.2h0m2.1 0.2h0m-38.8 0.8h0m23.2 -0.1h0m15.7 0.6h0m-41.7 0.5h0m40.8 1.5h0m-42.8 0.3h0m0.4 0.5h0m43.3 0.2h0m1.2 0.4h0m-46.0 0.8h0m0.5 0.7h0m46.6 0h0m-45.4 0.3h0m45.3 0.4h0m-51.4 3.5h0m49.5 -0.2h0m0.4 -0.7h0m-50.3 1.3h0m47.0 0.2h0m-4.3 0.9h0m-44.4 1.0h0m0.3 -0.4h0m44.3 0.2h0m-45.5 1.3h0m41.4 -0.2h0m4.4 -0.3h0m-16.8 1.6h0m2.8 -0.2h0m8.3 -0.4h0m-10.8 1.0h0m2.4 0.2h0m1.2 0.3h0m-6.0 1.2h0m-0.2 0.5h0m0.4 0.3h0m-32.3 5.2h0m32.7 0.3h0m0.6 -0.7h0m-1.9 1.4h0m-31.6 1.6h0m-4.6 2.1h0m2.9 0.9h0m0.1 0.1h0m30.2 0.3h0m0.6 0h0m-0.3 0.5h0m-3.2 1.6h0m0.6 -0.7h0m-29.0 1.2h0m-1.5 1.0h0m0.2 0h0m0.6 2.1h0m0.2 0.3h0m-1.7 3.6h0m21.6 2.4h0m2.8 0.3h0m-22.2 0.2h0m17.8 0.2h0m-17.6 1.2h0m10.0 -0.2h0m4.1 0.1h0m3.0 -0.1h0m0.2 0.5h0m-7.0 0.9h0m1.6 -0.2h0m-4.0 0.5h0m5.7 0.4h0m0.4 -0.1h0m1.8 0.4h0m1.4 0h0m-11.5 1.3h0m0.7 -0.7h0m0.7 -0.2h0m2.7 0.6h0m0 0h0m2.8 -0.1h0m2.9 0.4h0m-13.8 0.2h0m7.5 0.2h0" stroke="#5e6dcc" stroke-width="0.85" stroke-linecap="round" fill="none"/>
<path d="M359.2 434.2h0m13.3 0.1h0m1.5 0.1h0m-25.6 0.7h0m2.9 -0.2h0m1.1 0.1h0m3.4 -0.2h0m7.3 0.3h0m8.0 0.1h0m0.5 -0.3h0m0.7 -0.3h0m3.0 0.3h0m4.8 0h0m-32.1 0.5h0m21.5 0.1h0m9.5 0.6h0m0.2 -0.4h0m1.8 0.5h0m0.3 -0.7h0m0.2 0h0m-37.4 1.6h0m0.9 0.1h0m0.2 -0.8h0m0 0.1h0m1.3 0.5h0m0 0.2h0m0.2 -0.2h0m1.8 -0.5h0m16.5 0.2h0m2.0 0.3h0m1.0 -0.5h0m12.0 0.1h0m-34.1 1.1h0m1.0 -0.4h0m31.5 0.3h0m0.6 -0.2h0m-33.4 1.2h0m0.2 0.3h0m34.2 -0.3h0m3.7 0.4h0m-39.4 1.3h0m36.9 -0.5h0m0.5 0.3h0m1.4 -0.1h0m0.3 -0.7h0m0.3 0h0m0.4 0.2h0m0 -0.1h0m-3.8 2.0h0m0.5 -0.1h0m2.0 0.2h0m0.6 0.7h0m0.3 -0.4h0m-42.9 1.3h0m41.1 -0.6h0m0.1 0h0m-44.9 1.6h0m0.8 0.2h0m37.6 -0.2h0m1.4 0.1h0m0.1 -0.7h0m0.1 0.7h0m-39.4 0.2h0m-0.3 1.7h0m34.1 -0.7h0m-7.6 1.9h0m-3.2 0.8h0m7.2 -0.6h0m-34.4 1.3h0m-0.9 0.7h0m26.6 0.3h0m-26.7 0.7h0m24.8 3.3h0m-0.1 1.2h0m0.7 0.9h0m0.1 0.4h0m0 1.2h0m-2.3 1.7h0m0.5 -0.2h0m-0.2 0.6h0m-29.2 2.3h0m-1.0 7.1h0m22.2 0.7h0m0 -0.2h0m-22.8 1.7h0m1.6 -0.5h0m-2.2 1.1h0m0.6 0h0m-1.3 0.6h0m0.6 0h0m18.1 0.6h0m0.6 0.2h0m1.2 -0.1h0m1.7 -0.3h0m-13.1 2.3h0m-6.3 0.9h0m0.6 -0.3h0m1.3 -0.2h0m1.4 0.8h0m3.1 -0.7h0m2.7 0.5h0m0.2 0h0m0.1 0.1h0m-8.9 0.2h0m2.1 0.3h0m0.4 0.6h0m0.6 -0.6h0m0.9 0h0m-6.2 2.3h0m0.1 0.2h0m0.1 -0.2h0" stroke="#3c4ebc" stroke-width="0.85" stroke-linecap="round" fill="none"/>
<path d="M355.5 431.9h0m0.3 -0.3h0m0 1.6h0m16.7 0h0m0.2 0.2h0m-22.4 0.9h0m1.4 -0.2h0m3.1 0.3h0m1.1 -0.4h0m0.9 -0.2h0m2.2 -0.2h0m0.6 0.1h0m1.3 0.3h0m10.3 0h0m-24.6 0.6h0m0.3 -0.1h0m1.6 0h0m17.6 0.5h0m0.7 -0.2h0m8.5 -0.3h0m6.3 0.4h0m-39.1 1.1h0m0.7 0h0m1.4 -0.2h0m21.9 -0.2h0m10.1 0.7h0m-34.7 0.4h0m0 2.4h0m0.2 -0.8h0m0.4 0.3h0m37.9 -0.1h0m1.2 0.6h0m-38.9 1.9h0m40.6 1.2h0m0.4 -0.3h0m-47.9 1.1h0m42.5 0.1h0m3.7 -0.2h0m-46.0 0.9h0m0.4 -0.4h0m41.6 0.8h0m0.2 0h0m3.0 -0.7h0m-9.0 2.4h0m0.1 0.3h0m-2.6 0.8h0m1.9 0h0m0.3 -0.4h0m-9.6 1.0h0m1.8 -0.2h0m1.9 0.9h0m1.1 0.1h0m4.8 -0.6h0m-11.2 0.9h0m-29.3 2.5h0m-0.2 1.9h0m-1.0 0.5h0m-1.9 2.5h0m30.0 0h0m-30.8 1.1h0m1.2 1.0h0m28.2 0.8h0m0.3 0.3h0m-29.3 0.9h0m28.2 -0.2h0m-2.3 2.3h0m0.7 0.2h0m-28.8 1.2h0m-1.5 2.4h0m1.4 -0.7h0m-1.9 1.3h0m1.6 1.4h0m0.1 0.2h0m23.0 0.5h0m0.6 0.3h0m-23.7 1.2h0m23.0 -0.9h0m-24.3 1.7h0m22.5 -0.2h0m-23.4 2.4h0m22.5 -0.2h0m-3.0 0.9h0m3.0 -0.2h0m-21.4 0.6h0m14.4 0.7h0m0.5 -0.1h0m1.4 0.1h0m0.6 0.1h0m-4.2 1.0h0m2.6 -0.7h0m-12.7 1.5h0m-0.7 1.1h0m1.0 -0.6h0m2.0 0h0m1.5 0.5h0m0.9 -0.4h0m-6.6 0.7h0m16.3 0.1h0m0.1 0.4h0m0.5 -0.6h0m-17.6 1.0h0m0.5 0.6h0m0.3 -0.3h0m6.3 -0.3h0" stroke="#4b5cc4" stroke-width="0.85" stroke-linecap="round" fill="none"/>
<path d="M390.1 409.4h0m-53.3 2.2h0m42.1 0.8h0m4.0 2.1h0m-60.3 1.5h0m57.7 0.3h0m-53.2 2.0h0m41.3 0.6h0m0.9 -0.4h0m8.1 1.6h0m8.3 1.3h0m-19.6 0.3h0m-18.4 1.2h0m12.1 1.9h0m1.2 0.5h0m13.2 -0.1h0m4.8 0.2h0m-41.8 0.1h0m15.5 0.4h0m38.1 0.4h0m-63.7 0.5h0m11.1 0h0m10.9 0.4h0m5.0 -0.7h0m0.1 0.8h0m8.8 -0.2h0m4.8 0h0m11.5 -0.7h0m1.5 1.3h0m-34.9 0.6h0m11.6 0.5h0m3.0 -0.1h0m9.5 0.2h0m-1.5 1.0h0m7.5 0.2h0m12.3 -0.5h0m1.0 0.3h0m-35.3 1.3h0m14.8 -0.3h0m2.7 -0.2h0m0.8 0.3h0m5.5 0h0m6.6 -0.6h0m7.8 0h0m0.7 -0.1h0m-45.3 1.0h0m3.0 0.9h0m32.4 -0.2h0m2.7 -0.1h0m-39.4 0.6h0m23.0 0.1h0m-30.0 0.7h0m25.3 0h0m-25.0 1.2h0m45.4 0.4h0m2.2 0.7h0m0.9 -0.3h0m-48.9 1.0h0m48.2 0.1h0m-59.3 1.3h0m0.4 1.3h0m59.4 -0.7h0m-62.8 0.9h0m10.0 1.5h0m1.0 0.3h0m-3.5 0.2h0m6.0 0.2h0m48.7 0.5h0m1.4 -0.7h0m2.9 0.1h0m-58.6 2.0h0m51.2 1.1h0m-4.6 1.2h0m2.5 0.2h0m-50.3 1.1h0m43.8 -0.9h0m3.2 1.6h0m-8.7 1.3h0m-47.5 0.7h0m5.9 0.5h0m36.5 0.7h0m1.2 -0.2h0m2.6 0.1h0m4.3 -0.5h0m-9.7 1.6h0m13.7 -0.4h0m-50.8 1.6h0m3.0 -0.4h0m65.3 0.1h0m-69.2 1.0h0m1.8 -0.4h0m-3.6 0.9h0m36.6 0.5h0m-37.8 4.5h0m1.4 1.5h0m35.9 -0.4h0m-36.6 2.1h0m48.6 2.5h0m0.2 -0.1h0m-14.0 1.0h0m-3.6 0.6h0m-3.0 1.3h0m1.6 -0.2h0m17.1 0.5h0m15.3 -0.8h0m-31.4 1.0h0m33.8 0.4h0m-32.0 1.6h0m-5.4 2.0h0m-2.0 1.6h0m29.2 -0.3h0m-32.5 2.6h0m6.6 -0.7h0m-4.5 0.9h0m0.2 0.2h0m18.3 -0.4h0m17.7 1.1h0m7.1 1.4h0m-52.7 1.8h0m9.3 0.5h0m1.3 -0.7h0" stroke="#6f7cd2" stroke-width="0.85" stroke-linecap="round" fill="none"/>
<path d="M336.0 475.1 335.0 475.0 334.5 474.9 333.5 474.8 332.5 474.7 331.5 474.9 331.0 475.2 330.0 475.4 329.2 475.0 328.6 474.5 328.0 474.1 327.1 474.5 326.6 475.0 326.0 475.0 325.5 474.8 325.0 474.2 324.7 473.5 324.6 472.5 325.5 472.3 326.3 472.5 326.8 472.5 327.3 472.0 327.5 471.5 327.6 470.5 327.4 470.0 327.0 469.4 326.6 468.5 326.5 468.0 326.4 467.0 326.4 466.0 326.4 465.0 326.4 464.0 326.4 463.0 326.6 462.5 327.1 462.0 327.9 461.5 328.5 461.2 329.0 460.9 329.5 460.1 329.6 459.5 329.6 458.5 329.5 458.0 329.1 457.0 329.0 456.5 329.1 456.0 329.5 455.3 330.0 454.9 330.6 454.5 331.3 454.0 331.9 453.5 332.3 453.0 332.5 452.0 332.3 451.0 332.5 450.0 332.9 449.5 333.3 449.0 334.0 448.5 334.5 448.2 335.0 447.9 335.5 447.5 336.2 447.0 336.8 446.5 337.3 446.0 337.8 445.5 338.1 445.0 338.5 444.3 339.0 443.8 339.7 443.5 340.5 443.4 341.5 443.0 342.0 442.6 342.5 442.1 343.0 441.5 343.5 441.0 344.0 440.6 344.5 440.1 345.0 439.8 345.8 439.5 346.5 439.3 347.5 439.0 348.0 438.6 348.2 438.0 348.3 437.0 348.5 436.5 349.0 435.9 350.0 435.8 350.9 436.0 351.3 436.5 351.0 437.2 350.7 438.0 350.4 438.5 350.5 439.0 351.5 439.0 351.9 438.5 352.2 438.0 352.3 437.0 352.0 436.5 352.0 435.9 353.0 435.7 354.0 435.7 354.8 435.5 355.5 435.2 356.0 435.0 357.0 434.7 357.8 434.5 358.5 434.4 359.3 434.5 360.0 435.0 360.5 435.3 361.1 435.5 362.0 435.6 363.0 435.7 363.5 436.0 364.0 436.6 364.2 437.5 364.4 438.5 365.0 438.9 366.0 438.9 366.6 438.5 367.0 437.9 367.5 437.1 368.0 436.6 368.5 436.3 369.5 436.1 370.5 436.1 371.4 436.0 372.0 435.6 372.5 435.0 373.0 434.9 373.5 435.0 374.1 435.5 374.8 436.0 375.5 436.3 376.0 436.6 376.5 437.0 377.2 437.5 377.7 438.0 378.2 438.5 378.6 439.0 379.1 439.5 379.5 440.0 379.7 441.0 379.1 441.5 378.5 441.8 378.0 442.1 377.3 442.5 376.5 442.9 376.0 443.0 375.3 443.5 374.5 443.7 373.5 443.6 372.5 443.6 371.9 444.0 371.3 444.5 370.5 445.0 370.0 445.1 369.1 445.5 368.7 446.0 368.2 446.5 367.5 447.0 366.5 446.5 366.0 446.1 365.5 446.0 365.0 446.0 364.0 446.5 363.5 446.6 363.0 446.5 362.0 446.3 361.0 446.4 360.5 446.6 360.0 447.0 359.5 447.7 359.0 448.5 358.5 449.0 358.1 449.5 357.8 450.0 357.5 450.7 357.2 451.5 357.0 452.0 356.6 453.0 356.5 454.0 356.7 455.0 356.8 456.0 356.7 457.0 356.5 457.7 356.0 458.4 355.5 458.6 354.5 458.9 354.0 459.2 353.5 459.8 353.2 460.5 353.1 461.5 353.0 462.0 352.5 462.9 352.0 463.1 351.2 463.5 350.7 464.0 350.5 464.5 350.1 465.5 349.7 466.0 349.1 466.5 348.5 467.0 348.1 467.5 347.8 468.0 347.5 468.6 347.0 469.3 346.5 469.9 346.0 470.4 345.5 471.0 345.2 471.5 344.8 472.0 344.0 472.5 343.5 472.5 342.5 472.5 342.0 472.5 341.5 472.6 340.6 473.0 340.0 473.2 339.0 473.4 338.3 473.5 337.5 473.9 337.0 474.3 336.5 474.8 336.0 475.1Z" fill="#2f42b0" fill-rule="evenodd"/>
<path d="M337.0 470.5 336.4 470.5 335.5 470.3 334.5 470.0 334.0 469.9 333.5 469.5 333.0 468.6 332.8 468.0 332.5 467.5 332.0 466.9 331.5 466.0 331.5 466.0 331.6 465.0 331.7 464.0 331.9 463.0 332.0 462.5 332.4 461.5 332.6 461.0 333.0 460.0 333.2 459.5 333.5 458.7 333.8 458.0 334.0 457.5 334.3 456.5 334.5 456.0 335.0 455.1 335.3 454.5 335.6 454.0 336.0 453.0 336.2 452.5 336.6 452.0 337.2 451.5 337.9 451.0 338.3 450.5 338.6 450.0 339.0 449.4 339.5 448.8 340.0 448.4 340.5 448.0 341.2 447.5 342.0 447.1 342.5 446.9 343.3 446.5 343.9 446.0 344.5 445.7 345.5 445.6 346.1 445.5 347.0 445.3 348.0 445.3 349.0 445.4 349.6 445.0 350.0 444.1 350.5 443.6 351.5 443.8 352.0 444.4 352.4 445.0 352.7 445.5 353.1 446.0 353.4 447.0 353.4 448.0 353.3 449.0 353.2 450.0 353.0 451.0 352.9 451.5 352.6 452.5 352.5 453.1 352.4 454.0 352.4 455.0 352.3 456.0 352.0 456.6 351.5 457.5 351.2 458.0 350.9 458.5 350.5 459.2 350.1 460.0 349.8 460.5 349.5 461.0 349.0 461.6 348.5 462.2 348.0 462.9 347.6 463.5 347.2 464.0 346.7 464.5 346.1 465.0 345.7 465.5 345.4 466.0 345.0 466.7 344.5 467.3 344.0 467.7 343.2 468.0 342.5 468.2 341.8 468.5 341.0 468.9 340.5 469.2 340.0 469.5 339.0 470.0 338.5 470.2 337.5 470.5 337.0 470.5Z" fill="#2f6fd0" fill-rule="evenodd"/>
<path d="M338.0 468.0 337.0 468.2 336.1 468.0 335.5 467.5 335.1 467.0 334.9 466.5 334.5 465.6 334.3 465.0 334.1 464.0 334.2 463.0 334.3 462.0 334.5 461.1 334.7 460.5 335.0 459.7 335.3 459.0 335.5 458.5 335.9 457.5 336.1 457.0 336.5 456.3 336.8 455.5 337.0 454.9 337.4 454.0 337.8 453.5 338.4 453.0 339.0 452.6 339.5 452.0 339.8 451.5 340.1 451.0 340.5 450.2 341.0 449.5 341.5 449.0 342.0 448.7 343.0 448.5 344.0 448.6 344.5 448.5 345.3 448.0 346.0 447.5 346.5 447.4 347.5 447.5 348.0 447.7 348.5 448.0 349.5 448.5 350.0 448.8 350.5 449.3 350.8 450.0 350.8 451.0 350.6 452.0 350.5 453.0 350.5 453.5 350.4 454.5 350.1 455.5 349.9 456.0 349.5 457.0 349.4 457.5 349.0 458.5 348.7 459.0 348.3 459.5 347.7 460.0 347.3 460.5 347.0 461.0 346.6 462.0 346.2 462.5 345.7 463.0 345.1 463.5 344.6 464.0 344.2 464.5 343.8 465.0 343.4 465.5 342.5 466.0 342.0 466.1 341.1 466.5 340.5 466.9 340.0 467.2 339.5 467.5 338.5 467.9 338.0 468.0Z" fill="#2fb0d0" fill-rule="evenodd"/>
<path d="M340.0 465.6 339.0 465.7 338.0 465.6 337.5 465.4 336.7 465.0 336.2 464.5 335.9 464.0 335.7 463.0 335.6 462.0 335.7 461.0 336.0 460.1 336.3 459.5 336.5 459.0 336.9 458.0 337.1 457.5 337.5 456.7 337.9 456.0 338.1 455.5 338.5 454.8 339.0 454.2 339.5 453.8 340.0 453.2 340.5 452.5 340.8 452.0 341.2 451.5 341.6 451.0 342.4 450.5 343.0 450.4 343.5 450.5 344.2 450.5 345.0 450.4 346.0 450.2 347.0 450.2 347.7 450.5 348.1 451.0 348.4 452.0 348.4 453.0 348.0 454.0 347.9 454.5 347.9 455.5 347.9 456.5 347.8 457.5 347.5 458.2 347.0 458.8 346.5 459.3 346.0 459.8 345.6 460.5 345.4 461.0 345.0 461.6 344.5 462.1 344.0 462.5 343.5 463.1 343.0 463.9 342.5 464.5 342.0 464.8 341.5 465.1 340.5 465.4 340.0 465.6Z" fill="#3cc080" fill-rule="evenodd"/>
<path d="M340.5 463.7 339.5 463.9 338.5 463.8 337.7 463.5 337.2 463.0 336.9 462.5 336.7 461.5 336.9 460.5 337.1 460.0 337.5 459.2 337.8 458.5 338.0 458.0 338.5 457.1 338.9 456.5 339.4 456.0 340.0 455.5 340.5 455.0 340.8 454.5 341.0 454.0 341.5 453.1 342.0 452.6 342.5 452.3 343.5 452.1 344.5 452.2 345.2 452.5 345.6 453.0 345.8 454.0 346.0 455.0 346.2 455.5 346.5 456.3 346.6 457.0 346.4 457.5 346.0 458.1 345.5 458.6 344.9 459.0 344.2 459.5 343.5 460.0 343.0 460.4 342.5 460.9 342.2 461.5 342.0 462.1 341.5 463.0 341.0 463.5 340.5 463.7Z" fill="#a8d438" fill-rule="evenodd"/>
<path d="M339.5 462.6 338.5 462.5 338.0 462.2 337.7 461.5 337.8 460.5 338.2 460.0 338.7 459.5 339.1 459.0 339.3 458.0 339.5 457.5 340.0 457.0 340.7 456.5 341.3 456.0 341.6 455.5 342.0 454.8 342.5 454.0 343.0 453.7 344.0 453.8 344.4 454.5 344.7 455.0 345.0 455.6 345.5 456.5 345.5 457.0 345.3 457.5 344.8 458.0 344.0 458.5 343.5 458.7 342.8 459.0 342.0 459.3 341.5 459.5 340.7 460.0 340.6 461.0 340.5 461.5 340.0 462.3 339.5 462.6Z" fill="#f0a030" fill-rule="evenodd"/>
<path d="M343.0 458.1 342.0 458.4 341.0 458.1 341.0 457.5 341.4 457.0 341.9 456.5 342.3 456.0 342.7 455.5 343.5 455.2 344.0 455.6 344.5 456.3 344.7 457.0 344.3 457.5 343.5 458.0 343.0 458.1Z" fill="#e52a20" fill-rule="evenodd"/>
<rect x="321.5" y="309" width="75.0" height="76.0" fill="none" stroke="#111" stroke-width="1"/>
<text x="316.2" y="317.1" font-size="6.9" text-anchor="end" stroke="#1a1a1a">10<tspan dy="-2.6" font-size="4.8">5</tspan></text>
<text x="316.2" y="332.1" font-size="6.9" text-anchor="end" stroke="#1a1a1a">10<tspan dy="-2.6" font-size="4.8">4</tspan></text>
<text x="316.2" y="347.1" font-size="6.9" text-anchor="end" stroke="#1a1a1a">10<tspan dy="-2.6" font-size="4.8">3</tspan></text>
<text x="316.2" y="362.6" font-size="6.9" text-anchor="end" stroke="#1a1a1a">10<tspan dy="-2.6" font-size="4.8">2</tspan></text>
<text x="316.2" y="377.6" font-size="6.9" text-anchor="end" stroke="#1a1a1a">10<tspan dy="-2.6" font-size="4.8">1</tspan></text>
<path d="M319.3 315.0h2.2M319.3 330.0h2.2M319.3 345.0h2.2M319.3 360.5h2.2M319.3 375.5h2.2M320.3 325.5h1.2M320.3 322.8h1.2M320.3 321.0h1.2M320.3 319.5h1.2M320.3 318.3h1.2M320.3 317.3h1.2M320.3 316.5h1.2M320.3 315.7h1.2M320.3 340.5h1.2M320.3 337.8h1.2M320.3 336.0h1.2M320.3 334.5h1.2M320.3 333.3h1.2M320.3 332.3h1.2M320.3 331.5h1.2M320.3 330.7h1.2M320.3 355.8h1.2M320.3 353.1h1.2M320.3 351.2h1.2M320.3 349.7h1.2M320.3 348.4h1.2M320.3 347.4h1.2M320.3 346.5h1.2M320.3 345.7h1.2M320.3 371.0h1.2M320.3 368.3h1.2M320.3 366.5h1.2M320.3 365.0h1.2M320.3 363.8h1.2M320.3 362.8h1.2M320.3 362.0h1.2M320.3 361.2h1.2M324.5 385.0v1.3M329.8 385.0v1.3M335.1 385.0v1.3M340.4 385.0v1.3M345.7 385.0v1.3M351.0 385.0v1.3M356.3 385.0v1.3M361.7 385.0v1.3M367.0 385.0v1.3M372.3 385.0v1.3M377.6 385.0v1.3M382.9 385.0v1.3M388.2 385.0v1.3M393.5 385.0v1.3" stroke="#111" stroke-width="0.6"/>
<rect x="321.5" y="406" width="75.0" height="76.0" fill="none" stroke="#111" stroke-width="1"/>
<text x="316.2" y="414.6" font-size="6.9" text-anchor="end" stroke="#1a1a1a">10<tspan dy="-2.6" font-size="4.8">5</tspan></text>
<text x="316.2" y="429.6" font-size="6.9" text-anchor="end" stroke="#1a1a1a">10<tspan dy="-2.6" font-size="4.8">4</tspan></text>
<text x="316.2" y="445.1" font-size="6.9" text-anchor="end" stroke="#1a1a1a">10<tspan dy="-2.6" font-size="4.8">3</tspan></text>
<text x="316.2" y="460.1" font-size="6.9" text-anchor="end" stroke="#1a1a1a">10<tspan dy="-2.6" font-size="4.8">2</tspan></text>
<text x="316.2" y="475.1" font-size="6.9" text-anchor="end" stroke="#1a1a1a">10<tspan dy="-2.6" font-size="4.8">1</tspan></text>
<text x="329.7" y="494.0" font-size="6.9" text-anchor="middle" stroke="#1a1a1a">10<tspan dy="-2.6" font-size="4.8">1</tspan></text>
<text x="345.7" y="494.0" font-size="6.9" text-anchor="middle" stroke="#1a1a1a">10<tspan dy="-2.6" font-size="4.8">2</tspan></text>
<text x="361.7" y="494.0" font-size="6.9" text-anchor="middle" stroke="#1a1a1a">10<tspan dy="-2.6" font-size="4.8">3</tspan></text>
<text x="377.2" y="494.0" font-size="6.9" text-anchor="middle" stroke="#1a1a1a">10<tspan dy="-2.6" font-size="4.8">4</tspan></text>
<text x="392.7" y="494.0" font-size="6.9" text-anchor="middle" stroke="#1a1a1a">10<tspan dy="-2.6" font-size="4.8">5</tspan></text>
<path d="M319.3 412.5h2.2M319.3 427.5h2.2M319.3 443.0h2.2M319.3 458.0h2.2M319.3 473.0h2.2M320.3 423.0h1.2M320.3 420.3h1.2M320.3 418.5h1.2M320.3 417.0h1.2M320.3 415.8h1.2M320.3 414.8h1.2M320.3 414.0h1.2M320.3 413.2h1.2M320.3 438.3h1.2M320.3 435.6h1.2M320.3 433.7h1.2M320.3 432.2h1.2M320.3 430.9h1.2M320.3 429.9h1.2M320.3 429.0h1.2M320.3 428.2h1.2M320.3 453.5h1.2M320.3 450.8h1.2M320.3 449.0h1.2M320.3 447.5h1.2M320.3 446.3h1.2M320.3 445.3h1.2M320.3 444.5h1.2M320.3 443.7h1.2M320.3 468.5h1.2M320.3 465.8h1.2M320.3 464.0h1.2M320.3 462.5h1.2M320.3 461.3h1.2M320.3 460.3h1.2M320.3 459.5h1.2M320.3 458.7h1.2M330.5 482.0v2.2M346.5 482.0v2.2M362.5 482.0v2.2M378.0 482.0v2.2M393.5 482.0v2.2M335.3 482.0v1.2M338.1 482.0v1.2M340.1 482.0v1.2M341.7 482.0v1.2M343.0 482.0v1.2M344.0 482.0v1.2M344.9 482.0v1.2M345.8 482.0v1.2M351.3 482.0v1.2M354.1 482.0v1.2M356.1 482.0v1.2M357.7 482.0v1.2M359.0 482.0v1.2M360.0 482.0v1.2M360.9 482.0v1.2M361.8 482.0v1.2M367.2 482.0v1.2M369.9 482.0v1.2M371.8 482.0v1.2M373.3 482.0v1.2M374.6 482.0v1.2M375.6 482.0v1.2M376.5 482.0v1.2M377.3 482.0v1.2M382.7 482.0v1.2M385.4 482.0v1.2M387.3 482.0v1.2M388.8 482.0v1.2M390.1 482.0v1.2M391.1 482.0v1.2M392.0 482.0v1.2M392.8 482.0v1.2" stroke="#111" stroke-width="0.6"/>
<defs><clipPath id="c2"><rect x="321.5" y="309" width="75" height="76"/></clipPath><clipPath id="c5"><rect x="321.5" y="406" width="75" height="76"/></clipPath></defs>
<ellipse cx="376.5" cy="341.2" rx="21.3" ry="11.6" fill="none" stroke="#666" stroke-width="0.8" clip-path="url(#c2)"/>
<ellipse cx="376" cy="438.3" rx="21.3" ry="11.5" fill="none" stroke="#666" stroke-width="0.8" clip-path="url(#c5)"/>
<path d="M396.5 339H417.3" stroke="#111" stroke-width="0.9"/>
<path d="M420.8 339l-4.2 -2.1v4.2z" fill="#111"/>
<path d="M396.5 438H417.3" stroke="#111" stroke-width="0.9"/>
<path d="M420.8 438l-4.2 -2.1v4.2z" fill="#111"/>
<text x="370.5" y="325.5" font-size="8.2" stroke="#1a1a1a">GCB</text>
<text x="382.5" y="362" font-size="8.2" stroke="#1a1a1a">1.5</text>
<text x="370.5" y="424" font-size="8.2" stroke="#1a1a1a">GCB</text>
<text x="380.5" y="461" font-size="8.2" stroke="#1a1a1a">7.9</text>
<path d="M477.0 313.6h0m2.8 5.5h0m-0.3 4.1h0m3.9 1.2h0m-5.1 1.3h0m2.6 0.4h0m6.6 0.9h0m2.4 0.6h0m-17.3 0.8h0m4.6 -0.4h0m3.3 0.3h0m0.9 0.3h0m3.2 -0.7h0m-4.8 1.3h0m14.7 0h0m-6.6 1.2h0m-19.2 0.5h0m12.8 0.5h0m7.9 0h0m-7.5 1.0h0m5.2 -0.6h0m5.1 -0.3h0m-23.1 1.6h0m9.7 -0.1h0m3.5 -0.3h0m4.6 0.7h0m5.6 -0.1h0m-21.7 1.0h0m10.1 -0.7h0m2.9 0.3h0m2.5 0.1h0m1.1 -0.6h0m0 0.9h0m2.9 -0.1h0m3.5 -0.5h0m-17.5 1.0h0m0.4 0.3h0m3.8 -0.4h0m0.1 0.3h0m2.3 -0.4h0m1.7 0.4h0m0.4 -0.1h0m1.5 0.4h0m1.0 -0.5h0m1.7 -0.2h0m8.3 0.3h0m-22.5 0.8h0m0.5 0.4h0m0.6 0.2h0m3.8 -0.7h0m4.8 0.7h0m0 0h0m2.7 -0.5h0m4.3 -0.1h0m-23.5 1.3h0m8.4 0.2h0m1.8 -0.4h0m2.1 0.4h0m4.7 -0.5h0m0.1 -0.2h0m0.6 0.2h0m0.3 0.1h0m12.5 0.1h0m-21.5 1.1h0m0.2 0h0m2.9 -0.1h0m3.7 0.2h0m0.4 -0.4h0m1.3 0.4h0m1.5 0h0m2.7 -0.6h0m0.2 0.7h0m0.3 -0.6h0m0.4 0.4h0m9.0 0.1h0m-20.7 0.6h0m0.9 0h0m3.8 0.7h0m1.2 0.1h0m2.6 -0.8h0m0.8 0.4h0m1.2 0h0m8.3 -0.2h0m1.2 0.4h0m-22.7 0.9h0m4.6 0h0m2.1 0.4h0m1.7 -1.0h0m0.6 0.4h0m1.2 0.4h0m0.5 -0.7h0m6.6 0.7h0m2.0 0h0m-19.1 0.2h0m0 0.8h0m1.4 0.1h0m0.7 -0.7h0m0.4 0.6h0m2.1 -0.2h0m0.2 -0.1h0m0.6 0.3h0m0.7 -0.7h0m0.3 0.7h0m1.0 -0.6h0m0.4 0h0m0.4 0h0m0.1 0.6h0m3.1 0.2h0m3.5 -0.9h0m-16.9 1.2h0m1.0 0.6h0m0.3 0h0m2.1 0.2h0m2.2 -0.8h0m1.0 0.7h0m0.9 -0.2h0m1.6 -0.2h0m2.2 -0.4h0m0.2 0.7h0m1.0 0h0m1.6 -0.3h0m17.1 -0.3h0m-33.7 1.3h0m0.2 0h0m1.9 0.1h0m2.6 -0.4h0m0.7 0.6h0m0.5 0.1h0m0.4 -0.2h0m1.0 0.3h0m3.9 -0.2h0m1.9 -0.3h0m1.1 0.5h0m0.1 0.1h0m0.8 -1.0h0m0.6 0.4h0m3.5 0.5h0m0.3 -0.3h0m1.7 -0.1h0m0.2 -0.5h0m0.6 0.3h0m0.7 -0.3h0m-19.2 1.6h0m0.6 0h0m0.1 0.3h0m1.9 -0.2h0m1.9 -0.4h0m1.2 0.3h0m2.2 0h0m0.1 0.4h0m0 -0.9h0m0.4 0.7h0m0.2 0h0m0.7 -0.2h0m0.4 -0.3h0m0.2 0.3h0m1.5 0.2h0m1.4 -0.4h0m3.7 -0.4h0m0.1 0.4h0m1.5 0h0m0.2 -0.4h0m2.4 0.4h0m9.9 0.5h0m-36.5 0.7h0m2.6 -0.1h0m3.8 -0.2h0m1.5 0.1h0m2.2 0.4h0m0.6 -0.2h0m0 0.2h0m1.5 -0.1h0m1.3 -0.2h0m0.4 0.1h0m1.6 0.2h0m2.2 -0.4h0m2.4 0.4h0m0.2 -0.4h0m2.9 0.5h0m-22.4 0.7h0m6.4 0.3h0m1.1 0h0m2.6 -0.5h0m1.4 -0.1h0m0.4 0.5h0m3.0 0.1h0m0.1 -0.5h0m0.3 0h0m1.2 0.2h0m0 -0.3h0m2.0 0.5h0m2.1 -0.3h0m1.1 0.5h0m1.2 -0.2h0m0.1 -0.1h0m0.8 0.1h0m-19.5 0.9h0m0.5 -0.4h0m0.7 0.9h0m2.4 -0.3h0m0.7 0.3h0m1.9 -0.8h0m0.2 0.3h0m1.6 0.1h0m2.6 0.3h0m0.1 -0.5h0m0.2 0.7h0m0.2 -0.1h0m0.7 0h0m1.2 -0.2h0m3.1 0.1h0m0 -0.5h0m5.3 0.4h0m-20.0 1.3h0m3.0 -0.9h0m0.6 0h0m0.5 0.4h0m1.8 0.2h0m0.5 -0.7h0m0.3 0.3h0m0.2 -0.1h0m0.9 0.5h0m3.7 0.1h0m2.3 -0.3h0m2.8 -0.3h0m-20.6 1.4h0m2.3 0.2h0m5.3 -0.2h0m2.9 -0.4h0m0.2 0.8h0m1.1 -0.5h0m3.1 -0.2h0m0.6 0.5h0m1.8 -0.2h0m1.3 -0.1h0m0.2 0.2h0m-19.4 1.1h0m1.2 0h0m1.9 -0.2h0m4.0 0.2h0m1.3 -0.8h0m0.3 0.5h0m4.0 0.4h0m0.5 0.1h0m0.3 -0.9h0m0.3 0.5h0m0.6 0.4h0m0.5 -0.2h0m0.6 -0.4h0m6.8 -0.2h0m-25.0 1.6h0m4.0 -0.3h0m0.1 0.4h0m2.6 -0.3h0m5.6 0.1h0m2.2 0.1h0m0.3 -0.2h0m0.6 0.4h0m6.6 -0.7h0m-21.6 1.8h0m6.5 -0.3h0m1.6 -0.6h0m3.2 0.3h0m0.8 -0.3h0m3.4 0.7h0m0.1 -0.7h0m1.0 0.6h0m0.3 -0.5h0m2.7 0.3h0m2.6 -0.5h0m2.2 0.5h0m0 -0.5h0m0.1 0.1h0m2.4 0.8h0m-21.7 0h0m11.5 0h0m1.2 0.1h0m-13.8 1.4h0m0.9 0.1h0m2.3 -0.1h0m0.8 -0.1h0m1.2 -0.4h0m0.3 0.2h0m1.9 0h0m0.7 0.7h0m1.2 0h0m0.2 -0.7h0m0.3 0.3h0m0.6 -0.3h0m0.6 0.2h0m1.8 0.3h0m3.6 0.2h0m4.0 -0.3h0m-13.8 0.8h0m4.7 0.3h0m0.9 0.1h0m0 -0.6h0m2.8 0.7h0m-12.1 0.9h0m2.9 -0.5h0m2.0 0h0m1.7 0.1h0m1.6 -0.1h0m1.8 0.7h0m-11.0 0.6h0m6.1 -0.3h0m1.3 0.5h0m-4.2 0.4h0m0.7 0.7h0m1.3 -0.6h0m0 0h0m7.8 0.9h0m4.8 -0.6h0m1.7 0.1h0m-19.9 0.6h0m10.9 0.2h0m1.9 -0.1h0m1.0 0.3h0m5.6 0.6h0m2.3 -0.9h0m-20.7 1.7h0m4.0 -0.3h0m5.2 -0.1h0m0.5 0.9h0m8.9 -0.2h0m9.8 0.4h0m-32.8 1.3h0m10.7 -0.2h0m-10.7 0.8h0m14.3 6.9h0" stroke="#8c93d0" stroke-width="0.7" stroke-linecap="round" fill="none" opacity="0.9"/>
<path d="M488.3 408.5h0m-16.2 2.2h0m2.2 1.2h0m3.2 1.6h0m3.8 -0.7h0m-12.1 0.9h0m7.3 0.4h0m4.1 -0.2h0m-4.3 1.4h0m6.5 -0.7h0m0.7 0.3h0m-7.8 1.2h0m19.3 -0.3h0m-27.8 2.7h0m14.9 -0.6h0m11.5 0h0m-27.6 0.9h0m1.1 -0.1h0m1.7 0.3h0m1.4 -0.2h0m0.9 0.8h0m4.2 0h0m7.3 -0.8h0m0.3 0.6h0m3.1 0.2h0m4.1 -0.7h0m-27.8 0.9h0m3.1 0h0m2.0 0.5h0m0.6 -0.4h0m7.2 0.1h0m1.9 0h0m1.9 0.5h0m2.0 -0.2h0m3.6 0.2h0m1.9 -0.6h0m-20.0 0.8h0m2.5 0.6h0m0.7 -0.8h0m6.6 0.4h0m1.1 0.3h0m1.5 0.1h0m1.4 -0.4h0m1.4 -0.1h0m0.3 -0.1h0m3.8 -0.1h0m0.3 0.2h0m-18.9 0.8h0m1.2 0.4h0m2.5 0.1h0m3.9 -0.4h0m1.8 0.3h0m2.7 0.1h0m2.1 -0.7h0m2.9 0.7h0m1.1 -0.6h0m0.8 0.6h0m0.3 -0.5h0m0.6 0.4h0m2.4 -0.4h0m-28.5 1.5h0m6.9 -0.5h0m1.8 0.4h0m2.4 -0.4h0m1.0 0.2h0m1.5 0h0m2.3 0.3h0m5.0 -0.7h0m7.4 0.4h0m0.4 -0.2h0m1.6 0.3h0m-25.9 0.5h0m3.5 0.8h0m1.0 -0.2h0m4.2 -0.6h0m3.0 0.1h0m0.5 0.1h0m0.9 -0.2h0m6.1 0.1h0m6.2 0.3h0m0.3 -0.5h0m-26.3 1.2h0m1.2 0.3h0m2.1 0.3h0m1.6 -0.2h0m2.2 -0.1h0m1.8 -0.3h0m2.4 0.3h0m1.0 -0.2h0m0.2 0h0m1.0 0.1h0m0.1 0.3h0m1.6 0.1h0m0.3 -0.7h0m0.4 0.3h0m0.4 -0.5h0m0.2 0.8h0m1.4 0h0m1.0 -0.2h0m5.1 -0.4h0m-38.3 1.7h0m15.1 -0.8h0m0.9 0.8h0m3.6 -0.4h0m2.9 0.4h0m0 -0.2h0m0.3 0.2h0m0.1 -0.3h0m2.4 -0.5h0m2.2 0.9h0m0.1 -0.9h0m1.0 0.9h0m0.1 -0.6h0m0.5 -0.1h0m0.4 -0.2h0m3.4 0.6h0m1.5 -0.4h0m1.2 0h0m7.0 0.1h0m-31.5 1.1h0m5.2 0.3h0m2.0 -0.6h0m0.7 0.3h0m0.8 0.4h0m1.1 -0.5h0m0.4 -0.3h0m3.4 0.6h0m1.2 0.3h0m1.4 -0.1h0m5.4 -0.5h0m0.2 0.2h0m0.9 0.2h0m0.6 -0.2h0m1.0 0.2h0m0.9 -0.2h0m1.9 -0.2h0m0.5 -0.1h0m0.3 0.1h0m-28.8 1.3h0m2.2 -0.5h0m4.2 0.3h0m2.8 0.5h0m0.1 -0.1h0m0.7 0.1h0m1.8 -0.7h0m0.2 0.7h0m0 -0.4h0m2.3 0.4h0m0.1 0h0m0.8 -0.3h0m0.6 -0.1h0m0.8 0.4h0m0.4 -0.5h0m1.0 -0.1h0m1.3 0.7h0m0.8 -0.6h0m4.3 0.5h0m2.4 -0.2h0m1.6 -0.3h0m2.5 0h0m-30.2 1.5h0m3.4 -0.1h0m2.4 0h0m2.3 0h0m0.2 0.1h0m0.5 -0.4h0m2.8 0.4h0m0.4 0.2h0m0.2 -0.2h0m0.7 -0.5h0m1.3 0.4h0m0.1 -0.3h0m1.6 0.4h0m0.2 0.2h0m0.4 -0.8h0m1.2 0.1h0m0.2 0h0m0.3 -0.2h0m1.1 0.7h0m2.3 0.1h0m4.2 -0.9h0m0.1 1.0h0m2.1 -0.3h0m3.6 0.2h0m-33.3 0.9h0m0.6 -0.1h0m8.4 -0.3h0m0.2 -0.5h0m0.7 0.1h0m3.6 0.3h0m0 -0.1h0m0.9 -0.1h0m1.1 -0.2h0m0.4 0.8h0m0 0.1h0m0.7 -0.2h0m1.8 -0.7h0m3.2 0.8h0m0.7 -0.3h0m0.8 -0.5h0m0.5 0.1h0m1.0 0.8h0m2.2 -0.4h0m0.5 0.2h0m1.3 -0.5h0m0.8 0.6h0m5.7 -0.7h0m3.6 -0.1h0m-41.1 1.5h0m1.7 -0.3h0m1.7 -0.2h0m3.4 0h0m0.3 0h0m0.8 0.4h0m1.2 -0.2h0m1.5 0.3h0m0.7 0.3h0m1.3 -0.4h0m0.2 0.3h0m0.7 -0.2h0m0.8 -0.3h0m0.7 0.1h0m0.6 0.3h0m3.0 0.1h0m0.2 -0.1h0m2.2 -0.1h0m0.4 0h0m2.6 0h0m0.3 0.4h0m1.2 -0.5h0m2.4 -0.2h0m3.0 0.5h0m2.3 -0.7h0m-27.9 1.1h0m1.8 0.4h0m0.5 0.1h0m1.4 -0.1h0m1.3 0.1h0m1.8 -0.6h0m0.9 0.1h0m0.2 0h0m0.1 0.7h0m2.1 -0.9h0m0.9 0.3h0m0.8 0.4h0m0 0.2h0m0.2 -0.2h0m0.6 0.2h0m0.2 -0.2h0m0.7 -0.2h0m1.4 -0.1h0m2.6 0.6h0m1.2 0h0m0.4 -0.1h0m0.3 0.1h0m0.5 -0.3h0m0.2 0.1h0m0.7 -0.6h0m2.1 0.7h0m0.6 -0.3h0m2.2 -0.1h0m1.8 -0.1h0m-34.7 1.2h0m4.2 -0.4h0m0.5 0.8h0m1.5 0h0m2.1 -0.9h0m0.4 0.2h0m0.5 0.3h0m1.3 0.4h0m1.4 -0.2h0m1.3 -0.3h0m1.5 0.4h0m0.4 -0.1h0m0.3 0.1h0m0.1 -0.5h0m1.2 0.1h0m1.2 0.5h0m0.3 0.1h0m1.3 -0.3h0m0.2 -0.1h0m0.1 -0.4h0m0.3 0.6h0m0.2 -0.7h0m0.2 0.8h0m0.2 0h0m4.1 0.1h0m2.4 -0.5h0m0.7 0h0m0 -0.1h0m3.7 -0.3h0m-22.4 1.3h0m8.4 0.6h0m1.2 -0.4h0m0.6 0h0m1.8 -0.2h0m0.3 0.3h0m0.4 -0.4h0m0 0.3h0m0.1 0.2h0m2.4 -0.2h0m2.8 0.3h0m0.1 -0.6h0m0.2 0h0m0.4 0.6h0m0.1 0.2h0m0.4 0h0m0.2 -0.4h0m2.1 -0.5h0m0.8 0.2h0m2.1 -0.1h0m4.1 0.1h0m0.4 -0.2h0m-48.3 0.9h0m13.9 0.3h0m8.8 -0.1h0m0.4 -0.3h0m0.7 0.3h0m0 0.2h0m0.4 0.1h0m3.6 0.2h0m2.4 -0.5h0m0.1 0.1h0m0.6 -0.2h0m0.4 0.4h0m0.4 0.2h0m0.2 -0.6h0m0.1 0h0m0.2 -0.1h0m3.1 0.2h0m0.4 0.6h0m0.4 -0.6h0m1.4 0.4h0m0.4 -0.4h0m3.6 -0.1h0m6.5 0.4h0m-33.1 0.7h0m3.5 0h0m0.9 0.3h0m2.2 -0.5h0m5.0 0h0m0.1 -0.1h0m2.0 -0.1h0m0.7 0.3h0m0.2 0.5h0m1.1 -0.2h0m1.1 0h0m1.6 -0.3h0m0.2 0.3h0m0.2 0h0m7.2 -0.4h0m0.6 0.3h0m4.4 -0.2h0m1.1 0.4h0m-29.6 1.0h0m1.3 -0.8h0m3.2 0.2h0m0.8 -0.1h0m1.6 0.2h0m0.8 0.1h0m0.1 -0.2h0m0.7 0.1h0m2.6 0.1h0m0.7 -0.3h0m2.6 -0.1h0m0.5 0.4h0m0.8 0.5h0m0.2 -0.4h0m1.2 0.1h0m3.6 -0.4h0m4.3 0.5h0m1.5 -0.2h0m0.5 -0.1h0m-27.4 1.4h0m4.3 -0.5h0m4.5 0h0m0.9 0.2h0m0.4 0h0m0.6 0.4h0m1.2 -0.1h0m0.5 -0.6h0m0.4 0.3h0m1.0 0.2h0m0.6 0h0m1.9 -0.1h0m1.2 -0.5h0m0.4 0.8h0m2.7 -0.2h0m0.9 0.1h0m-23.3 0.5h0m4.7 -0.2h0m0.7 0h0m1.2 0.7h0m0.4 -0.3h0m1.6 0.3h0m2.7 0h0m0.1 -0.7h0m1.6 0.3h0m1.6 -0.3h0m2.2 0.3h0m0.1 0.3h0m0.4 -0.4h0m0.6 0.3h0m3.1 0.3h0m0.2 -0.2h0m1.4 0.2h0m2.2 -0.1h0m1.4 -0.2h0m2.3 -0.6h0m0.1 0.3h0m1.0 -0.1h0m-34.3 0.8h0m14.9 0.7h0m3.4 0.1h0m0 -0.8h0m5.1 0.2h0m6.0 0.4h0m4.7 -0.4h0m-29.8 1.7h0m3.4 -0.9h0m1.0 0.8h0m1.8 0h0m1.8 -0.4h0m3.2 0.6h0m1.0 -0.3h0m0.1 -0.1h0m1.0 0.3h0m7.1 0h0m-15.0 0.4h0m1.8 0.1h0m2.8 0h0m3.3 0h0m1.5 -0.2h0m0.1 0.4h0m3.5 0.4h0m0.1 -0.8h0m2.2 -0.1h0m4.1 0.1h0m13.0 0.4h0m-33.3 0.6h0m0.5 0h0m2.0 0.7h0m0.1 -0.1h0m1.2 -0.1h0m2.1 -0.4h0m0.2 0.2h0m1.5 -0.2h0m0.4 0.2h0m3.9 0.3h0m0.4 0.1h0m8.4 -0.2h0m-30.1 1.3h0m2.0 0h0m0.2 -0.5h0m17.5 0.1h0m1.2 -0.4h0m0.1 0.3h0m-20.0 1.0h0m4.9 -0.3h0m11.3 0.6h0m2.2 -0.4h0m7.7 0.7h0m5.9 -0.7h0m3.2 0.5h0m-20.9 0.3h0m5.7 0.6h0m12.7 -0.1h0m-18.5 0.8h0m2.0 -0.2h0m6.7 -0.2h0m2.5 1.7h0m1.9 0.2h0m1.9 -0.8h0m2.9 0h0m-27.0 1.0h0m4.4 0.7h0m5.8 -0.5h0m11.7 0.4h0m-23.6 2.9h0m11.2 -0.2h0" stroke="#8c93d0" stroke-width="0.7" stroke-linecap="round" fill="none" opacity="0.9"/>
<path d="M437.5 316.0L496 315.7L500 330.0L461 358.0L437.5 348.0 M464.5 385.0L460.5 359.8L500 332.0L503.8 332.5L507.5 338.8V385.0" fill="none" stroke="#666" stroke-width="0.8"/>
<path d="M437.5 412.8L496 412.5L500 426.8L461 454.8L437.5 444.8 M464.5 481.8L460.5 456.6L500 428.8L503.8 429.3L507.5 435.6V481.8" fill="none" stroke="#666" stroke-width="0.8"/>
<rect x="437" y="309.5" width="75.5" height="76.0" fill="none" stroke="#111" stroke-width="1"/>
<text x="431.7" y="321.6" font-size="6.9" text-anchor="end" stroke="#1a1a1a">10<tspan dy="-2.6" font-size="4.8">4</tspan></text>
<text x="431.7" y="347.6" font-size="6.9" text-anchor="end" stroke="#1a1a1a">10<tspan dy="-2.6" font-size="4.8">3</tspan></text>
<text x="431.7" y="373.1" font-size="6.9" text-anchor="end" stroke="#1a1a1a">10<tspan dy="-2.6" font-size="4.8">2</tspan></text>
<path d="M434.8 319.5h2.2M434.8 345.5h2.2M434.8 371.0h2.2M435.8 337.7h1.2M435.8 333.1h1.2M435.8 329.8h1.2M435.8 327.3h1.2M435.8 325.3h1.2M435.8 323.5h1.2M435.8 322.0h1.2M435.8 320.7h1.2M435.8 363.3h1.2M435.8 358.8h1.2M435.8 355.6h1.2M435.8 353.2h1.2M435.8 351.2h1.2M435.8 349.4h1.2M435.8 348.0h1.2M435.8 346.7h1.2M440.0 385.5v1.3M445.3 385.5v1.3M450.7 385.5v1.3M456.0 385.5v1.3M461.4 385.5v1.3M466.7 385.5v1.3M472.1 385.5v1.3M477.4 385.5v1.3M482.8 385.5v1.3M488.1 385.5v1.3M493.5 385.5v1.3M498.8 385.5v1.3M504.2 385.5v1.3M509.5 385.5v1.3" stroke="#111" stroke-width="0.6"/>
<rect x="437" y="406" width="75.5" height="76.5" fill="none" stroke="#111" stroke-width="1"/>
<text x="431.7" y="418.4" font-size="6.9" text-anchor="end" stroke="#1a1a1a">10<tspan dy="-2.6" font-size="4.8">4</tspan></text>
<text x="431.7" y="444.6" font-size="6.9" text-anchor="end" stroke="#1a1a1a">10<tspan dy="-2.6" font-size="4.8">3</tspan></text>
<text x="431.7" y="470.6" font-size="6.9" text-anchor="end" stroke="#1a1a1a">10<tspan dy="-2.6" font-size="4.8">2</tspan></text>
<text x="437.0" y="494.5" font-size="6.9" text-anchor="middle" stroke="#1a1a1a">10<tspan dy="-2.6" font-size="4.8">2</tspan></text>
<text x="463.7" y="494.5" font-size="6.9" text-anchor="middle" stroke="#1a1a1a">10<tspan dy="-2.6" font-size="4.8">3</tspan></text>
<text x="489.5" y="494.5" font-size="6.9" text-anchor="middle" stroke="#1a1a1a">10<tspan dy="-2.6" font-size="4.8">4</tspan></text>
<path d="M434.8 416.3h2.2M434.8 442.5h2.2M434.8 468.5h2.2M435.8 434.6h1.2M435.8 430.0h1.2M435.8 426.7h1.2M435.8 424.2h1.2M435.8 422.1h1.2M435.8 420.4h1.2M435.8 418.8h1.2M435.8 417.5h1.2M435.8 460.7h1.2M435.8 456.1h1.2M435.8 452.8h1.2M435.8 450.3h1.2M435.8 448.3h1.2M435.8 446.5h1.2M435.8 445.0h1.2M435.8 443.7h1.2M437.8 482.5v2.2M464.5 482.5v2.2M490.3 482.5v2.2M445.8 482.5v1.2M450.5 482.5v1.2M453.9 482.5v1.2M456.5 482.5v1.2M458.6 482.5v1.2M460.4 482.5v1.2M461.9 482.5v1.2M463.3 482.5v1.2M472.3 482.5v1.2M476.8 482.5v1.2M480.0 482.5v1.2M482.5 482.5v1.2M484.6 482.5v1.2M486.3 482.5v1.2M487.8 482.5v1.2M489.1 482.5v1.2" stroke="#111" stroke-width="0.6"/>
<path d="M398 339H417.7" stroke="#111" stroke-width="0.9"/>
<path d="M421.2 339l-4.2 -2.1v4.2z" fill="#111"/>
<text x="441" y="325.5" font-size="8.9" stroke="#1a1a1a">31.9</text>
<text x="487.5" y="382" font-size="8.9" stroke="#1a1a1a">65.1</text>
<text x="440" y="423.5" font-size="8.9" stroke="#1a1a1a">61.4</text>
<text x="483" y="477.5" font-size="8.9" stroke="#1a1a1a">35.2</text>
<text x="3.5" y="547.6" font-size="10.5" font-weight="bold" stroke="#1a1a1a">E</text>
<path d="M40.0 664.3C40.7 664.0 42.8 663.5 44.0 662.5C45.2 661.5 46.2 660.1 47.5 658.0C48.8 655.9 50.3 653.2 52.0 650.0C53.7 646.8 56.2 641.7 57.5 639.0C58.8 636.3 59.2 634.9 60.0 634.0C60.8 633.1 61.4 633.6 62.0 633.8C62.6 634.0 63.0 635.3 63.5 635.3C64.0 635.3 64.5 633.6 65.0 633.6C65.5 633.6 65.8 633.9 66.5 635.0C67.2 636.1 68.0 638.2 69.0 640.0C70.0 641.8 71.0 643.8 72.5 645.5C74.0 647.2 75.9 648.8 78.0 650.5C80.1 652.2 82.2 653.6 85.0 655.5C87.8 657.4 92.5 660.5 95.0 662.0C97.5 663.5 99.2 663.9 100.0 664.3Z" fill="#7ed37e" fill-opacity="0.38" stroke="none"/>
<path d="M67.5 664.3C68.2 661.9 70.8 655.7 72.0 650.0C73.2 644.3 73.9 636.7 75.0 630.0C76.1 623.3 77.8 615.3 78.8 610.0C79.8 604.7 80.1 601.7 81.0 598.0C81.9 594.3 83.1 590.2 84.0 588.0C84.9 585.8 85.6 584.9 86.2 585.0C86.9 585.1 87.4 585.2 88.0 588.5C88.6 591.8 89.2 602.5 90.0 604.5C90.8 606.5 91.8 599.6 92.5 600.5C93.2 601.4 93.2 605.1 94.0 610.0C94.8 614.9 96.0 623.5 97.0 630.0C98.0 636.5 98.8 644.0 100.0 649.0C101.2 654.0 102.8 657.5 104.0 660.0C105.2 662.5 106.9 663.6 107.5 664.3Z" fill="#e8607a" fill-opacity="0.38" stroke="none"/>
<path d="M58.8 664.3C59.5 663.6 61.6 662.7 63.0 660.0C64.4 657.3 65.8 651.8 67.0 648.0C68.2 644.2 68.9 641.3 70.0 637.5C71.1 633.7 72.7 627.9 73.8 625.0C74.8 622.1 75.5 621.8 76.5 620.0C77.5 618.2 79.1 616.0 80.0 614.5C80.9 613.0 81.4 612.0 82.0 611.0C82.6 610.0 83.2 608.2 83.8 608.5C84.3 608.8 84.6 609.6 85.2 613.0C85.8 616.4 86.5 625.2 87.5 629.0C88.5 632.8 89.8 633.7 91.0 636.0C92.2 638.3 93.8 640.3 95.0 643.0C96.2 645.7 97.2 649.5 98.0 652.0C98.8 654.5 99.2 656.0 100.0 658.0C100.8 660.0 102.1 663.2 102.5 664.3Z" fill="#4a5f8e" fill-opacity="0.36" stroke="none"/>
<path d="M40.0 664.3C40.7 664.0 42.8 663.5 44.0 662.5C45.2 661.5 46.2 660.1 47.5 658.0C48.8 655.9 50.3 653.2 52.0 650.0C53.7 646.8 56.2 641.7 57.5 639.0C58.8 636.3 59.2 634.9 60.0 634.0C60.8 633.1 61.4 633.6 62.0 633.8C62.6 634.0 63.0 635.3 63.5 635.3C64.0 635.3 64.5 633.6 65.0 633.6C65.5 633.6 65.8 633.9 66.5 635.0C67.2 636.1 68.0 638.2 69.0 640.0C70.0 641.8 71.0 643.8 72.5 645.5C74.0 647.2 75.9 648.8 78.0 650.5C80.1 652.2 82.2 653.6 85.0 655.5C87.8 657.4 92.5 660.5 95.0 662.0C97.5 663.5 99.2 663.9 100.0 664.3" fill="none" stroke="#5cbf66" stroke-width="0.9"/>
<path d="M67.5 664.3C68.2 661.9 70.8 655.7 72.0 650.0C73.2 644.3 73.9 636.7 75.0 630.0C76.1 623.3 77.8 615.3 78.8 610.0C79.8 604.7 80.1 601.7 81.0 598.0C81.9 594.3 83.1 590.2 84.0 588.0C84.9 585.8 85.6 584.9 86.2 585.0C86.9 585.1 87.4 585.2 88.0 588.5C88.6 591.8 89.2 602.5 90.0 604.5C90.8 606.5 91.8 599.6 92.5 600.5C93.2 601.4 93.2 605.1 94.0 610.0C94.8 614.9 96.0 623.5 97.0 630.0C98.0 636.5 98.8 644.0 100.0 649.0C101.2 654.0 102.8 657.5 104.0 660.0C105.2 662.5 106.9 663.6 107.5 664.3" fill="none" stroke="#cf2a50" stroke-width="1"/>
<path d="M58.8 664.3C59.5 663.6 61.6 662.7 63.0 660.0C64.4 657.3 65.8 651.8 67.0 648.0C68.2 644.2 68.9 641.3 70.0 637.5C71.1 633.7 72.7 627.9 73.8 625.0C74.8 622.1 75.5 621.8 76.5 620.0C77.5 618.2 79.1 616.0 80.0 614.5C80.9 613.0 81.4 612.0 82.0 611.0C82.6 610.0 83.2 608.2 83.8 608.5C84.3 608.8 84.6 609.6 85.2 613.0C85.8 616.4 86.5 625.2 87.5 629.0C88.5 632.8 89.8 633.7 91.0 636.0C92.2 638.3 93.8 640.3 95.0 643.0C96.2 645.7 97.2 649.5 98.0 652.0C98.8 654.5 99.2 656.0 100.0 658.0C100.8 660.0 102.1 663.2 102.5 664.3" fill="none" stroke="#2d4d7d" stroke-width="1"/>
<path d="M163.5 664.3C163.6 663.8 163.6 661.9 164.0 661.0C164.4 660.1 165.0 660.0 166.0 659.0C167.0 658.0 168.8 656.0 170.0 655.0C171.2 654.0 172.0 653.7 173.0 653.0C174.0 652.3 175.0 652.3 176.0 651.0C177.0 649.7 177.9 647.7 179.0 645.0C180.1 642.3 181.3 637.8 182.5 635.0C183.7 632.2 185.0 629.9 186.0 628.0C187.0 626.1 188.0 624.0 188.8 623.5C189.5 623.0 189.9 623.9 190.5 625.0C191.1 626.1 191.3 628.3 192.5 630.0C193.7 631.7 196.2 633.0 197.5 635.0C198.8 637.0 199.2 639.5 200.0 642.0C200.8 644.5 201.5 647.7 202.5 650.0C203.5 652.3 204.6 654.2 206.0 656.0C207.4 657.8 208.7 659.1 211.0 660.5C213.3 661.9 218.5 663.7 220.0 664.3Z" fill="#7ed37e" fill-opacity="0.38" stroke="none"/>
<path d="M205.0 664.3C205.5 662.8 206.8 658.6 208.0 655.0C209.2 651.4 211.2 647.2 212.5 642.5C213.8 637.8 214.8 632.4 216.0 627.0C217.2 621.6 218.9 615.5 220.0 610.0C221.1 604.5 221.8 599.2 222.5 594.0C223.2 588.8 223.9 580.7 224.5 578.5C225.1 576.3 225.6 579.9 226.0 581.0C226.4 582.1 226.5 584.6 227.0 585.0C227.5 585.4 228.2 581.8 228.8 583.5C229.3 585.2 229.9 590.6 230.5 595.0C231.1 599.4 231.8 603.3 232.5 610.0C233.2 616.7 234.2 627.5 235.0 635.0C235.8 642.5 236.5 650.1 237.5 655.0C238.5 659.9 240.6 662.8 241.2 664.3Z" fill="#e8607a" fill-opacity="0.38" stroke="none"/>
<path d="M193.8 664.3C196.0 662.8 204.1 657.3 207.5 655.0C210.9 652.7 211.9 652.6 214.0 650.5C216.1 648.4 218.5 645.1 220.0 642.5C221.5 639.9 222.2 637.9 223.0 635.0C223.8 632.1 224.2 629.2 225.0 625.0C225.8 620.8 226.7 615.2 227.5 610.0C228.3 604.8 229.2 594.3 230.0 593.5C230.8 592.7 231.2 597.7 232.0 605.0C232.8 612.3 234.0 629.2 235.0 637.5C236.0 645.8 236.8 650.5 238.0 655.0C239.2 659.5 241.8 662.8 242.5 664.3Z" fill="#4a5f8e" fill-opacity="0.36" stroke="none"/>
<path d="M163.5 664.3C163.6 663.8 163.6 661.9 164.0 661.0C164.4 660.1 165.0 660.0 166.0 659.0C167.0 658.0 168.8 656.0 170.0 655.0C171.2 654.0 172.0 653.7 173.0 653.0C174.0 652.3 175.0 652.3 176.0 651.0C177.0 649.7 177.9 647.7 179.0 645.0C180.1 642.3 181.3 637.8 182.5 635.0C183.7 632.2 185.0 629.9 186.0 628.0C187.0 626.1 188.0 624.0 188.8 623.5C189.5 623.0 189.9 623.9 190.5 625.0C191.1 626.1 191.3 628.3 192.5 630.0C193.7 631.7 196.2 633.0 197.5 635.0C198.8 637.0 199.2 639.5 200.0 642.0C200.8 644.5 201.5 647.7 202.5 650.0C203.5 652.3 204.6 654.2 206.0 656.0C207.4 657.8 208.7 659.1 211.0 660.5C213.3 661.9 218.5 663.7 220.0 664.3" fill="none" stroke="#5cbf66" stroke-width="0.9"/>
<path d="M205.0 664.3C205.5 662.8 206.8 658.6 208.0 655.0C209.2 651.4 211.2 647.2 212.5 642.5C213.8 637.8 214.8 632.4 216.0 627.0C217.2 621.6 218.9 615.5 220.0 610.0C221.1 604.5 221.8 599.2 222.5 594.0C223.2 588.8 223.9 580.7 224.5 578.5C225.1 576.3 225.6 579.9 226.0 581.0C226.4 582.1 226.5 584.6 227.0 585.0C227.5 585.4 228.2 581.8 228.8 583.5C229.3 585.2 229.9 590.6 230.5 595.0C231.1 599.4 231.8 603.3 232.5 610.0C233.2 616.7 234.2 627.5 235.0 635.0C235.8 642.5 236.5 650.1 237.5 655.0C238.5 659.9 240.6 662.8 241.2 664.3" fill="none" stroke="#cf2a50" stroke-width="1"/>
<path d="M193.8 664.3C196.0 662.8 204.1 657.3 207.5 655.0C210.9 652.7 211.9 652.6 214.0 650.5C216.1 648.4 218.5 645.1 220.0 642.5C221.5 639.9 222.2 637.9 223.0 635.0C223.8 632.1 224.2 629.2 225.0 625.0C225.8 620.8 226.7 615.2 227.5 610.0C228.3 604.8 229.2 594.3 230.0 593.5C230.8 592.7 231.2 597.7 232.0 605.0C232.8 612.3 234.0 629.2 235.0 637.5C236.0 645.8 236.8 650.5 238.0 655.0C239.2 659.5 241.8 662.8 242.5 664.3" fill="none" stroke="#2d4d7d" stroke-width="1"/>
<rect x="30.5" y="564.5" width="98.8" height="99.8" fill="none" stroke="#111" stroke-width="1"/>
<text x="24.8" y="666.5" font-size="8" text-anchor="end" stroke="#1a1a1a">0</text>
<text x="24.8" y="628.0" font-size="8" text-anchor="end" stroke="#1a1a1a">20</text>
<text x="24.8" y="589.4" font-size="8" text-anchor="end" stroke="#1a1a1a">40</text>
<path d="M27.5 664.3h3M28.9 660.4h1.6M28.9 656.6h1.6M28.9 652.7h1.6M28.9 648.9h1.6M28.3 645.0h2.2M28.9 641.2h1.6M28.9 637.3h1.6M28.9 633.5h1.6M28.9 629.6h1.6M27.5 625.8h3M28.9 621.9h1.6M28.9 618.0h1.6M28.9 614.2h1.6M28.9 610.3h1.6M28.3 606.5h2.2M28.9 602.6h1.6M28.9 598.8h1.6M28.9 594.9h1.6M28.9 591.1h1.6M27.5 587.2h3M28.9 583.3h1.6M28.9 579.5h1.6M28.9 575.6h1.6M28.9 571.8h1.6M28.3 567.9h2.2M31.5 664.3v1.3M33.6 664.3v1.3M35.3 664.3v1.3M36.7 664.3v1.3M37.9 664.3v1.3M39.0 664.3v1.3M40.0 664.3v2.4M46.4 664.3v1.3M50.1 664.3v1.3M52.8 664.3v1.3M54.9 664.3v1.3M56.5 664.3v1.3M58.0 664.3v1.3M59.2 664.3v1.3M60.3 664.3v1.3M61.2 664.3v2.4M67.6 664.3v1.3M71.4 664.3v1.3M74.0 664.3v1.3M76.1 664.3v1.3M77.8 664.3v1.3M79.2 664.3v1.3M80.4 664.3v1.3M81.5 664.3v1.3M82.5 664.3v2.4M88.9 664.3v1.3M92.6 664.3v1.3M95.3 664.3v1.3M97.4 664.3v1.3M99.0 664.3v1.3M100.5 664.3v1.3M101.7 664.3v1.3M102.8 664.3v1.3M103.8 664.3v2.4M110.1 664.3v1.3M113.9 664.3v1.3M116.5 664.3v1.3M118.6 664.3v1.3M120.3 664.3v1.3M121.7 664.3v1.3M122.9 664.3v1.3M124.0 664.3v1.3M125.0 664.3v2.4" stroke="#111" stroke-width="0.6"/>
<text x="39.4" y="677.3" font-size="7.2" text-anchor="middle" stroke="#1a1a1a">10<tspan dy="-2.8" font-size="5">1</tspan></text>
<text x="81.9" y="677.3" font-size="7.2" text-anchor="middle" stroke="#1a1a1a">10<tspan dy="-2.8" font-size="5">3</tspan></text>
<text x="124.4" y="677.3" font-size="7.2" text-anchor="middle" stroke="#1a1a1a">10<tspan dy="-2.8" font-size="5">5</tspan></text>
<text x="79.9" y="690.8" font-size="7.8" text-anchor="middle" stroke="#1a1a1a">Cd86</text>
<text transform="translate(10.8 615) rotate(-90)" font-size="8.4" text-anchor="middle" stroke="#1a1a1a">Count</text>
<rect x="163" y="564.5" width="98.4" height="99.8" fill="none" stroke="#111" stroke-width="1"/>
<text x="157.3" y="666.5" font-size="8" text-anchor="end" stroke="#1a1a1a">0</text>
<text x="157.3" y="628.0" font-size="8" text-anchor="end" stroke="#1a1a1a">20</text>
<text x="157.3" y="589.4" font-size="8" text-anchor="end" stroke="#1a1a1a">40</text>
<path d="M160.0 664.3h3M161.4 660.4h1.6M161.4 656.6h1.6M161.4 652.7h1.6M161.4 648.9h1.6M160.8 645.0h2.2M161.4 641.2h1.6M161.4 637.3h1.6M161.4 633.5h1.6M161.4 629.6h1.6M160.0 625.8h3M161.4 621.9h1.6M161.4 618.0h1.6M161.4 614.2h1.6M161.4 610.3h1.6M160.8 606.5h2.2M161.4 602.6h1.6M161.4 598.8h1.6M161.4 594.9h1.6M161.4 591.1h1.6M160.0 587.2h3M161.4 583.3h1.6M161.4 579.5h1.6M161.4 575.6h1.6M161.4 571.8h1.6M160.8 567.9h2.2M165.7 664.3v1.3M168.1 664.3v1.3M170.1 664.3v1.3M171.6 664.3v1.3M172.9 664.3v1.3M174.1 664.3v1.3M175.1 664.3v1.3M176.0 664.3v2.4M181.9 664.3v1.3M185.4 664.3v1.3M187.9 664.3v1.3M189.8 664.3v1.3M191.4 664.3v1.3M192.7 664.3v1.3M193.8 664.3v1.3M194.8 664.3v1.3M195.8 664.3v2.4M201.7 664.3v1.3M205.2 664.3v1.3M207.6 664.3v1.3M209.6 664.3v1.3M211.1 664.3v1.3M212.4 664.3v1.3M213.6 664.3v1.3M214.6 664.3v1.3M215.5 664.3v2.4M221.4 664.3v1.3M224.9 664.3v1.3M227.4 664.3v1.3M229.3 664.3v1.3M230.9 664.3v1.3M232.2 664.3v1.3M233.3 664.3v1.3M234.3 664.3v1.3M235.2 664.3v2.4M241.2 664.3v1.3M244.7 664.3v1.3M247.1 664.3v1.3M249.1 664.3v1.3M250.6 664.3v1.3M251.9 664.3v1.3M253.1 664.3v1.3M254.1 664.3v1.3M255.0 664.3v2.4M260.9 664.3v1.3" stroke="#111" stroke-width="0.6"/>
<text x="175.4" y="677.3" font-size="7.2" text-anchor="middle" stroke="#1a1a1a">10<tspan dy="-2.8" font-size="5">1</tspan></text>
<text x="214.4" y="677.3" font-size="7.2" text-anchor="middle" stroke="#1a1a1a">10<tspan dy="-2.8" font-size="5">3</tspan></text>
<text x="254.4" y="677.3" font-size="7.2" text-anchor="middle" stroke="#1a1a1a">10<tspan dy="-2.8" font-size="5">5</tspan></text>
<text x="212.2" y="690.8" font-size="7.8" text-anchor="middle" stroke="#1a1a1a">Cxcr4</text>
<text transform="translate(143 615) rotate(-90)" font-size="8.4" text-anchor="middle" stroke="#1a1a1a">Count</text>
<path d="M83.0 706.8l2.9 -5.6l2.9 5.6z" fill="#cf1f4a"/>
<text x="93.0" y="707" font-size="7.2" stroke="#1a1a1a">MxTR</text>
<path d="M122.0 706.8l2.9 -5.6l2.9 5.6z" fill="#2a5a90"/>
<text x="132.0" y="707" font-size="7.2" stroke="#1a1a1a">MxWT</text>
<path d="M164.6 706.8l2.9 -5.6l2.9 5.6z" fill="#4cb85a"/>
<text x="174.6" y="707" font-size="7.2" stroke="#1a1a1a">Isotype</text>
<text x="279.5" y="547.6" font-size="10.5" font-weight="bold" stroke="#1a1a1a">F</text>
<path d="M299 562.4C299.6 560 301.5 558 303.5 556.8C305 554.8 307 553.4 309.5 552.8C312.5 551.6 315.5 551.2 318.5 551.2C324.5 551.3 328.8 555 329.2 560.5C329.5 563.6 328.6 566 326.8 566.9L311 567.1C308 567.1 306 566.4 304.6 565.6L302.2 565.4C301.8 564.6 301 564.1 300.1 563.8C299.5 563.5 299.1 563 299 562.4Z" fill="#111"/>
<path d="M327.6 566.2C330.4 565 332 561.5 331.2 557.5C330.8 555.4 330.2 553.6 330.3 552" fill="none" stroke="#111" stroke-width="0.9"/>
<circle cx="308.4" cy="555.2" r="1.9" fill="#666" stroke="#c8c8c8" stroke-width="0.6"/>
<circle cx="303.2" cy="559.4" r="0.75" fill="#eee"/>
<circle cx="321.7" cy="560" r="3.9" fill="#e793a8"/>
<circle cx="321.7" cy="560" r="2.8" fill="#cf3d68"/>
<path d="M299 562.4C299.6 560 301.5 558 303.5 556.8C305 554.8 307 553.4 309.5 552.8C312.5 551.6 315.5 551.2 318.5 551.2C324.5 551.3 328.8 555 329.2 560.5C329.5 563.6 328.6 566 326.8 566.9L311 567.1C308 567.1 306 566.4 304.6 565.6L302.2 565.4C301.8 564.6 301 564.1 300.1 563.8C299.5 563.5 299.1 563 299 562.4Z" transform="translate(301.4 679) scale(1.1) translate(-299 -551)" fill="#e27585" stroke="#3a2a2a" stroke-width="0.65"/>
<path d="M331.8 695.8C334.6 694 336 690 335.2 686C334.8 683.6 334.2 681.6 334.3 680" fill="none" stroke="#3a2a2a" stroke-width="0.9"/>
<circle cx="311" cy="681.4" r="2" fill="#d99aa4" stroke="#3a2a2a" stroke-width="0.6"/>
<circle cx="305.2" cy="688" r="0.6" fill="#3a2a2a"/>
<path d="M302.6 692.6c1.2 0.4 2.4 0.4 3.6 0" fill="none" stroke="#3a2a2a" stroke-width="0.6"/>
<circle cx="321.8" cy="688.6" r="3.2" fill="#f1c27e" stroke="#d07848" stroke-width="0.5"/>
<circle cx="320.7" cy="689.5" r="0.95" fill="#fff4d6"/><circle cx="322.9" cy="689.5" r="0.95" fill="#fff4d6"/><circle cx="321.8" cy="687.5" r="0.95" fill="#fff4d6"/>
<text x="335" y="556.6" font-size="8.2" fill="#c8325a" textLength="21" lengthAdjust="spacingAndGlyphs" stroke="#c8325a">MxTR</text>
<text x="335" y="566.8" font-size="8.2" fill="#c8325a" textLength="22" lengthAdjust="spacingAndGlyphs" stroke="#c8325a">Tumor</text>
<path d="M310.8 572.8L302.2 583.6M315.6 572.8V583.4M320 572.8L328.6 583.6" stroke="#111" stroke-width="0.9"/>
<path d="M299.8 586.6l0.9 -4.6l2.9 2.3z M315.6 586.8l-1.9 -4.2h3.8z M331 586.6l-3.8 -2.3l2.9 -2.3z" fill="#111"/>
<text x="287.2" y="595.9" font-size="7.9" stroke="#1a1a1a">T<tspan dy="1.8" font-size="5.4">FH</tspan></text>
<text x="307.8" y="595.9" font-size="7.9" stroke="#1a1a1a">GCB</text>
<text x="331.6" y="595.9" font-size="7.9" stroke="#1a1a1a">Non-</text>
<text x="332.4" y="605.1" font-size="7.9" stroke="#1a1a1a">GCB</text>
<path d="M284.9 604.2V608.6H354.1V604.2M319.5 608.6V612.2" fill="none" stroke="#111" stroke-width="0.9"/>
<text x="285.6" y="621.5" font-size="7.9" stroke="#1a1a1a">(i) T<tspan dy="1.7" font-size="5.4">FH</tspan><tspan dy="-1.7"> + GCB</tspan></text>
<text x="285.6" y="630.6" font-size="7.9" stroke="#1a1a1a">(ii) T<tspan dy="1.7" font-size="5.4">FH</tspan><tspan dy="-1.7"> + non-GCB</tspan></text>
<text x="285.6" y="640.2" font-size="7.9" stroke="#1a1a1a">(iii) T<tspan dy="1.7" font-size="5.4">FH</tspan><tspan dy="-1.7"></tspan></text>
<text x="285.6" y="649.8" font-size="7.9" stroke="#1a1a1a">(iv) No. inj.</text>
<text x="285.6" y="659.2" font-size="7.9" stroke="#1a1a1a">(v) Whole cells</text>
<path d="M319.9 663.6V674" stroke="#111" stroke-width="0.9"/>
<path d="M319.9 677.6l-2 -4.2h4z" fill="#111"/>
<text x="323" y="671.4" font-size="7.6" stroke="#1a1a1a">i.p.</text>
<text x="320" y="706.4" font-size="8.6" text-anchor="middle" stroke="#1a1a1a">Nude</text>
<text x="375.3" y="548.8" font-size="10" font-weight="bold" stroke="#1a1a1a">G</text>
<rect x="413.4" y="622.0" width="13.6" height="41.8" fill="#ea8c9b"/>
<rect x="434.4" y="655.1" width="13.6" height="8.7" fill="#8fb0d4"/>
<rect x="455.0" y="650.1" width="13.6" height="13.6" fill="#a8dfa9"/>
<rect x="475.7" y="661.1" width="13.6" height="2.7" fill="#a78cc0"/>
<rect x="496.4" y="583.5" width="13.6" height="80.3" fill="#f9c98a"/>
<path d="M420.2 626.7V616.6M417.2 616.6h6M417.2 626.7h6" stroke="#333" stroke-width="0.9" fill="none"/>
<circle cx="417.6" cy="616.8" r="1.8" fill="#c8163f"/>
<circle cx="422.8" cy="616.8" r="1.8" fill="#c8163f"/>
<circle cx="417.6" cy="626.1" r="1.8" fill="#c8163f"/>
<circle cx="422.8" cy="626.1" r="1.8" fill="#c8163f"/>
<path d="M441.2 663.8V644.7M438.2 644.7h6M438.2 663.8h6" stroke="#333" stroke-width="0.9" fill="none"/>
<circle cx="441.2" cy="639.8" r="1.8" fill="#1f5281"/>
<circle cx="438.4" cy="657.2" r="1.8" fill="#1f5281"/>
<circle cx="444.0" cy="657.2" r="1.8" fill="#1f5281"/>
<circle cx="441.2" cy="659.4" r="1.8" fill="#1f5281"/>
<path d="M461.8 658.3V642.2M458.8 642.2h6M458.8 658.3h6" stroke="#333" stroke-width="0.9" fill="none"/>
<circle cx="461.8" cy="638.7" r="1.8" fill="#2ea046"/>
<circle cx="459.0" cy="652.9" r="1.8" fill="#2ea046"/>
<circle cx="464.6" cy="652.9" r="1.8" fill="#2ea046"/>
<circle cx="479.5" cy="660.5" r="1.8" fill="#5b2d82"/>
<circle cx="482.5" cy="660.0" r="1.8" fill="#5b2d82"/>
<circle cx="485.5" cy="660.5" r="1.8" fill="#5b2d82"/>
<path d="M503.2 591.2V575.3M500.2 575.3h6M500.2 591.2h6" stroke="#333" stroke-width="0.9" fill="none"/>
<circle cx="503.2" cy="578.1" r="1.8" fill="#e8902a"/>
<circle cx="500.8" cy="585.2" r="1.8" fill="#e8902a"/>
<circle cx="505.6" cy="588.5" r="1.8" fill="#e8902a"/>
<path d="M406.5 550V663.8H513.5" stroke="#111" stroke-width="1" fill="none"/>
<text x="400.8" y="666.5" font-size="7.6" text-anchor="end" stroke="#1a1a1a">0.0</text>
<text x="400.8" y="639.2" font-size="7.6" text-anchor="end" stroke="#1a1a1a">0.5</text>
<text x="400.8" y="611.9" font-size="7.6" text-anchor="end" stroke="#1a1a1a">1.0</text>
<text x="400.8" y="584.6" font-size="7.6" text-anchor="end" stroke="#1a1a1a">1.5</text>
<text x="400.8" y="557.3" font-size="7.6" text-anchor="end" stroke="#1a1a1a">2.0</text>
<path d="M403.4 663.8h3.1M403.4 636.5h3.1M403.4 609.2h3.1M403.4 581.9h3.1M403.4 554.6h3.1M420.2 663.8v2.4M441.2 663.8v2.4M461.8 663.8v2.4M482.5 663.8v2.4M503.2 663.8v2.4" stroke="#111" stroke-width="0.9"/>
<text x="420.2" y="676.3" font-size="7.5" text-anchor="middle" stroke="#1a1a1a">(i)</text>
<text x="441.2" y="676.3" font-size="7.5" text-anchor="middle" stroke="#1a1a1a">(ii)</text>
<text x="461.8" y="676.3" font-size="7.5" text-anchor="middle" stroke="#1a1a1a">(iii)</text>
<text x="482.5" y="676.3" font-size="7.5" text-anchor="middle" stroke="#1a1a1a">(iv)</text>
<text x="503.2" y="676.3" font-size="7.5" text-anchor="middle" stroke="#1a1a1a">(v)</text>
<path d="M416.2 549.8H458.8M416.2 562.5H433.5M441.2 562.5H458" stroke="#333" stroke-width="0.9"/>
<text x="437.8" y="549" font-size="7.8" text-anchor="middle" stroke="#1a1a1a">***</text>
<text x="425.5" y="561.8" font-size="7.8" text-anchor="middle" stroke="#1a1a1a">***</text>
<text x="448.8" y="560.8" font-size="7.4" text-anchor="middle" stroke="#1a1a1a">n.s.</text>
<text transform="translate(384.6 608.4) rotate(-90)" font-size="7.8" text-anchor="middle" stroke="#1a1a1a">H2kb<tspan dy="-2.6" font-size="5.2">+</tspan><tspan dy="2.6">/7-AAD</tspan><tspan dy="-2.6" font-size="5.2">−</tspan></text>
<text x="397" y="691.2" font-size="7.5" stroke="#1a1a1a">(i) T<tspan dy="1.6" font-size="5.1">FH</tspan><tspan dy="-1.6"> + GCB</tspan></text>
<text x="397" y="699.6" font-size="7.5" stroke="#1a1a1a">(ii) T<tspan dy="1.6" font-size="5.1">FH</tspan><tspan dy="-1.6"> + non-GCB</tspan></text>
<text x="397" y="708" font-size="7.5" stroke="#1a1a1a">(iii) T<tspan dy="1.6" font-size="5.1">FH</tspan><tspan dy="-1.6"></tspan></text>
<text x="468" y="691.2" font-size="7.5" stroke="#1a1a1a">(iv) No. inj.</text>
<text x="468" y="699.6" font-size="7.5" stroke="#1a1a1a">(v) Whole cells</text>
</svg></body></html>
